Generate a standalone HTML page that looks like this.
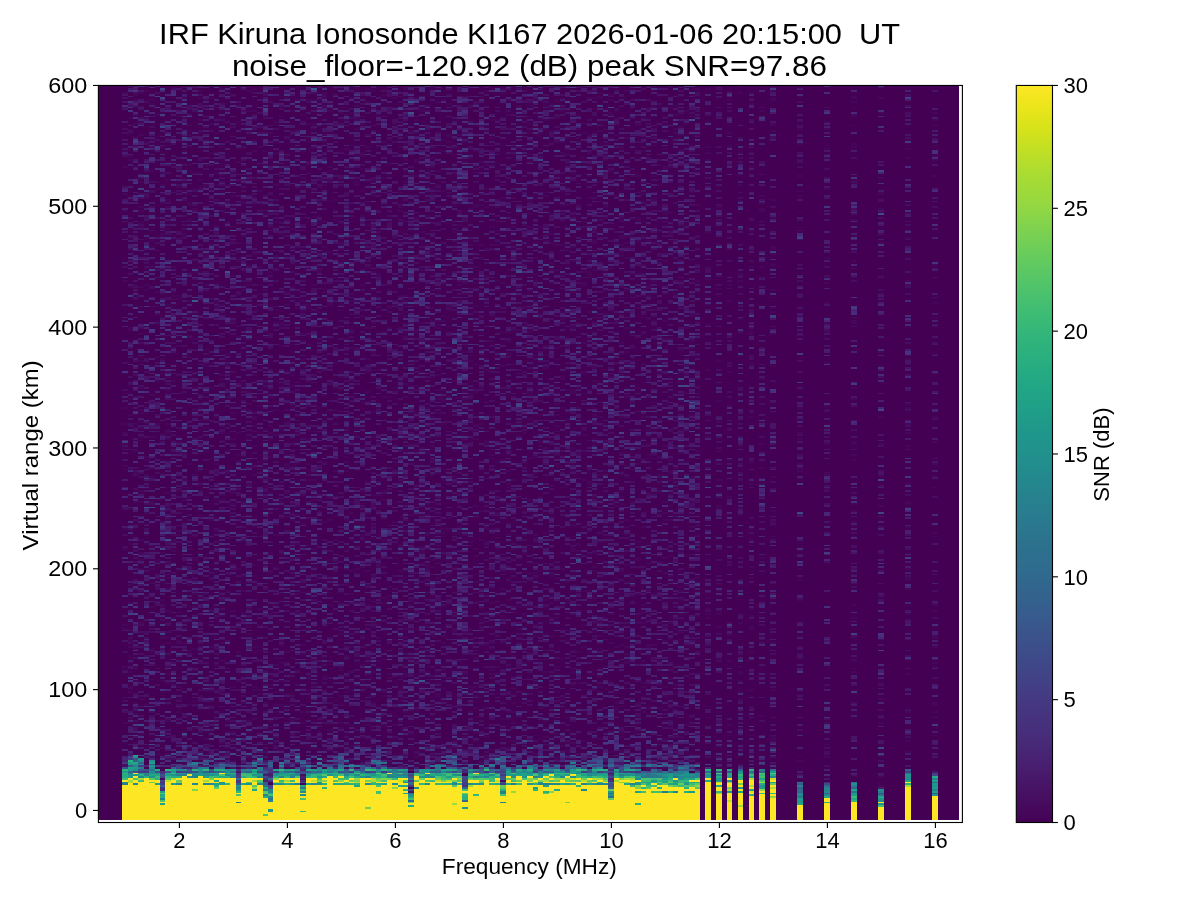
<!DOCTYPE html><html><head><meta charset="utf-8"><style>html,body{margin:0;padding:0;background:#fff;}svg{display:block;will-change:transform;}text{font-family:"Liberation Sans",sans-serif;fill:#000;}</style></head><body><svg width="1200" height="900" viewBox="0 0 1200 900"><defs><linearGradient id="cb" x1="0" y1="1" x2="0" y2="0"><stop offset="0" stop-color="#440154"/><stop offset="0.03" stop-color="#470d60"/><stop offset="0.06" stop-color="#48186a"/><stop offset="0.09" stop-color="#482374"/><stop offset="0.12" stop-color="#472d7b"/><stop offset="0.16" stop-color="#453781"/><stop offset="0.19" stop-color="#424086"/><stop offset="0.22" stop-color="#3e4989"/><stop offset="0.25" stop-color="#3b528b"/><stop offset="0.28" stop-color="#375b8d"/><stop offset="0.31" stop-color="#33638d"/><stop offset="0.34" stop-color="#2f6b8e"/><stop offset="0.38" stop-color="#2c728e"/><stop offset="0.41" stop-color="#297a8e"/><stop offset="0.44" stop-color="#26828e"/><stop offset="0.47" stop-color="#23898e"/><stop offset="0.5" stop-color="#21918c"/><stop offset="0.53" stop-color="#1f978b"/><stop offset="0.56" stop-color="#1f9f88"/><stop offset="0.59" stop-color="#21a685"/><stop offset="0.62" stop-color="#27ad81"/><stop offset="0.66" stop-color="#31b57b"/><stop offset="0.69" stop-color="#3dbc74"/><stop offset="0.72" stop-color="#4cc26c"/><stop offset="0.75" stop-color="#5cc863"/><stop offset="0.78" stop-color="#6ece58"/><stop offset="0.81" stop-color="#81d34d"/><stop offset="0.84" stop-color="#95d840"/><stop offset="0.88" stop-color="#aadc32"/><stop offset="0.91" stop-color="#c0df25"/><stop offset="0.94" stop-color="#d5e21a"/><stop offset="0.97" stop-color="#eae51a"/><stop offset="1" stop-color="#fde725"/></linearGradient></defs><defs><clipPath id="axc"><rect x="98.4" y="85.46" width="864" height="734.54"/></clipPath></defs><g clip-path="url(#axc)" shape-rendering="crispEdges"><rect x="97.4" y="85.46" width="861.8" height="734.34" fill="#440154"/><g transform="translate(100.6 84.82) scale(5.4 1.81)"><path fill="#46075a" d="M4 4h1v1h-1zm0 32h1v1h-1zm0 9h1v1h-1zm0 15h1v1h-1zm0 9h1v1h-1zm0 39h1v1h-1zm0 51h1v1h-1zm0 11h1v1h-1zm0 8h1v1h-1zm0 9h1v1h-1zm0 5h1v1h-1zm0 18h1v1h-1zm0 2h1v1h-1zm0 33h1v1h-1zm0 11h1v1h-1zm0 42h1v1h-1zm0 2h1v1h-1zm0 21h1v1h-1zm0 2h1v1h-1zm0 29h1v1h-1zm1 -334h1v1h-1zm0 8h1v1h-1zm0 13h1v1h-1zm0 2h1v1h-1zm0 22h1v1h-1zm0 21h1v1h-1zm0 27h1v1h-1zm0 23h1v2h-1zm0 39h1v1h-1zm0 2h1v1h-1zm0 7h1v1h-1zm0 52h1v1h-1zm0 19h1v1h-1zm0 23h1v1h-1zm0 10h1v1h-1zm0 20h1v2h-1zm0 4h1v1h-1zm0 5h1v1h-1zm0 4h1v1h-1zm0 5h1v1h-1zm0 8h1v1h-1zm0 3h1v1h-1zm0 15h1v1h-1zm1 -345h1v1h-1zm0 3h1v1h-1zm0 13h1v1h-1zm0 57h1v1h-1zm0 32h1v1h-1zm0 4h1v1h-1zm0 73h1v1h-1zm0 15h1v1h-1zm0 12h1v1h-1zm0 14h1v1h-1zm0 2h1v1h-1zm0 26h1v1h-1zm0 55h1v1h-1zm0 10h1v1h-1zm0 8h1v1h-1zm0 12h1v1h-1zm0 6h1v1h-1zm0 16h1v1h-1zm1 -359h1v1h-1zm0 7h1v1h-1zm0 9h1v1h-1zm0 7h1v1h-1zm0 26h1v1h-1zm0 14h1v1h-1zm0 2h1v1h-1zm0 7h1v1h-1zm0 2h1v1h-1zm0 33h1v1h-1zm0 26h1v1h-1zm0 15h1v1h-1zm0 15h1v1h-1zm0 12h1v1h-1zm0 2h1v1h-1zm0 4h1v2h-1zm0 4h1v1h-1zm0 5h1v1h-1zm0 2h1v1h-1zm0 28h1v1h-1zm0 6h1v1h-1zm0 21h1v1h-1zm0 7h1v1h-1zm0 4h1v1h-1zm0 5h1v1h-1zm0 3h1v1h-1zm0 27h1v1h-1zm0 42h1v1h-1zm0 15h1v1h-1zm0 4h1v2h-1zm1 -355h1v1h-1zm0 12h1v1h-1zm0 3h1v1h-1zm0 13h1v1h-1zm0 12h1v1h-1zm0 6h1v1h-1zm0 13h1v1h-1zm0 35h1v1h-1zm0 13h1v1h-1zm0 3h1v1h-1zm0 92h1v1h-1zm0 2h1v1h-1zm0 8h1v1h-1zm0 6h1v1h-1zm0 15h1v1h-1zm0 6h1v1h-1zm0 6h1v1h-1zm0 5h1v1h-1zm0 6h1v1h-1zm0 23h1v1h-1zm0 54h1v1h-1zm0 6h1v1h-1zm0 28h1v1h-1zm0 3h1v1h-1zm1 -365h1v1h-1zm0 2h1v1h-1zm0 15h1v1h-1zm0 5h1v1h-1zm0 17h1v1h-1zm0 39h1v1h-1zm0 3h1v1h-1zm0 11h1v1h-1zm0 55h1v1h-1zm0 16h1v1h-1zm0 4h1v1h-1zm0 10h1v1h-1zm0 9h1v1h-1zm0 7h1v1h-1zm0 15h1v1h-1zm0 14h1v1h-1zm0 24h1v1h-1zm0 13h1v1h-1zm0 21h1v1h-1zm0 23h1v1h-1zm0 2h1v1h-1zm0 15h1v1h-1zm0 37h1v1h-1zm1 -349h1v1h-1zm0 12h1v1h-1zm0 25h1v1h-1zm0 4h1v1h-1zm0 57h1v1h-1zm0 8h1v1h-1zm0 28h1v1h-1zm0 13h1v1h-1zm0 24h1v1h-1zm0 75h1v2h-1zm0 71h1v1h-1zm0 7h1v1h-1zm0 29h1v1h-1zm0 3h1v1h-1zm1 -338h1v1h-1zm0 14h1v1h-1zm0 7h1v1h-1zm0 5h1v1h-1zm0 5h1v1h-1zm0 14h1v1h-1zm0 3h1v2h-1zm0 5h1v1h-1zm0 15h1v1h-1zm0 13h1v1h-1zm0 13h1v1h-1zm0 23h1v1h-1zm0 8h1v1h-1zm0 79h1v1h-1zm0 20h1v1h-1zm0 6h1v1h-1zm0 8h1v1h-1zm0 12h1v1h-1zm0 4h1v1h-1zm0 17h1v1h-1zm0 4h1v1h-1zm0 20h1v1h-1zm0 31h1v1h-1zm0 6h1v1h-1zm0 17h1v1h-1zm1 -354h1v1h-1zm0 4h1v1h-1zm0 19h1v1h-1zm0 11h1v1h-1zm0 4h1v1h-1zm0 12h1v1h-1zm0 42h1v1h-1zm0 37h1v1h-1zm0 3h1v1h-1zm0 7h1v1h-1zm0 19h1v1h-1zm0 3h1v1h-1zm0 2h1v1h-1zm0 3h1v1h-1zm0 6h1v1h-1zm0 21h1v1h-1zm0 3h1v1h-1zm0 10h1v1h-1zm0 5h1v1h-1zm0 32h1v1h-1zm0 18h1v1h-1zm0 15h1v1h-1zm0 3h1v1h-1zm0 10h1v1h-1zm0 3h1v1h-1zm0 4h1v1h-1zm0 5h1v1h-1zm0 21h1v1h-1zm0 6h1v1h-1zm0 12h1v1h-1zm1 -368h1v1h-1zm0 28h1v1h-1zm0 25h1v1h-1zm0 46h1v1h-1zm0 14h1v1h-1zm0 2h1v1h-1zm0 2h1v1h-1zm0 4h1v1h-1zm0 13h1v1h-1zm0 3h1v1h-1zm0 25h1v1h-1zm0 85h1v1h-1zm0 3h1v2h-1zm0 6h1v1h-1zm0 37h1v1h-1zm1 -282h1v1h-1zm0 5h1v1h-1zm0 39h1v1h-1zm0 28h1v1h-1zm0 32h1v1h-1zm0 2h1v1h-1zm0 26h1v1h-1zm0 15h1v1h-1zm0 38h1v1h-1zm0 6h1v1h-1zm0 21h1v1h-1zm0 22h1v1h-1zm0 2h1v1h-1zm0 43h1v1h-1zm0 16h1v2h-1zm0 15h1v1h-1zm0 5h1v1h-1zm0 5h1v1h-1zm0 7h1v1h-1zm0 5h1v1h-1zm0 2h1v1h-1zm1 -339h1v1h-1zm0 11h1v1h-1zm0 10h1v1h-1zm0 8h1v1h-1zm0 22h1v1h-1zm0 2h1v1h-1zm0 22h1v2h-1zm0 47h1v1h-1zm0 9h1v1h-1zm0 17h1v1h-1zm0 9h1v1h-1zm0 14h1v1h-1zm0 2h1v1h-1zm0 21h1v1h-1zm0 2h1v1h-1zm0 15h1v1h-1zm0 4h1v1h-1zm0 7h1v1h-1zm0 10h1v1h-1zm0 35h1v1h-1zm0 34h1v1h-1zm0 25h1v1h-1zm0 5h1v1h-1zm1 -313h1v1h-1zm0 2h1v1h-1zm0 7h1v1h-1zm0 10h1v1h-1zm0 16h1v1h-1zm0 5h1v2h-1zm0 9h1v1h-1zm0 17h1v1h-1zm0 28h1v1h-1zm0 7h1v1h-1zm0 12h1v1h-1zm0 12h1v1h-1zm0 4h1v1h-1zm0 22h1v1h-1zm0 9h1v1h-1zm0 24h1v1h-1zm0 13h1v1h-1zm0 5h1v1h-1zm0 29h1v1h-1zm0 20h1v1h-1zm0 18h1v1h-1zm0 7h1v1h-1zm0 20h1v1h-1zm0 6h1v1h-1zm0 15h1v1h-1zm0 6h1v1h-1zm0 2h1v1h-1zm0 16h1v1h-1zm1 -318h1v1h-1zm0 9h1v1h-1zm0 11h1v1h-1zm0 29h1v1h-1zm0 6h1v1h-1zm0 37h1v1h-1zm0 18h1v1h-1zm0 9h1v1h-1zm0 12h1v1h-1zm0 23h1v1h-1zm0 13h1v1h-1zm0 34h1v1h-1zm0 12h1v2h-1zm0 12h1v1h-1zm0 8h1v1h-1zm0 7h1v1h-1zm0 8h1v1h-1zm0 15h1v1h-1zm0 5h1v1h-1zm0 24h1v1h-1zm0 3h1v1h-1zm0 6h1v1h-1zm0 6h1v1h-1zm1 -352h1v1h-1zm0 4h1v1h-1zm0 12h1v1h-1zm0 7h1v1h-1zm0 22h1v1h-1zm0 4h1v1h-1zm0 4h1v2h-1zm0 22h1v1h-1zm0 7h1v1h-1zm0 15h1v2h-1zm0 3h1v1h-1zm0 34h1v1h-1zm0 22h1v1h-1zm0 3h1v1h-1zm0 11h1v1h-1zm0 5h1v1h-1zm0 12h1v1h-1zm0 43h1v1h-1zm0 4h1v1h-1zm0 31h1v1h-1zm0 37h1v1h-1zm0 32h1v1h-1zm0 38h1v1h-1zm1 -367h1v1h-1zm0 22h1v1h-1zm0 14h1v1h-1zm0 11h1v2h-1zm0 14h1v1h-1zm0 24h1v2h-1zm0 8h1v1h-1zm0 9h1v1h-1zm0 19h1v1h-1zm0 17h1v1h-1zm0 9h1v1h-1zm0 34h1v1h-1zm0 12h1v2h-1zm0 11h1v1h-1zm0 15h1v1h-1zm0 35h1v1h-1zm0 2h1v1h-1zm0 17h1v1h-1zm0 47h1v1h-1zm0 33h1v1h-1zm0 10h1v1h-1zm1 -371h1v1h-1zm0 7h1v1h-1zm0 14h1v1h-1zm0 16h1v1h-1zm0 3h1v1h-1zm0 72h1v1h-1zm0 41h1v1h-1zm0 14h1v1h-1zm0 13h1v1h-1zm0 6h1v1h-1zm0 20h1v1h-1zm0 32h1v1h-1zm0 2h1v1h-1zm0 27h1v1h-1zm0 6h1v1h-1zm0 37h1v1h-1zm0 22h1v1h-1zm0 6h1v1h-1zm0 37h1v1h-1zm1 -349h1v1h-1zm0 22h1v1h-1zm0 7h1v1h-1zm0 34h1v3h-1zm0 5h1v1h-1zm0 25h1v2h-1zm0 9h1v1h-1zm0 55h1v1h-1zm0 26h1v1h-1zm0 20h1v1h-1zm0 17h1v1h-1zm0 48h1v1h-1zm0 26h1v1h-1zm0 14h1v1h-1zm0 16h1v1h-1zm0 23h1v1h-1zm1 -371h1v1h-1zm0 32h1v1h-1zm0 4h1v1h-1zm0 5h1v1h-1zm0 30h1v1h-1zm0 26h1v1h-1zm0 22h1v1h-1zm0 17h1v1h-1zm0 8h1v1h-1zm0 14h1v1h-1zm0 2h1v1h-1zm0 18h1v1h-1zm0 12h1v1h-1zm0 4h1v1h-1zm0 17h1v1h-1zm0 13h1v1h-1zm0 3h1v1h-1zm0 11h1v1h-1zm0 40h1v1h-1zm0 13h1v1h-1zm0 15h1v1h-1zm0 9h1v2h-1zm0 18h1v1h-1zm0 28h1v1h-1zm0 6h1v2h-1zm1 -355h1v1h-1zm0 41h1v1h-1zm0 93h1v1h-1zm0 13h1v1h-1zm0 3h1v1h-1zm0 38h1v1h-1zm0 10h1v1h-1zm0 2h1v1h-1zm0 3h1v1h-1zm0 62h1v1h-1zm0 70h1v1h-1zm0 2h1v1h-1zm0 6h1v1h-1zm0 9h1v1h-1zm0 6h1v1h-1zm1 -366h1v1h-1zm0 24h1v1h-1zm0 18h1v1h-1zm0 13h1v1h-1zm0 25h1v1h-1zm0 19h1v1h-1zm0 5h1v1h-1zm0 20h1v1h-1zm0 24h1v1h-1zm0 27h1v1h-1zm0 14h1v1h-1zm0 27h1v1h-1zm0 2h1v2h-1zm0 7h1v1h-1zm0 39h1v1h-1zm0 20h1v1h-1zm0 42h1v1h-1zm0 25h1v1h-1zm0 16h1v1h-1zm1 -353h1v1h-1zm0 22h1v1h-1zm0 23h1v1h-1zm0 22h1v1h-1zm0 4h1v1h-1zm0 6h1v1h-1zm0 25h1v1h-1zm0 17h1v1h-1zm0 53h1v1h-1zm0 12h1v1h-1zm0 48h1v1h-1zm0 15h1v1h-1zm0 8h1v1h-1zm0 38h1v1h-1zm0 33h1v1h-1zm0 22h1v1h-1zm1 -303h1v1h-1zm0 18h1v1h-1zm0 30h1v1h-1zm0 26h1v1h-1zm0 15h1v1h-1zm0 11h1v1h-1zm0 11h1v1h-1zm0 54h1v1h-1zm0 41h1v1h-1zm0 8h1v1h-1zm0 12h1v2h-1zm0 5h1v1h-1zm0 5h1v1h-1zm0 40h1v1h-1zm0 11h1v1h-1zm0 7h1v1h-1zm1 -358h1v1h-1zm0 2h1v1h-1zm0 9h1v1h-1zm0 2h1v1h-1zm0 11h1v1h-1zm0 27h1v1h-1zm0 30h1v1h-1zm0 28h1v1h-1zm0 19h1v1h-1zm0 28h1v1h-1zm0 12h1v1h-1zm0 7h1v1h-1zm0 3h1v1h-1zm0 16h1v1h-1zm0 25h1v1h-1zm0 11h1v1h-1zm0 6h1v1h-1zm0 49h1v1h-1zm0 3h1v1h-1zm0 10h1v1h-1zm0 4h1v1h-1zm0 40h1v1h-1zm0 8h1v1h-1zm0 8h1v1h-1zm0 12h1v1h-1zm1 -369h1v1h-1zm0 12h1v1h-1zm0 5h1v1h-1zm0 17h1v1h-1zm0 57h1v1h-1zm0 8h1v1h-1zm0 53h1v1h-1zm0 6h1v1h-1zm0 23h1v2h-1zm0 5h1v1h-1zm0 11h1v1h-1zm0 16h1v1h-1zm0 50h1v1h-1zm0 6h1v1h-1zm0 30h1v1h-1zm0 9h1v1h-1zm0 3h1v1h-1zm0 19h1v1h-1zm0 2h1v1h-1zm0 7h1v1h-1zm0 8h1v2h-1zm1 -315h1v1h-1zm0 24h1v1h-1zm0 17h1v1h-1zm0 25h1v1h-1zm0 10h1v1h-1zm0 5h1v1h-1zm0 62h1v1h-1zm0 31h1v1h-1zm0 81h1v1h-1zm0 9h1v1h-1zm0 12h1v1h-1zm0 2h1v1h-1zm0 22h1v1h-1zm0 2h1v1h-1zm1 -300h1v1h-1zm0 5h1v1h-1zm0 3h1v1h-1zm0 25h1v1h-1zm0 2h1v1h-1zm0 42h1v1h-1zm0 23h1v1h-1zm0 3h1v1h-1zm0 5h1v1h-1zm0 20h1v1h-1zm0 6h1v1h-1zm0 20h1v1h-1zm0 21h1v1h-1zm0 3h1v1h-1zm0 7h1v1h-1zm0 6h1v1h-1zm0 5h1v1h-1zm0 19h1v1h-1zm0 11h1v1h-1zm0 3h1v1h-1zm0 72h1v1h-1zm0 4h1v1h-1zm1 -315h1v1h-1zm0 52h1v1h-1zm0 25h1v1h-1zm0 62h1v1h-1zm0 7h1v1h-1zm0 16h1v1h-1zm0 4h1v1h-1zm0 3h1v1h-1zm0 7h1v1h-1zm0 3h1v1h-1zm0 20h1v1h-1zm0 20h1v2h-1zm0 13h1v1h-1zm0 10h1v2h-1zm0 24h1v1h-1zm0 30h1v1h-1zm0 9h1v1h-1zm0 20h1v1h-1zm0 5h1v1h-1zm1 -354h1v1h-1zm0 18h1v1h-1zm0 2h1v1h-1zm0 9h1v1h-1zm0 6h1v1h-1zm0 6h1v1h-1zm0 12h1v1h-1zm0 39h1v1h-1zm0 30h1v1h-1zm0 7h1v1h-1zm0 32h1v1h-1zm0 12h1v1h-1zm0 4h1v1h-1zm0 14h1v1h-1zm0 55h1v1h-1zm0 18h1v1h-1zm0 14h1v1h-1zm0 36h1v1h-1zm0 4h1v1h-1zm0 3h1v1h-1zm0 12h1v1h-1zm0 7h1v1h-1zm0 4h1v1h-1zm0 17h1v1h-1zm0 4h1v1h-1zm1 -361h1v1h-1zm0 11h1v1h-1zm0 65h1v1h-1zm0 31h1v1h-1zm0 18h1v2h-1zm0 13h1v1h-1zm0 22h1v1h-1zm0 2h1v1h-1zm0 2h1v1h-1zm0 19h1v2h-1zm0 28h1v1h-1zm0 13h1v1h-1zm0 9h1v1h-1zm0 9h1v1h-1zm0 29h1v1h-1zm0 14h1v1h-1zm0 16h1v1h-1zm0 2h1v1h-1zm0 7h1v1h-1zm0 3h1v1h-1zm0 10h1v1h-1zm0 4h1v1h-1zm0 2h1v1h-1zm0 4h1v1h-1zm0 3h1v2h-1zm0 25h1v1h-1zm1 -360h1v1h-1zm0 32h1v1h-1zm0 15h1v1h-1zm0 20h1v1h-1zm0 40h1v1h-1zm0 7h1v1h-1zm0 43h1v1h-1zm0 15h1v1h-1zm0 7h1v1h-1zm0 18h1v1h-1zm0 5h1v3h-1zm0 16h1v1h-1zm0 10h1v1h-1zm0 38h1v1h-1zm0 40h1v1h-1zm0 23h1v1h-1zm0 14h1v1h-1zm1 -336h1v1h-1zm0 11h1v1h-1zm0 2h1v1h-1zm0 36h1v1h-1zm0 16h1v1h-1zm0 11h1v1h-1zm0 21h1v1h-1zm0 20h1v1h-1zm0 8h1v1h-1zm0 4h1v1h-1zm0 4h1v1h-1zm0 11h1v1h-1zm0 2h1v1h-1zm0 6h1v1h-1zm0 12h1v1h-1zm0 23h1v1h-1zm0 30h1v1h-1zm0 5h1v1h-1zm0 4h1v1h-1zm0 13h1v1h-1zm0 2h1v1h-1zm0 27h1v1h-1zm0 34h1v1h-1zm0 34h1v2h-1zm0 9h1v1h-1zm1 -351h1v1h-1zm0 46h1v1h-1zm0 35h1v1h-1zm0 34h1v1h-1zm0 19h1v1h-1zm0 45h1v1h-1zm0 5h1v1h-1zm0 9h1v1h-1zm0 36h1v1h-1zm0 16h1v1h-1zm0 23h1v1h-1zm0 5h1v1h-1zm0 42h1v1h-1zm0 31h1v1h-1zm0 21h1v1h-1zm1 -364h1v1h-1zm0 5h1v1h-1zm0 20h1v1h-1zm0 15h1v1h-1zm0 22h1v1h-1zm0 19h1v1h-1zm0 12h1v1h-1zm0 8h1v1h-1zm0 7h1v1h-1zm0 2h1v1h-1zm0 16h1v1h-1zm0 4h1v1h-1zm0 10h1v1h-1zm0 75h1v1h-1zm0 16h1v1h-1zm0 13h1v1h-1zm0 54h1v1h-1zm0 5h1v1h-1zm0 14h1v1h-1zm0 5h1v1h-1zm0 13h1v1h-1zm0 6h1v1h-1zm0 10h1v1h-1zm0 2h1v1h-1zm1 -356h1v1h-1zm0 10h1v1h-1zm0 3h1v1h-1zm0 10h1v1h-1zm0 4h1v1h-1zm0 9h1v1h-1zm0 4h1v2h-1zm0 27h1v1h-1zm0 13h1v1h-1zm0 9h1v1h-1zm0 24h1v1h-1zm0 2h1v1h-1zm0 20h1v1h-1zm0 15h1v1h-1zm0 19h1v1h-1zm0 13h1v1h-1zm0 5h1v1h-1zm0 14h1v1h-1zm0 3h1v1h-1zm0 6h1v1h-1zm0 36h1v1h-1zm0 63h1v1h-1zm0 17h1v1h-1zm0 4h1v1h-1zm1 -330h1v1h-1zm0 13h1v1h-1zm0 3h1v1h-1zm0 34h1v1h-1zm0 37h1v2h-1zm0 15h1v1h-1zm0 44h1v1h-1zm0 7h1v1h-1zm0 9h1v1h-1zm0 21h1v1h-1zm0 27h1v1h-1zm0 11h1v1h-1zm0 27h1v1h-1zm0 10h1v1h-1zm0 7h1v1h-1zm0 21h1v1h-1zm0 2h1v1h-1zm0 6h1v1h-1zm0 15h1v1h-1zm0 49h1v1h-1zm1 -366h1v1h-1zm0 8h1v1h-1zm0 25h1v1h-1zm0 18h1v1h-1zm0 5h1v1h-1zm0 20h1v1h-1zm0 26h1v2h-1zm0 23h1v1h-1zm0 28h1v1h-1zm0 22h1v1h-1zm0 3h1v1h-1zm0 57h1v1h-1zm0 14h1v1h-1zm0 38h1v1h-1zm0 18h1v1h-1zm0 33h1v1h-1zm0 11h1v1h-1zm0 8h1v1h-1zm0 16h1v1h-1zm1 -372h1v1h-1zm0 3h1v2h-1zm0 3h1v1h-1zm0 8h1v1h-1zm0 12h1v1h-1zm0 4h1v1h-1zm0 21h1v1h-1zm0 3h1v1h-1zm0 6h1v1h-1zm0 28h1v1h-1zm0 3h1v1h-1zm0 20h1v1h-1zm0 2h1v1h-1zm0 11h1v1h-1zm0 46h1v1h-1zm0 9h1v1h-1zm0 14h1v1h-1zm0 6h1v1h-1zm0 8h1v1h-1zm0 33h1v1h-1zm0 25h1v1h-1zm0 9h1v1h-1zm0 51h1v2h-1zm0 8h1v1h-1zm0 16h1v1h-1zm0 17h1v1h-1zm1 -367h1v1h-1zm0 10h1v1h-1zm0 4h1v1h-1zm0 21h1v1h-1zm0 10h1v1h-1zm0 2h1v1h-1zm0 5h1v1h-1zm0 12h1v1h-1zm0 28h1v1h-1zm0 28h1v3h-1zm0 44h1v1h-1zm0 76h1v1h-1zm0 22h1v1h-1zm0 18h1v1h-1zm0 7h1v1h-1zm0 69h1v1h-1zm0 18h1v1h-1zm1 -372h1v1h-1zm0 61h1v1h-1zm0 11h1v1h-1zm0 32h1v1h-1zm0 22h1v1h-1zm0 25h1v1h-1zm0 14h1v1h-1zm0 12h1v1h-1zm0 34h1v1h-1zm0 18h1v1h-1zm0 3h1v1h-1zm0 4h1v1h-1zm0 13h1v1h-1zm0 12h1v1h-1zm0 28h1v1h-1zm0 49h1v1h-1zm0 3h1v1h-1zm0 3h1v1h-1zm0 20h1v1h-1zm1 -354h1v1h-1zm0 3h1v1h-1zm0 61h1v1h-1zm0 6h1v1h-1zm0 5h1v2h-1zm0 3h1v1h-1zm0 3h1v1h-1zm0 3h1v1h-1zm0 25h1v1h-1zm0 3h1v1h-1zm0 34h1v1h-1zm0 3h1v1h-1zm0 109h1v1h-1zm0 10h1v1h-1zm0 6h1v1h-1zm0 17h1v1h-1zm0 18h1v1h-1zm0 2h1v1h-1zm0 14h1v1h-1zm0 5h1v1h-1zm0 10h1v1h-1zm0 3h1v1h-1zm1 -343h1v1h-1zm0 4h1v1h-1zm0 3h1v1h-1zm0 16h1v1h-1zm0 24h1v1h-1zm0 63h1v1h-1zm0 11h1v1h-1zm0 7h1v1h-1zm0 24h1v1h-1zm0 28h1v1h-1zm0 9h1v1h-1zm0 4h1v1h-1zm0 3h1v1h-1zm0 5h1v1h-1zm0 15h1v1h-1zm0 12h1v1h-1zm0 36h1v1h-1zm0 19h1v1h-1zm0 8h1v1h-1zm0 12h1v1h-1zm0 2h1v1h-1zm0 18h1v1h-1zm1 -335h1v1h-1zm0 7h1v1h-1zm0 8h1v1h-1zm0 18h1v1h-1zm0 42h1v1h-1zm0 40h1v1h-1zm0 4h1v1h-1zm0 2h1v1h-1zm0 5h1v1h-1zm0 5h1v1h-1zm0 2h1v1h-1zm0 2h1v1h-1zm0 10h1v1h-1zm0 18h1v1h-1zm0 3h1v1h-1zm0 9h1v1h-1zm0 22h1v1h-1zm0 33h1v1h-1zm0 6h1v1h-1zm0 15h1v1h-1zm0 17h1v1h-1zm0 13h1v1h-1zm0 29h1v1h-1zm0 24h1v1h-1zm0 3h1v1h-1zm0 16h1v1h-1zm0 12h1v1h-1zm0 8h1v1h-1zm1 -367h1v1h-1zm0 5h1v1h-1zm0 7h1v2h-1zm0 6h1v1h-1zm0 15h1v1h-1zm0 14h1v1h-1zm0 2h1v1h-1zm0 64h1v1h-1zm0 26h1v1h-1zm0 104h1v1h-1zm0 18h1v1h-1zm0 2h1v1h-1zm0 24h1v1h-1zm0 20h1v1h-1zm0 14h1v1h-1zm0 27h1v1h-1zm0 14h1v1h-1zm0 9h1v1h-1zm1 -356h1v1h-1zm0 16h1v1h-1zm0 2h1v1h-1zm0 7h1v1h-1zm0 3h1v1h-1zm0 9h1v1h-1zm0 3h1v1h-1zm0 11h1v1h-1zm0 14h1v1h-1zm0 24h1v1h-1zm0 17h1v1h-1zm0 48h1v1h-1zm0 25h1v1h-1zm0 24h1v1h-1zm0 9h1v1h-1zm0 15h1v1h-1zm0 3h1v1h-1zm0 15h1v1h-1zm0 38h1v1h-1zm0 16h1v1h-1zm0 9h1v1h-1zm0 21h1v1h-1zm1 -348h1v1h-1zm0 7h1v1h-1zm0 25h1v1h-1zm0 43h1v1h-1zm0 17h1v1h-1zm0 6h1v1h-1zm0 34h1v1h-1zm0 11h1v1h-1zm0 6h1v1h-1zm0 3h1v1h-1zm0 4h1v1h-1zm0 6h1v1h-1zm0 5h1v1h-1zm0 50h1v1h-1zm0 39h1v1h-1zm0 10h1v1h-1zm0 8h1v1h-1zm0 8h1v1h-1zm0 3h1v1h-1zm0 29h1v1h-1zm0 16h1v1h-1zm0 21h1v1h-1zm0 6h1v1h-1zm0 2h1v1h-1zm1 -358h1v1h-1zm0 24h1v1h-1zm0 25h1v2h-1zm0 8h1v2h-1zm0 43h1v1h-1zm0 10h1v1h-1zm0 18h1v1h-1zm0 3h1v1h-1zm0 13h1v2h-1zm0 10h1v1h-1zm0 4h1v1h-1zm0 19h1v1h-1zm0 14h1v1h-1zm0 32h1v1h-1zm0 6h1v1h-1zm0 13h1v1h-1zm0 26h1v1h-1zm0 26h1v1h-1zm0 2h1v1h-1zm0 4h1v1h-1zm0 10h1v1h-1zm0 11h1v1h-1zm0 17h1v1h-1zm0 5h1v2h-1zm1 -335h1v1h-1zm0 5h1v1h-1zm0 18h1v1h-1zm0 11h1v1h-1zm0 59h1v2h-1zm0 19h1v1h-1zm0 31h1v1h-1zm0 3h1v1h-1zm0 9h1v1h-1zm0 12h1v1h-1zm0 4h1v1h-1zm0 13h1v1h-1zm0 2h1v1h-1zm0 20h1v1h-1zm0 9h1v1h-1zm0 7h1v1h-1zm0 33h1v1h-1zm0 32h1v1h-1zm0 7h1v1h-1zm0 13h1v1h-1zm0 8h1v1h-1zm0 2h1v1h-1zm1 -323h1v1h-1zm0 4h1v1h-1zm0 22h1v1h-1zm0 12h1v1h-1zm0 8h1v1h-1zm0 85h1v1h-1zm0 24h1v1h-1zm0 12h1v1h-1zm0 24h1v1h-1zm0 4h1v1h-1zm0 12h1v1h-1zm0 12h1v1h-1zm0 5h1v1h-1zm0 22h1v1h-1zm0 13h1v1h-1zm0 19h1v1h-1zm0 3h1v1h-1zm0 31h1v1h-1zm0 18h1v1h-1zm0 2h1v1h-1zm0 16h1v1h-1zm1 -323h1v1h-1zm0 2h1v1h-1zm0 17h1v1h-1zm0 8h1v1h-1zm0 13h1v1h-1zm0 40h1v1h-1zm0 3h1v1h-1zm0 10h1v1h-1zm0 11h1v1h-1zm0 36h1v1h-1zm0 2h1v1h-1zm0 60h1v1h-1zm0 45h1v1h-1zm0 5h1v1h-1zm0 2h1v1h-1zm0 41h1v1h-1zm0 2h1v1h-1zm0 20h1v1h-1zm0 12h1v1h-1zm0 8h1v1h-1zm0 7h1v1h-1zm0 2h1v1h-1zm1 -369h1v1h-1zm0 5h1v1h-1zm0 9h1v1h-1zm0 63h1v1h-1zm0 37h1v1h-1zm0 43h1v1h-1zm0 3h1v1h-1zm0 25h1v1h-1zm0 16h1v1h-1zm0 33h1v1h-1zm0 20h1v1h-1zm0 40h1v1h-1zm0 5h1v1h-1zm0 16h1v1h-1zm0 16h1v1h-1zm0 10h1v1h-1zm0 5h1v1h-1zm0 22h1v1h-1zm1 -341h1v1h-1zm0 25h1v1h-1zm0 8h1v1h-1zm0 2h1v1h-1zm0 12h1v1h-1zm0 10h1v1h-1zm0 5h1v1h-1zm0 20h1v1h-1zm0 10h1v1h-1zm0 8h1v1h-1zm0 29h1v1h-1zm0 38h1v1h-1zm0 32h1v1h-1zm0 5h1v1h-1zm0 16h1v1h-1zm0 14h1v1h-1zm0 58h1v1h-1zm0 8h1v1h-1zm0 6h1v1h-1zm1 -338h1v1h-1zm0 26h1v1h-1zm0 4h1v1h-1zm0 8h1v2h-1zm0 7h1v1h-1zm0 6h1v1h-1zm0 9h1v1h-1zm0 9h1v1h-1zm0 9h1v1h-1zm0 13h1v1h-1zm0 23h1v1h-1zm0 3h1v1h-1zm0 6h1v1h-1zm0 2h1v1h-1zm0 12h1v1h-1zm0 26h1v1h-1zm0 7h1v1h-1zm0 21h1v1h-1zm0 19h1v1h-1zm0 3h1v1h-1zm0 21h1v1h-1zm0 22h1v1h-1zm0 10h1v1h-1zm0 32h1v1h-1zm0 5h1v1h-1zm0 12h1v1h-1zm0 3h1v1h-1zm0 5h1v2h-1zm0 21h1v1h-1zm0 3h1v1h-1zm1 -345h1v1h-1zm0 21h1v1h-1zm0 8h1v1h-1zm0 41h1v1h-1zm0 9h1v1h-1zm0 7h1v1h-1zm0 4h1v1h-1zm0 24h1v1h-1zm0 48h1v1h-1zm0 2h1v1h-1zm0 13h1v1h-1zm0 17h1v1h-1zm0 8h1v1h-1zm0 31h1v1h-1zm0 47h1v1h-1zm0 3h1v1h-1zm0 13h1v1h-1zm0 21h1v1h-1zm0 37h1v1h-1zm0 8h1v1h-1zm0 9h1v1h-1zm1 -368h1v1h-1zm0 12h1v1h-1zm0 7h1v1h-1zm0 15h1v2h-1zm0 9h1v1h-1zm0 12h1v1h-1zm0 11h1v1h-1zm0 5h1v1h-1zm0 31h1v1h-1zm0 26h1v2h-1zm0 31h1v1h-1zm0 15h1v1h-1zm0 2h1v1h-1zm0 15h1v1h-1zm0 29h1v1h-1zm0 4h1v1h-1zm0 10h1v1h-1zm0 14h1v1h-1zm0 4h1v1h-1zm0 13h1v1h-1zm0 36h1v1h-1zm0 10h1v1h-1zm0 27h1v1h-1zm0 24h1v1h-1zm0 2h1v1h-1zm1 -358h1v2h-1zm0 15h1v1h-1zm0 23h1v1h-1zm0 9h1v1h-1zm0 17h1v1h-1zm0 4h1v1h-1zm0 21h1v1h-1zm0 4h1v1h-1zm0 25h1v1h-1zm0 27h1v1h-1zm0 42h1v1h-1zm0 20h1v1h-1zm0 2h1v1h-1zm0 23h1v1h-1zm0 10h1v1h-1zm0 2h1v2h-1zm0 7h1v1h-1zm0 39h1v1h-1zm0 9h1v1h-1zm0 20h1v1h-1zm0 32h1v1h-1zm0 3h1v1h-1zm1 -351h1v1h-1zm0 12h1v1h-1zm0 12h1v1h-1zm0 5h1v1h-1zm0 19h1v1h-1zm0 8h1v1h-1zm0 69h1v1h-1zm0 37h1v1h-1zm0 24h1v2h-1zm0 29h1v1h-1zm0 6h1v1h-1zm0 11h1v1h-1zm0 8h1v1h-1zm0 9h1v3h-1zm0 59h1v1h-1zm0 2h1v1h-1zm0 33h1v1h-1zm0 6h1v1h-1zm1 -335h1v1h-1zm0 10h1v1h-1zm0 5h1v1h-1zm0 12h1v1h-1zm0 3h1v1h-1zm0 33h1v1h-1zm0 13h1v1h-1zm0 7h1v1h-1zm0 4h1v1h-1zm0 6h1v1h-1zm0 7h1v1h-1zm0 31h1v1h-1zm0 22h1v1h-1zm0 11h1v1h-1zm0 5h1v1h-1zm0 2h1v1h-1zm0 6h1v1h-1zm0 8h1v1h-1zm0 24h1v1h-1zm0 23h1v1h-1zm0 4h1v1h-1zm0 21h1v1h-1zm0 2h1v1h-1zm0 15h1v1h-1zm0 34h1v1h-1zm0 13h1v1h-1zm0 3h1v1h-1zm0 16h1v1h-1zm0 7h1v1h-1zm1 -368h1v1h-1zm0 38h1v1h-1zm0 8h1v1h-1zm0 53h1v1h-1zm0 5h1v1h-1zm0 2h1v1h-1zm0 4h1v1h-1zm0 11h1v1h-1zm0 2h1v1h-1zm0 2h1v1h-1zm0 23h1v1h-1zm0 3h1v1h-1zm0 8h1v1h-1zm0 5h1v1h-1zm0 8h1v1h-1zm0 13h1v1h-1zm0 20h1v1h-1zm0 11h1v1h-1zm0 16h1v1h-1zm0 18h1v1h-1zm0 13h1v1h-1zm0 16h1v1h-1zm0 32h1v1h-1zm0 4h1v1h-1zm0 6h1v1h-1zm0 6h1v2h-1zm1 -328h1v1h-1zm0 22h1v1h-1zm0 6h1v1h-1zm0 22h1v1h-1zm0 16h1v1h-1zm0 20h1v1h-1zm0 2h1v1h-1zm0 11h1v1h-1zm0 20h1v1h-1zm0 3h1v1h-1zm0 38h1v1h-1zm0 5h1v2h-1zm0 14h1v1h-1zm0 25h1v1h-1zm0 5h1v2h-1zm0 5h1v1h-1zm0 23h1v1h-1zm0 2h1v1h-1zm0 2h1v1h-1zm0 55h1v1h-1zm0 4h1v1h-1zm0 15h1v1h-1zm0 6h1v1h-1zm0 4h1v1h-1zm1 -323h1v1h-1zm0 17h1v2h-1zm0 4h1v1h-1zm0 74h1v1h-1zm0 19h1v1h-1zm0 4h1v1h-1zm0 5h1v1h-1zm0 3h1v1h-1zm0 15h1v1h-1zm0 21h1v1h-1zm0 67h1v1h-1zm0 6h1v1h-1zm0 17h1v1h-1zm0 7h1v1h-1zm0 2h1v1h-1zm0 67h1v1h-1zm0 28h1v1h-1zm1 -328h1v1h-1zm0 5h1v1h-1zm0 2h1v1h-1zm0 36h1v1h-1zm0 52h1v1h-1zm0 21h1v1h-1zm0 9h1v1h-1zm0 32h1v1h-1zm0 7h1v1h-1zm0 4h1v1h-1zm0 10h1v1h-1zm0 34h1v1h-1zm0 7h1v1h-1zm0 4h1v1h-1zm0 15h1v1h-1zm0 21h1v1h-1zm0 3h1v1h-1zm0 2h1v1h-1zm0 10h1v1h-1zm0 5h1v1h-1zm0 45h1v1h-1zm0 4h1v1h-1zm1 -339h1v1h-1zm0 10h1v1h-1zm0 40h1v1h-1zm0 13h1v1h-1zm0 20h1v1h-1zm0 26h1v1h-1zm0 19h1v1h-1zm0 25h1v1h-1zm0 52h1v1h-1zm0 12h1v1h-1zm0 3h1v1h-1zm0 5h1v1h-1zm0 28h1v1h-1zm0 11h1v1h-1zm0 13h1v1h-1zm0 14h1v1h-1zm0 15h1v1h-1zm0 5h1v1h-1zm0 26h1v1h-1zm0 2h1v1h-1zm0 5h1v1h-1zm0 3h1v1h-1zm0 2h1v1h-1zm1 -370h1v1h-1zm0 25h1v1h-1zm0 11h1v1h-1zm0 15h1v1h-1zm0 21h1v1h-1zm0 8h1v1h-1zm0 23h1v1h-1zm0 6h1v1h-1zm0 32h1v1h-1zm0 22h1v1h-1zm0 4h1v1h-1zm0 30h1v1h-1zm0 19h1v1h-1zm0 5h1v1h-1zm0 11h1v1h-1zm0 10h1v1h-1zm0 54h1v1h-1zm0 23h1v1h-1zm0 30h1v1h-1zm0 5h1v1h-1zm0 4h1v1h-1zm0 16h1v1h-1zm1 -342h1v1h-1zm0 2h1v1h-1zm0 28h1v1h-1zm0 20h1v1h-1zm0 12h1v1h-1zm0 13h1v1h-1zm0 2h1v1h-1zm0 34h1v1h-1zm0 3h1v1h-1zm0 18h1v2h-1zm0 3h1v1h-1zm0 12h1v1h-1zm0 12h1v1h-1zm0 22h1v1h-1zm0 3h1v1h-1zm0 30h1v1h-1zm0 20h1v1h-1zm0 4h1v1h-1zm0 24h1v2h-1zm0 22h1v1h-1zm0 10h1v1h-1zm0 2h1v1h-1zm0 7h1v1h-1zm0 5h1v1h-1zm0 5h1v1h-1zm0 14h1v1h-1zm1 -329h1v1h-1zm0 12h1v1h-1zm0 18h1v2h-1zm0 34h1v1h-1zm0 9h1v1h-1zm0 13h1v1h-1zm0 10h1v1h-1zm0 22h1v1h-1zm0 15h1v1h-1zm0 19h1v1h-1zm0 7h1v1h-1zm0 37h1v1h-1zm0 24h1v1h-1zm0 4h1v1h-1zm0 4h1v1h-1zm0 6h1v1h-1zm0 4h1v1h-1zm0 42h1v2h-1zm0 16h1v1h-1zm0 5h1v1h-1zm0 7h1v1h-1zm0 5h1v1h-1zm0 8h1v1h-1zm0 5h1v1h-1zm1 -348h1v1h-1zm0 28h1v1h-1zm0 24h1v1h-1zm0 22h1v1h-1zm0 7h1v2h-1zm0 72h1v1h-1zm0 20h1v1h-1zm0 35h1v1h-1zm0 8h1v1h-1zm0 5h1v1h-1zm0 16h1v1h-1zm0 44h1v1h-1zm0 5h1v1h-1zm0 7h1v1h-1zm0 2h1v1h-1zm0 29h1v1h-1zm0 35h1v1h-1zm1 -370h1v1h-1zm0 8h1v1h-1zm0 14h1v1h-1zm0 19h1v1h-1zm0 13h1v1h-1zm0 10h1v1h-1zm0 23h1v1h-1zm0 15h1v2h-1zm0 14h1v1h-1zm0 32h1v1h-1zm0 6h1v1h-1zm0 39h1v3h-1zm0 46h1v1h-1zm0 2h1v2h-1zm0 8h1v1h-1zm0 15h1v1h-1zm0 42h1v1h-1zm0 51h1v1h-1zm0 11h1v1h-1zm1 -352h1v1h-1zm0 10h1v1h-1zm0 15h1v1h-1zm0 14h1v1h-1zm0 20h1v1h-1zm0 2h1v1h-1zm0 8h1v1h-1zm0 3h1v1h-1zm0 36h1v1h-1zm0 14h1v1h-1zm0 25h1v1h-1zm0 38h1v1h-1zm0 2h1v1h-1zm0 5h1v1h-1zm0 2h1v1h-1zm0 11h1v1h-1zm0 11h1v1h-1zm0 10h1v1h-1zm0 41h1v1h-1zm0 22h1v1h-1zm0 3h1v1h-1zm0 3h1v1h-1zm0 9h1v1h-1zm0 2h1v1h-1zm0 42h1v1h-1zm1 -348h1v1h-1zm0 24h1v1h-1zm0 24h1v1h-1zm0 13h1v1h-1zm0 8h1v1h-1zm0 20h1v1h-1zm0 5h1v1h-1zm0 77h1v1h-1zm0 18h1v1h-1zm0 28h1v1h-1zm0 14h1v1h-1zm0 9h1v1h-1zm0 3h1v1h-1zm0 59h1v1h-1zm0 4h1v1h-1zm1 -323h1v1h-1zm0 2h1v1h-1zm0 29h1v1h-1zm0 13h1v1h-1zm0 9h1v1h-1zm0 7h1v1h-1zm0 47h1v1h-1zm0 27h1v1h-1zm0 19h1v1h-1zm0 52h1v1h-1zm0 23h1v1h-1zm0 38h1v1h-1zm0 10h1v1h-1zm0 15h1v1h-1zm0 3h1v1h-1zm0 12h1v1h-1zm0 25h1v1h-1zm0 17h1v1h-1zm0 5h1v1h-1zm0 2h1v1h-1zm0 4h1v1h-1zm0 3h1v1h-1zm0 3h1v1h-1zm1 -367h1v1h-1zm0 8h1v1h-1zm0 8h1v1h-1zm0 86h1v1h-1zm0 31h1v1h-1zm0 3h1v1h-1zm0 5h1v1h-1zm0 7h1v1h-1zm0 16h1v1h-1zm0 46h1v1h-1zm0 3h1v1h-1zm0 7h1v1h-1zm0 2h1v1h-1zm0 11h1v1h-1zm0 15h1v1h-1zm0 32h1v1h-1zm0 4h1v1h-1zm0 62h1v1h-1zm0 4h1v1h-1zm0 16h1v1h-1zm1 -366h1v1h-1zm0 34h1v1h-1zm0 11h1v1h-1zm0 17h1v1h-1zm0 16h1v1h-1zm0 3h1v1h-1zm0 38h1v1h-1zm0 3h1v1h-1zm0 13h1v1h-1zm0 83h1v1h-1zm0 38h1v1h-1zm0 12h1v1h-1zm0 7h1v1h-1zm0 40h1v1h-1zm0 26h1v1h-1zm0 5h1v1h-1zm0 3h1v1h-1zm0 3h1v1h-1zm0 10h1v1h-1zm0 3h1v1h-1zm1 -354h1v1h-1zm0 18h1v1h-1zm0 66h1v1h-1zm0 2h1v1h-1zm0 2h1v1h-1zm0 34h1v1h-1zm0 2h1v1h-1zm0 29h1v1h-1zm0 17h1v1h-1zm0 6h1v1h-1zm0 62h1v1h-1zm0 39h1v1h-1zm0 12h1v1h-1zm0 8h1v1h-1zm1 -300h1v1h-1zm0 48h1v1h-1zm0 21h1v1h-1zm0 19h1v1h-1zm0 26h1v2h-1zm0 58h1v1h-1zm0 12h1v1h-1zm0 30h1v1h-1zm0 13h1v1h-1zm0 13h1v1h-1zm0 10h1v1h-1zm0 22h1v1h-1zm0 12h1v2h-1zm0 7h1v1h-1zm0 20h1v1h-1zm1 -308h1v1h-1zm0 6h1v1h-1zm0 4h1v1h-1zm0 5h1v1h-1zm0 12h1v1h-1zm0 4h1v1h-1zm0 21h1v1h-1zm0 8h1v1h-1zm0 7h1v1h-1zm0 58h1v1h-1zm0 33h1v1h-1zm0 5h1v1h-1zm0 10h1v1h-1zm0 45h1v1h-1zm0 40h1v2h-1zm0 42h1v1h-1zm0 7h1v1h-1zm1 -310h1v1h-1zm0 52h1v1h-1zm0 2h1v1h-1zm0 25h1v1h-1zm0 2h1v1h-1zm0 6h1v1h-1zm0 9h1v1h-1zm0 4h1v1h-1zm0 3h1v1h-1zm0 8h1v1h-1zm0 13h1v1h-1zm0 2h1v1h-1zm0 15h1v1h-1zm0 5h1v1h-1zm0 21h1v1h-1zm0 12h1v1h-1zm0 18h1v1h-1zm0 9h1v1h-1zm0 34h1v1h-1zm0 2h1v1h-1zm0 2h1v1h-1zm0 17h1v1h-1zm0 3h1v1h-1zm0 26h1v1h-1zm0 3h1v1h-1zm0 3h1v1h-1zm0 28h1v1h-1zm0 27h1v1h-1zm0 10h1v1h-1zm0 4h1v1h-1zm1 -347h1v1h-1zm0 2h1v1h-1zm0 7h1v1h-1zm0 4h1v1h-1zm0 39h1v1h-1zm0 12h1v1h-1zm0 36h1v1h-1zm0 19h1v1h-1zm0 37h1v1h-1zm0 14h1v2h-1zm0 3h1v1h-1zm0 28h1v1h-1zm0 12h1v1h-1zm0 29h1v1h-1zm0 2h1v1h-1zm0 20h1v1h-1zm0 27h1v1h-1zm0 11h1v1h-1zm0 16h1v1h-1zm0 17h1v1h-1zm1 -342h1v1h-1zm0 5h1v1h-1zm0 35h1v1h-1zm0 2h1v1h-1zm0 25h1v1h-1zm0 10h1v1h-1zm0 7h1v1h-1zm0 41h1v1h-1zm0 5h1v1h-1zm0 7h1v1h-1zm0 24h1v1h-1zm0 20h1v2h-1zm0 6h1v1h-1zm0 41h1v1h-1zm0 37h1v1h-1zm0 4h1v1h-1zm0 8h1v1h-1zm0 21h1v1h-1zm0 7h1v1h-1zm0 27h1v1h-1zm0 4h1v1h-1zm0 5h1v1h-1zm1 -350h1v1h-1zm0 15h1v1h-1zm0 46h1v1h-1zm0 11h1v1h-1zm0 5h1v1h-1zm0 11h1v1h-1zm0 4h1v1h-1zm0 7h1v1h-1zm0 8h1v1h-1zm0 29h1v1h-1zm0 13h1v1h-1zm0 54h1v1h-1zm0 8h1v1h-1zm0 50h1v1h-1zm0 11h1v1h-1zm0 4h1v1h-1zm0 8h1v1h-1zm0 10h1v1h-1zm1 -296h1v1h-1zm0 10h1v1h-1zm0 10h1v1h-1zm0 3h1v1h-1zm0 33h1v1h-1zm0 24h1v1h-1zm0 14h1v1h-1zm0 43h1v1h-1zm0 6h1v1h-1zm0 25h1v1h-1zm0 4h1v1h-1zm0 2h1v1h-1zm0 6h1v1h-1zm0 3h1v1h-1zm0 13h1v1h-1zm0 5h1v1h-1zm0 3h1v1h-1zm0 60h1v1h-1zm0 22h1v1h-1zm0 27h1v1h-1zm0 6h1v1h-1zm0 8h1v1h-1zm0 23h1v1h-1zm0 13h1v2h-1zm1 -357h1v1h-1zm0 17h1v1h-1zm0 6h1v1h-1zm0 21h1v1h-1zm0 8h1v1h-1zm0 22h1v1h-1zm0 37h1v1h-1zm0 4h1v1h-1zm0 25h1v1h-1zm0 7h1v2h-1zm0 17h1v1h-1zm0 39h1v1h-1zm0 5h1v1h-1zm0 45h1v1h-1zm0 50h1v1h-1zm0 22h1v1h-1zm0 26h1v1h-1zm1 -336h1v1h-1zm0 14h1v1h-1zm0 23h1v1h-1zm0 12h1v1h-1zm0 18h1v1h-1zm0 4h1v1h-1zm0 45h1v1h-1zm0 12h1v1h-1zm0 11h1v1h-1zm0 16h1v2h-1zm0 12h1v1h-1zm0 13h1v1h-1zm0 12h1v1h-1zm0 53h1v1h-1zm0 10h1v1h-1zm0 2h1v1h-1zm0 20h1v2h-1zm0 43h1v1h-1zm0 14h1v1h-1zm0 4h1v2h-1zm0 5h1v1h-1zm1 -324h1v1h-1zm0 27h1v1h-1zm0 14h1v1h-1zm0 8h1v1h-1zm0 15h1v1h-1zm0 22h1v1h-1zm0 20h1v1h-1zm0 14h1v3h-1zm0 12h1v1h-1zm0 20h1v1h-1zm0 2h1v1h-1zm0 11h1v1h-1zm0 20h1v1h-1zm0 3h1v1h-1zm0 13h1v1h-1zm0 6h1v3h-1zm0 4h1v1h-1zm0 17h1v1h-1zm0 28h1v1h-1zm0 8h1v1h-1zm0 12h1v1h-1zm0 7h1v1h-1zm0 32h1v1h-1zm0 9h1v1h-1zm1 -348h1v1h-1zm0 5h1v1h-1zm0 20h1v1h-1zm0 17h1v1h-1zm0 21h1v1h-1zm0 12h1v1h-1zm0 30h1v1h-1zm0 2h1v1h-1zm0 17h1v1h-1zm0 30h1v1h-1zm0 25h1v1h-1zm0 3h1v1h-1zm0 47h1v2h-1zm0 4h1v1h-1zm0 56h1v1h-1zm0 4h1v1h-1zm0 13h1v1h-1zm1 -309h1v1h-1zm0 5h1v1h-1zm0 14h1v1h-1zm0 9h1v1h-1zm0 26h1v1h-1zm0 27h1v2h-1zm0 7h1v2h-1zm0 13h1v1h-1zm0 20h1v1h-1zm0 16h1v2h-1zm0 12h1v1h-1zm0 20h1v1h-1zm0 3h1v1h-1zm0 13h1v1h-1zm0 12h1v1h-1zm0 61h1v1h-1zm0 19h1v1h-1zm0 12h1v1h-1zm0 52h1v1h-1zm0 11h1v1h-1zm1 -366h1v1h-1zm0 20h1v1h-1zm0 10h1v1h-1zm0 13h1v1h-1zm0 12h1v1h-1zm0 10h1v1h-1zm0 18h1v1h-1zm0 13h1v2h-1zm0 22h1v1h-1zm0 43h1v1h-1zm0 51h1v2h-1zm0 27h1v1h-1zm0 24h1v1h-1zm0 9h1v1h-1zm0 6h1v1h-1zm0 28h1v1h-1zm0 57h1v1h-1zm1 -369h1v1h-1zm0 6h1v1h-1zm0 19h1v1h-1zm0 15h1v1h-1zm0 39h1v1h-1zm0 3h1v1h-1zm0 3h1v2h-1zm0 9h1v1h-1zm0 7h1v1h-1zm0 20h1v1h-1zm0 14h1v1h-1zm0 10h1v1h-1zm0 10h1v1h-1zm0 7h1v1h-1zm0 19h1v1h-1zm0 13h1v1h-1zm0 22h1v1h-1zm0 10h1v1h-1zm0 31h1v1h-1zm0 8h1v1h-1zm0 2h1v1h-1zm0 15h1v1h-1zm0 12h1v1h-1zm0 2h1v1h-1zm0 5h1v1h-1zm0 3h1v1h-1zm0 29h1v1h-1zm0 9h1v1h-1zm1 -339h1v1h-1zm0 2h1v2h-1zm0 15h1v1h-1zm0 4h1v1h-1zm0 25h1v1h-1zm0 3h1v1h-1zm0 92h1v1h-1zm0 22h1v1h-1zm0 16h1v1h-1zm0 32h1v1h-1zm0 37h1v1h-1zm0 47h1v1h-1zm0 5h1v1h-1zm0 7h1v1h-1zm0 15h1v1h-1zm0 6h1v1h-1zm0 3h1v1h-1zm0 26h1v1h-1zm0 4h1v1h-1zm1 -352h1v1h-1zm0 11h1v1h-1zm0 17h1v1h-1zm0 25h1v2h-1zm0 7h1v1h-1zm0 21h1v1h-1zm0 32h1v1h-1zm0 2h1v1h-1zm0 69h1v1h-1zm0 16h1v1h-1zm0 5h1v1h-1zm0 76h1v1h-1zm0 27h1v1h-1zm0 12h1v1h-1zm0 5h1v1h-1zm1 -333h1v1h-1zm0 3h1v1h-1zm0 7h1v2h-1zm0 14h1v1h-1zm0 18h1v1h-1zm0 114h1v1h-1zm0 26h1v1h-1zm0 32h1v1h-1zm0 17h1v1h-1zm0 8h1v1h-1zm0 33h1v1h-1zm0 15h1v1h-1zm0 16h1v1h-1zm0 52h1v1h-1zm0 8h1v1h-1zm0 2h1v1h-1zm1 -356h1v1h-1zm0 4h1v1h-1zm0 9h1v1h-1zm0 34h1v1h-1zm0 69h1v1h-1zm0 6h1v1h-1zm0 36h1v1h-1zm0 13h1v1h-1zm0 32h1v1h-1zm0 15h1v1h-1zm0 6h1v1h-1zm0 7h1v1h-1zm0 27h1v1h-1zm0 12h1v1h-1zm0 2h1v1h-1zm0 24h1v1h-1zm0 31h1v1h-1zm0 3h1v3h-1zm1 -310h1v1h-1zm0 9h1v1h-1zm0 30h1v2h-1zm0 10h1v2h-1zm0 5h1v1h-1zm0 4h1v1h-1zm0 2h1v1h-1zm0 17h1v1h-1zm0 31h1v1h-1zm0 6h1v1h-1zm0 7h1v1h-1zm0 5h1v1h-1zm0 23h1v1h-1zm0 18h1v1h-1zm0 2h1v1h-1zm0 12h1v1h-1zm0 9h1v1h-1zm0 3h1v1h-1zm0 4h1v1h-1zm0 37h1v1h-1zm0 2h1v1h-1zm0 15h1v1h-1zm0 14h1v1h-1zm0 10h1v1h-1zm0 29h1v1h-1zm0 5h1v1h-1zm0 14h1v1h-1zm0 3h1v1h-1zm0 7h1v2h-1zm1 -364h1v1h-1zm0 26h1v1h-1zm0 54h1v1h-1zm0 4h1v1h-1zm0 2h1v1h-1zm0 6h1v1h-1zm0 18h1v1h-1zm0 12h1v1h-1zm0 9h1v1h-1zm0 13h1v1h-1zm0 6h1v2h-1zm0 3h1v1h-1zm0 15h1v2h-1zm0 39h1v1h-1zm0 6h1v1h-1zm0 24h1v1h-1zm0 4h1v1h-1zm0 21h1v1h-1zm0 9h1v1h-1zm0 6h1v1h-1zm0 30h1v1h-1zm0 4h1v1h-1zm0 4h1v2h-1zm0 51h1v2h-1zm1 -319h1v1h-1zm0 4h1v2h-1zm0 47h1v1h-1zm0 3h1v1h-1zm0 11h1v1h-1zm0 22h1v1h-1zm0 8h1v1h-1zm0 7h1v1h-1zm0 65h1v1h-1zm0 13h1v1h-1zm0 42h1v2h-1zm0 10h1v1h-1zm0 46h1v1h-1zm0 29h1v1h-1zm0 14h1v1h-1zm1 -371h1v1h-1zm0 21h1v2h-1zm0 28h1v2h-1zm0 24h1v2h-1zm0 13h1v1h-1zm0 10h1v1h-1zm0 8h1v1h-1zm0 19h1v1h-1zm0 44h1v1h-1zm0 42h1v1h-1zm0 43h1v1h-1zm0 9h1v2h-1zm0 20h1v1h-1zm0 15h1v2h-1zm0 45h1v1h-1zm0 10h1v1h-1zm1 -333h1v1h-1zm0 18h1v1h-1zm0 24h1v1h-1zm0 15h1v1h-1zm0 5h1v1h-1zm0 3h1v1h-1zm0 9h1v1h-1zm0 7h1v1h-1zm0 17h1v1h-1zm0 12h1v1h-1zm0 9h1v1h-1zm0 27h1v1h-1zm0 19h1v1h-1zm0 12h1v1h-1zm0 33h1v1h-1zm0 16h1v1h-1zm0 43h1v1h-1zm0 10h1v1h-1zm0 21h1v1h-1zm0 12h1v1h-1zm0 2h1v1h-1zm0 14h1v1h-1zm1 -346h1v1h-1zm0 12h1v1h-1zm0 17h1v1h-1zm0 52h1v1h-1zm0 5h1v1h-1zm0 24h1v3h-1zm0 6h1v1h-1zm0 13h1v1h-1zm0 14h1v1h-1zm0 19h1v2h-1zm0 28h1v1h-1zm0 8h1v1h-1zm0 6h1v1h-1zm0 2h1v1h-1zm0 19h1v1h-1zm0 53h1v2h-1zm0 14h1v1h-1zm0 3h1v1h-1zm0 7h1v1h-1zm0 4h1v1h-1zm0 3h1v2h-1zm0 19h1v1h-1zm0 16h1v1h-1zm1 -333h1v2h-1zm0 6h1v1h-1zm0 16h1v1h-1zm0 17h1v1h-1zm0 12h1v2h-1zm0 46h1v1h-1zm0 9h1v1h-1zm0 13h1v1h-1zm0 8h1v1h-1zm0 2h1v1h-1zm0 11h1v1h-1zm0 24h1v1h-1zm0 16h1v1h-1zm0 13h1v1h-1zm0 2h1v1h-1zm0 16h1v1h-1zm0 48h1v1h-1zm0 11h1v1h-1zm0 28h1v1h-1zm0 8h1v1h-1zm0 26h1v1h-1zm1 -331h1v1h-1zm0 32h1v1h-1zm0 8h1v1h-1zm0 3h1v1h-1zm0 32h1v1h-1zm0 63h1v1h-1zm0 2h1v1h-1zm0 6h1v1h-1zm0 19h1v1h-1zm0 7h1v1h-1zm0 21h1v2h-1zm0 6h1v1h-1zm0 4h1v1h-1zm0 45h1v1h-1zm0 3h1v1h-1zm0 34h1v1h-1zm0 15h1v1h-1zm0 6h1v1h-1zm0 13h1v1h-1zm0 13h1v1h-1zm0 18h1v1h-1zm1 -345h1v1h-1zm0 18h1v1h-1zm0 10h1v2h-1zm0 26h1v1h-1zm0 20h1v1h-1zm0 6h1v1h-1zm0 8h1v1h-1zm0 10h1v1h-1zm0 15h1v1h-1zm0 10h1v1h-1zm0 36h1v1h-1zm0 9h1v1h-1zm0 14h1v1h-1zm0 31h1v1h-1zm0 6h1v1h-1zm0 4h1v1h-1zm0 21h1v1h-1zm0 8h1v1h-1zm0 30h1v1h-1zm0 8h1v1h-1zm0 25h1v1h-1zm0 5h1v1h-1zm0 14h1v1h-1zm0 10h1v1h-1zm0 16h1v1h-1zm1 -365h1v1h-1zm0 33h1v1h-1zm0 37h1v1h-1zm0 58h1v1h-1zm0 51h1v1h-1zm0 16h1v1h-1zm0 6h1v2h-1zm0 5h1v1h-1zm0 14h1v1h-1zm0 8h1v1h-1zm0 20h1v1h-1zm0 11h1v1h-1zm0 14h1v1h-1zm0 12h1v1h-1zm0 47h1v1h-1zm0 20h1v1h-1zm0 8h1v1h-1zm1 -361h1v1h-1zm0 5h1v1h-1zm0 8h1v1h-1zm0 2h1v1h-1zm0 89h1v1h-1zm0 81h1v1h-1zm0 3h1v1h-1zm0 12h1v1h-1zm0 46h1v1h-1zm0 17h1v1h-1zm0 21h1v1h-1zm0 5h1v1h-1zm0 31h1v1h-1zm0 5h1v1h-1zm0 12h1v1h-1zm0 21h1v1h-1zm1 -363h1v1h-1zm0 17h1v1h-1zm0 4h1v1h-1zm0 54h1v1h-1zm0 15h1v1h-1zm0 4h1v1h-1zm0 8h1v1h-1zm0 2h1v2h-1zm0 19h1v1h-1zm0 17h1v1h-1zm0 3h1v1h-1zm0 15h1v1h-1zm0 10h1v1h-1zm0 16h1v1h-1zm0 13h1v1h-1zm0 5h1v1h-1zm0 10h1v1h-1zm0 39h1v1h-1zm0 20h1v1h-1zm0 2h1v1h-1zm0 5h1v1h-1zm0 18h1v1h-1zm0 4h1v1h-1zm0 26h1v1h-1zm0 28h1v1h-1zm1 -346h1v1h-1zm0 57h1v1h-1zm0 62h1v2h-1zm0 8h1v1h-1zm0 19h1v1h-1zm0 48h1v1h-1zm0 52h1v1h-1zm0 16h1v1h-1zm0 12h1v1h-1zm0 21h1v1h-1zm0 44h1v1h-1zm0 20h1v1h-1zm1 -330h1v1h-1zm0 13h1v1h-1zm0 3h1v1h-1zm0 56h1v1h-1zm0 9h1v1h-1zm0 2h1v2h-1zm0 15h1v1h-1zm0 4h1v1h-1zm0 37h1v1h-1zm0 2h1v1h-1zm0 32h1v1h-1zm0 14h1v1h-1zm0 3h1v1h-1zm0 11h1v1h-1zm0 5h1v1h-1zm0 26h1v1h-1zm0 14h1v1h-1zm0 20h1v1h-1zm0 18h1v1h-1zm0 9h1v1h-1zm0 13h1v1h-1zm0 14h1v1h-1zm0 2h1v1h-1zm0 7h1v1h-1zm1 -370h1v1h-1zm0 25h1v1h-1zm0 39h1v1h-1zm0 18h1v1h-1zm0 7h1v1h-1zm0 4h1v1h-1zm0 13h1v1h-1zm0 6h1v1h-1zm0 48h1v1h-1zm0 4h1v1h-1zm0 36h1v1h-1zm0 23h1v1h-1zm0 23h1v1h-1zm0 9h1v1h-1zm0 3h1v1h-1zm0 12h1v1h-1zm0 2h1v1h-1zm0 19h1v1h-1zm0 9h1v1h-1zm2 -300h1v1h-1zm0 18h1v1h-1zm0 14h1v1h-1zm0 3h1v1h-1zm0 4h1v1h-1zm0 19h1v1h-1zm0 21h1v1h-1zm0 19h1v1h-1zm0 7h1v1h-1zm0 14h1v1h-1zm0 11h1v1h-1zm0 6h1v1h-1zm0 19h1v1h-1zm0 37h1v1h-1zm0 15h1v1h-1zm0 53h1v1h-1zm0 12h1v1h-1zm0 9h1v1h-1zm0 6h1v1h-1zm0 3h1v1h-1zm0 2h1v1h-1zm0 49h1v1h-1zm0 6h1v1h-1zm2 -342h1v1h-1zm0 60h1v1h-1zm0 13h1v1h-1zm0 32h1v1h-1zm0 40h1v1h-1zm0 22h1v1h-1zm0 12h1v1h-1zm0 16h1v1h-1zm0 16h1v1h-1zm0 7h1v1h-1zm0 7h1v1h-1zm0 47h1v1h-1zm0 11h1v1h-1zm0 2h1v1h-1zm0 7h1v1h-1zm0 14h1v1h-1zm0 30h1v1h-1zm0 3h1v1h-1zm0 9h1v1h-1zm2 -347h1v1h-1zm0 14h1v1h-1zm0 4h1v1h-1zm0 7h1v2h-1zm0 54h1v1h-1zm0 23h1v1h-1zm0 9h1v1h-1zm0 39h1v1h-1zm0 6h1v1h-1zm0 13h1v1h-1zm0 12h1v1h-1zm0 18h1v1h-1zm0 20h1v1h-1zm0 91h1v1h-1zm0 10h1v1h-1zm0 25h1v1h-1zm0 6h1v1h-1zm2 -359h1v1h-1zm0 4h1v1h-1zm0 33h1v1h-1zm0 18h1v1h-1zm0 15h1v1h-1zm0 34h1v1h-1zm0 4h1v1h-1zm0 13h1v1h-1zm0 8h1v1h-1zm0 20h1v1h-1zm0 50h1v1h-1zm0 38h1v1h-1zm0 17h1v1h-1zm0 10h1v1h-1zm0 12h1v1h-1zm0 16h1v1h-1zm0 5h1v1h-1zm0 9h1v1h-1zm0 15h1v1h-1zm0 3h1v2h-1zm0 5h1v1h-1zm0 4h1v1h-1zm0 2h1v1h-1zm0 4h1v1h-1zm0 16h1v1h-1zm0 4h1v1h-1zm0 7h1v1h-1zm0 9h1v1h-1zm2 -371h1v1h-1zm0 3h1v1h-1zm0 3h1v1h-1zm0 23h1v1h-1zm0 12h1v1h-1zm0 28h1v1h-1zm0 27h1v1h-1zm0 28h1v1h-1zm0 8h1v2h-1zm0 17h1v1h-1zm0 20h1v1h-1zm0 2h1v1h-1zm0 4h1v1h-1zm0 2h1v1h-1zm0 2h1v1h-1zm0 25h1v1h-1zm0 9h1v1h-1zm0 3h1v1h-1zm0 25h1v1h-1zm0 6h1v1h-1zm0 15h1v1h-1zm0 6h1v1h-1zm0 17h1v1h-1zm0 4h1v1h-1zm0 3h1v1h-1zm0 3h1v2h-1zm0 10h1v1h-1zm0 4h1v1h-1zm0 21h1v1h-1zm0 9h1v1h-1zm0 16h1v1h-1zm0 10h1v1h-1zm2 -355h1v1h-1zm0 47h1v1h-1zm0 7h1v2h-1zm0 32h1v1h-1zm0 62h1v1h-1zm0 24h1v1h-1zm0 12h1v1h-1zm0 13h1v1h-1zm0 9h1v1h-1zm0 41h1v1h-1zm0 9h1v1h-1zm0 34h1v1h-1zm0 44h1v1h-1zm0 25h1v1h-1zm2 -370h1v1h-1zm0 4h1v2h-1zm0 14h1v2h-1zm0 4h1v1h-1zm0 38h1v1h-1zm0 10h1v1h-1zm0 16h1v2h-1zm0 4h1v1h-1zm0 6h1v1h-1zm0 2h1v1h-1zm0 12h1v1h-1zm0 4h1v1h-1zm0 6h1v1h-1zm0 2h1v1h-1zm0 12h1v1h-1zm0 18h1v1h-1zm0 38h1v1h-1zm0 23h1v1h-1zm0 19h1v1h-1zm0 6h1v1h-1zm0 2h1v1h-1zm0 6h1v1h-1zm0 59h1v1h-1zm0 26h1v1h-1zm0 6h1v1h-1zm0 20h1v3h-1zm0 17h1v1h-1zm5 -371h1v1h-1zm0 14h1v1h-1zm0 4h1v1h-1zm0 8h1v1h-1zm0 18h1v1h-1zm0 8h1v1h-1zm0 3h1v1h-1zm0 9h1v1h-1zm0 108h1v1h-1zm0 14h1v1h-1zm0 3h1v1h-1zm0 14h1v1h-1zm0 2h1v1h-1zm0 2h1v1h-1zm0 54h1v1h-1zm0 6h1v1h-1zm0 11h1v1h-1zm0 86h1v1h-1zm0 3h1v1h-1zm5 -353h1v1h-1zm0 4h1v1h-1zm0 9h1v1h-1zm0 2h1v1h-1zm0 5h1v1h-1zm0 17h1v1h-1zm0 38h1v1h-1zm0 14h1v1h-1zm0 11h1v1h-1zm0 11h1v1h-1zm0 5h1v1h-1zm0 17h1v1h-1zm0 24h1v1h-1zm0 14h1v1h-1zm0 7h1v1h-1zm0 16h1v2h-1zm0 9h1v1h-1zm0 129h1v1h-1zm0 12h1v1h-1zm0 7h1v1h-1zm5 -365h1v2h-1zm0 3h1v1h-1zm0 3h1v1h-1zm0 4h1v2h-1zm0 6h1v1h-1zm0 10h1v1h-1zm0 2h1v1h-1zm0 40h1v1h-1zm0 23h1v1h-1zm0 9h1v1h-1zm0 24h1v2h-1zm0 37h1v1h-1zm0 6h1v1h-1zm0 24h1v2h-1zm0 7h1v1h-1zm0 3h1v1h-1zm0 24h1v1h-1zm0 4h1v1h-1zm0 6h1v1h-1zm0 2h1v1h-1zm0 6h1v1h-1zm0 21h1v1h-1zm0 17h1v1h-1zm0 7h1v1h-1zm0 11h1v1h-1zm0 13h1v1h-1zm0 4h1v1h-1zm0 2h1v1h-1zm5 -317h1v1h-1zm0 8h1v1h-1zm0 36h1v1h-1zm0 8h1v2h-1zm0 9h1v1h-1zm0 19h1v1h-1zm0 18h1v1h-1zm0 42h1v1h-1zm0 8h1v1h-1zm0 28h1v1h-1zm0 15h1v1h-1zm0 34h1v1h-1zm0 48h1v1h-1zm0 50h1v1h-1zm0 9h1v1h-1zm0 13h1v1h-1zm0 30h1v1h-1zm0 3h1v1h-1zm0 2h1v1h-1zm5 -354h1v1h-1zm0 2h1v1h-1zm0 5h1v1h-1zm0 44h1v1h-1zm0 11h1v1h-1zm0 13h1v1h-1zm0 25h1v1h-1zm0 16h1v1h-1zm0 2h1v1h-1zm0 25h1v1h-1zm0 2h1v1h-1zm0 9h1v1h-1zm0 5h1v1h-1zm0 7h1v1h-1zm0 21h1v1h-1zm0 10h1v2h-1zm0 14h1v1h-1zm0 23h1v1h-1zm0 5h1v2h-1zm0 6h1v1h-1zm0 14h1v1h-1zm0 33h1v1h-1zm0 21h1v1h-1zm0 16h1v1h-1zm0 6h1v1h-1zm5 -353h1v1h-1zm0 4h1v1h-1zm0 3h1v1h-1zm0 7h1v1h-1zm0 4h1v1h-1zm0 6h1v1h-1zm0 2h1v1h-1zm0 9h1v1h-1zm0 49h1v1h-1zm0 21h1v1h-1zm0 8h1v1h-1zm0 20h1v1h-1zm0 35h1v1h-1zm0 14h1v1h-1zm0 12h1v1h-1zm0 13h1v1h-1zm0 21h1v1h-1zm0 4h1v1h-1zm0 2h1v1h-1zm0 38h1v1h-1zm0 3h1v1h-1zm0 14h1v2h-1zm0 6h1v1h-1zm0 9h1v1h-1zm0 2h1v1h-1zm0 20h1v2h-1zm0 5h1v1h-1zm0 13h1v1h-1z"/><path fill="#470d60" d="M4 7h1v1h-1zm0 5h1v1h-1zm0 12h1v1h-1zm0 2h1v1h-1zm0 13h1v1h-1zm0 17h1v1h-1zm0 44h1v1h-1zm0 53h1v1h-1zm0 15h1v1h-1zm0 25h1v1h-1zm0 6h1v1h-1zm0 34h1v2h-1zm0 15h1v1h-1zm0 7h1v1h-1zm0 58h1v1h-1zm0 25h1v1h-1zm0 2h1v1h-1zm0 6h1v1h-1zm0 29h1v2h-1zm1 -364h1v1h-1zm0 14h1v1h-1zm0 48h1v1h-1zm0 17h1v1h-1zm0 14h1v1h-1zm0 41h1v1h-1zm0 16h1v1h-1zm0 4h1v1h-1zm0 22h1v2h-1zm0 14h1v1h-1zm0 42h1v1h-1zm0 2h1v1h-1zm0 60h1v1h-1zm0 3h1v1h-1zm0 25h1v1h-1zm1 -333h1v1h-1zm0 4h1v1h-1zm0 12h1v1h-1zm0 13h1v1h-1zm0 16h1v1h-1zm0 38h1v1h-1zm0 28h1v1h-1zm0 7h1v1h-1zm0 15h1v1h-1zm0 19h1v1h-1zm0 8h1v1h-1zm0 12h1v1h-1zm0 17h1v1h-1zm0 12h1v1h-1zm0 10h1v1h-1zm0 2h1v1h-1zm0 2h1v1h-1zm0 8h1v1h-1zm0 17h1v1h-1zm0 17h1v1h-1zm0 4h1v1h-1zm0 2h1v1h-1zm0 10h1v1h-1zm0 37h1v1h-1zm0 6h1v1h-1zm0 6h1v1h-1zm0 14h1v1h-1zm0 8h1v1h-1zm0 7h1v1h-1zm0 4h1v2h-1zm0 5h1v1h-1zm1 -342h1v1h-1zm0 33h1v1h-1zm0 9h1v1h-1zm0 2h1v1h-1zm0 15h1v1h-1zm0 8h1v1h-1zm0 37h1v1h-1zm0 12h1v1h-1zm0 8h1v1h-1zm0 12h1v1h-1zm0 12h1v1h-1zm0 48h1v1h-1zm0 2h1v1h-1zm0 43h1v1h-1zm0 5h1v1h-1zm0 15h1v1h-1zm0 19h1v1h-1zm0 4h1v1h-1zm0 8h1v1h-1zm0 4h1v1h-1zm0 23h1v1h-1zm0 11h1v1h-1zm1 -339h1v1h-1zm0 23h1v1h-1zm0 15h1v1h-1zm0 13h1v2h-1zm0 13h1v1h-1zm0 25h1v1h-1zm0 2h1v1h-1zm0 43h1v1h-1zm0 8h1v2h-1zm0 7h1v1h-1zm0 20h1v1h-1zm0 16h1v1h-1zm0 37h1v1h-1zm0 14h1v2h-1zm0 23h1v1h-1zm0 34h1v2h-1zm0 3h1v1h-1zm0 2h1v1h-1zm0 8h1v1h-1zm0 5h1v1h-1zm0 8h1v1h-1zm1 -322h1v1h-1zm0 17h1v1h-1zm0 11h1v1h-1zm0 19h1v1h-1zm0 5h1v2h-1zm0 9h1v1h-1zm0 13h1v1h-1zm0 31h1v2h-1zm0 11h1v1h-1zm0 89h1v1h-1zm0 6h1v1h-1zm0 14h1v1h-1zm0 28h1v1h-1zm0 16h1v1h-1zm0 25h1v1h-1zm0 2h1v1h-1zm0 10h1v1h-1zm0 8h1v1h-1zm0 26h1v1h-1zm0 2h1v1h-1zm0 23h1v1h-1zm1 -367h1v1h-1zm0 26h1v1h-1zm0 43h1v1h-1zm0 14h1v1h-1zm0 4h1v1h-1zm0 11h1v1h-1zm0 24h1v1h-1zm0 5h1v1h-1zm0 22h1v1h-1zm0 29h1v1h-1zm0 6h1v1h-1zm0 24h1v1h-1zm0 2h1v1h-1zm0 56h1v1h-1zm0 2h1v1h-1zm0 5h1v2h-1zm0 8h1v1h-1zm0 2h1v1h-1zm0 35h1v1h-1zm0 9h1v1h-1zm0 16h1v1h-1zm0 4h1v1h-1zm0 4h1v1h-1zm1 -338h1v1h-1zm0 14h1v1h-1zm0 75h1v1h-1zm0 32h1v1h-1zm0 14h1v1h-1zm0 41h1v1h-1zm0 4h1v1h-1zm0 44h1v1h-1zm0 14h1v1h-1zm0 32h1v1h-1zm0 8h1v1h-1zm0 16h1v1h-1zm1 -299h1v1h-1zm0 19h1v1h-1zm0 17h1v1h-1zm0 17h1v1h-1zm0 17h1v1h-1zm0 35h1v2h-1zm0 21h1v1h-1zm0 4h1v1h-1zm0 23h1v1h-1zm0 8h1v1h-1zm0 18h1v1h-1zm0 20h1v1h-1zm0 20h1v2h-1zm0 8h1v1h-1zm0 3h1v1h-1zm0 10h1v2h-1zm0 4h1v1h-1zm0 7h1v1h-1zm0 7h1v1h-1zm0 8h1v1h-1zm0 19h1v2h-1zm0 5h1v1h-1zm0 12h1v1h-1zm0 36h1v1h-1zm0 10h1v1h-1zm0 12h1v1h-1zm1 -370h1v1h-1zm0 30h1v1h-1zm0 13h1v1h-1zm0 14h1v1h-1zm0 14h1v1h-1zm0 69h1v1h-1zm0 3h1v1h-1zm0 2h1v1h-1zm0 26h1v1h-1zm0 20h1v1h-1zm0 4h1v1h-1zm0 5h1v1h-1zm0 14h1v1h-1zm0 11h1v1h-1zm0 9h1v1h-1zm0 9h1v1h-1zm0 24h1v1h-1zm0 50h1v1h-1zm0 12h1v1h-1zm0 28h1v2h-1zm0 13h1v1h-1zm1 -327h1v2h-1zm0 10h1v1h-1zm0 3h1v1h-1zm0 23h1v2h-1zm0 4h1v1h-1zm0 20h1v1h-1zm0 55h1v1h-1zm0 29h1v1h-1zm0 34h1v1h-1zm0 4h1v1h-1zm0 6h1v2h-1zm0 3h1v1h-1zm0 7h1v1h-1zm0 9h1v1h-1zm0 47h1v1h-1zm0 5h1v1h-1zm0 30h1v1h-1zm0 6h1v1h-1zm0 2h1v1h-1zm1 -341h1v1h-1zm0 43h1v1h-1zm0 19h1v1h-1zm0 9h1v1h-1zm0 5h1v1h-1zm0 2h1v1h-1zm0 5h1v1h-1zm0 26h1v1h-1zm0 34h1v1h-1zm0 25h1v1h-1zm0 35h1v1h-1zm0 13h1v1h-1zm0 8h1v1h-1zm0 9h1v1h-1zm0 28h1v1h-1zm0 26h1v1h-1zm0 12h1v1h-1zm0 11h1v1h-1zm0 37h1v1h-1zm0 12h1v1h-1zm0 11h1v1h-1zm0 4h1v1h-1zm1 -364h1v3h-1zm0 11h1v1h-1zm0 53h1v1h-1zm0 29h1v1h-1zm0 35h1v1h-1zm0 19h1v1h-1zm0 4h1v1h-1zm0 38h1v1h-1zm0 37h1v1h-1zm0 3h1v1h-1zm0 26h1v2h-1zm0 7h1v1h-1zm0 23h1v1h-1zm0 16h1v1h-1zm0 2h1v1h-1zm0 42h1v1h-1zm1 -342h1v1h-1zm0 44h1v1h-1zm0 8h1v1h-1zm0 3h1v1h-1zm0 38h1v1h-1zm0 23h1v1h-1zm0 2h1v1h-1zm0 10h1v1h-1zm0 4h1v1h-1zm0 49h1v1h-1zm0 53h1v1h-1zm0 24h1v1h-1zm0 7h1v1h-1zm0 44h1v1h-1zm0 19h1v1h-1zm0 21h1v1h-1zm1 -358h1v1h-1zm0 5h1v2h-1zm0 15h1v1h-1zm0 15h1v2h-1zm0 40h1v1h-1zm0 8h1v1h-1zm0 3h1v1h-1zm0 7h1v1h-1zm0 16h1v1h-1zm0 29h1v1h-1zm0 28h1v1h-1zm0 14h1v1h-1zm0 9h1v1h-1zm0 17h1v1h-1zm0 9h1v1h-1zm0 4h1v1h-1zm0 84h1v1h-1zm0 2h1v1h-1zm0 9h1v1h-1zm0 15h1v1h-1zm0 6h1v1h-1zm0 14h1v1h-1zm0 3h1v1h-1zm0 11h1v1h-1zm0 3h1v1h-1zm1 -348h1v1h-1zm0 23h1v1h-1zm0 36h1v1h-1zm0 13h1v1h-1zm0 8h1v1h-1zm0 10h1v1h-1zm0 35h1v1h-1zm0 5h1v1h-1zm0 16h1v1h-1zm0 3h1v1h-1zm0 35h1v1h-1zm0 112h1v1h-1zm0 15h1v1h-1zm0 9h1v1h-1zm0 10h1v1h-1zm0 12h1v1h-1zm1 -340h1v1h-1zm0 19h1v1h-1zm0 22h1v1h-1zm0 6h1v1h-1zm0 16h1v1h-1zm0 4h1v1h-1zm0 12h1v1h-1zm0 14h1v1h-1zm0 103h1v1h-1zm0 36h1v1h-1zm0 12h1v1h-1zm0 3h1v1h-1zm0 18h1v1h-1zm0 44h1v1h-1zm0 6h1v1h-1zm0 4h1v1h-1zm0 28h1v1h-1zm1 -360h1v1h-1zm0 10h1v1h-1zm0 15h1v1h-1zm0 5h1v1h-1zm0 4h1v1h-1zm0 17h1v1h-1zm0 15h1v1h-1zm0 3h1v2h-1zm0 42h1v1h-1zm0 9h1v1h-1zm0 13h1v1h-1zm0 61h1v1h-1zm0 7h1v2h-1zm0 18h1v1h-1zm0 14h1v1h-1zm0 7h1v1h-1zm0 11h1v1h-1zm0 30h1v1h-1zm0 17h1v2h-1zm0 4h1v1h-1zm0 5h1v1h-1zm0 19h1v1h-1zm0 29h1v1h-1zm1 -357h1v1h-1zm0 9h1v1h-1zm0 30h1v1h-1zm0 2h1v1h-1zm0 2h1v1h-1zm0 2h1v1h-1zm0 11h1v1h-1zm0 3h1v1h-1zm0 56h1v1h-1zm0 12h1v1h-1zm0 2h1v1h-1zm0 26h1v2h-1zm0 23h1v1h-1zm0 2h1v2h-1zm0 7h1v1h-1zm0 37h1v1h-1zm0 50h1v1h-1zm0 5h1v1h-1zm0 17h1v1h-1zm0 24h1v1h-1zm0 4h1v1h-1zm0 2h1v1h-1zm0 7h1v1h-1zm1 -323h1v1h-1zm0 11h1v1h-1zm0 34h1v1h-1zm0 11h1v1h-1zm0 17h1v1h-1zm0 35h1v1h-1zm0 3h1v1h-1zm0 24h1v1h-1zm0 17h1v1h-1zm0 5h1v1h-1zm0 10h1v1h-1zm0 2h1v1h-1zm0 24h1v1h-1zm0 20h1v1h-1zm0 17h1v1h-1zm0 19h1v2h-1zm0 11h1v1h-1zm0 27h1v1h-1zm0 15h1v1h-1zm0 32h1v1h-1zm0 10h1v1h-1zm0 5h1v1h-1zm1 -364h1v1h-1zm0 18h1v1h-1zm0 32h1v1h-1zm0 32h1v1h-1zm0 6h1v1h-1zm0 7h1v1h-1zm0 12h1v1h-1zm0 19h1v1h-1zm0 6h1v1h-1zm0 21h1v1h-1zm0 8h1v1h-1zm0 32h1v1h-1zm0 22h1v1h-1zm0 12h1v1h-1zm0 2h1v1h-1zm0 2h1v1h-1zm0 29h1v1h-1zm0 2h1v1h-1zm0 67h1v1h-1zm0 17h1v1h-1zm0 10h1v1h-1zm1 -350h1v1h-1zm0 41h1v1h-1zm0 9h1v1h-1zm0 31h1v1h-1zm0 4h1v1h-1zm0 18h1v2h-1zm0 19h1v1h-1zm0 16h1v1h-1zm0 16h1v1h-1zm0 43h1v1h-1zm0 15h1v1h-1zm0 2h1v2h-1zm0 46h1v1h-1zm0 3h1v1h-1zm0 23h1v1h-1zm0 2h1v1h-1zm0 30h1v1h-1zm0 5h1v1h-1zm0 18h1v1h-1zm0 10h1v1h-1zm1 -348h1v1h-1zm0 20h1v1h-1zm0 7h1v1h-1zm0 11h1v1h-1zm0 4h1v1h-1zm0 2h1v1h-1zm0 39h1v1h-1zm0 5h1v1h-1zm0 6h1v1h-1zm0 9h1v1h-1zm0 25h1v1h-1zm0 21h1v1h-1zm0 6h1v1h-1zm0 5h1v1h-1zm0 5h1v1h-1zm0 23h1v1h-1zm0 29h1v1h-1zm0 13h1v1h-1zm0 5h1v1h-1zm0 2h1v1h-1zm0 69h1v1h-1zm0 8h1v1h-1zm0 9h1v1h-1zm0 12h1v1h-1zm0 13h1v1h-1zm1 -325h1v2h-1zm0 9h1v1h-1zm0 42h1v1h-1zm0 6h1v1h-1zm0 6h1v1h-1zm0 8h1v1h-1zm0 10h1v1h-1zm0 16h1v2h-1zm0 6h1v1h-1zm0 13h1v1h-1zm0 27h1v1h-1zm0 6h1v1h-1zm0 4h1v1h-1zm0 3h1v1h-1zm0 28h1v1h-1zm0 33h1v1h-1zm0 14h1v1h-1zm0 6h1v1h-1zm0 14h1v1h-1zm0 18h1v1h-1zm0 40h1v1h-1zm0 24h1v1h-1zm1 -366h1v1h-1zm0 12h1v1h-1zm0 7h1v2h-1zm0 28h1v1h-1zm0 5h1v1h-1zm0 4h1v1h-1zm0 2h1v1h-1zm0 3h1v1h-1zm0 27h1v1h-1zm0 4h1v1h-1zm0 14h1v1h-1zm0 3h1v1h-1zm0 12h1v1h-1zm0 28h1v1h-1zm0 21h1v1h-1zm0 7h1v1h-1zm0 10h1v1h-1zm0 12h1v1h-1zm0 7h1v1h-1zm0 23h1v1h-1zm0 14h1v1h-1zm0 37h1v1h-1zm0 34h1v1h-1zm1 -303h1v1h-1zm0 8h1v1h-1zm0 3h1v1h-1zm0 43h1v1h-1zm0 52h1v1h-1zm0 36h1v1h-1zm0 11h1v1h-1zm0 44h1v1h-1zm0 2h1v1h-1zm0 3h1v1h-1zm0 8h1v1h-1zm0 24h1v1h-1zm0 45h1v1h-1zm0 23h1v2h-1zm0 37h1v1h-1zm0 6h1v1h-1zm1 -356h1v2h-1zm0 14h1v1h-1zm0 8h1v1h-1zm0 35h1v1h-1zm0 3h1v1h-1zm0 69h1v1h-1zm0 30h1v1h-1zm0 3h1v1h-1zm0 7h1v1h-1zm0 29h1v1h-1zm0 5h1v1h-1zm0 16h1v2h-1zm0 11h1v1h-1zm0 4h1v1h-1zm0 40h1v1h-1zm0 21h1v1h-1zm0 6h1v1h-1zm0 19h1v1h-1zm0 7h1v1h-1zm0 15h1v1h-1zm0 18h1v1h-1zm0 2h1v1h-1zm0 2h1v1h-1zm0 8h1v1h-1zm1 -367h1v1h-1zm0 9h1v1h-1zm0 4h1v1h-1zm0 18h1v1h-1zm0 19h1v2h-1zm0 6h1v1h-1zm0 6h1v1h-1zm0 6h1v1h-1zm0 3h1v1h-1zm0 3h1v1h-1zm0 22h1v1h-1zm0 5h1v1h-1zm0 8h1v1h-1zm0 19h1v3h-1zm0 8h1v1h-1zm0 4h1v1h-1zm0 8h1v1h-1zm0 20h1v1h-1zm0 59h1v1h-1zm0 16h1v1h-1zm0 12h1v1h-1zm0 36h1v1h-1zm0 7h1v1h-1zm0 47h1v1h-1zm1 -330h1v1h-1zm0 39h1v1h-1zm0 8h1v1h-1zm0 2h1v1h-1zm0 2h1v1h-1zm0 16h1v1h-1zm0 10h1v2h-1zm0 7h1v1h-1zm0 14h1v1h-1zm0 11h1v1h-1zm0 2h1v1h-1zm0 73h1v1h-1zm0 14h1v1h-1zm0 12h1v1h-1zm0 8h1v1h-1zm0 25h1v1h-1zm0 83h1v1h-1zm0 4h1v1h-1zm0 6h1v1h-1zm0 2h1v1h-1zm0 3h1v2h-1zm1 -354h1v1h-1zm0 2h1v1h-1zm0 23h1v1h-1zm0 14h1v1h-1zm0 7h1v1h-1zm0 11h1v1h-1zm0 2h1v1h-1zm0 6h1v1h-1zm0 16h1v1h-1zm0 8h1v1h-1zm0 34h1v1h-1zm0 85h1v1h-1zm0 18h1v1h-1zm0 20h1v2h-1zm1 -229h1v2h-1zm0 27h1v1h-1zm0 2h1v1h-1zm0 15h1v1h-1zm0 6h1v1h-1zm0 5h1v1h-1zm0 5h1v1h-1zm0 27h1v1h-1zm0 17h1v1h-1zm0 2h1v1h-1zm0 10h1v1h-1zm0 14h1v1h-1zm0 29h1v1h-1zm0 37h1v1h-1zm0 14h1v1h-1zm0 5h1v1h-1zm0 3h1v1h-1zm0 8h1v1h-1zm0 14h1v1h-1zm0 22h1v1h-1zm0 29h1v1h-1zm0 10h1v1h-1zm0 23h1v1h-1zm0 23h1v1h-1zm1 -326h1v1h-1zm0 23h1v1h-1zm0 10h1v1h-1zm0 12h1v1h-1zm0 4h1v1h-1zm0 5h1v1h-1zm0 66h1v1h-1zm0 7h1v1h-1zm0 9h1v1h-1zm0 13h1v1h-1zm0 6h1v1h-1zm0 8h1v1h-1zm0 25h1v1h-1zm0 32h1v1h-1zm0 16h1v1h-1zm0 6h1v1h-1zm0 35h1v1h-1zm0 11h1v1h-1zm0 5h1v1h-1zm0 16h1v1h-1zm1 -358h1v1h-1zm0 25h1v1h-1zm0 31h1v1h-1zm0 14h1v1h-1zm0 94h1v1h-1zm0 4h1v1h-1zm0 14h1v1h-1zm0 3h1v1h-1zm0 5h1v1h-1zm0 3h1v1h-1zm0 39h1v1h-1zm0 29h1v1h-1zm0 29h1v1h-1zm0 2h1v1h-1zm0 7h1v1h-1zm0 25h1v1h-1zm0 7h1v1h-1zm0 19h1v1h-1zm1 -330h1v1h-1zm0 25h1v2h-1zm0 26h1v1h-1zm0 6h1v1h-1zm0 3h1v1h-1zm0 9h1v1h-1zm0 19h1v1h-1zm0 16h1v1h-1zm0 2h1v2h-1zm0 3h1v1h-1zm0 28h1v1h-1zm0 3h1v1h-1zm0 2h1v1h-1zm0 33h1v1h-1zm0 72h1v1h-1zm0 6h1v2h-1zm0 7h1v1h-1zm0 4h1v1h-1zm0 58h1v1h-1zm0 39h1v1h-1zm1 -372h1v1h-1zm0 33h1v2h-1zm0 31h1v1h-1zm0 18h1v1h-1zm0 3h1v1h-1zm0 43h1v1h-1zm0 26h1v1h-1zm0 10h1v1h-1zm0 15h1v1h-1zm0 8h1v1h-1zm0 19h1v1h-1zm0 15h1v1h-1zm0 9h1v1h-1zm0 33h1v1h-1zm0 29h1v1h-1zm0 26h1v1h-1zm0 19h1v1h-1zm0 10h1v1h-1zm0 4h1v2h-1zm1 -356h1v1h-1zm0 30h1v1h-1zm0 19h1v1h-1zm0 26h1v1h-1zm0 33h1v3h-1zm0 12h1v1h-1zm0 9h1v1h-1zm0 16h1v1h-1zm0 11h1v1h-1zm0 4h1v1h-1zm0 120h1v1h-1zm0 34h1v1h-1zm0 2h1v1h-1zm0 2h1v1h-1zm0 10h1v1h-1zm0 42h1v1h-1zm1 -373h1v1h-1zm0 34h1v1h-1zm0 11h1v1h-1zm0 6h1v1h-1zm0 3h1v1h-1zm0 8h1v1h-1zm0 2h1v1h-1zm0 9h1v1h-1zm0 6h1v1h-1zm0 6h1v1h-1zm0 8h1v1h-1zm0 7h1v1h-1zm0 11h1v1h-1zm0 11h1v1h-1zm0 17h1v1h-1zm0 7h1v1h-1zm0 11h1v1h-1zm0 30h1v1h-1zm0 3h1v1h-1zm0 17h1v1h-1zm0 2h1v1h-1zm0 16h1v1h-1zm0 3h1v1h-1zm0 26h1v1h-1zm0 9h1v1h-1zm0 8h1v1h-1zm0 78h1v1h-1zm0 10h1v1h-1zm0 16h1v1h-1zm1 -370h1v1h-1zm0 5h1v1h-1zm0 26h1v1h-1zm0 31h1v1h-1zm0 7h1v1h-1zm0 19h1v1h-1zm0 15h1v1h-1zm0 40h1v1h-1zm0 8h1v1h-1zm0 28h1v2h-1zm0 5h1v1h-1zm0 19h1v1h-1zm0 42h1v1h-1zm0 27h1v1h-1zm0 29h1v2h-1zm0 13h1v1h-1zm0 8h1v1h-1zm0 2h1v1h-1zm0 18h1v1h-1zm0 4h1v1h-1zm0 20h1v1h-1zm1 -319h1v1h-1zm0 56h1v1h-1zm0 6h1v1h-1zm0 15h1v1h-1zm0 18h1v1h-1zm0 17h1v1h-1zm0 9h1v1h-1zm0 5h1v1h-1zm0 48h1v1h-1zm0 30h1v1h-1zm0 40h1v1h-1zm0 8h1v1h-1zm0 13h1v1h-1zm0 9h1v1h-1zm0 11h1v1h-1zm0 3h1v1h-1zm0 5h1v1h-1zm0 6h1v1h-1zm0 10h1v1h-1zm0 5h1v1h-1zm1 -367h1v1h-1zm0 5h1v1h-1zm0 16h1v1h-1zm0 10h1v1h-1zm0 38h1v1h-1zm0 13h1v1h-1zm0 5h1v1h-1zm0 15h1v1h-1zm0 6h1v1h-1zm0 11h1v1h-1zm0 26h1v2h-1zm0 38h1v1h-1zm0 4h1v1h-1zm0 32h1v1h-1zm0 8h1v1h-1zm0 35h1v1h-1zm0 6h1v1h-1zm0 32h1v1h-1zm1 -300h1v1h-1zm0 21h1v1h-1zm0 16h1v1h-1zm0 13h1v2h-1zm0 5h1v1h-1zm0 29h1v1h-1zm0 14h1v1h-1zm0 6h1v1h-1zm0 4h1v1h-1zm0 4h1v1h-1zm0 18h1v1h-1zm0 10h1v1h-1zm0 27h1v1h-1zm0 13h1v1h-1zm0 34h1v1h-1zm0 5h1v1h-1zm0 6h1v1h-1zm0 2h1v1h-1zm0 25h1v1h-1zm0 8h1v1h-1zm0 3h1v1h-1zm0 13h1v1h-1zm0 23h1v1h-1zm0 12h1v1h-1zm1 -311h1v1h-1zm0 38h1v1h-1zm0 7h1v1h-1zm0 15h1v2h-1zm0 6h1v1h-1zm0 2h1v1h-1zm0 2h1v1h-1zm0 7h1v1h-1zm0 29h1v1h-1zm0 24h1v1h-1zm0 7h1v1h-1zm0 6h1v1h-1zm0 3h1v1h-1zm0 2h1v1h-1zm0 13h1v1h-1zm0 2h1v1h-1zm0 15h1v1h-1zm0 12h1v1h-1zm0 4h1v1h-1zm0 4h1v1h-1zm0 5h1v1h-1zm0 31h1v1h-1zm0 23h1v1h-1zm0 10h1v1h-1zm0 14h1v1h-1zm0 25h1v1h-1zm0 4h1v1h-1zm0 2h1v1h-1zm0 4h1v1h-1zm0 10h1v1h-1zm0 2h1v2h-1zm0 5h1v1h-1zm0 6h1v1h-1zm0 8h1v1h-1zm0 13h1v1h-1zm0 7h1v1h-1zm0 5h1v1h-1zm1 -359h1v1h-1zm0 5h1v1h-1zm0 29h1v1h-1zm0 12h1v1h-1zm0 6h1v1h-1zm0 7h1v1h-1zm0 28h1v1h-1zm0 11h1v1h-1zm0 25h1v1h-1zm0 3h1v1h-1zm0 19h1v1h-1zm0 14h1v1h-1zm0 2h1v1h-1zm0 112h1v1h-1zm0 4h1v1h-1zm0 13h1v1h-1zm0 21h1v1h-1zm0 24h1v1h-1zm1 -313h1v1h-1zm0 10h1v1h-1zm0 6h1v1h-1zm0 73h1v1h-1zm0 2h1v1h-1zm0 20h1v1h-1zm0 17h1v1h-1zm0 2h1v1h-1zm0 29h1v1h-1zm0 28h1v1h-1zm0 7h1v3h-1zm0 14h1v1h-1zm0 12h1v1h-1zm0 5h1v1h-1zm0 26h1v1h-1zm0 28h1v2h-1zm0 3h1v2h-1zm0 6h1v1h-1zm0 8h1v1h-1zm0 25h1v1h-1zm0 19h1v1h-1zm1 -370h1v1h-1zm0 5h1v1h-1zm0 7h1v1h-1zm0 21h1v1h-1zm0 6h1v1h-1zm0 21h1v1h-1zm0 10h1v2h-1zm0 23h1v1h-1zm0 4h1v1h-1zm0 11h1v1h-1zm0 4h1v1h-1zm0 7h1v1h-1zm0 9h1v1h-1zm0 3h1v1h-1zm0 20h1v1h-1zm0 54h1v1h-1zm0 22h1v1h-1zm0 18h1v1h-1zm0 14h1v1h-1zm0 25h1v1h-1zm0 5h1v1h-1zm0 11h1v1h-1zm0 5h1v1h-1zm0 30h1v1h-1zm0 20h1v1h-1zm0 14h1v1h-1zm1 -359h1v1h-1zm0 12h1v1h-1zm0 9h1v1h-1zm0 10h1v1h-1zm0 18h1v1h-1zm0 10h1v1h-1zm0 15h1v1h-1zm0 8h1v1h-1zm0 2h1v1h-1zm0 57h1v2h-1zm0 45h1v1h-1zm0 35h1v1h-1zm0 3h1v1h-1zm0 8h1v2h-1zm0 30h1v1h-1zm0 21h1v1h-1zm0 2h1v1h-1zm0 15h1v1h-1zm0 10h1v1h-1zm0 15h1v1h-1zm0 33h1v1h-1zm1 -351h1v1h-1zm0 3h1v1h-1zm0 26h1v1h-1zm0 23h1v1h-1zm0 3h1v2h-1zm0 7h1v1h-1zm0 4h1v2h-1zm0 71h1v1h-1zm0 13h1v1h-1zm0 42h1v1h-1zm0 3h1v1h-1zm0 14h1v1h-1zm0 3h1v1h-1zm0 8h1v1h-1zm0 2h1v1h-1zm0 10h1v1h-1zm0 9h1v1h-1zm0 22h1v1h-1zm0 3h1v1h-1zm0 2h1v1h-1zm0 8h1v1h-1zm0 35h1v1h-1zm0 4h1v1h-1zm0 5h1v1h-1zm1 -321h1v1h-1zm0 29h1v1h-1zm0 2h1v1h-1zm0 9h1v1h-1zm0 8h1v2h-1zm0 10h1v1h-1zm0 2h1v1h-1zm0 2h1v1h-1zm0 24h1v1h-1zm0 7h1v1h-1zm0 3h1v1h-1zm0 5h1v1h-1zm0 5h1v1h-1zm0 40h1v1h-1zm0 12h1v2h-1zm0 14h1v1h-1zm0 5h1v1h-1zm0 21h1v1h-1zm0 16h1v1h-1zm0 22h1v1h-1zm0 5h1v1h-1zm0 3h1v1h-1zm0 21h1v1h-1zm0 21h1v1h-1zm0 41h1v1h-1zm0 7h1v1h-1zm1 -352h1v1h-1zm0 14h1v1h-1zm0 16h1v1h-1zm0 51h1v1h-1zm0 26h1v1h-1zm0 93h1v1h-1zm0 10h1v1h-1zm0 12h1v1h-1zm0 14h1v1h-1zm0 22h1v1h-1zm0 5h1v1h-1zm0 3h1v1h-1zm0 26h1v2h-1zm0 6h1v1h-1zm0 33h1v1h-1zm0 35h1v1h-1zm1 -365h1v3h-1zm0 9h1v2h-1zm0 16h1v1h-1zm0 6h1v1h-1zm0 8h1v1h-1zm0 26h1v1h-1zm0 3h1v1h-1zm0 4h1v3h-1zm0 23h1v1h-1zm0 23h1v1h-1zm0 3h1v1h-1zm0 22h1v1h-1zm0 4h1v1h-1zm0 23h1v1h-1zm0 3h1v1h-1zm0 13h1v1h-1zm0 7h1v1h-1zm0 4h1v1h-1zm0 10h1v1h-1zm0 12h1v1h-1zm0 20h1v1h-1zm0 2h1v1h-1zm0 7h1v1h-1zm0 37h1v1h-1zm0 18h1v2h-1zm0 50h1v1h-1zm0 16h1v1h-1zm1 -354h1v2h-1zm0 5h1v1h-1zm0 7h1v1h-1zm0 23h1v1h-1zm0 29h1v1h-1zm0 11h1v1h-1zm0 20h1v1h-1zm0 5h1v1h-1zm0 27h1v1h-1zm0 23h1v1h-1zm0 7h1v1h-1zm0 23h1v1h-1zm0 14h1v1h-1zm0 8h1v1h-1zm0 14h1v1h-1zm0 17h1v1h-1zm0 19h1v1h-1zm0 7h1v1h-1zm0 3h1v1h-1zm0 39h1v1h-1zm0 6h1v1h-1zm0 34h1v1h-1zm0 10h1v1h-1zm1 -364h1v1h-1zm0 3h1v1h-1zm0 9h1v1h-1zm0 2h1v1h-1zm0 6h1v1h-1zm0 30h1v1h-1zm0 10h1v1h-1zm0 8h1v1h-1zm0 13h1v1h-1zm0 7h1v1h-1zm0 29h1v2h-1zm0 28h1v1h-1zm0 10h1v1h-1zm0 5h1v1h-1zm0 7h1v1h-1zm0 11h1v1h-1zm0 5h1v2h-1zm0 4h1v1h-1zm0 9h1v1h-1zm0 16h1v1h-1zm0 6h1v1h-1zm0 6h1v1h-1zm0 25h1v1h-1zm0 18h1v1h-1zm0 22h1v1h-1zm0 14h1v1h-1zm0 19h1v1h-1zm0 8h1v1h-1zm0 15h1v1h-1zm1 -350h1v1h-1zm0 15h1v2h-1zm0 3h1v1h-1zm0 36h1v1h-1zm0 8h1v1h-1zm0 12h1v1h-1zm0 7h1v1h-1zm0 3h1v1h-1zm0 37h1v1h-1zm0 18h1v1h-1zm0 16h1v1h-1zm0 20h1v1h-1zm0 23h1v1h-1zm0 33h1v1h-1zm0 8h1v1h-1zm0 6h1v1h-1zm0 48h1v2h-1zm0 16h1v1h-1zm0 4h1v1h-1zm0 41h1v1h-1zm0 21h1v1h-1zm1 -364h1v1h-1zm0 14h1v1h-1zm0 4h1v1h-1zm0 15h1v1h-1zm0 3h1v1h-1zm0 2h1v1h-1zm0 15h1v1h-1zm0 11h1v1h-1zm0 20h1v1h-1zm0 16h1v1h-1zm0 16h1v1h-1zm0 3h1v1h-1zm0 48h1v1h-1zm0 5h1v2h-1zm0 8h1v1h-1zm0 7h1v1h-1zm0 10h1v1h-1zm0 14h1v1h-1zm0 22h1v1h-1zm0 24h1v1h-1zm0 14h1v1h-1zm0 2h1v1h-1zm0 10h1v1h-1zm0 30h1v2h-1zm0 18h1v1h-1zm0 2h1v1h-1zm0 12h1v1h-1zm1 -283h1v1h-1zm0 20h1v1h-1zm0 4h1v1h-1zm0 42h1v1h-1zm0 12h1v1h-1zm0 4h1v1h-1zm0 2h1v1h-1zm0 10h1v1h-1zm0 20h1v1h-1zm0 2h1v1h-1zm0 21h1v1h-1zm0 10h1v1h-1zm0 48h1v1h-1zm0 5h1v1h-1zm0 16h1v1h-1zm0 29h1v1h-1zm0 10h1v1h-1zm0 15h1v1h-1zm0 24h1v1h-1zm1 -368h1v1h-1zm0 40h1v1h-1zm0 45h1v1h-1zm0 4h1v1h-1zm0 11h1v1h-1zm0 40h1v2h-1zm0 5h1v1h-1zm0 6h1v1h-1zm0 4h1v1h-1zm0 25h1v1h-1zm0 13h1v2h-1zm0 9h1v1h-1zm0 15h1v1h-1zm0 22h1v1h-1zm0 10h1v1h-1zm0 16h1v1h-1zm0 9h1v1h-1zm0 36h1v1h-1zm0 14h1v1h-1zm0 6h1v1h-1zm0 4h1v2h-1zm0 5h1v1h-1zm0 16h1v1h-1zm1 -344h1v1h-1zm0 3h1v1h-1zm0 10h1v1h-1zm0 26h1v1h-1zm0 13h1v1h-1zm0 19h1v1h-1zm0 11h1v1h-1zm0 8h1v1h-1zm0 8h1v1h-1zm0 22h1v1h-1zm0 16h1v1h-1zm0 14h1v1h-1zm0 2h1v1h-1zm0 13h1v1h-1zm0 12h1v1h-1zm0 45h1v1h-1zm0 6h1v1h-1zm0 8h1v1h-1zm0 14h1v1h-1zm0 7h1v1h-1zm0 5h1v1h-1zm0 3h1v1h-1zm0 4h1v1h-1zm0 4h1v1h-1zm0 8h1v1h-1zm0 5h1v1h-1zm0 2h1v1h-1zm0 29h1v1h-1zm1 -309h1v1h-1zm0 15h1v1h-1zm0 29h1v1h-1zm0 6h1v1h-1zm0 7h1v1h-1zm0 15h1v1h-1zm0 9h1v1h-1zm0 5h1v1h-1zm0 28h1v1h-1zm0 11h1v1h-1zm0 64h1v1h-1zm0 3h1v1h-1zm0 12h1v1h-1zm0 7h1v1h-1zm0 3h1v1h-1zm0 2h1v1h-1zm0 8h1v1h-1zm0 34h1v1h-1zm0 14h1v1h-1zm0 12h1v1h-1zm0 6h1v1h-1zm0 12h1v1h-1zm0 5h1v1h-1zm0 16h1v1h-1zm0 19h1v1h-1zm0 8h1v1h-1zm1 -343h1v1h-1zm0 17h1v1h-1zm0 13h1v1h-1zm0 2h1v1h-1zm0 18h1v2h-1zm0 19h1v1h-1zm0 30h1v1h-1zm0 18h1v1h-1zm0 4h1v1h-1zm0 8h1v1h-1zm0 22h1v1h-1zm0 2h1v1h-1zm0 48h1v1h-1zm0 4h1v1h-1zm0 5h1v1h-1zm0 6h1v1h-1zm0 5h1v1h-1zm0 7h1v1h-1zm0 10h1v1h-1zm0 19h1v2h-1zm0 7h1v1h-1zm0 4h1v1h-1zm0 8h1v1h-1zm0 5h1v1h-1zm0 49h1v1h-1zm0 2h1v1h-1zm0 8h1v1h-1zm1 -313h1v1h-1zm0 14h1v1h-1zm0 12h1v1h-1zm0 8h1v1h-1zm0 15h1v1h-1zm0 7h1v1h-1zm0 72h1v1h-1zm0 5h1v1h-1zm0 72h1v1h-1zm0 29h1v1h-1zm1 -282h1v1h-1zm0 16h1v2h-1zm0 16h1v1h-1zm0 12h1v1h-1zm0 10h1v1h-1zm0 2h1v1h-1zm0 60h1v1h-1zm0 2h1v1h-1zm0 15h1v1h-1zm0 14h1v1h-1zm0 34h1v1h-1zm0 5h1v1h-1zm0 29h1v1h-1zm0 39h1v1h-1zm0 25h1v1h-1zm0 2h1v1h-1zm0 12h1v1h-1zm0 29h1v1h-1zm0 8h1v2h-1zm0 7h1v1h-1zm1 -308h1v1h-1zm0 14h1v1h-1zm0 16h1v1h-1zm0 13h1v1h-1zm0 2h1v1h-1zm0 7h1v1h-1zm0 17h1v1h-1zm0 4h1v1h-1zm0 6h1v1h-1zm0 11h1v1h-1zm0 27h1v2h-1zm0 25h1v1h-1zm0 6h1v1h-1zm0 37h1v1h-1zm0 6h1v1h-1zm0 26h1v1h-1zm0 16h1v1h-1zm0 13h1v1h-1zm0 13h1v1h-1zm0 3h1v1h-1zm0 5h1v1h-1zm0 29h1v1h-1zm0 23h1v1h-1zm0 2h1v1h-1zm1 -344h1v1h-1zm0 54h1v1h-1zm0 4h1v1h-1zm0 2h1v1h-1zm0 12h1v1h-1zm0 10h1v1h-1zm0 15h1v1h-1zm0 7h1v1h-1zm0 4h1v2h-1zm0 7h1v1h-1zm0 18h1v1h-1zm0 31h1v1h-1zm0 39h1v1h-1zm0 6h1v1h-1zm0 6h1v1h-1zm0 45h1v1h-1zm0 73h1v1h-1zm1 -327h1v1h-1zm0 9h1v1h-1zm0 47h1v3h-1zm0 31h1v1h-1zm0 4h1v1h-1zm0 25h1v1h-1zm0 6h1v1h-1zm0 4h1v1h-1zm0 9h1v1h-1zm0 5h1v1h-1zm0 8h1v1h-1zm0 30h1v1h-1zm0 3h1v1h-1zm0 3h1v1h-1zm0 27h1v1h-1zm0 33h1v1h-1zm0 26h1v1h-1zm0 16h1v1h-1zm0 2h1v1h-1zm0 9h1v1h-1zm0 10h1v1h-1zm0 12h1v1h-1zm0 31h1v1h-1zm0 7h1v1h-1zm1 -363h1v2h-1zm0 9h1v1h-1zm0 8h1v1h-1zm0 6h1v2h-1zm0 46h1v1h-1zm0 17h1v1h-1zm0 15h1v1h-1zm0 14h1v1h-1zm0 20h1v2h-1zm0 26h1v1h-1zm0 12h1v1h-1zm0 6h1v1h-1zm0 9h1v1h-1zm0 7h1v1h-1zm0 17h1v1h-1zm0 25h1v1h-1zm0 6h1v1h-1zm0 39h1v1h-1zm0 20h1v2h-1zm0 43h1v1h-1zm0 11h1v2h-1zm1 -358h1v2h-1zm0 37h1v1h-1zm0 7h1v1h-1zm0 33h1v1h-1zm0 26h1v1h-1zm0 13h1v1h-1zm0 38h1v1h-1zm0 5h1v1h-1zm0 22h1v1h-1zm0 90h1v1h-1zm0 6h1v1h-1zm0 19h1v1h-1zm0 7h1v1h-1zm0 2h1v1h-1zm1 -308h1v1h-1zm0 29h1v1h-1zm0 10h1v1h-1zm0 15h1v1h-1zm0 48h1v1h-1zm0 19h1v2h-1zm0 19h1v1h-1zm0 2h1v1h-1zm0 7h1v1h-1zm0 11h1v1h-1zm0 2h1v1h-1zm0 44h1v1h-1zm0 66h1v1h-1zm0 3h1v1h-1zm0 7h1v1h-1zm0 9h1v1h-1zm0 2h1v1h-1zm0 32h1v1h-1zm0 20h1v1h-1zm0 6h1v1h-1zm0 17h1v1h-1zm1 -352h1v1h-1zm0 27h1v1h-1zm0 49h1v1h-1zm0 43h1v1h-1zm0 34h1v1h-1zm0 42h1v1h-1zm0 9h1v1h-1zm0 6h1v1h-1zm0 3h1v1h-1zm0 18h1v1h-1zm0 2h1v1h-1zm0 7h1v1h-1zm0 20h1v1h-1zm0 2h1v2h-1zm0 7h1v1h-1zm0 17h1v1h-1zm0 5h1v1h-1zm0 8h1v1h-1zm0 23h1v1h-1zm0 11h1v1h-1zm0 13h1v1h-1zm0 2h1v1h-1zm0 2h1v1h-1zm1 -339h1v1h-1zm0 3h1v1h-1zm0 54h1v1h-1zm0 36h1v1h-1zm0 18h1v1h-1zm0 14h1v1h-1zm0 4h1v1h-1zm0 12h1v1h-1zm0 9h1v1h-1zm0 18h1v1h-1zm0 9h1v1h-1zm0 27h1v1h-1zm0 5h1v1h-1zm0 5h1v1h-1zm0 12h1v1h-1zm0 13h1v1h-1zm0 5h1v1h-1zm0 22h1v1h-1zm0 4h1v1h-1zm0 4h1v1h-1zm0 3h1v1h-1zm0 11h1v1h-1zm0 6h1v1h-1zm0 9h1v1h-1zm0 14h1v1h-1zm0 3h1v1h-1zm1 -339h1v1h-1zm0 22h1v1h-1zm0 2h1v1h-1zm0 12h1v1h-1zm0 2h1v1h-1zm0 11h1v1h-1zm0 9h1v1h-1zm0 3h1v1h-1zm0 7h1v1h-1zm0 3h1v2h-1zm0 6h1v1h-1zm0 34h1v1h-1zm0 3h1v1h-1zm0 28h1v1h-1zm0 2h1v1h-1zm0 66h1v1h-1zm0 3h1v1h-1zm0 7h1v1h-1zm0 3h1v1h-1zm0 8h1v1h-1zm0 40h1v1h-1zm0 7h1v1h-1zm0 9h1v1h-1zm0 3h1v1h-1zm0 26h1v1h-1zm0 39h1v1h-1zm1 -351h1v1h-1zm0 6h1v1h-1zm0 40h1v1h-1zm0 31h1v1h-1zm0 20h1v1h-1zm0 8h1v1h-1zm0 2h1v1h-1zm0 3h1v1h-1zm0 39h1v1h-1zm0 52h1v1h-1zm0 40h1v1h-1zm0 2h1v1h-1zm0 9h1v1h-1zm0 10h1v1h-1zm0 11h1v1h-1zm0 16h1v1h-1zm0 5h1v1h-1zm0 7h1v1h-1zm0 4h1v2h-1zm0 18h1v1h-1zm0 4h1v1h-1zm0 21h1v1h-1zm0 18h1v1h-1zm1 -370h1v1h-1zm0 10h1v1h-1zm0 16h1v1h-1zm0 11h1v1h-1zm0 40h1v1h-1zm0 5h1v1h-1zm0 9h1v1h-1zm0 35h1v1h-1zm0 10h1v1h-1zm0 17h1v1h-1zm0 20h1v1h-1zm0 9h1v1h-1zm0 6h1v1h-1zm0 29h1v1h-1zm0 11h1v1h-1zm0 21h1v1h-1zm0 3h1v1h-1zm0 7h1v1h-1zm0 33h1v1h-1zm0 14h1v1h-1zm0 15h1v2h-1zm1 -319h1v1h-1zm0 21h1v1h-1zm0 27h1v1h-1zm0 25h1v1h-1zm0 6h1v1h-1zm0 39h1v1h-1zm0 20h1v1h-1zm0 18h1v1h-1zm0 17h1v1h-1zm0 35h1v1h-1zm0 8h1v1h-1zm0 7h1v1h-1zm0 14h1v1h-1zm0 9h1v1h-1zm0 9h1v1h-1zm0 3h1v1h-1zm0 4h1v1h-1zm0 10h1v1h-1zm0 3h1v1h-1zm0 42h1v1h-1zm1 -331h1v1h-1zm0 4h1v1h-1zm0 6h1v1h-1zm0 22h1v1h-1zm0 32h1v1h-1zm0 45h1v1h-1zm0 46h1v1h-1zm0 2h1v1h-1zm0 27h1v1h-1zm0 8h1v1h-1zm0 33h1v1h-1zm0 34h1v1h-1zm0 13h1v1h-1zm0 11h1v1h-1zm0 12h1v1h-1zm0 6h1v1h-1zm0 2h1v2h-1zm0 15h1v3h-1zm0 6h1v1h-1zm0 9h1v1h-1zm0 13h1v1h-1zm1 -345h1v1h-1zm0 17h1v1h-1zm0 3h1v1h-1zm0 36h1v1h-1zm0 16h1v1h-1zm0 24h1v1h-1zm0 11h1v1h-1zm0 18h1v1h-1zm0 3h1v1h-1zm0 27h1v1h-1zm0 2h1v1h-1zm0 30h1v1h-1zm0 18h1v1h-1zm0 3h1v1h-1zm0 25h1v1h-1zm0 15h1v1h-1zm0 5h1v1h-1zm0 18h1v1h-1zm0 54h1v1h-1zm0 13h1v1h-1zm0 14h1v1h-1zm0 10h1v1h-1zm1 -356h1v1h-1zm0 15h1v1h-1zm0 6h1v1h-1zm0 35h1v1h-1zm0 48h1v1h-1zm0 36h1v1h-1zm0 7h1v1h-1zm0 11h1v1h-1zm0 9h1v1h-1zm0 30h1v1h-1zm0 10h1v1h-1zm0 22h1v1h-1zm0 16h1v1h-1zm0 19h1v1h-1zm0 12h1v1h-1zm0 22h1v1h-1zm0 7h1v1h-1zm0 10h1v1h-1zm0 12h1v1h-1zm0 4h1v1h-1zm0 2h1v1h-1zm0 19h1v1h-1zm1 -354h1v1h-1zm0 25h1v1h-1zm0 2h1v1h-1zm0 48h1v1h-1zm0 3h1v1h-1zm0 25h1v1h-1zm0 6h1v1h-1zm0 27h1v1h-1zm0 8h1v1h-1zm0 23h1v1h-1zm0 12h1v1h-1zm0 18h1v1h-1zm0 12h1v1h-1zm0 26h1v1h-1zm0 9h1v1h-1zm0 13h1v1h-1zm0 7h1v1h-1zm0 17h1v1h-1zm0 3h1v1h-1zm0 38h1v1h-1zm0 33h1v1h-1zm1 -360h1v1h-1zm0 16h1v1h-1zm0 22h1v1h-1zm0 15h1v1h-1zm0 4h1v1h-1zm0 8h1v1h-1zm0 2h1v1h-1zm0 46h1v1h-1zm0 13h1v1h-1zm0 19h1v1h-1zm0 5h1v1h-1zm0 22h1v1h-1zm0 80h1v1h-1zm0 46h1v1h-1zm0 20h1v1h-1zm0 12h1v1h-1zm0 3h1v1h-1zm0 37h1v1h-1zm1 -367h1v1h-1zm0 4h1v1h-1zm0 68h1v2h-1zm0 6h1v1h-1zm0 69h1v1h-1zm0 2h1v2h-1zm0 35h1v1h-1zm0 5h1v1h-1zm0 15h1v1h-1zm0 6h1v1h-1zm0 10h1v1h-1zm0 39h1v1h-1zm0 14h1v1h-1zm0 9h1v1h-1zm0 25h1v1h-1zm0 52h1v1h-1zm1 -338h1v3h-1zm0 6h1v1h-1zm0 41h1v1h-1zm0 19h1v1h-1zm0 37h1v1h-1zm0 42h1v1h-1zm0 14h1v1h-1zm0 13h1v1h-1zm0 5h1v1h-1zm0 12h1v1h-1zm0 8h1v1h-1zm0 13h1v1h-1zm0 19h1v1h-1zm0 9h1v2h-1zm0 3h1v1h-1zm0 2h1v1h-1zm0 41h1v1h-1zm0 14h1v1h-1zm0 41h1v1h-1zm1 -365h1v1h-1zm0 16h1v2h-1zm0 7h1v1h-1zm0 2h1v1h-1zm0 5h1v1h-1zm0 32h1v1h-1zm0 16h1v1h-1zm0 49h1v1h-1zm0 12h1v2h-1zm0 31h1v1h-1zm0 23h1v1h-1zm0 10h1v1h-1zm0 60h1v1h-1zm0 21h1v1h-1zm0 12h1v1h-1zm0 20h1v1h-1zm0 7h1v1h-1zm0 17h1v1h-1zm0 24h1v1h-1zm0 3h1v1h-1zm1 -362h1v1h-1zm0 43h1v1h-1zm0 23h1v1h-1zm0 3h1v1h-1zm0 31h1v1h-1zm0 5h1v1h-1zm0 2h1v1h-1zm0 11h1v1h-1zm0 17h1v1h-1zm0 4h1v1h-1zm0 58h1v1h-1zm0 12h1v1h-1zm0 23h1v1h-1zm0 7h1v1h-1zm0 14h1v1h-1zm0 43h1v1h-1zm0 3h1v1h-1zm0 3h1v1h-1zm0 30h1v1h-1zm0 23h1v1h-1zm1 -360h1v1h-1zm0 23h1v1h-1zm0 12h1v1h-1zm0 3h1v1h-1zm0 3h1v2h-1zm0 19h1v1h-1zm0 10h1v1h-1zm0 21h1v1h-1zm0 6h1v2h-1zm0 7h1v1h-1zm0 8h1v1h-1zm0 32h1v1h-1zm0 9h1v1h-1zm0 35h1v1h-1zm0 20h1v1h-1zm0 10h1v1h-1zm0 9h1v1h-1zm0 67h1v1h-1zm0 7h1v1h-1zm0 15h1v1h-1zm0 37h1v1h-1zm0 3h1v1h-1zm0 6h1v1h-1zm0 8h1v1h-1zm1 -351h1v1h-1zm0 33h1v1h-1zm0 18h1v2h-1zm0 3h1v1h-1zm0 19h1v1h-1zm0 40h1v1h-1zm0 49h1v1h-1zm0 16h1v1h-1zm0 20h1v1h-1zm0 6h1v1h-1zm0 6h1v1h-1zm0 14h1v1h-1zm0 43h1v1h-1zm0 6h1v1h-1zm0 21h1v1h-1zm0 2h1v1h-1zm0 7h1v1h-1zm0 8h1v1h-1zm0 21h1v1h-1zm1 -348h1v1h-1zm0 28h1v1h-1zm0 23h1v1h-1zm0 13h1v1h-1zm0 11h1v1h-1zm0 25h1v1h-1zm0 4h1v1h-1zm0 2h1v1h-1zm0 8h1v1h-1zm0 22h1v1h-1zm0 31h1v1h-1zm0 21h1v1h-1zm0 2h1v1h-1zm0 8h1v1h-1zm0 3h1v1h-1zm0 13h1v1h-1zm0 14h1v1h-1zm0 50h1v1h-1zm0 9h1v1h-1zm0 26h1v1h-1zm0 12h1v1h-1zm0 41h1v1h-1zm1 -360h1v1h-1zm0 69h1v1h-1zm0 28h1v1h-1zm0 14h1v1h-1zm0 54h1v1h-1zm0 15h1v1h-1zm0 13h1v1h-1zm0 42h1v1h-1zm0 16h1v1h-1zm0 13h1v1h-1zm0 57h1v1h-1zm0 7h1v1h-1zm1 -334h1v1h-1zm0 16h1v1h-1zm0 9h1v1h-1zm0 8h1v1h-1zm0 7h1v1h-1zm0 23h1v1h-1zm0 27h1v1h-1zm0 4h1v1h-1zm0 9h1v1h-1zm0 45h1v1h-1zm0 4h1v1h-1zm0 41h1v1h-1zm0 15h1v2h-1zm0 26h1v1h-1zm0 21h1v1h-1zm0 76h1v1h-1zm0 4h1v1h-1zm0 11h1v1h-1zm0 8h1v1h-1zm1 -354h1v1h-1zm0 12h1v2h-1zm0 24h1v1h-1zm0 16h1v1h-1zm0 4h1v1h-1zm0 3h1v1h-1zm0 17h1v1h-1zm0 2h1v1h-1zm0 47h1v1h-1zm0 3h1v1h-1zm0 7h1v1h-1zm0 17h1v1h-1zm0 31h1v2h-1zm0 11h1v1h-1zm0 2h1v1h-1zm0 2h1v1h-1zm0 13h1v1h-1zm0 12h1v1h-1zm0 3h1v1h-1zm0 28h1v1h-1zm0 23h1v1h-1zm0 13h1v1h-1zm0 3h1v1h-1zm0 8h1v1h-1zm0 8h1v1h-1zm0 21h1v1h-1zm0 7h1v1h-1zm0 12h1v1h-1zm0 5h1v1h-1zm0 12h1v1h-1zm1 -330h1v1h-1zm0 25h1v1h-1zm0 10h1v1h-1zm0 10h1v1h-1zm0 14h1v1h-1zm0 4h1v1h-1zm0 12h1v1h-1zm0 4h1v1h-1zm0 5h1v1h-1zm0 3h1v1h-1zm0 2h1v1h-1zm0 5h1v1h-1zm0 2h1v1h-1zm0 40h1v1h-1zm0 42h1v1h-1zm0 3h1v1h-1zm0 27h1v1h-1zm0 39h1v1h-1zm0 11h1v1h-1zm0 11h1v1h-1zm0 22h1v1h-1zm0 25h1v1h-1zm1 -324h1v1h-1zm0 5h1v1h-1zm0 3h1v1h-1zm0 9h1v1h-1zm0 53h1v1h-1zm0 12h1v1h-1zm0 7h1v1h-1zm0 2h1v1h-1zm0 74h1v1h-1zm0 19h1v1h-1zm0 9h1v1h-1zm0 24h1v1h-1zm0 11h1v1h-1zm0 4h1v1h-1zm0 43h1v1h-1zm0 10h1v1h-1zm0 36h1v1h-1zm1 -352h1v1h-1zm0 6h1v1h-1zm0 34h1v1h-1zm0 6h1v1h-1zm0 6h1v1h-1zm0 24h1v1h-1zm0 10h1v1h-1zm0 5h1v1h-1zm0 10h1v1h-1zm0 8h1v1h-1zm0 8h1v1h-1zm0 7h1v1h-1zm0 7h1v1h-1zm0 20h1v1h-1zm0 5h1v1h-1zm0 3h1v1h-1zm0 16h1v1h-1zm0 17h1v1h-1zm0 6h1v1h-1zm0 12h1v1h-1zm0 31h1v1h-1zm0 7h1v1h-1zm0 10h1v1h-1zm0 7h1v1h-1zm0 11h1v1h-1zm0 10h1v1h-1zm0 2h1v1h-1zm0 10h1v1h-1zm0 32h1v1h-1zm0 27h1v1h-1zm1 -354h1v1h-1zm0 10h1v1h-1zm0 6h1v1h-1zm0 2h1v1h-1zm0 9h1v1h-1zm0 4h1v1h-1zm0 47h1v1h-1zm0 25h1v1h-1zm0 25h1v1h-1zm0 8h1v1h-1zm0 14h1v1h-1zm0 17h1v1h-1zm0 8h1v1h-1zm0 9h1v1h-1zm0 117h1v1h-1zm1 -298h1v1h-1zm0 5h1v1h-1zm0 13h1v1h-1zm0 48h1v1h-1zm0 3h1v1h-1zm0 16h1v1h-1zm0 26h1v1h-1zm0 35h1v1h-1zm0 5h1v1h-1zm0 31h1v1h-1zm0 16h1v1h-1zm0 5h1v1h-1zm0 5h1v1h-1zm0 21h1v1h-1zm0 6h1v1h-1zm0 9h1v1h-1zm0 17h1v1h-1zm0 6h1v1h-1zm0 24h1v1h-1zm0 5h1v1h-1zm0 10h1v1h-1zm0 28h1v1h-1zm0 15h1v2h-1zm1 -345h1v1h-1zm0 31h1v1h-1zm0 4h1v1h-1zm0 3h1v1h-1zm0 6h1v1h-1zm0 2h1v2h-1zm0 7h1v1h-1zm0 40h1v1h-1zm0 80h1v1h-1zm0 32h1v1h-1zm0 35h1v1h-1zm0 7h1v1h-1zm0 13h1v1h-1zm0 27h1v1h-1zm0 8h1v1h-1zm0 25h1v1h-1zm0 3h1v1h-1zm0 32h1v1h-1zm1 -357h1v1h-1zm0 10h1v1h-1zm0 28h1v1h-1zm0 49h1v1h-1zm0 12h1v1h-1zm0 10h1v1h-1zm0 11h1v1h-1zm0 10h1v1h-1zm0 6h1v1h-1zm0 32h1v1h-1zm0 14h1v1h-1zm0 15h1v1h-1zm0 7h1v1h-1zm0 7h1v1h-1zm0 12h1v1h-1zm0 5h1v1h-1zm0 30h1v1h-1zm0 19h1v2h-1zm0 21h1v1h-1zm0 26h1v1h-1zm0 7h1v1h-1zm1 -308h1v1h-1zm0 5h1v1h-1zm0 23h1v1h-1zm0 40h1v1h-1zm0 17h1v1h-1zm0 23h1v1h-1zm0 41h1v1h-1zm0 26h1v1h-1zm0 22h1v2h-1zm0 27h1v1h-1zm0 11h1v1h-1zm0 26h1v1h-1zm0 12h1v1h-1zm0 25h1v1h-1zm0 13h1v2h-1zm0 5h1v2h-1zm0 9h1v1h-1zm0 2h1v1h-1zm1 -356h1v1h-1zm0 26h1v1h-1zm0 3h1v1h-1zm0 3h1v1h-1zm0 19h1v1h-1zm0 12h1v1h-1zm0 19h1v1h-1zm0 20h1v1h-1zm0 9h1v1h-1zm0 8h1v1h-1zm0 5h1v1h-1zm0 10h1v1h-1zm0 18h1v1h-1zm0 45h1v1h-1zm0 8h1v1h-1zm0 29h1v1h-1zm0 30h1v1h-1zm0 25h1v1h-1zm1 -283h1v1h-1zm0 5h1v1h-1zm0 8h1v1h-1zm0 19h1v2h-1zm0 84h1v1h-1zm0 4h1v1h-1zm0 44h1v1h-1zm0 11h1v1h-1zm0 16h1v1h-1zm0 27h1v1h-1zm0 38h1v1h-1zm0 66h1v1h-1zm0 42h1v1h-1zm0 5h1v2h-1zm1 -377h1v1h-1zm0 24h1v1h-1zm0 5h1v1h-1zm0 23h1v1h-1zm0 7h1v1h-1zm0 10h1v1h-1zm0 12h1v1h-1zm0 6h1v1h-1zm0 3h1v1h-1zm0 34h1v1h-1zm0 3h1v1h-1zm0 5h1v1h-1zm0 3h1v1h-1zm0 42h1v1h-1zm0 49h1v1h-1zm0 12h1v1h-1zm0 78h1v1h-1zm0 24h1v1h-1zm1 -330h1v1h-1zm0 31h1v1h-1zm0 28h1v1h-1zm0 19h1v1h-1zm0 5h1v2h-1zm0 5h1v1h-1zm0 21h1v2h-1zm0 5h1v1h-1zm0 10h1v1h-1zm0 5h1v1h-1zm0 4h1v1h-1zm0 42h1v1h-1zm0 4h1v1h-1zm0 5h1v1h-1zm0 22h1v1h-1zm0 3h1v1h-1zm0 5h1v1h-1zm0 13h1v1h-1zm0 31h1v1h-1zm0 12h1v1h-1zm0 2h1v1h-1zm0 2h1v1h-1zm0 80h1v1h-1zm1 -346h1v1h-1zm0 2h1v1h-1zm0 2h1v1h-1zm0 3h1v1h-1zm0 41h1v1h-1zm0 3h1v1h-1zm0 6h1v1h-1zm0 8h1v1h-1zm0 10h1v1h-1zm0 61h1v1h-1zm0 5h1v1h-1zm0 10h1v1h-1zm0 32h1v1h-1zm0 85h1v1h-1zm0 3h1v1h-1zm0 9h1v1h-1zm0 47h1v1h-1zm0 2h1v1h-1zm0 8h1v1h-1zm0 7h1v1h-1zm1 -362h1v1h-1zm0 42h1v1h-1zm0 11h1v1h-1zm0 7h1v1h-1zm0 10h1v1h-1zm0 11h1v1h-1zm0 2h1v1h-1zm0 6h1v1h-1zm0 31h1v1h-1zm0 12h1v1h-1zm0 34h1v1h-1zm0 6h1v1h-1zm0 18h1v1h-1zm0 7h1v1h-1zm0 29h1v1h-1zm0 28h1v2h-1zm0 51h1v1h-1zm0 14h1v1h-1zm0 4h1v1h-1zm0 5h1v1h-1zm0 14h1v1h-1zm0 9h1v1h-1zm0 2h1v1h-1zm0 2h1v1h-1zm0 5h1v1h-1zm0 5h1v1h-1zm1 -343h1v1h-1zm0 17h1v1h-1zm0 26h1v1h-1zm0 21h1v1h-1zm0 9h1v1h-1zm0 13h1v1h-1zm0 8h1v1h-1zm0 84h1v1h-1zm0 19h1v1h-1zm0 4h1v1h-1zm0 15h1v1h-1zm0 15h1v1h-1zm0 9h1v1h-1zm0 26h1v1h-1zm0 6h1v1h-1zm0 30h1v1h-1zm0 21h1v1h-1zm0 15h1v1h-1zm0 4h1v1h-1zm1 -361h1v1h-1zm0 12h1v1h-1zm0 21h1v1h-1zm0 8h1v1h-1zm0 12h1v1h-1zm0 2h1v1h-1zm0 16h1v1h-1zm0 3h1v1h-1zm0 20h1v1h-1zm0 9h1v1h-1zm0 17h1v1h-1zm0 11h1v1h-1zm0 11h1v1h-1zm0 13h1v1h-1zm0 19h1v1h-1zm0 5h1v1h-1zm0 10h1v1h-1zm0 9h1v1h-1zm0 54h1v1h-1zm0 3h1v1h-1zm0 9h1v1h-1zm0 16h1v1h-1zm0 11h1v1h-1zm0 40h1v1h-1zm0 9h1v1h-1zm1 -192h1v1h-1zm0 4h1v1h-1zm0 4h1v1h-1zm0 11h1v1h-1zm0 20h1v1h-1zm0 9h1v1h-1zm0 71h1v1h-1zm0 56h1v1h-1zm0 9h1v1h-1zm0 22h1v2h-1zm1 -345h1v1h-1zm0 3h1v1h-1zm0 2h1v1h-1zm0 19h1v1h-1zm0 22h1v1h-1zm0 8h1v1h-1zm0 19h1v1h-1zm0 11h1v1h-1zm0 13h1v1h-1zm0 10h1v1h-1zm0 21h1v1h-1zm0 77h1v1h-1zm0 14h1v2h-1zm0 28h1v1h-1zm0 14h1v1h-1zm0 15h1v1h-1zm0 17h1v1h-1zm0 2h1v1h-1zm0 18h1v1h-1zm0 6h1v1h-1zm0 17h1v1h-1zm0 4h1v1h-1zm1 -348h1v2h-1zm0 9h1v2h-1zm0 56h1v1h-1zm0 14h1v1h-1zm0 7h1v1h-1zm0 9h1v1h-1zm0 3h1v2h-1zm0 24h1v1h-1zm0 5h1v1h-1zm0 12h1v1h-1zm0 6h1v1h-1zm0 18h1v1h-1zm0 3h1v1h-1zm0 2h1v1h-1zm0 57h1v2h-1zm0 20h1v1h-1zm0 4h1v1h-1zm0 29h1v1h-1zm0 23h1v1h-1zm0 8h1v1h-1zm0 12h1v1h-1zm0 33h1v1h-1zm2 -342h1v1h-1zm0 35h1v1h-1zm0 50h1v3h-1zm0 81h1v1h-1zm0 3h1v1h-1zm0 26h1v1h-1zm0 69h1v1h-1zm0 10h1v1h-1zm0 14h1v1h-1zm0 5h1v1h-1zm0 27h1v1h-1zm0 27h1v1h-1zm0 8h1v1h-1zm2 -369h1v1h-1zm0 10h1v1h-1zm0 5h1v1h-1zm0 17h1v1h-1zm0 24h1v1h-1zm0 8h1v1h-1zm0 6h1v1h-1zm0 2h1v1h-1zm0 14h1v1h-1zm0 17h1v1h-1zm0 5h1v1h-1zm0 5h1v1h-1zm0 18h1v1h-1zm0 24h1v1h-1zm0 2h1v1h-1zm0 35h1v1h-1zm0 3h1v1h-1zm0 3h1v1h-1zm0 9h1v1h-1zm0 18h1v1h-1zm0 7h1v1h-1zm0 22h1v1h-1zm0 6h1v1h-1zm0 9h1v1h-1zm0 4h1v1h-1zm0 28h1v1h-1zm0 13h1v1h-1zm0 2h1v1h-1zm0 6h1v1h-1zm0 27h1v2h-1zm0 20h1v1h-1zm0 2h1v1h-1zm2 -359h1v1h-1zm0 23h1v1h-1zm0 7h1v1h-1zm0 40h1v1h-1zm0 6h1v1h-1zm0 7h1v1h-1zm0 11h1v1h-1zm0 4h1v1h-1zm0 27h1v1h-1zm0 2h1v1h-1zm0 12h1v1h-1zm0 2h1v1h-1zm0 14h1v1h-1zm0 3h1v1h-1zm0 18h1v1h-1zm0 73h1v1h-1zm0 2h1v1h-1zm0 32h1v1h-1zm0 6h1v1h-1zm0 3h1v1h-1zm2 -277h1v1h-1zm0 11h1v1h-1zm0 2h1v1h-1zm0 7h1v1h-1zm0 10h1v1h-1zm0 3h1v1h-1zm0 26h1v1h-1zm0 17h1v1h-1zm0 10h1v1h-1zm0 21h1v1h-1zm0 31h1v2h-1zm0 20h1v1h-1zm0 7h1v1h-1zm0 15h1v1h-1zm0 5h1v1h-1zm0 4h1v1h-1zm0 16h1v1h-1zm0 27h1v1h-1zm0 12h1v1h-1zm0 41h1v1h-1zm0 26h1v1h-1zm2 -321h1v1h-1zm0 15h1v1h-1zm0 3h1v1h-1zm0 3h1v1h-1zm0 9h1v1h-1zm0 25h1v1h-1zm0 6h1v1h-1zm0 17h1v1h-1zm0 27h1v2h-1zm0 8h1v1h-1zm0 2h1v1h-1zm0 15h1v3h-1zm0 6h1v1h-1zm0 52h1v1h-1zm0 15h1v1h-1zm0 17h1v1h-1zm0 8h1v1h-1zm0 7h1v1h-1zm0 70h1v1h-1zm0 20h1v1h-1zm2 -332h1v1h-1zm0 30h1v2h-1zm0 7h1v1h-1zm0 14h1v1h-1zm0 2h1v1h-1zm0 10h1v1h-1zm0 2h1v1h-1zm0 29h1v1h-1zm0 39h1v1h-1zm0 9h1v1h-1zm0 22h1v1h-1zm0 18h1v1h-1zm0 23h1v1h-1zm0 10h1v1h-1zm0 6h1v1h-1zm0 8h1v1h-1zm0 22h1v1h-1zm0 5h1v1h-1zm0 30h1v1h-1zm0 8h1v1h-1zm0 2h1v1h-1zm0 43h1v1h-1zm2 -350h1v1h-1zm0 27h1v2h-1zm0 39h1v1h-1zm0 66h1v1h-1zm0 30h1v1h-1zm0 12h1v1h-1zm0 20h1v2h-1zm0 3h1v1h-1zm0 13h1v1h-1zm0 8h1v1h-1zm0 4h1v1h-1zm0 17h1v1h-1zm0 2h1v1h-1zm0 9h1v1h-1zm0 24h1v1h-1zm0 16h1v1h-1zm0 5h1v1h-1zm0 4h1v1h-1zm0 14h1v1h-1zm0 18h1v1h-1zm0 10h1v1h-1zm0 7h1v1h-1zm0 10h1v1h-1zm0 12h1v1h-1zm5 -362h1v1h-1zm0 14h1v1h-1zm0 14h1v1h-1zm0 4h1v2h-1zm0 4h1v1h-1zm0 29h1v1h-1zm0 6h1v1h-1zm0 5h1v1h-1zm0 14h1v1h-1zm0 9h1v1h-1zm0 7h1v1h-1zm0 2h1v1h-1zm0 10h1v1h-1zm0 11h1v1h-1zm0 14h1v1h-1zm0 6h1v1h-1zm0 26h1v1h-1zm0 4h1v1h-1zm0 5h1v1h-1zm0 11h1v1h-1zm0 13h1v1h-1zm0 47h1v1h-1zm0 46h1v1h-1zm0 4h1v1h-1zm0 2h1v1h-1zm0 40h1v1h-1zm5 -344h1v1h-1zm0 26h1v1h-1zm0 8h1v1h-1zm0 5h1v1h-1zm0 49h1v1h-1zm0 5h1v1h-1zm0 30h1v1h-1zm0 5h1v1h-1zm0 39h1v2h-1zm0 15h1v1h-1zm0 3h1v1h-1zm0 24h1v1h-1zm0 3h1v1h-1zm0 7h1v1h-1zm0 32h1v1h-1zm0 68h1v1h-1zm0 19h1v1h-1zm0 16h1v1h-1zm0 2h1v2h-1zm0 8h1v1h-1zm5 -336h1v1h-1zm0 13h1v1h-1zm0 15h1v1h-1zm0 3h1v1h-1zm0 21h1v1h-1zm0 9h1v1h-1zm0 7h1v1h-1zm0 20h1v1h-1zm0 5h1v1h-1zm0 44h1v1h-1zm0 8h1v1h-1zm0 5h1v1h-1zm0 11h1v1h-1zm0 24h1v1h-1zm0 22h1v1h-1zm0 7h1v2h-1zm0 13h1v1h-1zm0 8h1v1h-1zm0 2h1v1h-1zm0 27h1v1h-1zm0 13h1v1h-1zm0 14h1v1h-1zm0 10h1v1h-1zm5 -340h1v1h-1zm0 62h1v2h-1zm0 10h1v1h-1zm0 9h1v1h-1zm0 31h1v1h-1zm0 2h1v1h-1zm0 46h1v1h-1zm0 38h1v1h-1zm0 14h1v1h-1zm0 2h1v1h-1zm0 6h1v1h-1zm0 23h1v1h-1zm0 4h1v1h-1zm0 10h1v1h-1zm0 10h1v1h-1zm0 7h1v1h-1zm0 7h1v1h-1zm0 2h1v1h-1zm0 22h1v1h-1zm0 25h1v1h-1zm0 14h1v1h-1zm0 3h1v1h-1zm0 25h1v1h-1zm5 -368h1v2h-1zm0 6h1v1h-1zm0 4h1v2h-1zm0 14h1v1h-1zm0 37h1v1h-1zm0 9h1v1h-1zm0 2h1v1h-1zm0 8h1v1h-1zm0 25h1v2h-1zm0 5h1v1h-1zm0 27h1v1h-1zm0 12h1v1h-1zm0 6h1v1h-1zm0 19h1v1h-1zm0 9h1v1h-1zm0 13h1v1h-1zm0 25h1v1h-1zm0 7h1v1h-1zm0 15h1v1h-1zm0 8h1v1h-1zm0 15h1v1h-1zm0 24h1v1h-1zm0 11h1v1h-1zm0 6h1v1h-1zm0 3h1v1h-1zm0 7h1v1h-1zm0 23h1v1h-1zm0 15h1v1h-1zm5 -293h1v1h-1zm0 39h1v1h-1zm0 11h1v1h-1zm0 16h1v1h-1zm0 9h1v1h-1zm0 17h1v1h-1zm0 25h1v1h-1zm0 22h1v1h-1zm0 10h1v1h-1zm0 11h1v1h-1zm0 43h1v1h-1zm0 9h1v1h-1zm0 15h1v1h-1zm0 33h1v1h-1zm0 22h1v1h-1z"/><path fill="#481467" d="M4 5h1v1h-1zm0 4h1v1h-1zm0 4h1v1h-1zm0 17h1v1h-1zm0 5h1v1h-1zm0 3h1v1h-1zm0 25h1v1h-1zm0 12h1v1h-1zm0 6h1v1h-1zm0 40h1v1h-1zm0 80h1v1h-1zm0 2h1v1h-1zm0 4h1v1h-1zm0 15h1v1h-1zm0 71h1v1h-1zm0 8h1v1h-1zm0 6h1v1h-1zm0 17h1v1h-1zm0 8h1v1h-1zm0 13h1v1h-1zm1 -345h1v1h-1zm0 10h1v1h-1zm0 12h1v1h-1zm0 54h1v1h-1zm0 7h1v1h-1zm0 14h1v1h-1zm0 13h1v1h-1zm0 12h1v1h-1zm0 20h1v1h-1zm0 8h1v1h-1zm0 14h1v1h-1zm0 20h1v1h-1zm0 27h1v1h-1zm0 90h1v1h-1zm0 20h1v2h-1zm0 17h1v1h-1zm0 8h1v1h-1zm0 3h1v1h-1zm0 5h1v1h-1zm0 10h1v1h-1zm0 6h1v1h-1zm1 -361h1v1h-1zm0 2h1v1h-1zm0 23h1v1h-1zm0 7h1v1h-1zm0 38h1v1h-1zm0 7h1v1h-1zm0 3h1v1h-1zm0 8h1v1h-1zm0 3h1v1h-1zm0 8h1v1h-1zm0 5h1v1h-1zm0 4h1v1h-1zm0 39h1v1h-1zm0 7h1v1h-1zm0 5h1v1h-1zm0 10h1v1h-1zm0 12h1v2h-1zm0 5h1v1h-1zm0 3h1v1h-1zm0 45h1v2h-1zm0 7h1v1h-1zm0 3h1v1h-1zm0 14h1v1h-1zm0 11h1v1h-1zm0 20h1v1h-1zm0 16h1v1h-1zm0 23h1v1h-1zm0 8h1v1h-1zm1 -342h1v1h-1zm0 5h1v1h-1zm0 5h1v1h-1zm0 8h1v1h-1zm0 28h1v1h-1zm0 30h1v1h-1zm0 16h1v1h-1zm0 45h1v1h-1zm0 9h1v1h-1zm0 23h1v1h-1zm0 5h1v1h-1zm0 11h1v1h-1zm0 5h1v1h-1zm0 28h1v1h-1zm0 5h1v1h-1zm0 12h1v1h-1zm0 18h1v1h-1zm0 20h1v1h-1zm0 59h1v1h-1zm0 8h1v1h-1zm0 21h1v1h-1zm1 -364h1v1h-1zm0 38h1v1h-1zm0 3h1v1h-1zm0 31h1v1h-1zm0 2h1v1h-1zm0 16h1v1h-1zm0 5h1v1h-1zm0 66h1v2h-1zm0 6h1v1h-1zm0 19h1v1h-1zm0 2h1v1h-1zm0 22h1v1h-1zm0 2h1v1h-1zm0 4h1v1h-1zm0 2h1v1h-1zm0 2h1v1h-1zm0 4h1v1h-1zm0 34h1v1h-1zm0 3h1v1h-1zm0 11h1v1h-1zm0 11h1v1h-1zm0 12h1v1h-1zm0 13h1v1h-1zm0 2h1v1h-1zm0 27h1v1h-1zm0 27h1v1h-1zm1 -347h1v1h-1zm0 10h1v1h-1zm0 4h1v1h-1zm0 7h1v1h-1zm0 79h1v1h-1zm0 44h1v1h-1zm0 13h1v1h-1zm0 6h1v1h-1zm0 8h1v2h-1zm0 30h1v1h-1zm0 18h1v1h-1zm0 46h1v1h-1zm0 33h1v1h-1zm0 34h1v1h-1zm0 3h1v1h-1zm0 6h1v1h-1zm1 -322h1v1h-1zm0 5h1v1h-1zm0 43h1v1h-1zm0 22h1v1h-1zm0 55h1v1h-1zm0 15h1v1h-1zm0 2h1v1h-1zm0 13h1v1h-1zm0 16h1v1h-1zm0 31h1v1h-1zm0 33h1v1h-1zm0 5h1v1h-1zm0 10h1v1h-1zm0 28h1v1h-1zm0 50h1v1h-1zm0 3h1v1h-1zm1 -334h1v1h-1zm0 11h1v1h-1zm0 44h1v1h-1zm0 13h1v1h-1zm0 17h1v1h-1zm0 2h1v1h-1zm0 9h1v1h-1zm0 52h1v1h-1zm0 23h1v1h-1zm0 11h1v1h-1zm0 20h1v1h-1zm0 11h1v1h-1zm0 2h1v1h-1zm0 21h1v1h-1zm0 21h1v1h-1zm0 12h1v1h-1zm0 10h1v1h-1zm0 3h1v1h-1zm0 36h1v2h-1zm0 5h1v1h-1zm1 -343h1v1h-1zm0 31h1v1h-1zm0 15h1v1h-1zm0 9h1v1h-1zm0 6h1v1h-1zm0 3h1v1h-1zm0 4h1v1h-1zm0 28h1v1h-1zm0 19h1v1h-1zm0 31h1v1h-1zm0 4h1v1h-1zm0 8h1v1h-1zm0 13h1v1h-1zm0 10h1v1h-1zm0 14h1v1h-1zm0 26h1v1h-1zm0 3h1v1h-1zm0 18h1v1h-1zm0 6h1v1h-1zm0 4h1v1h-1zm0 10h1v1h-1zm0 45h1v1h-1zm0 9h1v1h-1zm0 10h1v1h-1zm0 2h1v1h-1zm0 15h1v1h-1zm0 2h1v1h-1zm0 9h1v1h-1zm1 -351h1v1h-1zm0 23h1v1h-1zm0 31h1v1h-1zm0 14h1v1h-1zm0 18h1v1h-1zm0 2h1v1h-1zm0 8h1v1h-1zm0 14h1v2h-1zm0 11h1v1h-1zm0 22h1v1h-1zm0 24h1v1h-1zm0 18h1v1h-1zm0 16h1v1h-1zm0 6h1v1h-1zm0 8h1v1h-1zm0 13h1v1h-1zm0 11h1v1h-1zm0 22h1v1h-1zm0 3h1v1h-1zm0 7h1v1h-1zm0 4h1v1h-1zm0 10h1v1h-1zm0 9h1v1h-1zm0 52h1v1h-1zm1 -360h1v1h-1zm0 12h1v1h-1zm0 16h1v1h-1zm0 10h1v1h-1zm0 20h1v1h-1zm0 12h1v1h-1zm0 58h1v1h-1zm0 3h1v1h-1zm0 37h1v1h-1zm0 28h1v1h-1zm0 12h1v1h-1zm0 5h1v1h-1zm0 6h1v1h-1zm0 46h1v1h-1zm0 26h1v1h-1zm0 8h1v1h-1zm0 9h1v1h-1zm0 8h1v1h-1zm0 32h1v1h-1zm0 12h1v1h-1zm1 -359h1v1h-1zm0 3h1v1h-1zm0 14h1v1h-1zm0 32h1v1h-1zm0 4h1v1h-1zm0 6h1v1h-1zm0 13h1v1h-1zm0 14h1v1h-1zm0 3h1v1h-1zm0 10h1v1h-1zm0 6h1v1h-1zm0 7h1v1h-1zm0 4h1v1h-1zm0 31h1v1h-1zm0 8h1v1h-1zm0 9h1v1h-1zm0 15h1v1h-1zm0 23h1v1h-1zm0 37h1v2h-1zm0 3h1v1h-1zm0 16h1v1h-1zm0 26h1v1h-1zm0 9h1v1h-1zm0 14h1v1h-1zm0 32h1v2h-1zm0 5h1v1h-1zm0 2h1v1h-1zm0 18h1v1h-1zm1 -351h1v1h-1zm0 17h1v1h-1zm0 44h1v1h-1zm0 51h1v1h-1zm0 7h1v1h-1zm0 11h1v1h-1zm0 40h1v1h-1zm0 2h1v1h-1zm0 43h1v1h-1zm0 21h1v1h-1zm0 9h1v1h-1zm0 18h1v1h-1zm0 16h1v1h-1zm0 10h1v1h-1zm0 50h1v1h-1zm0 6h1v1h-1zm1 -360h1v1h-1zm0 12h1v1h-1zm0 16h1v1h-1zm0 20h1v1h-1zm0 12h1v1h-1zm0 35h1v1h-1zm0 29h1v1h-1zm0 9h1v1h-1zm0 29h1v1h-1zm0 19h1v1h-1zm0 2h1v1h-1zm0 19h1v1h-1zm0 90h1v1h-1zm0 29h1v1h-1zm0 14h1v1h-1zm0 2h1v1h-1zm1 -338h1v1h-1zm0 28h1v1h-1zm0 2h1v1h-1zm0 35h1v1h-1zm0 7h1v1h-1zm0 18h1v1h-1zm0 3h1v1h-1zm0 16h1v1h-1zm0 9h1v1h-1zm0 9h1v1h-1zm0 5h1v1h-1zm0 12h1v2h-1zm0 8h1v1h-1zm0 2h1v1h-1zm0 28h1v1h-1zm0 6h1v1h-1zm0 10h1v1h-1zm0 27h1v1h-1zm0 17h1v1h-1zm0 12h1v1h-1zm0 33h1v2h-1zm0 5h1v1h-1zm0 5h1v2h-1zm0 3h1v1h-1zm0 12h1v1h-1zm0 6h1v1h-1zm0 7h1v1h-1zm0 13h1v2h-1zm0 5h1v1h-1zm0 13h1v1h-1zm0 10h1v1h-1zm0 6h1v1h-1zm1 -361h1v1h-1zm0 2h1v1h-1zm0 4h1v1h-1zm0 23h1v1h-1zm0 45h1v1h-1zm0 5h1v1h-1zm0 15h1v1h-1zm0 15h1v1h-1zm0 55h1v1h-1zm0 9h1v1h-1zm0 9h1v1h-1zm0 68h1v1h-1zm0 10h1v1h-1zm0 12h1v2h-1zm0 46h1v1h-1zm0 11h1v1h-1zm0 12h1v1h-1zm0 12h1v1h-1zm0 2h1v1h-1zm1 -332h1v1h-1zm0 16h1v1h-1zm0 11h1v2h-1zm0 24h1v1h-1zm0 12h1v1h-1zm0 23h1v1h-1zm0 12h1v1h-1zm0 6h1v1h-1zm0 3h1v1h-1zm0 6h1v1h-1zm0 8h1v1h-1zm0 30h1v1h-1zm0 14h1v1h-1zm0 14h1v2h-1zm0 3h1v1h-1zm0 2h1v1h-1zm0 5h1v1h-1zm0 26h1v1h-1zm0 4h1v1h-1zm0 29h1v1h-1zm0 16h1v1h-1zm0 45h1v1h-1zm0 10h1v1h-1zm0 12h1v1h-1zm0 2h1v3h-1zm1 -348h1v1h-1zm0 66h1v1h-1zm0 10h1v1h-1zm0 10h1v1h-1zm0 5h1v1h-1zm0 2h1v1h-1zm0 9h1v1h-1zm0 8h1v1h-1zm0 37h1v1h-1zm0 20h1v1h-1zm0 26h1v1h-1zm0 3h1v1h-1zm0 5h1v1h-1zm0 28h1v1h-1zm0 8h1v2h-1zm0 18h1v1h-1zm0 4h1v1h-1zm0 52h1v1h-1zm0 5h1v1h-1zm0 11h1v1h-1zm1 -341h1v1h-1zm0 6h1v1h-1zm0 2h1v1h-1zm0 26h1v2h-1zm0 7h1v1h-1zm0 39h1v1h-1zm0 11h1v1h-1zm0 4h1v1h-1zm0 11h1v1h-1zm0 16h1v1h-1zm0 24h1v1h-1zm0 53h1v1h-1zm0 18h1v1h-1zm0 8h1v1h-1zm0 3h1v1h-1zm0 48h1v1h-1zm0 2h1v1h-1zm0 38h1v1h-1zm0 8h1v1h-1zm0 32h1v2h-1zm0 4h1v1h-1zm1 -321h1v1h-1zm0 39h1v1h-1zm0 4h1v1h-1zm0 5h1v1h-1zm0 44h1v1h-1zm0 7h1v1h-1zm0 10h1v1h-1zm0 7h1v1h-1zm0 8h1v1h-1zm0 27h1v1h-1zm0 3h1v1h-1zm0 26h1v1h-1zm0 6h1v1h-1zm0 18h1v1h-1zm0 35h1v1h-1zm0 13h1v1h-1zm0 5h1v1h-1zm0 18h1v1h-1zm0 19h1v1h-1zm0 15h1v1h-1zm0 17h1v1h-1zm1 -349h1v1h-1zm0 7h1v1h-1zm0 12h1v1h-1zm0 7h1v1h-1zm0 2h1v2h-1zm0 34h1v1h-1zm0 33h1v1h-1zm0 2h1v1h-1zm0 11h1v1h-1zm0 43h1v1h-1zm0 19h1v1h-1zm0 24h1v1h-1zm0 27h1v1h-1zm0 7h1v1h-1zm0 8h1v1h-1zm0 2h1v1h-1zm0 40h1v1h-1zm0 20h1v1h-1zm0 24h1v1h-1zm0 15h1v1h-1zm0 6h1v1h-1zm0 2h1v1h-1zm0 11h1v1h-1zm1 -368h1v1h-1zm0 40h1v1h-1zm0 27h1v1h-1zm0 4h1v1h-1zm0 20h1v1h-1zm0 48h1v1h-1zm0 64h1v1h-1zm0 18h1v1h-1zm0 14h1v1h-1zm0 35h1v1h-1zm0 44h1v2h-1zm0 5h1v1h-1zm0 51h1v1h-1zm1 -377h1v1h-1zm0 19h1v1h-1zm0 23h1v1h-1zm0 5h1v1h-1zm0 22h1v1h-1zm0 5h1v1h-1zm0 22h1v1h-1zm0 3h1v1h-1zm0 44h1v1h-1zm0 12h1v1h-1zm0 14h1v1h-1zm0 20h1v1h-1zm0 13h1v1h-1zm0 59h1v1h-1zm0 32h1v1h-1zm0 32h1v1h-1zm0 3h1v1h-1zm0 23h1v1h-1zm0 13h1v1h-1zm0 11h1v1h-1zm1 -358h1v1h-1zm0 7h1v1h-1zm0 23h1v1h-1zm0 2h1v1h-1zm0 3h1v1h-1zm0 7h1v1h-1zm0 3h1v1h-1zm0 9h1v1h-1zm0 6h1v1h-1zm0 11h1v1h-1zm0 22h1v1h-1zm0 12h1v1h-1zm0 87h1v1h-1zm0 38h1v1h-1zm0 3h1v2h-1zm0 8h1v1h-1zm0 19h1v1h-1zm0 14h1v1h-1zm0 17h1v1h-1zm1 -279h1v1h-1zm0 23h1v1h-1zm0 10h1v1h-1zm0 17h1v1h-1zm0 9h1v1h-1zm0 26h1v2h-1zm0 11h1v2h-1zm0 22h1v1h-1zm0 7h1v1h-1zm0 16h1v1h-1zm0 59h1v1h-1zm0 43h1v1h-1zm0 32h1v1h-1zm0 19h1v1h-1zm0 52h1v1h-1zm1 -373h1v1h-1zm0 4h1v1h-1zm0 35h1v1h-1zm0 5h1v1h-1zm0 16h1v2h-1zm0 28h1v1h-1zm0 11h1v1h-1zm0 67h1v1h-1zm0 74h1v1h-1zm0 18h1v1h-1zm0 14h1v1h-1zm0 23h1v1h-1zm0 27h1v1h-1zm0 32h1v1h-1zm0 5h1v1h-1zm0 5h1v1h-1zm0 3h1v1h-1zm1 -364h1v1h-1zm0 25h1v1h-1zm0 88h1v1h-1zm0 38h1v1h-1zm0 20h1v1h-1zm0 7h1v1h-1zm0 6h1v1h-1zm0 5h1v1h-1zm0 8h1v1h-1zm0 12h1v1h-1zm0 2h1v1h-1zm0 8h1v1h-1zm0 21h1v2h-1zm0 5h1v1h-1zm0 25h1v1h-1zm0 16h1v1h-1zm0 20h1v1h-1zm0 29h1v2h-1zm0 13h1v1h-1zm0 16h1v1h-1zm0 2h1v1h-1zm1 -342h1v1h-1zm0 8h1v1h-1zm0 6h1v2h-1zm0 79h1v1h-1zm0 20h1v1h-1zm0 20h1v1h-1zm0 3h1v1h-1zm0 50h1v1h-1zm0 5h1v1h-1zm0 71h1v1h-1zm0 32h1v1h-1zm0 3h1v1h-1zm0 11h1v1h-1zm1 -304h1v1h-1zm0 46h1v1h-1zm0 62h1v1h-1zm0 9h1v1h-1zm0 7h1v1h-1zm0 62h1v1h-1zm0 58h1v1h-1zm0 2h1v1h-1zm0 5h1v1h-1zm0 5h1v1h-1zm0 20h1v1h-1zm0 14h1v2h-1zm0 4h1v1h-1zm0 20h1v1h-1zm1 -341h1v1h-1zm0 11h1v1h-1zm0 24h1v1h-1zm0 9h1v1h-1zm0 8h1v1h-1zm0 7h1v1h-1zm0 6h1v1h-1zm0 8h1v1h-1zm0 10h1v1h-1zm0 21h1v1h-1zm0 16h1v2h-1zm0 29h1v1h-1zm0 10h1v1h-1zm0 34h1v2h-1zm0 20h1v1h-1zm0 5h1v1h-1zm0 2h1v1h-1zm0 10h1v1h-1zm0 37h1v1h-1zm0 10h1v1h-1zm0 23h1v1h-1zm0 16h1v1h-1zm0 40h1v1h-1zm1 -360h1v1h-1zm0 21h1v1h-1zm0 13h1v1h-1zm0 7h1v1h-1zm0 2h1v1h-1zm0 33h1v2h-1zm0 27h1v1h-1zm0 32h1v1h-1zm0 24h1v1h-1zm0 2h1v1h-1zm0 9h1v2h-1zm0 14h1v1h-1zm0 10h1v2h-1zm0 17h1v1h-1zm0 46h1v1h-1zm0 17h1v1h-1zm0 9h1v1h-1zm0 12h1v1h-1zm0 21h1v1h-1zm0 17h1v1h-1zm0 8h1v1h-1zm0 31h1v1h-1zm1 -371h1v1h-1zm0 21h1v1h-1zm0 71h1v1h-1zm0 10h1v1h-1zm0 5h1v1h-1zm0 5h1v1h-1zm0 2h1v1h-1zm0 83h1v1h-1zm0 9h1v1h-1zm0 3h1v1h-1zm0 3h1v1h-1zm0 11h1v1h-1zm0 2h1v1h-1zm0 32h1v1h-1zm0 12h1v1h-1zm0 33h1v1h-1zm0 5h1v1h-1zm0 9h1v1h-1zm0 18h1v2h-1zm1 -298h1v1h-1zm0 9h1v1h-1zm0 21h1v1h-1zm0 9h1v1h-1zm0 4h1v1h-1zm0 29h1v1h-1zm0 7h1v1h-1zm0 14h1v1h-1zm0 3h1v1h-1zm0 36h1v1h-1zm0 18h1v1h-1zm0 17h1v1h-1zm0 17h1v1h-1zm0 5h1v2h-1zm0 22h1v1h-1zm0 27h1v1h-1zm0 35h1v1h-1zm0 46h1v1h-1zm1 -339h1v1h-1zm0 41h1v1h-1zm0 5h1v1h-1zm0 16h1v1h-1zm0 31h1v1h-1zm0 2h1v1h-1zm0 22h1v1h-1zm0 8h1v1h-1zm0 3h1v1h-1zm0 25h1v1h-1zm0 4h1v1h-1zm0 10h1v1h-1zm0 15h1v1h-1zm0 3h1v1h-1zm0 12h1v1h-1zm0 7h1v1h-1zm0 34h1v1h-1zm1 -255h1v1h-1zm0 11h1v1h-1zm0 114h1v1h-1zm0 22h1v1h-1zm0 9h1v2h-1zm0 15h1v1h-1zm0 48h1v1h-1zm0 48h1v1h-1zm0 20h1v1h-1zm0 16h1v1h-1zm0 18h1v1h-1zm0 11h1v1h-1zm0 37h1v1h-1zm1 -359h1v1h-1zm0 9h1v1h-1zm0 3h1v1h-1zm0 13h1v1h-1zm0 13h1v1h-1zm0 2h1v1h-1zm0 3h1v1h-1zm0 7h1v1h-1zm0 12h1v2h-1zm0 6h1v1h-1zm0 2h1v1h-1zm0 3h1v1h-1zm0 15h1v1h-1zm0 15h1v1h-1zm0 19h1v1h-1zm0 14h1v1h-1zm0 6h1v1h-1zm0 16h1v2h-1zm0 5h1v1h-1zm0 2h1v1h-1zm0 9h1v1h-1zm0 11h1v1h-1zm0 4h1v1h-1zm0 8h1v3h-1zm0 13h1v1h-1zm0 15h1v1h-1zm0 13h1v1h-1zm0 71h1v1h-1zm0 7h1v1h-1zm0 5h1v1h-1zm0 17h1v1h-1zm0 8h1v1h-1zm0 3h1v1h-1zm0 7h1v1h-1zm1 -357h1v1h-1zm0 9h1v1h-1zm0 17h1v1h-1zm0 34h1v1h-1zm0 11h1v1h-1zm0 3h1v1h-1zm0 6h1v1h-1zm0 3h1v1h-1zm0 8h1v1h-1zm0 13h1v1h-1zm0 25h1v1h-1zm0 8h1v1h-1zm0 5h1v1h-1zm0 56h1v1h-1zm0 25h1v1h-1zm0 82h1v1h-1zm1 -299h1v1h-1zm0 2h1v1h-1zm0 3h1v2h-1zm0 6h1v1h-1zm0 10h1v2h-1zm0 11h1v1h-1zm0 7h1v1h-1zm0 5h1v1h-1zm0 59h1v1h-1zm0 7h1v1h-1zm0 3h1v1h-1zm0 14h1v1h-1zm0 21h1v1h-1zm0 26h1v1h-1zm0 25h1v1h-1zm0 15h1v1h-1zm0 38h1v1h-1zm0 10h1v1h-1zm0 17h1v1h-1zm0 17h1v1h-1zm0 20h1v1h-1zm0 5h1v2h-1zm0 4h1v1h-1zm0 20h1v1h-1zm0 9h1v1h-1zm1 -348h1v1h-1zm0 26h1v1h-1zm0 30h1v1h-1zm0 15h1v1h-1zm0 17h1v1h-1zm0 26h1v1h-1zm0 5h1v1h-1zm0 11h1v1h-1zm0 2h1v1h-1zm0 6h1v1h-1zm0 36h1v1h-1zm0 20h1v1h-1zm0 13h1v1h-1zm0 20h1v1h-1zm0 2h1v1h-1zm0 18h1v1h-1zm0 11h1v1h-1zm0 27h1v1h-1zm0 51h1v1h-1zm1 -341h1v1h-1zm0 7h1v1h-1zm0 10h1v1h-1zm0 13h1v1h-1zm0 5h1v2h-1zm0 4h1v1h-1zm0 13h1v1h-1zm0 62h1v1h-1zm0 26h1v1h-1zm0 14h1v1h-1zm0 28h1v1h-1zm0 3h1v2h-1zm0 16h1v1h-1zm0 46h1v1h-1zm0 22h1v1h-1zm0 39h1v1h-1zm0 2h1v1h-1zm0 12h1v1h-1zm0 10h1v1h-1zm0 18h1v1h-1zm0 6h1v1h-1zm1 -375h1v1h-1zm0 17h1v1h-1zm0 35h1v1h-1zm0 8h1v1h-1zm0 11h1v1h-1zm0 3h1v1h-1zm0 40h1v1h-1zm0 58h1v1h-1zm0 61h1v1h-1zm0 10h1v1h-1zm0 2h1v1h-1zm0 33h1v1h-1zm0 8h1v1h-1zm0 14h1v1h-1zm0 25h1v1h-1zm0 30h1v1h-1zm1 -353h1v1h-1zm0 6h1v2h-1zm0 11h1v1h-1zm0 2h1v1h-1zm0 85h1v1h-1zm0 8h1v1h-1zm0 13h1v1h-1zm0 17h1v1h-1zm0 8h1v1h-1zm0 6h1v1h-1zm0 62h1v1h-1zm0 3h1v1h-1zm0 15h1v1h-1zm0 31h1v1h-1zm0 41h1v1h-1zm0 21h1v1h-1zm0 16h1v1h-1zm0 4h1v1h-1zm0 5h1v1h-1zm0 6h1v1h-1zm0 11h1v1h-1zm1 -371h1v1h-1zm0 18h1v1h-1zm0 15h1v1h-1zm0 34h1v1h-1zm0 13h1v1h-1zm0 18h1v1h-1zm0 16h1v1h-1zm0 45h1v1h-1zm0 19h1v1h-1zm0 131h1v1h-1zm0 17h1v1h-1zm0 13h1v1h-1zm0 30h1v1h-1zm1 -342h1v1h-1zm0 11h1v1h-1zm0 20h1v1h-1zm0 26h1v1h-1zm0 10h1v1h-1zm0 31h1v1h-1zm0 25h1v3h-1zm0 7h1v1h-1zm0 13h1v1h-1zm0 31h1v1h-1zm0 8h1v1h-1zm0 58h1v1h-1zm0 38h1v1h-1zm0 3h1v1h-1zm0 28h1v1h-1zm0 26h1v1h-1zm1 -361h1v1h-1zm0 15h1v1h-1zm0 4h1v1h-1zm0 10h1v1h-1zm0 17h1v1h-1zm0 23h1v1h-1zm0 71h1v1h-1zm0 7h1v1h-1zm0 39h1v1h-1zm0 33h1v1h-1zm0 11h1v1h-1zm0 2h1v1h-1zm0 2h1v1h-1zm0 20h1v2h-1zm0 17h1v1h-1zm0 11h1v1h-1zm0 4h1v1h-1zm0 44h1v1h-1zm0 23h1v1h-1zm0 2h1v1h-1zm1 -339h1v1h-1zm0 32h1v1h-1zm0 17h1v1h-1zm0 17h1v2h-1zm0 69h1v1h-1zm0 25h1v2h-1zm0 17h1v1h-1zm0 3h1v1h-1zm0 88h1v2h-1zm0 30h1v1h-1zm0 23h1v2h-1zm0 4h1v1h-1zm0 15h1v1h-1zm0 9h1v1h-1zm1 -369h1v1h-1zm0 13h1v1h-1zm0 26h1v1h-1zm0 19h1v1h-1zm0 29h1v1h-1zm0 7h1v1h-1zm0 7h1v1h-1zm0 18h1v1h-1zm0 11h1v1h-1zm0 19h1v1h-1zm0 25h1v1h-1zm0 25h1v1h-1zm0 2h1v1h-1zm0 17h1v1h-1zm0 3h1v1h-1zm0 12h1v1h-1zm0 7h1v1h-1zm0 7h1v1h-1zm0 12h1v1h-1zm0 11h1v1h-1zm0 2h1v1h-1zm0 7h1v1h-1zm0 23h1v1h-1zm0 41h1v1h-1zm0 11h1v1h-1zm0 2h1v1h-1zm0 5h1v1h-1zm0 6h1v1h-1zm1 -360h1v1h-1zm0 7h1v1h-1zm0 16h1v1h-1zm0 3h1v1h-1zm0 13h1v1h-1zm0 13h1v1h-1zm0 16h1v1h-1zm0 9h1v1h-1zm0 6h1v1h-1zm0 16h1v1h-1zm0 36h1v2h-1zm0 7h1v1h-1zm0 15h1v1h-1zm0 23h1v1h-1zm0 43h1v1h-1zm0 54h1v1h-1zm0 25h1v1h-1zm0 13h1v1h-1zm0 22h1v1h-1zm1 -330h1v1h-1zm0 6h1v1h-1zm0 20h1v1h-1zm0 8h1v1h-1zm0 11h1v1h-1zm0 6h1v1h-1zm0 22h1v1h-1zm0 33h1v1h-1zm0 4h1v1h-1zm0 6h1v1h-1zm0 12h1v1h-1zm0 17h1v1h-1zm0 9h1v1h-1zm0 47h1v1h-1zm0 78h1v1h-1zm1 -292h1v1h-1zm0 2h1v1h-1zm0 9h1v1h-1zm0 39h1v1h-1zm0 7h1v1h-1zm0 2h1v1h-1zm0 86h1v1h-1zm0 43h1v1h-1zm0 7h1v1h-1zm0 8h1v1h-1zm0 12h1v1h-1zm0 40h1v1h-1zm0 5h1v1h-1zm0 51h1v1h-1zm0 25h1v1h-1zm0 32h1v1h-1zm1 -346h1v1h-1zm0 14h1v1h-1zm0 2h1v1h-1zm0 14h1v1h-1zm0 6h1v1h-1zm0 6h1v1h-1zm0 7h1v1h-1zm0 24h1v2h-1zm0 8h1v1h-1zm0 18h1v1h-1zm0 7h1v1h-1zm0 14h1v1h-1zm0 7h1v1h-1zm0 45h1v1h-1zm0 27h1v1h-1zm0 120h1v1h-1zm1 -338h1v1h-1zm0 20h1v1h-1zm0 5h1v1h-1zm0 66h1v1h-1zm0 6h1v1h-1zm0 4h1v1h-1zm0 12h1v1h-1zm0 3h1v1h-1zm0 15h1v1h-1zm0 9h1v1h-1zm0 3h1v2h-1zm0 66h1v1h-1zm0 7h1v1h-1zm0 51h1v1h-1zm0 8h1v1h-1zm0 12h1v1h-1zm0 2h1v1h-1zm0 5h1v1h-1zm0 2h1v1h-1zm0 4h1v1h-1zm0 4h1v1h-1zm0 3h1v1h-1zm0 2h1v1h-1zm0 22h1v1h-1zm0 2h1v1h-1zm0 16h1v1h-1zm0 8h1v1h-1zm0 9h1v1h-1zm0 6h1v1h-1zm1 -363h1v1h-1zm0 18h1v1h-1zm0 4h1v1h-1zm0 35h1v1h-1zm0 25h1v1h-1zm0 5h1v1h-1zm0 32h1v2h-1zm0 29h1v1h-1zm0 29h1v1h-1zm0 7h1v1h-1zm0 19h1v1h-1zm0 10h1v1h-1zm0 26h1v1h-1zm0 12h1v1h-1zm0 25h1v1h-1zm0 2h1v1h-1zm0 2h1v1h-1zm0 14h1v1h-1zm0 14h1v1h-1zm0 14h1v1h-1zm0 5h1v1h-1zm0 8h1v1h-1zm0 21h1v1h-1zm1 -362h1v1h-1zm0 24h1v2h-1zm0 7h1v1h-1zm0 49h1v1h-1zm0 30h1v1h-1zm0 5h1v1h-1zm0 32h1v1h-1zm0 15h1v1h-1zm0 18h1v1h-1zm0 2h1v1h-1zm0 5h1v1h-1zm0 34h1v1h-1zm0 26h1v2h-1zm0 6h1v1h-1zm0 18h1v1h-1zm0 20h1v1h-1zm0 18h1v1h-1zm0 32h1v2h-1zm0 6h1v1h-1zm0 7h1v1h-1zm0 29h1v1h-1zm1 -377h1v1h-1zm0 4h1v1h-1zm0 11h1v1h-1zm0 7h1v1h-1zm0 29h1v1h-1zm0 6h1v1h-1zm0 12h1v1h-1zm0 46h1v1h-1zm0 65h1v1h-1zm0 6h1v1h-1zm0 67h1v1h-1zm0 45h1v1h-1zm1 -305h1v1h-1zm0 28h1v1h-1zm0 2h1v1h-1zm0 7h1v1h-1zm0 41h1v1h-1zm0 11h1v2h-1zm0 39h1v1h-1zm0 9h1v1h-1zm0 6h1v1h-1zm0 19h1v1h-1zm0 6h1v1h-1zm0 3h1v1h-1zm0 5h1v1h-1zm0 14h1v1h-1zm0 36h1v1h-1zm0 6h1v1h-1zm0 18h1v1h-1zm0 30h1v1h-1zm0 9h1v1h-1zm0 11h1v1h-1zm0 17h1v1h-1zm1 -300h1v1h-1zm0 3h1v1h-1zm0 9h1v2h-1zm0 3h1v1h-1zm0 20h1v1h-1zm0 15h1v1h-1zm0 12h1v1h-1zm0 7h1v1h-1zm0 3h1v1h-1zm0 5h1v1h-1zm0 22h1v2h-1zm0 13h1v1h-1zm0 44h1v1h-1zm0 3h1v1h-1zm0 114h1v1h-1zm0 19h1v1h-1zm0 4h1v1h-1zm0 47h1v1h-1zm0 8h1v1h-1zm1 -374h1v1h-1zm0 8h1v1h-1zm0 36h1v1h-1zm0 3h1v1h-1zm0 11h1v1h-1zm0 3h1v2h-1zm0 19h1v1h-1zm0 2h1v2h-1zm0 26h1v1h-1zm0 37h1v1h-1zm0 2h1v1h-1zm0 8h1v1h-1zm0 5h1v1h-1zm0 6h1v1h-1zm0 8h1v1h-1zm0 7h1v1h-1zm0 16h1v1h-1zm0 9h1v1h-1zm0 64h1v1h-1zm0 6h1v1h-1zm0 5h1v1h-1zm0 3h1v2h-1zm0 6h1v1h-1zm0 7h1v1h-1zm0 35h1v1h-1zm0 3h1v1h-1zm0 12h1v1h-1zm0 24h1v1h-1zm1 -358h1v2h-1zm0 7h1v1h-1zm0 8h1v1h-1zm0 39h1v1h-1zm0 40h1v1h-1zm0 2h1v2h-1zm0 31h1v1h-1zm0 2h1v1h-1zm0 51h1v1h-1zm0 27h1v1h-1zm0 18h1v1h-1zm0 2h1v1h-1zm0 16h1v1h-1zm0 19h1v1h-1zm0 7h1v1h-1zm0 41h1v1h-1zm0 8h1v1h-1zm0 2h1v1h-1zm0 20h1v1h-1zm0 16h1v1h-1zm0 2h1v1h-1zm1 -267h1v1h-1zm0 38h1v1h-1zm0 97h1v1h-1zm0 29h1v1h-1zm0 42h1v1h-1zm0 4h1v1h-1zm0 27h1v1h-1zm0 4h1v1h-1zm0 19h1v2h-1zm0 4h1v2h-1zm1 -366h1v1h-1zm0 10h1v1h-1zm0 5h1v1h-1zm0 17h1v1h-1zm0 14h1v1h-1zm0 9h1v1h-1zm0 80h1v1h-1zm0 8h1v1h-1zm0 48h1v1h-1zm0 2h1v1h-1zm0 2h1v1h-1zm0 30h1v1h-1zm0 6h1v1h-1zm0 3h1v1h-1zm0 24h1v1h-1zm0 5h1v1h-1zm0 17h1v1h-1zm0 3h1v1h-1zm0 21h1v1h-1zm0 11h1v1h-1zm1 -306h1v1h-1zm0 7h1v1h-1zm0 2h1v1h-1zm0 9h1v1h-1zm0 28h1v1h-1zm0 8h1v1h-1zm0 10h1v1h-1zm0 46h1v2h-1zm0 8h1v1h-1zm0 46h1v1h-1zm0 4h1v1h-1zm0 18h1v1h-1zm0 21h1v1h-1zm0 31h1v1h-1zm0 54h1v1h-1zm0 17h1v1h-1zm0 26h1v1h-1zm0 8h1v1h-1zm0 9h1v1h-1zm0 2h1v1h-1zm1 -363h1v2h-1zm0 4h1v1h-1zm0 7h1v2h-1zm0 9h1v1h-1zm0 2h1v1h-1zm0 5h1v1h-1zm0 21h1v1h-1zm0 4h1v2h-1zm0 26h1v1h-1zm0 33h1v1h-1zm0 33h1v1h-1zm0 40h1v1h-1zm0 47h1v1h-1zm0 21h1v1h-1zm0 3h1v1h-1zm0 52h1v1h-1zm0 13h1v1h-1zm0 5h1v1h-1zm0 43h1v1h-1zm1 -340h1v1h-1zm0 10h1v1h-1zm0 19h1v1h-1zm0 58h1v1h-1zm0 112h1v1h-1zm0 38h1v1h-1zm0 13h1v1h-1zm0 12h1v1h-1zm0 8h1v1h-1zm0 58h1v1h-1zm1 -352h1v1h-1zm0 20h1v1h-1zm0 34h1v1h-1zm0 2h1v1h-1zm0 15h1v1h-1zm0 7h1v1h-1zm0 32h1v1h-1zm0 40h1v1h-1zm0 3h1v1h-1zm0 7h1v1h-1zm0 20h1v1h-1zm0 3h1v1h-1zm0 5h1v1h-1zm0 4h1v1h-1zm0 69h1v1h-1zm0 4h1v1h-1zm0 10h1v1h-1zm0 4h1v1h-1zm0 18h1v1h-1zm0 47h1v1h-1zm0 5h1v1h-1zm1 -341h1v1h-1zm0 79h1v1h-1zm0 2h1v1h-1zm0 12h1v1h-1zm0 28h1v1h-1zm0 48h1v1h-1zm0 55h1v1h-1zm0 70h1v1h-1zm0 2h1v1h-1zm0 12h1v1h-1zm0 16h1v1h-1zm0 23h1v1h-1zm1 -357h1v1h-1zm0 5h1v1h-1zm0 14h1v1h-1zm0 13h1v2h-1zm0 12h1v1h-1zm0 7h1v1h-1zm0 2h1v1h-1zm0 14h1v1h-1zm0 32h1v2h-1zm0 78h1v1h-1zm0 3h1v1h-1zm0 5h1v1h-1zm0 9h1v1h-1zm0 10h1v1h-1zm0 3h1v1h-1zm0 58h1v1h-1zm0 57h1v1h-1zm0 6h1v1h-1zm0 16h1v1h-1zm0 5h1v1h-1zm0 5h1v1h-1zm1 -357h1v1h-1zm0 4h1v1h-1zm0 28h1v1h-1zm0 3h1v1h-1zm0 10h1v1h-1zm0 45h1v1h-1zm0 16h1v1h-1zm0 13h1v1h-1zm0 2h1v1h-1zm0 11h1v1h-1zm0 21h1v1h-1zm0 17h1v1h-1zm0 6h1v1h-1zm0 14h1v1h-1zm0 8h1v1h-1zm0 15h1v1h-1zm0 78h1v1h-1zm0 4h1v1h-1zm1 -280h1v1h-1zm0 15h1v1h-1zm0 6h1v1h-1zm0 2h1v1h-1zm0 21h1v1h-1zm0 11h1v1h-1zm0 3h1v1h-1zm0 7h1v1h-1zm0 22h1v1h-1zm0 3h1v1h-1zm0 63h1v1h-1zm0 20h1v1h-1zm0 28h1v1h-1zm0 11h1v1h-1zm0 33h1v1h-1zm0 4h1v3h-1zm0 28h1v1h-1zm0 55h1v2h-1zm0 25h1v1h-1zm1 -361h1v1h-1zm0 8h1v1h-1zm0 12h1v1h-1zm0 15h1v2h-1zm0 18h1v1h-1zm0 56h1v1h-1zm0 16h1v1h-1zm0 34h1v1h-1zm0 14h1v1h-1zm0 12h1v1h-1zm0 18h1v1h-1zm0 40h1v1h-1zm0 62h1v1h-1zm0 12h1v1h-1zm0 9h1v1h-1zm0 2h1v1h-1zm0 13h1v1h-1zm1 -332h1v1h-1zm0 2h1v1h-1zm0 6h1v1h-1zm0 20h1v2h-1zm0 4h1v1h-1zm0 16h1v1h-1zm0 6h1v1h-1zm0 12h1v1h-1zm0 53h1v1h-1zm0 4h1v1h-1zm0 5h1v1h-1zm0 65h1v1h-1zm0 25h1v1h-1zm0 23h1v1h-1zm0 3h1v1h-1zm0 2h1v1h-1zm0 20h1v1h-1zm0 8h1v1h-1zm0 23h1v1h-1zm0 11h1v1h-1zm0 7h1v1h-1zm1 -334h1v1h-1zm0 35h1v1h-1zm0 28h1v2h-1zm0 5h1v1h-1zm0 3h1v1h-1zm0 14h1v1h-1zm0 11h1v1h-1zm0 36h1v1h-1zm0 12h1v1h-1zm0 8h1v1h-1zm0 9h1v1h-1zm0 3h1v1h-1zm0 10h1v1h-1zm0 3h1v1h-1zm0 24h1v1h-1zm0 3h1v1h-1zm0 18h1v1h-1zm0 11h1v1h-1zm0 26h1v1h-1zm0 44h1v1h-1zm0 17h1v1h-1zm0 23h1v1h-1zm0 22h1v1h-1zm1 -363h1v1h-1zm0 20h1v1h-1zm0 7h1v1h-1zm0 2h1v1h-1zm0 24h1v1h-1zm0 34h1v1h-1zm0 10h1v1h-1zm0 16h1v1h-1zm0 29h1v1h-1zm0 11h1v1h-1zm0 13h1v1h-1zm0 53h1v1h-1zm0 8h1v1h-1zm0 96h1v1h-1zm0 10h1v1h-1zm0 17h1v1h-1zm1 -346h1v1h-1zm0 22h1v1h-1zm0 28h1v1h-1zm0 6h1v1h-1zm0 26h1v1h-1zm0 30h1v1h-1zm0 3h1v1h-1zm0 21h1v1h-1zm0 5h1v1h-1zm0 33h1v1h-1zm0 27h1v1h-1zm0 24h1v1h-1zm0 18h1v1h-1zm0 3h1v1h-1zm0 11h1v1h-1zm0 21h1v1h-1zm0 31h1v3h-1zm0 26h1v1h-1zm1 -337h1v1h-1zm0 3h1v1h-1zm0 6h1v1h-1zm0 18h1v1h-1zm0 2h1v1h-1zm0 15h1v1h-1zm0 10h1v1h-1zm0 7h1v1h-1zm0 14h1v2h-1zm0 35h1v1h-1zm0 3h1v1h-1zm0 14h1v1h-1zm0 2h1v1h-1zm0 7h1v1h-1zm0 19h1v1h-1zm0 27h1v1h-1zm0 25h1v1h-1zm0 5h1v2h-1zm0 54h1v1h-1zm0 23h1v2h-1zm0 16h1v1h-1zm0 2h1v1h-1zm0 2h1v1h-1zm0 38h1v1h-1zm1 -347h1v1h-1zm0 2h1v1h-1zm0 58h1v2h-1zm0 15h1v1h-1zm0 14h1v1h-1zm0 2h1v1h-1zm0 35h1v1h-1zm0 7h1v1h-1zm0 11h1v1h-1zm0 14h1v1h-1zm0 37h1v1h-1zm0 14h1v1h-1zm0 31h1v1h-1zm0 14h1v1h-1zm0 3h1v1h-1zm0 9h1v1h-1zm0 15h1v1h-1zm0 41h1v1h-1zm0 3h1v1h-1zm0 23h1v1h-1zm0 14h1v1h-1zm0 2h1v1h-1zm0 4h1v1h-1zm1 -368h1v1h-1zm0 4h1v1h-1zm0 5h1v1h-1zm0 6h1v1h-1zm0 18h1v1h-1zm0 13h1v1h-1zm0 3h1v1h-1zm0 19h1v2h-1zm0 35h1v1h-1zm0 11h1v1h-1zm0 38h1v2h-1zm0 15h1v1h-1zm0 12h1v1h-1zm0 76h1v1h-1zm0 19h1v1h-1zm0 19h1v1h-1zm0 14h1v2h-1zm0 20h1v1h-1zm1 -309h1v1h-1zm0 22h1v1h-1zm0 2h1v1h-1zm0 17h1v1h-1zm0 20h1v1h-1zm0 20h1v1h-1zm0 22h1v1h-1zm0 58h1v1h-1zm0 18h1v1h-1zm0 2h1v1h-1zm0 23h1v1h-1zm0 6h1v1h-1zm0 51h1v1h-1zm0 6h1v1h-1zm0 6h1v1h-1zm0 8h1v1h-1zm0 2h1v1h-1zm0 3h1v1h-1zm0 12h1v2h-1zm0 28h1v1h-1zm1 -350h1v1h-1zm0 65h1v1h-1zm0 28h1v1h-1zm0 37h1v1h-1zm0 15h1v1h-1zm0 40h1v1h-1zm0 22h1v1h-1zm0 13h1v1h-1zm0 15h1v1h-1zm0 21h1v2h-1zm0 20h1v1h-1zm0 31h1v1h-1zm0 36h1v1h-1zm0 24h1v1h-1zm1 -356h1v1h-1zm0 7h1v1h-1zm0 28h1v1h-1zm0 6h1v1h-1zm0 4h1v1h-1zm0 16h1v1h-1zm0 2h1v1h-1zm0 21h1v1h-1zm0 23h1v1h-1zm0 21h1v1h-1zm0 5h1v1h-1zm0 5h1v1h-1zm0 5h1v1h-1zm0 8h1v1h-1zm0 32h1v1h-1zm0 3h1v1h-1zm0 33h1v1h-1zm0 4h1v1h-1zm0 5h1v1h-1zm0 2h1v1h-1zm0 5h1v1h-1zm0 32h1v1h-1zm0 2h1v1h-1zm0 3h1v1h-1zm0 12h1v1h-1zm0 2h1v1h-1zm0 12h1v1h-1zm0 20h1v1h-1zm0 11h1v1h-1zm0 5h1v1h-1zm0 19h1v1h-1zm0 3h1v1h-1zm1 -362h1v1h-1zm0 34h1v1h-1zm0 12h1v1h-1zm0 3h1v1h-1zm0 2h1v1h-1zm0 50h1v1h-1zm0 25h1v2h-1zm0 30h1v1h-1zm0 39h1v2h-1zm0 18h1v1h-1zm0 15h1v1h-1zm0 34h1v1h-1zm0 21h1v1h-1zm0 4h1v1h-1zm0 21h1v1h-1zm0 25h1v1h-1zm0 35h1v1h-1zm1 -372h1v1h-1zm0 10h1v1h-1zm0 2h1v1h-1zm0 3h1v1h-1zm0 23h1v1h-1zm0 2h1v1h-1zm0 13h1v1h-1zm0 15h1v1h-1zm0 22h1v1h-1zm0 7h1v1h-1zm0 21h1v1h-1zm0 12h1v1h-1zm0 4h1v1h-1zm0 33h1v1h-1zm0 4h1v1h-1zm0 33h1v1h-1zm0 83h1v1h-1zm0 64h1v1h-1zm0 7h1v1h-1zm0 9h1v1h-1zm1 -362h1v1h-1zm0 9h1v1h-1zm0 13h1v1h-1zm0 17h1v1h-1zm0 12h1v2h-1zm0 68h1v1h-1zm0 8h1v1h-1zm0 7h1v1h-1zm0 3h1v1h-1zm0 37h1v1h-1zm0 19h1v2h-1zm0 21h1v1h-1zm0 10h1v1h-1zm0 11h1v1h-1zm0 9h1v1h-1zm0 3h1v1h-1zm0 20h1v1h-1zm0 18h1v1h-1zm0 7h1v1h-1zm0 38h1v1h-1zm0 9h1v1h-1zm1 -329h1v1h-1zm0 4h1v1h-1zm0 19h1v1h-1zm0 6h1v1h-1zm0 2h1v1h-1zm0 4h1v1h-1zm0 7h1v1h-1zm0 7h1v1h-1zm0 43h1v1h-1zm0 16h1v2h-1zm0 11h1v1h-1zm0 7h1v1h-1zm0 11h1v1h-1zm0 50h1v1h-1zm0 7h1v1h-1zm0 4h1v1h-1zm0 37h1v1h-1zm0 3h1v1h-1zm0 17h1v1h-1zm0 2h1v1h-1zm0 12h1v1h-1zm0 24h1v1h-1zm0 19h1v1h-1zm0 5h1v1h-1zm0 17h1v1h-1zm1 -349h1v1h-1zm0 16h1v1h-1zm0 17h1v1h-1zm0 28h1v1h-1zm0 22h1v1h-1zm0 6h1v1h-1zm0 7h1v1h-1zm0 16h1v1h-1zm0 10h1v1h-1zm0 32h1v1h-1zm0 4h1v1h-1zm0 9h1v1h-1zm0 14h1v2h-1zm0 20h1v1h-1zm0 23h1v1h-1zm0 4h1v1h-1zm0 5h1v1h-1zm0 8h1v1h-1zm0 5h1v1h-1zm0 32h1v1h-1zm0 3h1v1h-1zm0 2h1v1h-1zm0 3h1v1h-1zm0 6h1v1h-1zm0 14h1v1h-1zm0 12h1v1h-1zm0 7h1v1h-1zm0 31h1v1h-1zm0 8h1v1h-1zm1 -365h1v1h-1zm0 137h1v1h-1zm0 127h1v1h-1zm0 10h1v1h-1zm1 -274h1v1h-1zm0 13h1v2h-1zm0 8h1v1h-1zm0 8h1v1h-1zm0 13h1v1h-1zm0 3h1v1h-1zm0 11h1v1h-1zm0 30h1v1h-1zm0 14h1v1h-1zm0 17h1v1h-1zm0 3h1v1h-1zm0 19h1v1h-1zm0 30h1v2h-1zm0 31h1v1h-1zm0 2h1v1h-1zm0 20h1v1h-1zm0 8h1v1h-1zm0 12h1v1h-1zm0 3h1v1h-1zm0 8h1v1h-1zm0 22h1v1h-1zm0 8h1v1h-1zm0 13h1v1h-1zm0 6h1v1h-1zm0 5h1v1h-1zm0 12h1v1h-1zm0 27h1v1h-1zm0 6h1v1h-1zm0 12h1v1h-1zm1 -364h1v1h-1zm0 9h1v1h-1zm0 63h1v1h-1zm0 19h1v1h-1zm0 20h1v1h-1zm0 3h1v1h-1zm0 18h1v1h-1zm0 19h1v1h-1zm0 6h1v1h-1zm0 28h1v1h-1zm0 19h1v1h-1zm0 47h1v3h-1zm0 55h1v1h-1zm1 -305h1v1h-1zm0 21h1v1h-1zm0 55h1v1h-1zm0 78h1v1h-1zm0 32h1v1h-1zm0 5h1v1h-1zm0 10h1v1h-1zm0 11h1v1h-1zm0 20h1v1h-1zm0 2h1v1h-1zm0 36h1v1h-1zm0 5h1v1h-1zm0 2h1v1h-1zm0 17h1v1h-1zm0 18h1v1h-1zm0 32h1v1h-1zm1 -316h1v1h-1zm0 11h1v1h-1zm0 9h1v3h-1zm0 23h1v1h-1zm0 4h1v1h-1zm0 8h1v1h-1zm0 21h1v1h-1zm0 2h1v1h-1zm0 10h1v1h-1zm0 34h1v2h-1zm0 25h1v1h-1zm0 9h1v1h-1zm0 8h1v1h-1zm0 8h1v1h-1zm0 21h1v1h-1zm0 122h1v1h-1zm0 4h1v1h-1zm0 10h1v1h-1zm0 14h1v2h-1zm0 3h1v1h-1zm1 -374h1v1h-1zm0 78h1v1h-1zm0 18h1v1h-1zm0 16h1v1h-1zm0 8h1v3h-1zm0 15h1v1h-1zm0 4h1v1h-1zm0 7h1v1h-1zm0 24h1v1h-1zm0 9h1v1h-1zm0 2h1v1h-1zm0 14h1v2h-1zm0 11h1v1h-1zm0 24h1v1h-1zm0 2h1v1h-1zm0 4h1v1h-1zm0 18h1v1h-1zm0 46h1v1h-1zm0 17h1v1h-1zm0 2h1v1h-1zm0 15h1v1h-1zm0 45h1v1h-1zm1 -371h1v1h-1zm0 11h1v1h-1zm0 19h1v1h-1zm0 23h1v1h-1zm0 24h1v1h-1zm0 7h1v1h-1zm0 5h1v1h-1zm0 27h1v1h-1zm0 52h1v1h-1zm0 43h1v1h-1zm0 10h1v1h-1zm0 24h1v1h-1zm0 6h1v1h-1zm0 4h1v1h-1zm0 2h1v1h-1zm0 65h1v1h-1zm0 23h1v1h-1zm0 20h1v1h-1zm1 -369h1v1h-1zm0 13h1v1h-1zm0 18h1v1h-1zm0 3h1v1h-1zm0 39h1v1h-1zm0 3h1v1h-1zm0 17h1v1h-1zm0 29h1v1h-1zm0 20h1v1h-1zm0 11h1v1h-1zm0 36h1v1h-1zm0 66h1v1h-1zm0 4h1v1h-1zm0 20h1v1h-1zm0 5h1v1h-1zm0 4h1v1h-1zm0 48h1v1h-1zm0 33h1v2h-1zm1 -337h1v1h-1zm0 53h1v1h-1zm0 22h1v1h-1zm0 8h1v1h-1zm0 8h1v1h-1zm0 24h1v1h-1zm0 18h1v1h-1zm0 49h1v1h-1zm0 28h1v1h-1zm0 28h1v1h-1zm0 6h1v2h-1zm0 18h1v1h-1zm0 40h1v1h-1zm0 6h1v1h-1zm0 5h1v1h-1zm0 7h1v1h-1zm0 10h1v1h-1zm1 -356h1v2h-1zm0 16h1v1h-1zm0 13h1v1h-1zm0 17h1v1h-1zm0 12h1v1h-1zm0 4h1v1h-1zm0 9h1v1h-1zm0 6h1v1h-1zm0 2h1v1h-1zm0 10h1v1h-1zm0 3h1v1h-1zm0 22h1v1h-1zm0 25h1v1h-1zm0 6h1v1h-1zm0 16h1v1h-1zm0 2h1v1h-1zm0 69h1v1h-1zm0 8h1v1h-1zm0 8h1v1h-1zm0 11h1v1h-1zm0 9h1v1h-1zm0 2h1v1h-1zm0 28h1v1h-1zm0 9h1v1h-1zm1 -315h1v1h-1zm0 17h1v1h-1zm0 5h1v1h-1zm0 2h1v1h-1zm0 10h1v1h-1zm0 75h1v1h-1zm0 19h1v1h-1zm0 7h1v1h-1zm0 32h1v1h-1zm0 15h1v1h-1zm0 8h1v1h-1zm0 7h1v1h-1zm0 4h1v2h-1zm0 104h1v1h-1zm0 12h1v1h-1zm0 15h1v1h-1zm0 10h1v1h-1zm0 7h1v1h-1zm0 13h1v1h-1zm1 -350h1v1h-1zm0 12h1v1h-1zm0 31h1v1h-1zm0 30h1v1h-1zm0 6h1v1h-1zm0 31h1v1h-1zm0 56h1v1h-1zm0 49h1v1h-1zm0 7h1v1h-1zm0 44h1v1h-1zm0 18h1v1h-1zm0 39h1v2h-1zm0 3h1v1h-1zm1 -327h1v1h-1zm0 5h1v1h-1zm0 14h1v1h-1zm0 40h1v1h-1zm0 19h1v1h-1zm0 15h1v1h-1zm0 11h1v1h-1zm0 3h1v1h-1zm0 36h1v1h-1zm0 36h1v1h-1zm0 15h1v1h-1zm0 3h1v1h-1zm0 4h1v2h-1zm0 12h1v2h-1zm0 17h1v1h-1zm0 42h1v1h-1zm0 10h1v1h-1zm0 15h1v1h-1zm0 3h1v1h-1zm0 15h1v1h-1zm1 -320h1v1h-1zm0 13h1v1h-1zm0 3h1v1h-1zm0 19h1v1h-1zm0 20h1v1h-1zm0 2h1v1h-1zm0 8h1v1h-1zm0 36h1v1h-1zm0 21h1v1h-1zm0 8h1v1h-1zm0 29h1v1h-1zm0 35h1v1h-1zm0 43h1v1h-1zm0 17h1v1h-1zm0 19h1v1h-1zm0 8h1v1h-1zm0 5h1v2h-1zm0 23h1v1h-1zm0 2h1v1h-1zm0 9h1v1h-1zm0 3h1v1h-1zm0 16h1v1h-1zm0 10h1v1h-1zm0 7h1v1h-1zm0 9h1v1h-1zm0 3h1v1h-1zm1 -375h1v1h-1zm0 3h1v1h-1zm0 16h1v1h-1zm0 17h1v1h-1zm0 42h1v1h-1zm0 16h1v1h-1zm0 27h1v1h-1zm0 21h1v1h-1zm0 16h1v1h-1zm0 33h1v1h-1zm0 15h1v1h-1zm0 27h1v1h-1zm0 3h1v1h-1zm0 20h1v1h-1zm0 23h1v1h-1zm0 35h1v1h-1zm0 14h1v1h-1zm0 42h1v1h-1zm1 -370h1v1h-1zm0 3h1v1h-1zm0 25h1v1h-1zm0 30h1v1h-1zm0 7h1v1h-1zm0 11h1v1h-1zm0 33h1v1h-1zm0 12h1v1h-1zm0 23h1v1h-1zm0 12h1v1h-1zm0 8h1v1h-1zm0 8h1v1h-1zm0 32h1v1h-1zm0 4h1v1h-1zm0 2h1v2h-1zm0 9h1v1h-1zm0 21h1v1h-1zm0 34h1v1h-1zm0 11h1v1h-1zm0 13h1v1h-1zm0 16h1v1h-1zm0 4h1v1h-1zm0 15h1v1h-1zm0 14h1v1h-1zm0 18h1v1h-1zm1 -350h1v1h-1zm0 22h1v1h-1zm0 5h1v1h-1zm0 32h1v1h-1zm0 43h1v1h-1zm0 45h1v1h-1zm0 4h1v1h-1zm0 9h1v1h-1zm0 21h1v2h-1zm0 7h1v1h-1zm0 47h1v1h-1zm0 44h1v1h-1zm0 24h1v1h-1zm0 16h1v1h-1zm0 7h1v1h-1zm0 9h1v1h-1zm0 19h1v1h-1zm1 -365h1v1h-1zm0 7h1v1h-1zm0 48h1v1h-1zm0 24h1v1h-1zm0 32h1v1h-1zm0 11h1v1h-1zm0 15h1v1h-1zm0 40h1v1h-1zm0 2h1v1h-1zm0 4h1v1h-1zm0 3h1v1h-1zm0 23h1v2h-1zm0 6h1v1h-1zm0 15h1v1h-1zm0 8h1v1h-1zm0 19h1v1h-1zm0 16h1v1h-1zm0 2h1v1h-1zm0 2h1v1h-1zm0 3h1v1h-1zm0 17h1v1h-1zm0 18h1v1h-1zm0 26h1v1h-1zm0 9h1v1h-1zm0 12h1v1h-1zm1 -367h1v1h-1zm0 4h1v1h-1zm0 48h1v1h-1zm0 14h1v1h-1zm0 9h1v1h-1zm0 6h1v1h-1zm0 12h1v1h-1zm0 15h1v1h-1zm0 60h1v1h-1zm0 17h1v1h-1zm0 5h1v1h-1zm0 3h1v1h-1zm0 6h1v1h-1zm0 26h1v1h-1zm0 10h1v1h-1zm0 44h1v1h-1zm0 9h1v1h-1zm0 12h1v1h-1zm0 30h1v1h-1zm0 4h1v2h-1zm0 36h1v1h-1zm1 -352h1v1h-1zm0 16h1v1h-1zm0 6h1v1h-1zm0 2h1v1h-1zm0 35h1v1h-1zm0 11h1v1h-1zm0 4h1v1h-1zm0 11h1v1h-1zm0 19h1v2h-1zm0 22h1v1h-1zm0 70h1v1h-1zm0 11h1v2h-1zm0 5h1v2h-1zm0 53h1v1h-1zm0 20h1v1h-1zm0 4h1v1h-1zm0 8h1v1h-1zm0 5h1v1h-1zm0 45h1v1h-1zm1 -360h1v1h-1zm0 7h1v1h-1zm0 40h1v1h-1zm0 4h1v1h-1zm0 6h1v1h-1zm0 21h1v1h-1zm0 23h1v1h-1zm0 10h1v1h-1zm0 15h1v1h-1zm0 16h1v2h-1zm0 6h1v1h-1zm0 8h1v1h-1zm0 7h1v1h-1zm0 14h1v1h-1zm0 15h1v1h-1zm0 22h1v1h-1zm0 8h1v2h-1zm0 8h1v1h-1zm0 26h1v1h-1zm0 4h1v1h-1zm0 3h1v1h-1zm0 14h1v1h-1zm0 10h1v1h-1zm0 6h1v1h-1zm0 17h1v1h-1zm0 57h1v1h-1zm1 -357h1v1h-1zm0 12h1v1h-1zm0 20h1v1h-1zm0 25h1v1h-1zm0 27h1v1h-1zm0 10h1v1h-1zm0 38h1v1h-1zm0 3h1v1h-1zm0 8h1v2h-1zm0 37h1v1h-1zm0 10h1v1h-1zm0 5h1v1h-1zm0 10h1v1h-1zm0 2h1v1h-1zm0 20h1v1h-1zm0 13h1v1h-1zm0 6h1v1h-1zm0 30h1v1h-1zm0 5h1v1h-1zm0 17h1v1h-1zm0 41h1v1h-1zm0 19h1v1h-1zm2 -318h1v1h-1zm0 68h1v1h-1zm0 18h1v1h-1zm0 3h1v1h-1zm0 17h1v1h-1zm0 18h1v1h-1zm0 27h1v1h-1zm0 12h1v1h-1zm0 19h1v1h-1zm0 16h1v1h-1zm0 5h1v1h-1zm0 14h1v1h-1zm0 35h1v1h-1zm0 3h1v1h-1zm0 24h1v1h-1zm0 10h1v2h-1zm0 9h1v1h-1zm2 -353h1v1h-1zm0 14h1v1h-1zm0 3h1v1h-1zm0 19h1v1h-1zm0 15h1v1h-1zm0 3h1v1h-1zm0 7h1v1h-1zm0 21h1v1h-1zm0 14h1v1h-1zm0 2h1v1h-1zm0 28h1v1h-1zm0 10h1v1h-1zm0 4h1v1h-1zm0 23h1v1h-1zm0 4h1v1h-1zm0 15h1v1h-1zm0 90h1v1h-1zm0 84h1v1h-1zm0 8h1v1h-1zm2 -355h1v1h-1zm0 2h1v1h-1zm0 31h1v1h-1zm0 37h1v1h-1zm0 47h1v1h-1zm0 11h1v1h-1zm0 47h1v1h-1zm0 24h1v1h-1zm0 32h1v1h-1zm0 7h1v1h-1zm0 7h1v1h-1zm0 6h1v1h-1zm0 46h1v1h-1zm0 43h1v1h-1zm0 7h1v1h-1zm0 13h1v1h-1zm2 -306h1v1h-1zm0 17h1v1h-1zm0 25h1v1h-1zm0 5h1v1h-1zm0 11h1v1h-1zm0 2h1v1h-1zm0 57h1v1h-1zm0 3h1v1h-1zm0 14h1v1h-1zm0 12h1v1h-1zm0 7h1v1h-1zm0 46h1v1h-1zm0 3h1v1h-1zm0 27h1v2h-1zm0 18h1v1h-1zm0 2h1v1h-1zm0 28h1v1h-1zm0 11h1v1h-1zm2 -344h1v1h-1zm0 12h1v1h-1zm0 4h1v1h-1zm0 14h1v1h-1zm0 17h1v1h-1zm0 27h1v1h-1zm0 8h1v1h-1zm0 122h1v1h-1zm0 48h1v2h-1zm0 14h1v1h-1zm0 20h1v1h-1zm0 33h1v2h-1zm0 18h1v1h-1zm0 4h1v1h-1zm0 21h1v1h-1zm2 -315h1v1h-1zm0 52h1v1h-1zm0 4h1v1h-1zm0 36h1v1h-1zm0 14h1v1h-1zm0 11h1v1h-1zm0 10h1v1h-1zm0 21h1v1h-1zm0 4h1v1h-1zm0 46h1v1h-1zm0 29h1v1h-1zm0 4h1v1h-1zm0 34h1v1h-1zm0 8h1v1h-1zm0 10h1v1h-1zm0 21h1v1h-1zm0 5h1v1h-1zm2 -360h1v1h-1zm0 16h1v1h-1zm0 61h1v1h-1zm0 25h1v1h-1zm0 23h1v1h-1zm0 45h1v1h-1zm0 6h1v1h-1zm0 7h1v3h-1zm0 51h1v1h-1zm0 36h1v1h-1zm0 7h1v1h-1zm0 2h1v1h-1zm0 19h1v1h-1zm0 10h1v1h-1zm0 13h1v1h-1zm0 28h1v1h-1zm0 3h1v1h-1zm0 18h1v1h-1zm5 -358h1v1h-1zm0 3h1v1h-1zm0 3h1v1h-1zm0 5h1v2h-1zm0 11h1v1h-1zm0 25h1v1h-1zm0 53h1v1h-1zm0 7h1v1h-1zm0 12h1v1h-1zm0 2h1v1h-1zm0 3h1v1h-1zm0 27h1v1h-1zm0 9h1v2h-1zm0 21h1v1h-1zm0 8h1v1h-1zm0 32h1v2h-1zm0 14h1v1h-1zm0 8h1v1h-1zm0 12h1v1h-1zm0 12h1v1h-1zm0 14h1v1h-1zm0 14h1v1h-1zm0 4h1v1h-1zm0 22h1v1h-1zm0 2h1v1h-1zm0 10h1v1h-1zm0 32h1v1h-1zm5 -345h1v1h-1zm0 20h1v1h-1zm0 6h1v1h-1zm0 12h1v1h-1zm0 18h1v1h-1zm0 29h1v1h-1zm0 11h1v1h-1zm0 5h1v1h-1zm0 7h1v1h-1zm0 52h1v1h-1zm0 5h1v1h-1zm0 5h1v1h-1zm0 13h1v1h-1zm0 22h1v1h-1zm0 6h1v1h-1zm0 60h1v1h-1zm0 54h1v1h-1zm0 22h1v1h-1zm5 -314h1v1h-1zm0 36h1v1h-1zm0 67h1v1h-1zm0 22h1v1h-1zm0 44h1v1h-1zm0 20h1v1h-1zm0 6h1v1h-1zm0 2h1v1h-1zm0 49h1v1h-1zm0 45h1v2h-1zm0 21h1v1h-1zm5 -339h1v1h-1zm0 2h1v1h-1zm0 25h1v1h-1zm0 8h1v1h-1zm0 29h1v1h-1zm0 12h1v1h-1zm0 39h1v1h-1zm0 13h1v1h-1zm0 23h1v1h-1zm0 12h1v1h-1zm0 9h1v1h-1zm0 24h1v1h-1zm0 19h1v1h-1zm0 24h1v1h-1zm0 4h1v1h-1zm0 24h1v1h-1zm0 24h1v1h-1zm0 3h1v1h-1zm0 26h1v2h-1zm0 19h1v1h-1zm5 -364h1v1h-1zm0 10h1v1h-1zm0 44h1v1h-1zm0 9h1v1h-1zm0 9h1v1h-1zm0 7h1v1h-1zm0 7h1v1h-1zm0 49h1v2h-1zm0 4h1v1h-1zm0 12h1v1h-1zm0 7h1v1h-1zm0 10h1v1h-1zm0 5h1v1h-1zm0 65h1v1h-1zm0 35h1v1h-1zm0 7h1v1h-1zm0 20h1v1h-1zm0 16h1v1h-1zm0 23h1v1h-1zm0 2h1v1h-1zm0 18h1v1h-1zm5 -373h1v1h-1zm0 27h1v1h-1zm0 14h1v1h-1zm0 18h1v1h-1zm0 2h1v1h-1zm0 9h1v1h-1zm0 6h1v1h-1zm0 22h1v1h-1zm0 31h1v1h-1zm0 7h1v1h-1zm0 4h1v1h-1zm0 22h1v1h-1zm0 4h1v1h-1zm0 39h1v1h-1zm0 45h1v1h-1zm0 10h1v1h-1zm0 5h1v1h-1zm0 18h1v1h-1zm0 23h1v1h-1zm0 8h1v1h-1zm0 47h1v1h-1zm0 7h1v1h-1zm0 8h1v1h-1z"/><path fill="#481a6c" d="M4 20h1v1h-1zm0 12h1v1h-1zm0 33h1v1h-1zm0 3h1v1h-1zm0 60h1v1h-1zm0 2h1v1h-1zm0 16h1v1h-1zm0 28h1v1h-1zm0 44h1v1h-1zm0 26h1v1h-1zm0 87h1v1h-1zm0 28h1v1h-1zm0 3h1v1h-1zm1 -360h1v1h-1zm0 4h1v1h-1zm0 32h1v1h-1zm0 6h1v1h-1zm0 12h1v1h-1zm0 6h1v1h-1zm0 3h1v1h-1zm0 21h1v1h-1zm0 2h1v1h-1zm0 5h1v1h-1zm0 6h1v1h-1zm0 44h1v1h-1zm0 28h1v1h-1zm0 55h1v1h-1zm0 7h1v1h-1zm0 30h1v1h-1zm0 11h1v1h-1zm0 7h1v1h-1zm0 74h1v1h-1zm0 2h1v1h-1zm0 12h1v1h-1zm1 -367h1v1h-1zm0 34h1v1h-1zm0 23h1v1h-1zm0 6h1v1h-1zm0 10h1v1h-1zm0 6h1v1h-1zm0 3h1v2h-1zm0 44h1v1h-1zm0 23h1v1h-1zm0 25h1v1h-1zm0 21h1v1h-1zm0 38h1v1h-1zm0 39h1v2h-1zm0 12h1v1h-1zm0 21h1v1h-1zm0 36h1v1h-1zm0 21h1v1h-1zm1 -352h1v1h-1zm0 19h1v1h-1zm0 76h1v1h-1zm0 9h1v1h-1zm0 16h1v2h-1zm0 29h1v1h-1zm0 23h1v1h-1zm0 7h1v1h-1zm0 22h1v1h-1zm0 117h1v1h-1zm0 32h1v1h-1zm0 4h1v1h-1zm1 -347h1v1h-1zm0 10h1v1h-1zm0 17h1v1h-1zm0 5h1v4h-1zm0 36h1v1h-1zm0 16h1v1h-1zm0 125h1v1h-1zm0 24h1v1h-1zm0 21h1v1h-1zm0 13h1v1h-1zm1 -275h1v1h-1zm0 18h1v1h-1zm0 13h1v1h-1zm0 23h1v1h-1zm0 111h1v1h-1zm0 15h1v1h-1zm0 14h1v1h-1zm0 53h1v1h-1zm0 2h1v2h-1zm0 21h1v1h-1zm0 4h1v1h-1zm0 13h1v1h-1zm0 19h1v1h-1zm0 33h1v1h-1zm0 16h1v1h-1zm1 -220h1v1h-1zm0 16h1v1h-1zm0 13h1v1h-1zm0 2h1v1h-1zm0 6h1v1h-1zm0 6h1v1h-1zm0 13h1v1h-1zm0 56h1v1h-1zm0 16h1v1h-1zm0 26h1v1h-1zm0 2h1v1h-1zm0 40h1v1h-1zm0 23h1v1h-1zm1 -352h1v2h-1zm0 8h1v1h-1zm0 4h1v1h-1zm0 3h1v1h-1zm0 12h1v2h-1zm0 22h1v1h-1zm0 7h1v2h-1zm0 7h1v1h-1zm0 2h1v1h-1zm0 2h1v1h-1zm0 6h1v1h-1zm0 7h1v1h-1zm0 11h1v1h-1zm0 4h1v1h-1zm0 6h1v1h-1zm0 43h1v1h-1zm0 21h1v1h-1zm0 7h1v1h-1zm0 10h1v1h-1zm0 6h1v1h-1zm0 27h1v1h-1zm0 4h1v1h-1zm0 36h1v1h-1zm0 21h1v1h-1zm0 27h1v1h-1zm1 -307h1v1h-1zm0 17h1v1h-1zm0 4h1v1h-1zm0 30h1v1h-1zm0 40h1v1h-1zm0 25h1v1h-1zm0 42h1v1h-1zm0 12h1v1h-1zm0 30h1v1h-1zm0 4h1v1h-1zm0 2h1v1h-1zm0 30h1v1h-1zm0 74h1v1h-1zm0 52h1v1h-1zm1 -362h1v1h-1zm0 68h1v1h-1zm0 29h1v1h-1zm0 7h1v1h-1zm0 53h1v1h-1zm0 4h1v1h-1zm0 18h1v1h-1zm0 11h1v1h-1zm0 27h1v1h-1zm0 9h1v1h-1zm0 24h1v1h-1zm0 5h1v1h-1zm0 12h1v1h-1zm0 29h1v1h-1zm0 19h1v1h-1zm0 37h1v1h-1zm1 -337h1v1h-1zm0 2h1v1h-1zm0 21h1v1h-1zm0 3h1v1h-1zm0 37h1v1h-1zm0 5h1v1h-1zm0 17h1v1h-1zm0 16h1v1h-1zm0 77h1v1h-1zm0 2h1v1h-1zm0 10h1v1h-1zm0 59h1v2h-1zm0 64h1v1h-1zm0 6h1v1h-1zm0 9h1v1h-1zm0 9h1v1h-1zm0 4h1v1h-1zm0 7h1v1h-1zm1 -353h1v1h-1zm0 8h1v1h-1zm0 27h1v1h-1zm0 14h1v2h-1zm0 41h1v1h-1zm0 7h1v2h-1zm0 7h1v1h-1zm0 43h1v1h-1zm0 22h1v1h-1zm0 39h1v1h-1zm0 17h1v1h-1zm0 2h1v1h-1zm0 13h1v1h-1zm0 7h1v1h-1zm0 7h1v1h-1zm0 22h1v1h-1zm0 3h1v1h-1zm0 28h1v1h-1zm0 4h1v1h-1zm0 5h1v1h-1zm0 42h1v1h-1zm1 -323h1v1h-1zm0 4h1v1h-1zm0 31h1v1h-1zm0 24h1v1h-1zm0 3h1v1h-1zm0 13h1v1h-1zm0 2h1v1h-1zm0 29h1v1h-1zm0 7h1v1h-1zm0 6h1v1h-1zm0 56h1v1h-1zm0 18h1v1h-1zm0 21h1v1h-1zm0 14h1v1h-1zm0 33h1v1h-1zm0 62h1v1h-1zm1 -374h1v1h-1zm0 25h1v1h-1zm0 15h1v1h-1zm0 22h1v1h-1zm0 66h1v1h-1zm0 20h1v1h-1zm0 11h1v1h-1zm0 12h1v1h-1zm0 2h1v1h-1zm0 42h1v1h-1zm0 8h1v1h-1zm0 6h1v1h-1zm0 36h1v2h-1zm0 6h1v1h-1zm0 6h1v1h-1zm0 89h1v1h-1zm1 -368h1v1h-1zm0 20h1v1h-1zm0 8h1v1h-1zm0 55h1v1h-1zm0 10h1v1h-1zm0 10h1v1h-1zm0 24h1v1h-1zm0 37h1v1h-1zm0 2h1v1h-1zm0 5h1v1h-1zm0 4h1v1h-1zm0 50h1v1h-1zm0 13h1v1h-1zm0 12h1v1h-1zm0 5h1v1h-1zm0 4h1v1h-1zm0 18h1v1h-1zm0 4h1v1h-1zm0 20h1v1h-1zm0 5h1v1h-1zm0 4h1v1h-1zm0 3h1v1h-1zm0 30h1v1h-1zm0 11h1v1h-1zm1 -349h1v2h-1zm0 13h1v1h-1zm0 6h1v1h-1zm0 2h1v1h-1zm0 5h1v1h-1zm0 4h1v1h-1zm0 31h1v1h-1zm0 3h1v1h-1zm0 2h1v2h-1zm0 32h1v1h-1zm0 19h1v1h-1zm0 18h1v1h-1zm0 20h1v1h-1zm0 6h1v1h-1zm0 13h1v2h-1zm0 37h1v1h-1zm0 27h1v1h-1zm0 6h1v1h-1zm0 53h1v1h-1zm0 3h1v1h-1zm0 10h1v1h-1zm1 -261h1v1h-1zm0 3h1v1h-1zm0 25h1v1h-1zm0 142h1v1h-1zm0 14h1v1h-1zm0 38h1v2h-1zm0 19h1v1h-1zm0 17h1v1h-1zm0 11h1v1h-1zm0 32h1v1h-1zm1 -346h1v1h-1zm0 30h1v1h-1zm0 43h1v1h-1zm0 41h1v1h-1zm0 31h1v1h-1zm0 17h1v1h-1zm0 4h1v1h-1zm0 6h1v1h-1zm0 9h1v1h-1zm0 96h1v1h-1zm0 29h1v1h-1zm0 6h1v1h-1zm1 -316h1v1h-1zm0 26h1v1h-1zm0 87h1v1h-1zm0 10h1v1h-1zm0 5h1v1h-1zm0 37h1v1h-1zm0 43h1v1h-1zm0 54h1v1h-1zm0 5h1v1h-1zm0 5h1v1h-1zm0 24h1v1h-1zm0 3h1v1h-1zm0 6h1v1h-1zm0 11h1v1h-1zm0 25h1v1h-1zm1 -343h1v1h-1zm0 3h1v1h-1zm0 28h1v1h-1zm0 21h1v1h-1zm0 7h1v1h-1zm0 4h1v1h-1zm0 45h1v1h-1zm0 38h1v1h-1zm0 19h1v1h-1zm0 51h1v1h-1zm0 2h1v1h-1zm0 34h1v1h-1zm0 16h1v1h-1zm0 73h1v1h-1zm0 16h1v1h-1zm0 2h1v1h-1zm0 2h1v1h-1zm0 8h1v1h-1zm1 -356h1v1h-1zm0 42h1v1h-1zm0 9h1v1h-1zm0 17h1v1h-1zm0 10h1v2h-1zm0 13h1v1h-1zm0 34h1v1h-1zm0 21h1v1h-1zm0 7h1v1h-1zm0 8h1v1h-1zm0 10h1v1h-1zm0 11h1v1h-1zm0 30h1v1h-1zm0 25h1v1h-1zm0 39h1v1h-1zm0 48h1v1h-1zm0 8h1v1h-1zm0 5h1v1h-1zm0 8h1v1h-1zm1 -337h1v1h-1zm0 4h1v1h-1zm0 5h1v1h-1zm0 30h1v1h-1zm0 10h1v1h-1zm0 44h1v1h-1zm0 43h1v1h-1zm0 5h1v1h-1zm0 35h1v1h-1zm0 39h1v1h-1zm0 9h1v1h-1zm0 32h1v1h-1zm0 13h1v1h-1zm0 21h1v1h-1zm0 7h1v1h-1zm0 23h1v1h-1zm1 -332h1v1h-1zm0 27h1v1h-1zm0 22h1v1h-1zm0 13h1v1h-1zm0 5h1v1h-1zm0 2h1v1h-1zm0 29h1v1h-1zm0 10h1v2h-1zm0 11h1v1h-1zm0 4h1v1h-1zm0 46h1v1h-1zm0 7h1v1h-1zm0 49h1v1h-1zm0 32h1v1h-1zm0 27h1v1h-1zm0 25h1v1h-1zm0 10h1v1h-1zm0 3h1v1h-1zm0 10h1v1h-1zm0 6h1v1h-1zm0 22h1v2h-1zm1 -351h1v1h-1zm0 18h1v1h-1zm0 25h1v1h-1zm0 2h1v1h-1zm0 14h1v1h-1zm0 38h1v1h-1zm0 3h1v2h-1zm0 4h1v1h-1zm0 30h1v1h-1zm0 4h1v1h-1zm0 6h1v1h-1zm0 4h1v2h-1zm0 13h1v1h-1zm0 5h1v1h-1zm0 31h1v1h-1zm0 40h1v1h-1zm0 6h1v1h-1zm0 19h1v1h-1zm0 6h1v1h-1zm0 11h1v1h-1zm0 10h1v1h-1zm0 5h1v1h-1zm0 15h1v1h-1zm0 14h1v1h-1zm0 7h1v2h-1zm1 -334h1v1h-1zm0 45h1v1h-1zm0 13h1v1h-1zm0 23h1v1h-1zm0 30h1v1h-1zm0 19h1v1h-1zm0 3h1v2h-1zm0 43h1v1h-1zm0 12h1v1h-1zm0 26h1v1h-1zm0 11h1v1h-1zm0 6h1v1h-1zm0 4h1v1h-1zm0 6h1v1h-1zm0 18h1v2h-1zm0 10h1v1h-1zm0 50h1v1h-1zm0 7h1v2h-1zm1 -240h1v1h-1zm0 29h1v1h-1zm0 30h1v1h-1zm0 17h1v1h-1zm0 7h1v1h-1zm0 6h1v1h-1zm0 29h1v1h-1zm0 117h1v1h-1zm1 -339h1v1h-1zm0 23h1v2h-1zm0 20h1v1h-1zm0 13h1v1h-1zm0 16h1v1h-1zm0 12h1v1h-1zm0 13h1v1h-1zm0 19h1v1h-1zm0 5h1v1h-1zm0 5h1v1h-1zm0 55h1v1h-1zm0 12h1v1h-1zm0 12h1v1h-1zm0 41h1v1h-1zm0 20h1v1h-1zm0 9h1v1h-1zm0 9h1v1h-1zm0 8h1v1h-1zm0 23h1v1h-1zm0 13h1v1h-1zm0 26h1v1h-1zm1 -352h1v1h-1zm0 36h1v1h-1zm0 11h1v1h-1zm0 14h1v1h-1zm0 60h1v1h-1zm0 27h1v1h-1zm0 11h1v1h-1zm0 5h1v1h-1zm0 5h1v1h-1zm0 49h1v1h-1zm0 59h1v1h-1zm0 7h1v1h-1zm0 8h1v1h-1zm0 26h1v1h-1zm0 13h1v1h-1zm0 3h1v1h-1zm0 9h1v1h-1zm0 36h1v1h-1zm1 -371h1v1h-1zm0 18h1v1h-1zm0 21h1v1h-1zm0 30h1v2h-1zm0 16h1v1h-1zm0 2h1v1h-1zm0 35h1v1h-1zm0 66h1v1h-1zm0 76h1v1h-1zm0 84h1v1h-1zm1 -348h1v1h-1zm0 10h1v1h-1zm0 17h1v1h-1zm0 2h1v1h-1zm0 9h1v1h-1zm0 30h1v1h-1zm0 71h1v1h-1zm0 13h1v1h-1zm0 2h1v1h-1zm0 24h1v1h-1zm0 5h1v1h-1zm0 10h1v1h-1zm0 28h1v1h-1zm0 30h1v1h-1zm0 13h1v1h-1zm0 6h1v1h-1zm0 15h1v1h-1zm0 11h1v1h-1zm1 -292h1v1h-1zm0 9h1v1h-1zm0 52h1v1h-1zm0 20h1v1h-1zm0 72h1v1h-1zm0 2h1v1h-1zm0 43h1v1h-1zm0 15h1v1h-1zm0 56h1v1h-1zm0 43h1v1h-1zm1 -304h1v2h-1zm0 8h1v2h-1zm0 59h1v1h-1zm0 27h1v1h-1zm0 10h1v1h-1zm0 15h1v1h-1zm0 12h1v1h-1zm0 3h1v1h-1zm0 31h1v1h-1zm0 7h1v1h-1zm0 38h1v1h-1zm0 20h1v1h-1zm0 29h1v1h-1zm0 11h1v1h-1zm0 68h1v1h-1zm0 4h1v1h-1zm0 5h1v1h-1zm1 -336h1v1h-1zm0 28h1v1h-1zm0 15h1v1h-1zm0 12h1v1h-1zm0 12h1v1h-1zm0 4h1v1h-1zm0 4h1v1h-1zm0 13h1v1h-1zm0 17h1v1h-1zm0 5h1v1h-1zm0 34h1v1h-1zm0 12h1v1h-1zm0 25h1v2h-1zm0 27h1v1h-1zm0 61h1v1h-1zm0 2h1v1h-1zm0 5h1v1h-1zm0 10h1v1h-1zm0 21h1v1h-1zm0 17h1v1h-1zm1 -329h1v1h-1zm0 27h1v1h-1zm0 3h1v2h-1zm0 20h1v1h-1zm0 18h1v1h-1zm0 14h1v1h-1zm0 48h1v2h-1zm0 8h1v1h-1zm0 6h1v1h-1zm0 9h1v1h-1zm0 6h1v1h-1zm0 14h1v1h-1zm0 33h1v1h-1zm0 9h1v1h-1zm0 27h1v1h-1zm0 22h1v2h-1zm0 21h1v1h-1zm0 7h1v1h-1zm0 14h1v1h-1zm0 2h1v1h-1zm0 47h1v1h-1zm1 -355h1v1h-1zm0 65h1v1h-1zm0 7h1v1h-1zm0 62h1v1h-1zm0 133h1v1h-1zm0 17h1v1h-1zm0 39h1v1h-1zm0 7h1v2h-1zm0 17h1v1h-1zm1 -338h1v1h-1zm0 95h1v1h-1zm0 5h1v1h-1zm0 94h1v1h-1zm0 36h1v1h-1zm0 3h1v1h-1zm0 12h1v1h-1zm0 23h1v1h-1zm0 11h1v1h-1zm1 -309h1v1h-1zm0 31h1v1h-1zm0 61h1v1h-1zm0 34h1v1h-1zm0 11h1v1h-1zm0 2h1v1h-1zm0 6h1v1h-1zm0 68h1v1h-1zm0 12h1v1h-1zm0 8h1v1h-1zm0 45h1v1h-1zm0 17h1v1h-1zm0 12h1v1h-1zm0 7h1v1h-1zm0 11h1v1h-1zm0 5h1v1h-1zm0 17h1v1h-1zm0 4h1v2h-1zm1 -349h1v1h-1zm0 29h1v1h-1zm0 10h1v1h-1zm0 47h1v1h-1zm0 58h1v1h-1zm0 24h1v1h-1zm0 22h1v1h-1zm0 31h1v1h-1zm0 47h1v1h-1zm0 6h1v1h-1zm0 30h1v1h-1zm0 26h1v1h-1zm1 -327h1v1h-1zm0 12h1v1h-1zm0 10h1v1h-1zm0 2h1v1h-1zm0 71h1v2h-1zm0 11h1v1h-1zm0 66h1v1h-1zm0 11h1v1h-1zm0 35h1v2h-1zm0 16h1v1h-1zm0 28h1v1h-1zm0 4h1v1h-1zm0 14h1v1h-1zm0 40h1v1h-1zm0 13h1v1h-1zm0 6h1v1h-1zm0 15h1v1h-1zm1 -344h1v1h-1zm0 6h1v2h-1zm0 18h1v1h-1zm0 47h1v1h-1zm0 72h1v2h-1zm0 27h1v1h-1zm0 2h1v1h-1zm0 59h1v1h-1zm0 11h1v1h-1zm0 21h1v1h-1zm0 19h1v1h-1zm0 9h1v1h-1zm0 31h1v1h-1zm0 24h1v1h-1zm0 6h1v1h-1zm1 -352h1v1h-1zm0 78h1v1h-1zm0 11h1v1h-1zm0 22h1v1h-1zm0 13h1v1h-1zm0 48h1v2h-1zm0 38h1v1h-1zm0 3h1v2h-1zm0 43h1v1h-1zm0 19h1v1h-1zm0 17h1v1h-1zm0 16h1v1h-1zm1 -324h1v1h-1zm0 8h1v1h-1zm0 11h1v1h-1zm0 31h1v1h-1zm0 11h1v1h-1zm0 7h1v1h-1zm0 13h1v1h-1zm0 6h1v1h-1zm0 23h1v1h-1zm0 3h1v1h-1zm0 12h1v1h-1zm0 20h1v2h-1zm0 9h1v1h-1zm0 12h1v1h-1zm0 4h1v1h-1zm0 4h1v1h-1zm0 6h1v1h-1zm0 67h1v1h-1zm0 8h1v1h-1zm0 26h1v1h-1zm0 21h1v1h-1zm0 17h1v1h-1zm0 12h1v1h-1zm0 27h1v1h-1zm0 2h1v1h-1zm0 2h1v1h-1zm1 -330h1v1h-1zm0 31h1v1h-1zm0 11h1v1h-1zm0 18h1v1h-1zm0 43h1v1h-1zm0 24h1v1h-1zm0 33h1v1h-1zm0 5h1v1h-1zm0 19h1v1h-1zm0 28h1v1h-1zm0 50h1v1h-1zm0 5h1v1h-1zm1 -290h1v1h-1zm0 2h1v1h-1zm0 10h1v1h-1zm0 56h1v1h-1zm0 12h1v1h-1zm0 8h1v1h-1zm0 22h1v1h-1zm0 54h1v1h-1zm0 5h1v1h-1zm0 2h1v1h-1zm0 16h1v1h-1zm0 6h1v1h-1zm0 16h1v1h-1zm0 32h1v1h-1zm0 15h1v1h-1zm0 24h1v1h-1zm0 5h1v1h-1zm0 2h1v1h-1zm0 24h1v1h-1zm0 10h1v1h-1zm0 6h1v1h-1zm0 18h1v1h-1zm1 -352h1v1h-1zm0 58h1v1h-1zm0 53h1v1h-1zm0 2h1v1h-1zm0 36h1v1h-1zm0 25h1v1h-1zm0 3h1v1h-1zm0 19h1v1h-1zm0 59h1v1h-1zm0 21h1v1h-1zm0 3h1v1h-1zm0 14h1v1h-1zm0 20h1v1h-1zm0 54h1v1h-1zm1 -370h1v1h-1zm0 75h1v1h-1zm0 15h1v1h-1zm0 14h1v1h-1zm0 15h1v1h-1zm0 16h1v1h-1zm0 35h1v2h-1zm0 9h1v1h-1zm0 14h1v1h-1zm0 5h1v2h-1zm0 17h1v1h-1zm0 4h1v1h-1zm0 2h1v1h-1zm0 29h1v1h-1zm0 4h1v1h-1zm0 4h1v1h-1zm0 2h1v1h-1zm0 10h1v1h-1zm0 34h1v1h-1zm0 4h1v2h-1zm0 25h1v1h-1zm0 11h1v2h-1zm0 26h1v1h-1zm1 -374h1v1h-1zm0 120h1v1h-1zm0 12h1v1h-1zm0 8h1v1h-1zm0 14h1v1h-1zm0 9h1v1h-1zm0 40h1v1h-1zm0 26h1v1h-1zm0 32h1v1h-1zm0 15h1v1h-1zm0 4h1v1h-1zm0 13h1v1h-1zm0 10h1v1h-1zm0 16h1v1h-1zm0 43h1v1h-1zm1 -348h1v1h-1zm0 4h1v1h-1zm0 18h1v1h-1zm0 5h1v1h-1zm0 9h1v1h-1zm0 23h1v1h-1zm0 11h1v2h-1zm0 10h1v1h-1zm0 5h1v1h-1zm0 8h1v1h-1zm0 10h1v1h-1zm0 12h1v1h-1zm0 7h1v1h-1zm0 25h1v1h-1zm0 8h1v1h-1zm0 6h1v1h-1zm0 18h1v1h-1zm0 5h1v1h-1zm0 3h1v1h-1zm0 13h1v1h-1zm0 10h1v1h-1zm0 11h1v1h-1zm0 14h1v1h-1zm0 3h1v1h-1zm0 26h1v1h-1zm0 33h1v1h-1zm0 38h1v1h-1zm0 6h1v1h-1zm0 16h1v1h-1zm1 -360h1v2h-1zm0 55h1v1h-1zm0 23h1v1h-1zm0 10h1v2h-1zm0 44h1v1h-1zm0 41h1v1h-1zm0 52h1v1h-1zm0 8h1v1h-1zm0 11h1v1h-1zm0 4h1v1h-1zm0 82h1v1h-1zm0 5h1v1h-1zm1 -332h1v1h-1zm0 12h1v1h-1zm0 9h1v2h-1zm0 20h1v1h-1zm0 5h1v1h-1zm0 28h1v1h-1zm0 8h1v1h-1zm0 11h1v1h-1zm0 6h1v1h-1zm0 31h1v1h-1zm0 4h1v1h-1zm0 32h1v1h-1zm0 36h1v1h-1zm0 4h1v1h-1zm0 27h1v1h-1zm0 3h1v1h-1zm0 2h1v1h-1zm0 76h1v1h-1zm0 10h1v1h-1zm0 2h1v1h-1zm0 10h1v1h-1zm0 5h1v1h-1zm0 7h1v1h-1zm0 5h1v1h-1zm1 -368h1v1h-1zm0 5h1v1h-1zm0 23h1v1h-1zm0 15h1v1h-1zm0 39h1v1h-1zm0 5h1v1h-1zm0 60h1v1h-1zm0 2h1v1h-1zm0 8h1v1h-1zm0 3h1v1h-1zm0 10h1v1h-1zm0 16h1v1h-1zm0 20h1v1h-1zm0 8h1v1h-1zm0 6h1v1h-1zm0 13h1v1h-1zm0 10h1v1h-1zm0 15h1v1h-1zm0 16h1v1h-1zm0 41h1v1h-1zm0 28h1v1h-1zm1 -327h1v1h-1zm0 15h1v1h-1zm0 7h1v2h-1zm0 6h1v1h-1zm0 33h1v1h-1zm0 6h1v1h-1zm0 5h1v1h-1zm0 76h1v1h-1zm0 24h1v1h-1zm0 4h1v1h-1zm0 15h1v1h-1zm0 89h1v1h-1zm0 24h1v1h-1zm0 23h1v1h-1zm1 -339h1v2h-1zm0 6h1v1h-1zm0 8h1v1h-1zm0 28h1v1h-1zm0 26h1v1h-1zm0 15h1v1h-1zm0 11h1v1h-1zm0 37h1v1h-1zm0 10h1v1h-1zm0 15h1v1h-1zm0 20h1v1h-1zm0 2h1v1h-1zm0 4h1v1h-1zm0 3h1v1h-1zm0 14h1v1h-1zm0 7h1v1h-1zm0 4h1v1h-1zm0 25h1v1h-1zm0 4h1v1h-1zm0 7h1v1h-1zm0 29h1v1h-1zm0 3h1v1h-1zm0 10h1v1h-1zm0 46h1v1h-1zm0 20h1v1h-1zm0 13h1v1h-1zm1 -370h1v1h-1zm0 22h1v1h-1zm0 13h1v1h-1zm0 18h1v1h-1zm0 7h1v1h-1zm0 14h1v1h-1zm0 4h1v1h-1zm0 5h1v1h-1zm0 20h1v2h-1zm0 34h1v1h-1zm0 2h1v1h-1zm0 10h1v1h-1zm0 12h1v1h-1zm0 18h1v1h-1zm0 67h1v1h-1zm0 20h1v1h-1zm0 14h1v1h-1zm0 12h1v1h-1zm0 6h1v1h-1zm0 2h1v1h-1zm0 7h1v1h-1zm0 6h1v1h-1zm0 4h1v1h-1zm0 4h1v1h-1zm0 28h1v1h-1zm0 23h1v1h-1zm0 5h1v1h-1zm1 -366h1v1h-1zm0 42h1v1h-1zm0 7h1v1h-1zm0 14h1v1h-1zm0 20h1v1h-1zm0 20h1v1h-1zm0 4h1v1h-1zm0 10h1v1h-1zm0 21h1v1h-1zm0 20h1v1h-1zm0 12h1v1h-1zm0 5h1v1h-1zm0 9h1v1h-1zm0 7h1v1h-1zm0 80h1v1h-1zm0 13h1v1h-1zm0 31h1v1h-1zm0 36h1v1h-1zm0 14h1v1h-1zm1 -369h1v1h-1zm0 3h1v1h-1zm0 5h1v1h-1zm0 16h1v1h-1zm0 15h1v1h-1zm0 44h1v1h-1zm0 2h1v1h-1zm0 15h1v1h-1zm0 53h1v1h-1zm0 25h1v1h-1zm0 33h1v1h-1zm0 10h1v1h-1zm0 39h1v1h-1zm0 3h1v1h-1zm0 20h1v1h-1zm0 78h1v2h-1zm1 -347h1v1h-1zm0 17h1v1h-1zm0 9h1v1h-1zm0 3h1v1h-1zm0 10h1v1h-1zm0 7h1v2h-1zm0 34h1v1h-1zm0 6h1v1h-1zm0 8h1v1h-1zm0 27h1v1h-1zm0 2h1v1h-1zm0 5h1v1h-1zm0 2h1v1h-1zm0 7h1v1h-1zm0 35h1v1h-1zm0 16h1v1h-1zm0 9h1v1h-1zm0 22h1v1h-1zm0 22h1v1h-1zm0 24h1v1h-1zm0 30h1v2h-1zm0 18h1v1h-1zm1 -332h1v1h-1zm0 26h1v1h-1zm0 4h1v1h-1zm0 9h1v2h-1zm0 7h1v1h-1zm0 38h1v1h-1zm0 28h1v1h-1zm0 17h1v1h-1zm0 6h1v1h-1zm0 2h1v1h-1zm0 9h1v1h-1zm0 2h1v1h-1zm0 7h1v1h-1zm0 19h1v1h-1zm0 10h1v1h-1zm0 27h1v1h-1zm0 64h1v1h-1zm0 37h1v1h-1zm0 13h1v1h-1zm0 12h1v1h-1zm0 4h1v1h-1zm0 16h1v1h-1zm0 4h1v1h-1zm0 2h1v1h-1zm0 8h1v1h-1zm1 -347h1v1h-1zm0 2h1v1h-1zm0 4h1v1h-1zm0 18h1v1h-1zm0 21h1v1h-1zm0 8h1v1h-1zm0 11h1v1h-1zm0 13h1v2h-1zm0 61h1v1h-1zm0 10h1v1h-1zm0 33h1v1h-1zm0 3h1v1h-1zm0 10h1v1h-1zm0 13h1v1h-1zm0 15h1v1h-1zm0 12h1v1h-1zm0 13h1v1h-1zm0 86h1v1h-1zm0 12h1v2h-1zm1 -339h1v1h-1zm0 13h1v1h-1zm0 5h1v1h-1zm0 94h1v1h-1zm0 14h1v1h-1zm0 12h1v1h-1zm0 150h1v1h-1zm0 5h1v1h-1zm1 -320h1v1h-1zm0 17h1v1h-1zm0 70h1v1h-1zm0 21h1v1h-1zm0 42h1v1h-1zm0 56h1v1h-1zm0 2h1v1h-1zm0 3h1v1h-1zm0 20h1v1h-1zm0 18h1v1h-1zm0 3h1v1h-1zm0 6h1v1h-1zm0 10h1v1h-1zm0 25h1v1h-1zm0 11h1v1h-1zm0 3h1v1h-1zm0 5h1v1h-1zm0 19h1v1h-1zm0 12h1v1h-1zm0 18h1v1h-1zm1 -359h1v1h-1zm0 20h1v1h-1zm0 5h1v1h-1zm0 11h1v1h-1zm0 18h1v1h-1zm0 6h1v1h-1zm0 21h1v1h-1zm0 2h1v1h-1zm0 66h1v1h-1zm0 30h1v1h-1zm0 5h1v1h-1zm0 36h1v1h-1zm0 17h1v1h-1zm0 10h1v1h-1zm0 36h1v1h-1zm0 17h1v1h-1zm0 10h1v1h-1zm0 25h1v1h-1zm0 5h1v1h-1zm0 10h1v1h-1zm1 -357h1v1h-1zm0 56h1v1h-1zm0 4h1v1h-1zm0 56h1v1h-1zm0 43h1v1h-1zm0 5h1v1h-1zm0 17h1v1h-1zm0 27h1v1h-1zm0 20h1v2h-1zm0 12h1v1h-1zm0 9h1v1h-1zm0 9h1v1h-1zm0 3h1v1h-1zm0 2h1v1h-1zm0 15h1v1h-1zm0 4h1v1h-1zm0 2h1v1h-1zm0 18h1v1h-1zm0 14h1v1h-1zm0 7h1v1h-1zm0 13h1v1h-1zm0 2h1v1h-1zm0 3h1v1h-1zm1 -335h1v1h-1zm0 2h1v1h-1zm0 3h1v2h-1zm0 4h1v1h-1zm0 8h1v1h-1zm0 23h1v1h-1zm0 17h1v1h-1zm0 25h1v1h-1zm0 13h1v1h-1zm0 17h1v1h-1zm0 7h1v1h-1zm0 11h1v1h-1zm0 13h1v2h-1zm0 37h1v1h-1zm0 13h1v1h-1zm0 15h1v1h-1zm0 19h1v1h-1zm0 6h1v1h-1zm0 2h1v1h-1zm0 15h1v1h-1zm0 8h1v1h-1zm0 6h1v2h-1zm0 3h1v1h-1zm0 4h1v1h-1zm0 7h1v1h-1zm0 5h1v1h-1zm0 8h1v1h-1zm0 14h1v1h-1zm0 5h1v1h-1zm0 25h1v1h-1zm0 20h1v2h-1zm0 9h1v1h-1zm1 -347h1v1h-1zm0 7h1v1h-1zm0 67h1v1h-1zm0 22h1v1h-1zm0 3h1v1h-1zm0 16h1v1h-1zm0 40h1v1h-1zm0 4h1v1h-1zm0 30h1v1h-1zm0 4h1v1h-1zm0 16h1v1h-1zm0 44h1v1h-1zm0 29h1v1h-1zm0 34h1v1h-1zm0 24h1v1h-1zm1 -329h1v1h-1zm0 9h1v1h-1zm0 69h1v1h-1zm0 16h1v1h-1zm0 63h1v2h-1zm0 138h1v1h-1zm0 22h1v1h-1zm0 17h1v1h-1zm1 -350h1v1h-1zm0 13h1v1h-1zm0 24h1v1h-1zm0 7h1v1h-1zm0 48h1v1h-1zm0 19h1v2h-1zm0 8h1v1h-1zm0 3h1v1h-1zm0 15h1v1h-1zm0 2h1v1h-1zm0 2h1v1h-1zm0 4h1v2h-1zm0 63h1v1h-1zm0 46h1v1h-1zm0 2h1v1h-1zm0 4h1v1h-1zm0 6h1v1h-1zm0 7h1v1h-1zm0 13h1v1h-1zm0 22h1v1h-1zm0 20h1v1h-1zm1 -335h1v1h-1zm0 30h1v1h-1zm0 18h1v1h-1zm0 4h1v1h-1zm0 38h1v1h-1zm0 7h1v1h-1zm0 3h1v1h-1zm0 6h1v1h-1zm0 90h1v1h-1zm0 22h1v1h-1zm0 64h1v1h-1zm0 39h1v1h-1zm0 2h1v1h-1zm0 23h1v1h-1zm0 6h1v1h-1zm1 -337h1v1h-1zm0 15h1v1h-1zm0 3h1v1h-1zm0 12h1v1h-1zm0 2h1v1h-1zm0 5h1v1h-1zm0 2h1v1h-1zm0 38h1v1h-1zm0 9h1v1h-1zm0 12h1v1h-1zm0 22h1v1h-1zm0 30h1v1h-1zm0 35h1v1h-1zm0 13h1v1h-1zm0 5h1v2h-1zm0 22h1v1h-1zm0 6h1v1h-1zm0 37h1v1h-1zm0 49h1v1h-1zm0 25h1v1h-1zm0 2h1v1h-1zm1 -343h1v1h-1zm0 7h1v1h-1zm0 29h1v1h-1zm0 34h1v1h-1zm0 13h1v1h-1zm0 37h1v1h-1zm0 31h1v1h-1zm0 5h1v1h-1zm0 2h1v1h-1zm0 43h1v1h-1zm0 12h1v1h-1zm0 20h1v1h-1zm0 2h1v1h-1zm0 5h1v1h-1zm0 13h1v1h-1zm0 7h1v1h-1zm0 18h1v1h-1zm0 9h1v1h-1zm0 52h1v1h-1zm0 4h1v1h-1zm1 -368h1v1h-1zm0 16h1v1h-1zm0 7h1v1h-1zm0 18h1v1h-1zm0 21h1v2h-1zm0 33h1v1h-1zm0 18h1v1h-1zm0 13h1v1h-1zm0 21h1v1h-1zm0 50h1v1h-1zm0 28h1v1h-1zm0 62h1v1h-1zm0 7h1v1h-1zm0 5h1v1h-1zm0 26h1v1h-1zm0 3h1v1h-1zm0 13h1v1h-1zm0 19h1v1h-1zm1 -318h1v1h-1zm0 4h1v1h-1zm0 9h1v1h-1zm0 21h1v1h-1zm0 51h1v1h-1zm0 5h1v1h-1zm0 22h1v1h-1zm0 3h1v1h-1zm0 39h1v1h-1zm0 33h1v1h-1zm0 12h1v1h-1zm0 35h1v1h-1zm0 16h1v1h-1zm0 44h1v1h-1zm0 10h1v1h-1zm0 7h1v1h-1zm1 -335h1v1h-1zm0 23h1v1h-1zm0 36h1v1h-1zm0 14h1v1h-1zm0 4h1v1h-1zm0 4h1v1h-1zm0 3h1v1h-1zm0 2h1v1h-1zm0 18h1v1h-1zm0 48h1v1h-1zm0 6h1v1h-1zm0 17h1v1h-1zm0 16h1v1h-1zm0 9h1v1h-1zm0 6h1v1h-1zm0 9h1v1h-1zm0 61h1v1h-1zm0 58h1v1h-1zm0 9h1v1h-1zm0 5h1v1h-1zm1 -360h1v1h-1zm0 32h1v1h-1zm0 26h1v1h-1zm0 12h1v1h-1zm0 28h1v1h-1zm0 8h1v1h-1zm0 9h1v3h-1zm0 8h1v1h-1zm0 15h1v1h-1zm0 14h1v1h-1zm0 4h1v1h-1zm0 2h1v1h-1zm0 7h1v1h-1zm0 4h1v2h-1zm0 6h1v1h-1zm0 7h1v1h-1zm0 30h1v1h-1zm0 39h1v1h-1zm0 9h1v1h-1zm0 9h1v1h-1zm0 31h1v1h-1zm0 63h1v1h-1zm1 -355h1v1h-1zm0 9h1v1h-1zm0 2h1v1h-1zm0 9h1v1h-1zm0 18h1v1h-1zm0 16h1v1h-1zm0 12h1v1h-1zm0 4h1v1h-1zm0 13h1v1h-1zm0 17h1v1h-1zm0 10h1v1h-1zm0 18h1v1h-1zm0 4h1v1h-1zm0 21h1v1h-1zm0 4h1v1h-1zm0 33h1v1h-1zm0 31h1v1h-1zm0 7h1v1h-1zm0 12h1v1h-1zm0 46h1v1h-1zm0 3h1v1h-1zm0 10h1v1h-1zm0 35h1v1h-1zm0 8h1v1h-1zm0 4h1v1h-1zm1 -363h1v1h-1zm0 19h1v1h-1zm0 29h1v1h-1zm0 32h1v1h-1zm0 13h1v1h-1zm0 9h1v1h-1zm0 20h1v1h-1zm0 12h1v1h-1zm0 9h1v1h-1zm0 10h1v1h-1zm0 12h1v1h-1zm0 10h1v1h-1zm0 5h1v1h-1zm0 7h1v1h-1zm0 31h1v1h-1zm0 17h1v1h-1zm0 4h1v1h-1zm0 8h1v1h-1zm0 39h1v1h-1zm0 19h1v1h-1zm0 18h1v1h-1zm0 37h1v1h-1zm1 -355h1v1h-1zm0 15h1v1h-1zm0 46h1v2h-1zm0 69h1v1h-1zm0 4h1v2h-1zm0 22h1v1h-1zm0 69h1v1h-1zm0 2h1v1h-1zm0 35h1v1h-1zm0 10h1v1h-1zm0 16h1v1h-1zm0 24h1v1h-1zm0 10h1v1h-1zm1 -307h1v1h-1zm0 25h1v1h-1zm0 9h1v1h-1zm0 12h1v1h-1zm0 6h1v1h-1zm0 20h1v1h-1zm0 24h1v1h-1zm0 7h1v1h-1zm0 11h1v1h-1zm0 8h1v1h-1zm0 7h1v1h-1zm0 19h1v1h-1zm0 74h1v1h-1zm0 9h1v2h-1zm0 4h1v1h-1zm0 6h1v1h-1zm0 19h1v1h-1zm0 12h1v1h-1zm0 7h1v1h-1zm0 20h1v1h-1zm0 2h1v1h-1zm0 26h1v1h-1zm0 20h1v1h-1zm0 3h1v1h-1zm1 -358h1v1h-1zm0 2h1v2h-1zm0 19h1v1h-1zm0 14h1v1h-1zm0 6h1v1h-1zm0 34h1v1h-1zm0 20h1v1h-1zm0 15h1v1h-1zm0 3h1v2h-1zm0 4h1v1h-1zm0 10h1v2h-1zm0 28h1v1h-1zm0 29h1v1h-1zm0 6h1v1h-1zm0 3h1v1h-1zm0 3h1v1h-1zm0 62h1v1h-1zm0 23h1v1h-1zm0 21h1v1h-1zm0 48h1v1h-1zm1 -362h1v1h-1zm0 2h1v1h-1zm0 46h1v1h-1zm0 3h1v1h-1zm0 8h1v1h-1zm0 34h1v1h-1zm0 49h1v1h-1zm0 6h1v1h-1zm0 2h1v1h-1zm0 19h1v1h-1zm0 13h1v1h-1zm0 10h1v1h-1zm0 43h1v1h-1zm0 16h1v1h-1zm0 3h1v1h-1zm0 72h1v1h-1zm0 5h1v1h-1zm0 10h1v1h-1zm0 35h1v1h-1zm1 -328h1v1h-1zm0 23h1v1h-1zm0 2h1v1h-1zm0 11h1v1h-1zm0 13h1v1h-1zm0 27h1v1h-1zm0 43h1v1h-1zm0 7h1v1h-1zm0 20h1v2h-1zm0 13h1v1h-1zm0 20h1v1h-1zm0 16h1v1h-1zm0 23h1v1h-1zm0 9h1v1h-1zm0 5h1v1h-1zm0 62h1v1h-1zm0 7h1v1h-1zm0 2h1v1h-1zm1 -343h1v1h-1zm0 16h1v1h-1zm0 41h1v1h-1zm0 8h1v1h-1zm0 34h1v1h-1zm0 19h1v1h-1zm0 31h1v1h-1zm0 33h1v1h-1zm0 9h1v1h-1zm0 28h1v1h-1zm0 3h1v1h-1zm0 2h1v1h-1zm0 3h1v1h-1zm0 14h1v1h-1zm0 53h1v1h-1zm0 39h1v1h-1zm0 2h1v1h-1zm0 18h1v1h-1zm0 11h1v1h-1zm1 -368h1v1h-1zm0 9h1v1h-1zm0 59h1v1h-1zm0 10h1v1h-1zm0 25h1v2h-1zm0 6h1v1h-1zm0 66h1v1h-1zm0 8h1v1h-1zm0 28h1v1h-1zm0 22h1v1h-1zm0 5h1v1h-1zm0 28h1v1h-1zm0 38h1v1h-1zm0 6h1v1h-1zm0 5h1v1h-1zm0 2h1v1h-1zm0 43h1v2h-1zm1 -361h1v1h-1zm0 20h1v2h-1zm0 3h1v1h-1zm0 5h1v1h-1zm0 4h1v1h-1zm0 9h1v1h-1zm0 44h1v1h-1zm0 52h1v1h-1zm0 38h1v1h-1zm0 14h1v1h-1zm0 12h1v1h-1zm0 4h1v1h-1zm0 20h1v1h-1zm0 3h1v1h-1zm0 37h1v1h-1zm0 37h1v1h-1zm0 13h1v1h-1zm0 40h1v1h-1zm0 8h1v2h-1zm1 -361h1v1h-1zm0 8h1v1h-1zm0 37h1v1h-1zm0 21h1v1h-1zm0 25h1v1h-1zm0 23h1v1h-1zm0 5h1v1h-1zm0 8h1v1h-1zm0 24h1v1h-1zm0 15h1v1h-1zm0 27h1v1h-1zm0 32h1v1h-1zm0 31h1v1h-1zm0 40h1v1h-1zm0 7h1v1h-1zm0 15h1v1h-1zm0 4h1v1h-1zm0 7h1v1h-1zm0 28h1v1h-1zm1 -360h1v2h-1zm0 12h1v1h-1zm0 16h1v1h-1zm0 12h1v1h-1zm0 46h1v1h-1zm0 5h1v1h-1zm0 34h1v1h-1zm0 5h1v1h-1zm0 44h1v1h-1zm0 11h1v1h-1zm0 97h1v1h-1zm0 17h1v1h-1zm0 44h1v1h-1zm0 27h1v1h-1zm1 -368h1v1h-1zm0 4h1v1h-1zm0 26h1v1h-1zm0 35h1v1h-1zm0 9h1v1h-1zm0 35h1v1h-1zm0 2h1v1h-1zm0 26h1v1h-1zm0 2h1v2h-1zm0 5h1v1h-1zm0 31h1v1h-1zm0 6h1v1h-1zm0 39h1v1h-1zm0 39h1v1h-1zm0 5h1v1h-1zm0 6h1v1h-1zm0 6h1v1h-1zm0 14h1v1h-1zm0 3h1v1h-1zm0 44h1v1h-1zm0 6h1v1h-1zm0 11h1v1h-1zm0 13h1v1h-1zm1 -369h1v1h-1zm0 25h1v1h-1zm0 5h1v1h-1zm0 3h1v1h-1zm0 18h1v1h-1zm0 11h1v1h-1zm0 5h1v1h-1zm0 2h1v1h-1zm0 4h1v1h-1zm0 18h1v1h-1zm0 5h1v1h-1zm0 11h1v1h-1zm0 10h1v1h-1zm0 18h1v1h-1zm0 5h1v2h-1zm0 16h1v1h-1zm0 57h1v1h-1zm0 8h1v1h-1zm0 7h1v1h-1zm0 2h1v1h-1zm0 3h1v1h-1zm0 9h1v1h-1zm0 10h1v1h-1zm0 20h1v1h-1zm0 65h1v1h-1zm1 -302h1v1h-1zm0 7h1v1h-1zm0 17h1v1h-1zm0 11h1v1h-1zm0 13h1v1h-1zm0 5h1v1h-1zm0 9h1v2h-1zm0 66h1v1h-1zm0 5h1v1h-1zm0 10h1v1h-1zm0 13h1v1h-1zm0 3h1v1h-1zm0 55h1v1h-1zm0 6h1v1h-1zm0 2h1v1h-1zm0 64h1v1h-1zm0 27h1v1h-1zm1 -341h1v1h-1zm0 7h1v1h-1zm0 3h1v1h-1zm0 14h1v1h-1zm0 27h1v1h-1zm0 42h1v1h-1zm0 36h1v1h-1zm0 9h1v1h-1zm0 14h1v1h-1zm0 3h1v1h-1zm0 13h1v1h-1zm0 11h1v1h-1zm0 2h1v1h-1zm0 10h1v1h-1zm0 9h1v1h-1zm0 31h1v2h-1zm0 6h1v1h-1zm0 5h1v1h-1zm0 26h1v1h-1zm0 4h1v1h-1zm0 9h1v1h-1zm0 12h1v1h-1zm0 27h1v1h-1zm0 26h1v1h-1zm0 5h1v1h-1zm0 7h1v1h-1zm1 -341h1v1h-1zm0 7h1v1h-1zm0 11h1v1h-1zm0 101h1v2h-1zm0 8h1v1h-1zm0 4h1v1h-1zm0 12h1v1h-1zm0 51h1v1h-1zm0 9h1v1h-1zm0 22h1v1h-1zm0 2h1v1h-1zm0 11h1v1h-1zm0 10h1v1h-1zm0 22h1v1h-1zm0 18h1v1h-1zm0 5h1v1h-1zm0 12h1v1h-1zm0 7h1v1h-1zm0 11h1v1h-1zm0 3h1v1h-1zm1 -309h1v1h-1zm0 9h1v1h-1zm0 33h1v1h-1zm0 3h1v1h-1zm0 9h1v1h-1zm0 2h1v1h-1zm0 8h1v1h-1zm0 14h1v1h-1zm0 29h1v1h-1zm0 17h1v1h-1zm0 8h1v1h-1zm0 6h1v1h-1zm0 31h1v1h-1zm0 13h1v1h-1zm0 17h1v2h-1zm0 11h1v1h-1zm0 27h1v1h-1zm0 90h1v1h-1zm1 -362h1v1h-1zm0 55h1v1h-1zm0 27h1v1h-1zm0 20h1v1h-1zm0 4h1v1h-1zm0 5h1v1h-1zm0 44h1v1h-1zm0 19h1v1h-1zm0 14h1v1h-1zm0 27h1v1h-1zm0 10h1v1h-1zm0 30h1v1h-1zm0 54h1v1h-1zm0 3h1v1h-1zm0 3h1v1h-1zm0 6h1v1h-1zm1 -303h1v1h-1zm0 44h1v1h-1zm0 60h1v1h-1zm0 56h1v1h-1zm0 11h1v1h-1zm0 49h1v1h-1zm0 16h1v1h-1zm0 64h1v1h-1zm0 25h1v1h-1zm0 3h1v1h-1zm0 7h1v1h-1zm1 -293h1v1h-1zm0 13h1v1h-1zm0 3h1v1h-1zm0 7h1v1h-1zm0 33h1v1h-1zm0 9h1v1h-1zm0 48h1v1h-1zm0 29h1v1h-1zm0 38h1v1h-1zm0 28h1v1h-1zm0 38h1v1h-1zm0 37h1v1h-1zm0 3h1v1h-1zm0 5h1v1h-1zm1 -351h1v1h-1zm0 8h1v1h-1zm0 25h1v1h-1zm0 20h1v1h-1zm0 3h1v1h-1zm0 17h1v1h-1zm0 29h1v1h-1zm0 10h1v1h-1zm0 40h1v1h-1zm0 26h1v2h-1zm0 4h1v1h-1zm0 22h1v1h-1zm0 18h1v1h-1zm0 10h1v1h-1zm0 40h1v1h-1zm0 27h1v1h-1zm0 20h1v1h-1zm0 23h1v1h-1zm0 17h1v1h-1zm1 -348h1v1h-1zm0 11h1v1h-1zm0 37h1v1h-1zm0 4h1v1h-1zm0 34h1v1h-1zm0 40h1v1h-1zm0 71h1v2h-1zm0 8h1v1h-1zm0 5h1v1h-1zm0 9h1v1h-1zm0 3h1v1h-1zm0 9h1v1h-1zm0 18h1v1h-1zm0 5h1v1h-1zm0 38h1v1h-1zm0 64h1v1h-1zm1 -374h1v1h-1zm0 22h1v1h-1zm0 13h1v1h-1zm0 2h1v1h-1zm0 16h1v1h-1zm0 9h1v1h-1zm0 8h1v1h-1zm0 5h1v1h-1zm0 41h1v1h-1zm0 54h1v1h-1zm0 7h1v1h-1zm0 40h1v2h-1zm0 49h1v1h-1zm0 26h1v1h-1zm0 31h1v2h-1zm0 15h1v1h-1zm0 9h1v1h-1zm1 -317h1v1h-1zm0 10h1v2h-1zm0 14h1v1h-1zm0 24h1v1h-1zm0 5h1v1h-1zm0 29h1v1h-1zm0 13h1v1h-1zm0 26h1v1h-1zm0 12h1v2h-1zm0 14h1v1h-1zm0 17h1v1h-1zm0 2h1v1h-1zm0 27h1v1h-1zm0 27h1v1h-1zm0 8h1v1h-1zm0 33h1v1h-1zm0 5h1v1h-1zm0 6h1v1h-1zm1 -256h1v1h-1zm0 52h1v1h-1zm0 17h1v1h-1zm0 70h1v1h-1zm0 89h1v1h-1zm0 2h1v2h-1zm0 36h1v1h-1zm0 6h1v2h-1zm0 4h1v1h-1zm0 36h1v1h-1zm1 -347h1v1h-1zm0 21h1v1h-1zm0 68h1v1h-1zm0 2h1v1h-1zm0 11h1v1h-1zm0 27h1v1h-1zm0 54h1v1h-1zm0 16h1v1h-1zm0 45h1v1h-1zm0 47h1v1h-1zm0 33h1v1h-1zm0 5h1v1h-1zm0 23h1v1h-1zm0 2h1v1h-1zm1 -359h1v1h-1zm0 15h1v1h-1zm0 39h1v1h-1zm0 24h1v1h-1zm0 8h1v1h-1zm0 32h1v1h-1zm0 4h1v1h-1zm0 13h1v1h-1zm0 20h1v1h-1zm0 13h1v1h-1zm0 3h1v1h-1zm0 5h1v1h-1zm0 12h1v1h-1zm0 14h1v1h-1zm0 18h1v1h-1zm0 48h1v1h-1zm0 8h1v1h-1zm0 19h1v1h-1zm0 2h1v1h-1zm0 7h1v2h-1zm0 24h1v1h-1zm0 5h1v1h-1zm0 26h1v1h-1zm0 3h1v1h-1zm0 4h1v1h-1zm1 -343h1v1h-1zm0 15h1v1h-1zm0 35h1v1h-1zm0 11h1v2h-1zm0 18h1v1h-1zm0 4h1v1h-1zm0 12h1v1h-1zm0 46h1v1h-1zm0 6h1v1h-1zm0 33h1v1h-1zm0 3h1v1h-1zm0 12h1v1h-1zm0 4h1v1h-1zm0 64h1v1h-1zm0 5h1v1h-1zm0 9h1v1h-1zm0 26h1v1h-1zm0 9h1v1h-1zm1 -332h1v1h-1zm0 4h1v1h-1zm0 5h1v1h-1zm0 5h1v1h-1zm0 16h1v1h-1zm0 3h1v1h-1zm0 9h1v1h-1zm0 68h1v1h-1zm0 18h1v2h-1zm0 16h1v1h-1zm0 17h1v1h-1zm0 8h1v1h-1zm0 30h1v1h-1zm0 23h1v1h-1zm0 2h1v1h-1zm0 12h1v3h-1zm0 67h1v1h-1zm0 8h1v1h-1zm0 25h1v1h-1zm0 3h1v1h-1zm0 5h1v1h-1zm0 9h1v1h-1zm0 5h1v2h-1zm0 5h1v1h-1zm1 -365h1v1h-1zm0 20h1v1h-1zm0 4h1v1h-1zm0 14h1v1h-1zm0 17h1v1h-1zm0 12h1v1h-1zm0 36h1v1h-1zm0 47h1v1h-1zm0 29h1v2h-1zm0 9h1v1h-1zm0 6h1v2h-1zm0 26h1v1h-1zm0 5h1v1h-1zm0 20h1v1h-1zm0 38h1v1h-1zm0 10h1v1h-1zm0 10h1v1h-1zm0 26h1v1h-1zm0 7h1v1h-1zm0 19h1v1h-1zm0 9h1v1h-1zm1 -361h1v1h-1zm0 23h1v1h-1zm0 8h1v1h-1zm0 6h1v1h-1zm0 2h1v1h-1zm0 14h1v1h-1zm0 52h1v1h-1zm0 5h1v2h-1zm0 26h1v1h-1zm0 10h1v1h-1zm0 15h1v1h-1zm0 27h1v1h-1zm0 2h1v1h-1zm0 12h1v1h-1zm0 9h1v1h-1zm0 16h1v1h-1zm0 3h1v1h-1zm0 5h1v1h-1zm0 49h1v1h-1zm0 42h1v1h-1zm0 2h1v1h-1zm0 31h1v1h-1zm1 -349h1v1h-1zm0 17h1v1h-1zm0 4h1v1h-1zm0 16h1v1h-1zm0 14h1v1h-1zm0 4h1v1h-1zm0 59h1v1h-1zm0 4h1v1h-1zm0 19h1v1h-1zm0 24h1v1h-1zm0 2h1v1h-1zm0 11h1v1h-1zm0 2h1v1h-1zm0 13h1v1h-1zm0 10h1v1h-1zm0 41h1v1h-1zm0 24h1v1h-1zm0 2h1v1h-1zm0 2h1v1h-1zm0 30h1v2h-1zm0 12h1v1h-1zm0 13h1v1h-1zm0 15h1v1h-1zm0 11h1v1h-1zm2 -361h1v1h-1zm0 6h1v1h-1zm0 53h1v1h-1zm0 11h1v1h-1zm0 17h1v1h-1zm0 41h1v1h-1zm0 6h1v1h-1zm0 72h1v1h-1zm0 12h1v1h-1zm0 13h1v1h-1zm0 6h1v1h-1zm0 24h1v1h-1zm0 28h1v1h-1zm0 5h1v1h-1zm0 4h1v1h-1zm0 5h1v2h-1zm0 43h1v1h-1zm2 -351h1v1h-1zm0 2h1v1h-1zm0 41h1v1h-1zm0 23h1v1h-1zm0 7h1v1h-1zm0 107h1v1h-1zm0 4h1v1h-1zm0 25h1v1h-1zm0 42h1v1h-1zm0 34h1v1h-1zm0 25h1v2h-1zm0 27h1v1h-1zm0 7h1v1h-1zm0 2h1v1h-1zm0 26h1v1h-1zm2 -372h1v1h-1zm0 2h1v1h-1zm0 12h1v1h-1zm0 55h1v1h-1zm0 8h1v1h-1zm0 62h1v2h-1zm0 3h1v1h-1zm0 71h1v1h-1zm0 12h1v2h-1zm0 18h1v1h-1zm0 2h1v1h-1zm0 25h1v1h-1zm0 7h1v1h-1zm0 2h1v1h-1zm0 31h1v1h-1zm0 16h1v1h-1zm0 34h1v1h-1zm0 9h1v1h-1zm2 -351h1v1h-1zm0 57h1v1h-1zm0 23h1v1h-1zm0 61h1v1h-1zm0 17h1v1h-1zm0 3h1v1h-1zm0 6h1v1h-1zm0 8h1v1h-1zm0 4h1v1h-1zm0 6h1v1h-1zm0 8h1v1h-1zm0 20h1v2h-1zm0 20h1v1h-1zm0 61h1v1h-1zm0 14h1v1h-1zm0 15h1v1h-1zm0 5h1v1h-1zm0 6h1v1h-1zm0 2h1v1h-1zm0 9h1v1h-1zm2 -355h1v1h-1zm0 34h1v1h-1zm0 4h1v1h-1zm0 9h1v1h-1zm0 30h1v1h-1zm0 3h1v1h-1zm0 20h1v1h-1zm0 6h1v1h-1zm0 8h1v1h-1zm0 5h1v1h-1zm0 9h1v1h-1zm0 34h1v1h-1zm0 6h1v1h-1zm0 26h1v1h-1zm0 56h1v1h-1zm0 22h1v1h-1zm0 2h1v1h-1zm0 2h1v1h-1zm0 22h1v1h-1zm0 7h1v1h-1zm0 6h1v1h-1zm0 45h1v1h-1zm0 5h1v1h-1zm2 -356h1v1h-1zm0 75h1v1h-1zm0 3h1v1h-1zm0 2h1v1h-1zm0 18h1v1h-1zm0 23h1v1h-1zm0 3h1v1h-1zm0 7h1v1h-1zm0 39h1v1h-1zm0 41h1v1h-1zm0 6h1v1h-1zm0 4h1v1h-1zm0 7h1v1h-1zm0 14h1v1h-1zm0 35h1v1h-1zm0 11h1v1h-1zm2 -300h1v1h-1zm0 10h1v1h-1zm0 15h1v1h-1zm0 26h1v1h-1zm0 16h1v1h-1zm0 2h1v1h-1zm0 10h1v1h-1zm0 51h1v1h-1zm0 77h1v1h-1zm0 21h1v1h-1zm0 32h1v1h-1zm0 27h1v1h-1zm0 5h1v1h-1zm0 9h1v1h-1zm0 21h1v1h-1zm0 39h1v1h-1zm5 -364h1v1h-1zm0 28h1v1h-1zm0 9h1v1h-1zm0 34h1v1h-1zm0 19h1v1h-1zm0 13h1v1h-1zm0 6h1v1h-1zm0 15h1v1h-1zm0 2h1v1h-1zm0 44h1v1h-1zm0 9h1v1h-1zm0 35h1v1h-1zm0 44h1v1h-1zm0 38h1v1h-1zm0 7h1v1h-1zm0 15h1v1h-1zm0 2h1v2h-1zm0 12h1v1h-1zm0 19h1v1h-1zm0 26h1v1h-1zm5 -353h1v1h-1zm0 27h1v1h-1zm0 8h1v1h-1zm0 8h1v1h-1zm0 2h1v1h-1zm0 15h1v1h-1zm0 3h1v1h-1zm0 8h1v1h-1zm0 37h1v1h-1zm0 13h1v1h-1zm0 23h1v1h-1zm0 14h1v1h-1zm0 6h1v1h-1zm0 2h1v1h-1zm0 11h1v1h-1zm0 15h1v1h-1zm0 14h1v1h-1zm0 24h1v1h-1zm0 23h1v1h-1zm0 26h1v1h-1zm0 11h1v1h-1zm0 11h1v1h-1zm0 7h1v1h-1zm5 -298h1v1h-1zm0 13h1v1h-1zm0 6h1v1h-1zm0 11h1v1h-1zm0 16h1v1h-1zm0 59h1v1h-1zm0 75h1v1h-1zm0 20h1v1h-1zm0 35h1v1h-1zm0 3h1v1h-1zm0 22h1v1h-1zm0 31h1v1h-1zm0 3h1v1h-1zm0 12h1v1h-1zm0 30h1v1h-1zm5 -347h1v1h-1zm0 33h1v1h-1zm0 27h1v1h-1zm0 7h1v1h-1zm0 2h1v1h-1zm0 22h1v1h-1zm0 4h1v1h-1zm0 6h1v1h-1zm0 6h1v1h-1zm0 2h1v1h-1zm0 5h1v1h-1zm0 57h1v1h-1zm0 30h1v1h-1zm0 36h1v1h-1zm0 37h1v1h-1zm0 24h1v1h-1zm0 26h1v1h-1zm0 21h1v1h-1zm0 10h1v1h-1zm0 8h1v1h-1zm5 -380h1v1h-1zm0 11h1v1h-1zm0 2h1v1h-1zm0 35h1v1h-1zm0 16h1v1h-1zm0 19h1v1h-1zm0 39h1v1h-1zm0 10h1v1h-1zm0 6h1v1h-1zm0 21h1v1h-1zm0 28h1v1h-1zm0 29h1v1h-1zm0 19h1v1h-1zm0 7h1v1h-1zm0 13h1v1h-1zm0 3h1v1h-1zm0 25h1v1h-1zm0 5h1v1h-1zm0 38h1v1h-1zm0 2h1v1h-1zm0 33h1v1h-1zm5 -356h1v1h-1zm0 5h1v1h-1zm0 7h1v1h-1zm0 32h1v1h-1zm0 58h1v1h-1zm0 11h1v1h-1zm0 38h1v1h-1zm0 12h1v1h-1zm0 13h1v1h-1zm0 6h1v1h-1zm0 22h1v1h-1zm0 114h1v1h-1zm0 2h1v1h-1zm0 24h1v1h-1zm0 5h1v2h-1zm0 7h1v1h-1z"/><path fill="#481f70" d="M4 37h1v1h-1zm0 20h1v1h-1zm0 7h1v1h-1zm0 8h1v1h-1zm0 7h1v1h-1zm0 6h1v1h-1zm0 13h1v1h-1zm0 35h1v1h-1zm0 39h1v1h-1zm0 24h1v1h-1zm0 36h1v1h-1zm0 31h1v1h-1zm0 25h1v1h-1zm0 72h1v1h-1zm0 11h1v1h-1zm0 2h1v1h-1zm1 -339h1v1h-1zm0 18h1v1h-1zm0 25h1v2h-1zm0 12h1v1h-1zm0 32h1v1h-1zm0 5h1v1h-1zm0 50h1v1h-1zm0 75h1v1h-1zm0 27h1v1h-1zm0 12h1v2h-1zm0 5h1v1h-1zm0 23h1v1h-1zm0 29h1v1h-1zm0 9h1v1h-1zm1 -314h1v1h-1zm0 4h1v1h-1zm0 45h1v1h-1zm0 178h1v1h-1zm0 13h1v1h-1zm0 20h1v1h-1zm0 7h1v1h-1zm0 22h1v1h-1zm0 26h1v1h-1zm0 8h1v1h-1zm1 -356h1v1h-1zm0 23h1v1h-1zm0 40h1v1h-1zm0 133h1v1h-1zm0 36h1v1h-1zm0 19h1v1h-1zm0 3h1v1h-1zm0 15h1v1h-1zm0 85h1v1h-1zm1 -321h1v1h-1zm0 26h1v1h-1zm0 11h1v1h-1zm0 9h1v1h-1zm0 5h1v1h-1zm0 26h1v1h-1zm0 15h1v1h-1zm0 4h1v1h-1zm0 4h1v1h-1zm0 33h1v1h-1zm0 68h1v1h-1zm0 23h1v1h-1zm0 19h1v1h-1zm0 2h1v1h-1zm0 36h1v1h-1zm0 6h1v1h-1zm0 22h1v1h-1zm0 3h1v1h-1zm0 17h1v1h-1zm1 -336h1v1h-1zm0 20h1v1h-1zm0 35h1v1h-1zm0 5h1v1h-1zm0 36h1v1h-1zm0 20h1v1h-1zm0 8h1v1h-1zm0 65h1v1h-1zm0 3h1v1h-1zm0 26h1v1h-1zm0 3h1v1h-1zm0 63h1v1h-1zm0 34h1v1h-1zm0 9h1v1h-1zm1 -362h1v1h-1zm0 98h1v1h-1zm0 42h1v1h-1zm0 15h1v1h-1zm0 14h1v1h-1zm0 29h1v1h-1zm0 13h1v1h-1zm0 12h1v1h-1zm0 17h1v1h-1zm0 13h1v1h-1zm0 11h1v1h-1zm0 28h1v1h-1zm0 21h1v1h-1zm0 11h1v1h-1zm1 -275h1v2h-1zm0 7h1v1h-1zm0 3h1v1h-1zm0 5h1v1h-1zm0 9h1v1h-1zm0 26h1v1h-1zm0 4h1v1h-1zm0 7h1v1h-1zm0 34h1v1h-1zm0 5h1v1h-1zm0 13h1v1h-1zm0 32h1v1h-1zm0 4h1v1h-1zm0 10h1v1h-1zm0 73h1v1h-1zm0 10h1v1h-1zm0 22h1v1h-1zm0 14h1v1h-1zm0 21h1v1h-1zm0 10h1v1h-1zm0 13h1v1h-1zm1 -360h1v1h-1zm0 13h1v1h-1zm0 61h1v1h-1zm0 12h1v1h-1zm0 13h1v1h-1zm0 13h1v1h-1zm0 87h1v1h-1zm0 34h1v1h-1zm0 2h1v1h-1zm0 22h1v1h-1zm1 -249h1v1h-1zm0 9h1v1h-1zm0 53h1v1h-1zm0 76h1v1h-1zm0 28h1v1h-1zm0 19h1v1h-1zm0 2h1v1h-1zm0 47h1v1h-1zm0 25h1v1h-1zm0 7h1v1h-1zm0 44h1v1h-1zm0 3h1v1h-1zm0 19h1v1h-1zm0 16h1v1h-1zm0 4h1v1h-1zm0 5h1v1h-1zm1 -369h1v1h-1zm0 3h1v1h-1zm0 5h1v1h-1zm0 37h1v1h-1zm0 34h1v1h-1zm0 21h1v1h-1zm0 17h1v1h-1zm0 14h1v1h-1zm0 3h1v1h-1zm0 37h1v1h-1zm0 7h1v1h-1zm0 46h1v1h-1zm0 55h1v1h-1zm0 2h1v1h-1zm0 9h1v1h-1zm0 3h1v1h-1zm0 15h1v1h-1zm0 48h1v1h-1zm1 -358h1v1h-1zm0 10h1v1h-1zm0 10h1v1h-1zm0 9h1v1h-1zm0 6h1v1h-1zm0 50h1v1h-1zm0 38h1v1h-1zm0 32h1v1h-1zm0 5h1v1h-1zm0 51h1v1h-1zm0 3h1v1h-1zm0 5h1v1h-1zm0 2h1v1h-1zm0 6h1v1h-1zm0 17h1v1h-1zm0 22h1v1h-1zm0 4h1v1h-1zm0 8h1v2h-1zm0 68h1v1h-1zm1 -322h1v1h-1zm0 54h1v1h-1zm0 10h1v1h-1zm0 12h1v1h-1zm0 16h1v1h-1zm0 11h1v1h-1zm0 93h1v1h-1zm0 9h1v1h-1zm0 12h1v1h-1zm0 8h1v1h-1zm0 5h1v1h-1zm0 5h1v1h-1zm0 58h1v2h-1zm0 11h1v2h-1zm1 -322h1v1h-1zm0 99h1v1h-1zm0 49h1v1h-1zm0 26h1v1h-1zm0 3h1v2h-1zm0 28h1v1h-1zm0 82h1v1h-1zm0 6h1v1h-1zm0 44h1v1h-1zm1 -336h1v1h-1zm0 22h1v1h-1zm0 9h1v3h-1zm0 6h1v1h-1zm0 24h1v1h-1zm0 24h1v1h-1zm0 16h1v1h-1zm0 3h1v2h-1zm0 25h1v1h-1zm0 58h1v1h-1zm0 13h1v1h-1zm0 29h1v1h-1zm0 6h1v1h-1zm0 5h1v1h-1zm0 118h1v1h-1zm0 6h1v1h-1zm1 -375h1v1h-1zm0 8h1v1h-1zm0 68h1v1h-1zm0 9h1v1h-1zm0 10h1v2h-1zm0 16h1v1h-1zm0 16h1v1h-1zm0 9h1v2h-1zm0 3h1v1h-1zm0 47h1v1h-1zm0 29h1v1h-1zm0 29h1v1h-1zm0 21h1v1h-1zm0 11h1v1h-1zm0 3h1v1h-1zm0 47h1v1h-1zm0 17h1v1h-1zm0 23h1v1h-1zm0 5h1v1h-1zm0 4h1v1h-1zm1 -327h1v1h-1zm0 7h1v1h-1zm0 24h1v1h-1zm0 27h1v1h-1zm0 35h1v1h-1zm0 32h1v1h-1zm0 20h1v1h-1zm0 41h1v1h-1zm0 2h1v1h-1zm0 24h1v1h-1zm0 42h1v1h-1zm0 9h1v1h-1zm0 14h1v1h-1zm0 7h1v1h-1zm0 25h1v1h-1zm1 -350h1v1h-1zm0 13h1v1h-1zm0 44h1v1h-1zm0 15h1v1h-1zm0 6h1v1h-1zm0 2h1v1h-1zm0 30h1v1h-1zm0 28h1v1h-1zm0 27h1v1h-1zm0 48h1v1h-1zm0 2h1v1h-1zm0 4h1v1h-1zm0 44h1v2h-1zm0 5h1v1h-1zm0 13h1v2h-1zm0 14h1v1h-1zm0 6h1v1h-1zm0 40h1v1h-1zm0 2h1v1h-1zm0 23h1v1h-1zm1 -349h1v1h-1zm0 12h1v1h-1zm0 17h1v1h-1zm0 3h1v1h-1zm0 27h1v1h-1zm0 11h1v1h-1zm0 3h1v1h-1zm0 24h1v1h-1zm0 6h1v1h-1zm0 16h1v1h-1zm0 10h1v1h-1zm0 45h1v1h-1zm0 26h1v1h-1zm0 21h1v1h-1zm0 5h1v1h-1zm0 50h1v1h-1zm0 31h1v2h-1zm0 8h1v1h-1zm0 31h1v1h-1zm1 -287h1v1h-1zm0 4h1v1h-1zm0 9h1v1h-1zm0 23h1v1h-1zm0 36h1v1h-1zm0 91h1v1h-1zm0 53h1v1h-1zm0 24h1v1h-1zm0 9h1v1h-1zm0 3h1v1h-1zm0 14h1v1h-1zm0 9h1v1h-1zm0 9h1v1h-1zm0 3h1v1h-1zm0 3h1v1h-1zm1 -308h1v1h-1zm0 25h1v1h-1zm0 20h1v1h-1zm0 24h1v1h-1zm0 8h1v1h-1zm0 41h1v1h-1zm0 82h1v1h-1zm0 3h1v1h-1zm0 7h1v1h-1zm0 9h1v1h-1zm0 70h1v1h-1zm1 -265h1v1h-1zm0 88h1v1h-1zm0 164h1v1h-1zm0 5h1v1h-1zm0 8h1v1h-1zm0 4h1v1h-1zm1 -352h1v1h-1zm0 8h1v1h-1zm0 4h1v1h-1zm0 10h1v1h-1zm0 24h1v1h-1zm0 72h1v1h-1zm0 30h1v1h-1zm0 12h1v1h-1zm0 36h1v1h-1zm0 13h1v1h-1zm0 11h1v1h-1zm0 23h1v1h-1zm0 15h1v1h-1zm0 37h1v1h-1zm0 3h1v1h-1zm0 11h1v1h-1zm0 3h1v1h-1zm0 4h1v1h-1zm0 17h1v1h-1zm0 3h1v1h-1zm1 -323h1v2h-1zm0 42h1v1h-1zm0 9h1v1h-1zm0 3h1v1h-1zm0 11h1v1h-1zm0 2h1v1h-1zm0 14h1v1h-1zm0 2h1v1h-1zm0 4h1v1h-1zm0 10h1v1h-1zm0 4h1v1h-1zm0 4h1v1h-1zm0 7h1v1h-1zm0 6h1v1h-1zm0 13h1v1h-1zm0 14h1v1h-1zm0 31h1v1h-1zm0 28h1v1h-1zm0 42h1v1h-1zm0 4h1v1h-1zm0 35h1v1h-1zm0 3h1v1h-1zm0 11h1v1h-1zm0 8h1v1h-1zm0 48h1v1h-1zm1 -369h1v1h-1zm0 11h1v1h-1zm0 115h1v1h-1zm0 26h1v1h-1zm0 6h1v1h-1zm0 78h1v1h-1zm0 55h1v1h-1zm0 45h1v1h-1zm0 22h1v1h-1zm1 -313h1v1h-1zm0 94h1v2h-1zm0 5h1v1h-1zm0 31h1v1h-1zm0 8h1v1h-1zm0 21h1v1h-1zm0 13h1v1h-1zm0 5h1v1h-1zm0 64h1v1h-1zm0 13h1v1h-1zm0 19h1v1h-1zm0 31h1v1h-1zm0 9h1v1h-1zm1 -363h1v1h-1zm0 8h1v1h-1zm0 7h1v1h-1zm0 17h1v1h-1zm0 18h1v1h-1zm0 14h1v1h-1zm0 41h1v1h-1zm0 2h1v1h-1zm0 7h1v1h-1zm0 20h1v1h-1zm0 7h1v1h-1zm0 14h1v1h-1zm0 4h1v1h-1zm0 59h1v1h-1zm0 11h1v1h-1zm0 7h1v1h-1zm0 8h1v1h-1zm0 4h1v1h-1zm0 10h1v1h-1zm0 4h1v1h-1zm0 27h1v1h-1zm0 18h1v1h-1zm0 10h1v1h-1zm0 18h1v1h-1zm0 45h1v1h-1zm0 3h1v1h-1zm1 -360h1v1h-1zm0 26h1v2h-1zm0 50h1v2h-1zm0 43h1v1h-1zm0 15h1v1h-1zm0 22h1v1h-1zm0 6h1v1h-1zm0 8h1v1h-1zm0 19h1v1h-1zm0 29h1v1h-1zm0 47h1v1h-1zm0 49h1v1h-1zm0 42h1v1h-1zm1 -375h1v1h-1zm0 25h1v1h-1zm0 39h1v1h-1zm0 48h1v2h-1zm0 74h1v1h-1zm0 23h1v1h-1zm0 9h1v1h-1zm0 17h1v1h-1zm0 31h1v1h-1zm0 17h1v1h-1zm0 5h1v1h-1zm0 60h1v1h-1zm1 -322h1v1h-1zm0 14h1v1h-1zm0 39h1v1h-1zm0 30h1v1h-1zm0 60h1v1h-1zm0 37h1v1h-1zm0 12h1v1h-1zm0 41h1v1h-1zm0 5h1v1h-1zm0 24h1v1h-1zm0 21h1v1h-1zm0 32h1v1h-1zm0 3h1v1h-1zm0 19h1v1h-1zm0 4h1v1h-1zm1 -361h1v1h-1zm0 9h1v1h-1zm0 2h1v1h-1zm0 19h1v1h-1zm0 10h1v1h-1zm0 25h1v1h-1zm0 25h1v1h-1zm0 58h1v1h-1zm0 73h1v1h-1zm0 15h1v1h-1zm0 8h1v1h-1zm0 8h1v1h-1zm0 33h1v1h-1zm0 59h1v1h-1zm0 11h1v1h-1zm0 6h1v1h-1zm1 -370h1v1h-1zm0 48h1v1h-1zm0 4h1v1h-1zm0 37h1v1h-1zm0 4h1v2h-1zm0 18h1v1h-1zm0 66h1v1h-1zm0 5h1v1h-1zm0 21h1v2h-1zm0 3h1v1h-1zm0 40h1v1h-1zm0 6h1v1h-1zm0 18h1v1h-1zm0 4h1v1h-1zm0 12h1v1h-1zm0 13h1v1h-1zm0 5h1v1h-1zm0 51h1v1h-1zm0 17h1v1h-1zm1 -348h1v1h-1zm0 10h1v1h-1zm0 32h1v1h-1zm0 9h1v1h-1zm0 10h1v1h-1zm0 10h1v1h-1zm0 12h1v1h-1zm0 8h1v1h-1zm0 49h1v1h-1zm0 8h1v1h-1zm0 6h1v1h-1zm0 42h1v1h-1zm0 23h1v1h-1zm0 3h1v1h-1zm0 23h1v1h-1zm0 30h1v1h-1zm0 44h1v1h-1zm0 29h1v1h-1zm1 -371h1v1h-1zm0 2h1v2h-1zm0 3h1v1h-1zm0 5h1v1h-1zm0 17h1v1h-1zm0 19h1v1h-1zm0 4h1v1h-1zm0 8h1v1h-1zm0 32h1v2h-1zm0 49h1v1h-1zm0 50h1v1h-1zm0 19h1v1h-1zm0 13h1v1h-1zm0 25h1v1h-1zm0 7h1v1h-1zm0 21h1v1h-1zm0 21h1v1h-1zm0 3h1v1h-1zm0 16h1v1h-1zm0 4h1v1h-1zm0 57h1v1h-1zm0 4h1v1h-1zm1 -380h1v1h-1zm0 52h1v1h-1zm0 2h1v1h-1zm0 9h1v1h-1zm0 37h1v1h-1zm0 53h1v1h-1zm0 21h1v1h-1zm0 86h1v1h-1zm0 57h1v1h-1zm0 2h1v1h-1zm0 33h1v1h-1zm0 14h1v1h-1zm1 -340h1v1h-1zm0 12h1v1h-1zm0 19h1v1h-1zm0 4h1v1h-1zm0 7h1v1h-1zm0 22h1v1h-1zm0 5h1v1h-1zm0 84h1v1h-1zm0 29h1v1h-1zm0 17h1v1h-1zm0 15h1v1h-1zm0 7h1v1h-1zm0 22h1v1h-1zm0 20h1v1h-1zm0 7h1v1h-1zm0 23h1v1h-1zm0 3h1v1h-1zm0 15h1v1h-1zm0 9h1v1h-1zm1 -338h1v1h-1zm0 6h1v1h-1zm0 50h1v1h-1zm0 12h1v1h-1zm0 19h1v1h-1zm0 12h1v1h-1zm0 75h1v1h-1zm0 12h1v1h-1zm0 19h1v1h-1zm0 22h1v1h-1zm0 5h1v1h-1zm0 19h1v1h-1zm0 9h1v1h-1zm0 11h1v1h-1zm0 71h1v1h-1zm0 9h1v1h-1zm1 -348h1v1h-1zm0 30h1v1h-1zm0 98h1v1h-1zm0 10h1v1h-1zm0 14h1v2h-1zm0 3h1v1h-1zm0 23h1v1h-1zm0 35h1v1h-1zm0 31h1v1h-1zm0 7h1v1h-1zm0 8h1v1h-1zm0 25h1v1h-1zm0 39h1v1h-1zm0 7h1v1h-1zm0 22h1v1h-1zm1 -356h1v1h-1zm0 12h1v1h-1zm0 2h1v1h-1zm0 4h1v1h-1zm0 5h1v1h-1zm0 82h1v1h-1zm0 3h1v1h-1zm0 77h1v1h-1zm0 42h1v1h-1zm0 9h1v1h-1zm0 19h1v1h-1zm0 42h1v1h-1zm0 30h1v1h-1zm0 22h1v1h-1zm0 5h1v1h-1zm0 2h1v1h-1zm1 -364h1v1h-1zm0 38h1v1h-1zm0 31h1v1h-1zm0 16h1v1h-1zm0 11h1v1h-1zm0 16h1v1h-1zm0 34h1v1h-1zm0 23h1v1h-1zm0 27h1v1h-1zm0 3h1v1h-1zm0 16h1v1h-1zm0 16h1v1h-1zm0 27h1v1h-1zm0 76h1v1h-1zm0 13h1v1h-1zm0 9h1v1h-1zm0 5h1v1h-1zm1 -355h1v1h-1zm0 7h1v1h-1zm0 51h1v1h-1zm0 45h1v1h-1zm0 42h1v1h-1zm0 8h1v1h-1zm0 5h1v1h-1zm0 68h1v1h-1zm0 87h1v1h-1zm0 25h1v1h-1zm0 20h1v1h-1zm1 -332h1v1h-1zm0 30h1v1h-1zm0 2h1v1h-1zm0 23h1v1h-1zm0 23h1v1h-1zm0 2h1v2h-1zm0 69h1v1h-1zm0 6h1v1h-1zm0 12h1v1h-1zm0 23h1v1h-1zm0 15h1v1h-1zm0 6h1v1h-1zm0 21h1v1h-1zm0 34h1v1h-1zm0 39h1v1h-1zm1 -312h1v1h-1zm0 14h1v1h-1zm0 5h1v1h-1zm0 6h1v1h-1zm0 7h1v1h-1zm0 47h1v1h-1zm0 78h1v1h-1zm0 49h1v1h-1zm0 14h1v1h-1zm0 17h1v1h-1zm0 34h1v1h-1zm0 42h1v1h-1zm0 2h1v1h-1zm0 14h1v1h-1zm1 -351h1v1h-1zm0 5h1v1h-1zm0 17h1v1h-1zm0 2h1v1h-1zm0 6h1v1h-1zm0 2h1v2h-1zm0 29h1v1h-1zm0 3h1v1h-1zm0 11h1v1h-1zm0 6h1v1h-1zm0 8h1v1h-1zm0 30h1v1h-1zm0 26h1v1h-1zm0 25h1v1h-1zm0 14h1v1h-1zm0 60h1v1h-1zm0 43h1v1h-1zm0 19h1v1h-1zm0 2h1v1h-1zm0 29h1v1h-1zm0 30h1v1h-1zm1 -359h1v1h-1zm0 50h1v1h-1zm0 15h1v1h-1zm0 8h1v1h-1zm0 11h1v1h-1zm0 44h1v1h-1zm0 19h1v1h-1zm0 14h1v1h-1zm0 15h1v1h-1zm0 21h1v1h-1zm0 28h1v1h-1zm0 9h1v1h-1zm0 28h1v1h-1zm1 -264h1v1h-1zm0 13h1v1h-1zm0 5h1v1h-1zm0 14h1v1h-1zm0 14h1v1h-1zm0 47h1v1h-1zm0 16h1v1h-1zm0 9h1v2h-1zm0 66h1v1h-1zm0 11h1v1h-1zm0 18h1v1h-1zm0 105h1v1h-1zm0 23h1v1h-1zm0 15h1v1h-1zm1 -360h1v1h-1zm0 39h1v1h-1zm0 9h1v1h-1zm0 16h1v1h-1zm0 6h1v1h-1zm0 3h1v1h-1zm0 11h1v1h-1zm0 14h1v1h-1zm0 39h1v1h-1zm0 86h1v1h-1zm0 10h1v1h-1zm0 7h1v1h-1zm0 3h1v1h-1zm0 8h1v1h-1zm0 4h1v1h-1zm0 12h1v1h-1zm0 23h1v1h-1zm0 12h1v1h-1zm0 6h1v1h-1zm0 16h1v1h-1zm0 40h1v2h-1zm1 -352h1v1h-1zm0 121h1v1h-1zm0 14h1v1h-1zm0 101h1v1h-1zm0 9h1v1h-1zm0 4h1v1h-1zm0 5h1v1h-1zm0 9h1v1h-1zm0 9h1v1h-1zm0 43h1v1h-1zm0 21h1v1h-1zm0 11h1v1h-1zm1 -331h1v1h-1zm0 21h1v1h-1zm0 2h1v1h-1zm0 6h1v1h-1zm0 16h1v1h-1zm0 62h1v1h-1zm0 52h1v1h-1zm0 18h1v1h-1zm0 5h1v1h-1zm0 98h1v1h-1zm0 38h1v1h-1zm0 21h1v1h-1zm1 -364h1v1h-1zm0 65h1v1h-1zm0 29h1v1h-1zm0 6h1v1h-1zm0 26h1v1h-1zm0 7h1v1h-1zm0 18h1v1h-1zm0 3h1v1h-1zm0 6h1v1h-1zm0 103h1v2h-1zm0 22h1v1h-1zm0 3h1v1h-1zm0 6h1v1h-1zm0 19h1v1h-1zm0 21h1v1h-1zm0 17h1v1h-1zm1 -347h1v1h-1zm0 12h1v2h-1zm0 56h1v1h-1zm0 39h1v1h-1zm0 8h1v1h-1zm0 33h1v1h-1zm0 103h1v1h-1zm0 16h1v1h-1zm0 29h1v1h-1zm0 12h1v1h-1zm0 11h1v1h-1zm0 39h1v1h-1zm1 -314h1v1h-1zm0 19h1v1h-1zm0 9h1v1h-1zm0 5h1v1h-1zm0 9h1v1h-1zm0 4h1v1h-1zm0 8h1v1h-1zm0 7h1v1h-1zm0 18h1v1h-1zm0 26h1v1h-1zm0 3h1v1h-1zm0 61h1v1h-1zm0 48h1v1h-1zm0 15h1v1h-1zm0 88h1v1h-1zm1 -362h1v1h-1zm0 9h1v1h-1zm0 26h1v1h-1zm0 34h1v1h-1zm0 36h1v1h-1zm0 39h1v1h-1zm0 35h1v1h-1zm0 15h1v1h-1zm0 4h1v1h-1zm0 14h1v1h-1zm0 26h1v1h-1zm0 9h1v1h-1zm0 5h1v1h-1zm0 49h1v1h-1zm0 13h1v1h-1zm0 4h1v1h-1zm0 12h1v1h-1zm0 23h1v1h-1zm0 9h1v1h-1zm1 -375h1v1h-1zm0 8h1v1h-1zm0 3h1v1h-1zm0 39h1v1h-1zm0 10h1v1h-1zm0 11h1v1h-1zm0 4h1v1h-1zm0 49h1v1h-1zm0 16h1v1h-1zm0 4h1v1h-1zm0 6h1v1h-1zm0 11h1v1h-1zm0 15h1v1h-1zm0 10h1v1h-1zm0 45h1v1h-1zm0 15h1v1h-1zm0 23h1v1h-1zm0 17h1v1h-1zm1 -287h1v1h-1zm0 24h1v1h-1zm0 4h1v1h-1zm0 5h1v1h-1zm0 23h1v1h-1zm0 45h1v1h-1zm0 28h1v1h-1zm0 14h1v1h-1zm0 28h1v1h-1zm0 38h1v1h-1zm0 23h1v1h-1zm0 3h1v1h-1zm0 8h1v1h-1zm0 7h1v1h-1zm0 6h1v1h-1zm0 4h1v1h-1zm0 25h1v1h-1zm0 3h1v1h-1zm0 3h1v1h-1zm0 44h1v1h-1zm0 19h1v1h-1zm1 -328h1v1h-1zm0 22h1v1h-1zm0 18h1v1h-1zm0 37h1v2h-1zm0 34h1v2h-1zm0 40h1v1h-1zm0 32h1v1h-1zm0 6h1v1h-1zm0 12h1v1h-1zm0 13h1v1h-1zm0 18h1v2h-1zm0 41h1v1h-1zm0 7h1v2h-1zm0 14h1v1h-1zm0 5h1v1h-1zm0 17h1v1h-1zm0 19h1v1h-1zm1 -309h1v1h-1zm0 36h1v1h-1zm0 8h1v1h-1zm0 14h1v1h-1zm0 57h1v1h-1zm0 19h1v1h-1zm0 43h1v1h-1zm0 4h1v1h-1zm0 6h1v1h-1zm0 14h1v1h-1zm0 15h1v3h-1zm0 43h1v1h-1zm0 18h1v1h-1zm0 14h1v2h-1zm0 6h1v1h-1zm1 -346h1v2h-1zm0 90h1v1h-1zm0 37h1v1h-1zm0 53h1v1h-1zm0 54h1v1h-1zm0 7h1v1h-1zm0 2h1v1h-1zm0 6h1v1h-1zm0 26h1v1h-1zm0 23h1v1h-1zm0 5h1v1h-1zm0 45h1v1h-1zm0 7h1v1h-1zm1 -358h1v1h-1zm0 36h1v1h-1zm0 4h1v1h-1zm0 9h1v1h-1zm0 11h1v1h-1zm0 29h1v1h-1zm0 6h1v1h-1zm0 52h1v1h-1zm0 36h1v1h-1zm0 6h1v1h-1zm0 2h1v1h-1zm0 20h1v1h-1zm0 17h1v1h-1zm0 14h1v1h-1zm0 9h1v1h-1zm0 74h1v1h-1zm0 15h1v1h-1zm0 4h1v1h-1zm0 20h1v1h-1zm1 -359h1v1h-1zm0 110h1v1h-1zm0 61h1v1h-1zm0 32h1v1h-1zm0 33h1v1h-1zm0 27h1v1h-1zm0 56h1v1h-1zm0 14h1v1h-1zm1 -283h1v1h-1zm0 29h1v1h-1zm0 4h1v1h-1zm0 10h1v1h-1zm0 63h1v1h-1zm0 37h1v1h-1zm0 17h1v1h-1zm0 38h1v1h-1zm0 12h1v1h-1zm0 11h1v1h-1zm0 14h1v1h-1zm0 53h1v1h-1zm1 -323h1v1h-1zm0 32h1v1h-1zm0 3h1v1h-1zm0 48h1v1h-1zm0 13h1v1h-1zm0 94h1v1h-1zm0 2h1v1h-1zm0 8h1v1h-1zm0 17h1v1h-1zm0 21h1v1h-1zm0 4h1v1h-1zm0 20h1v1h-1zm0 23h1v1h-1zm0 7h1v1h-1zm0 11h1v1h-1zm0 45h1v1h-1zm0 7h1v1h-1zm1 -364h1v1h-1zm0 6h1v1h-1zm0 69h1v1h-1zm0 16h1v1h-1zm0 36h1v3h-1zm0 11h1v1h-1zm0 4h1v1h-1zm0 2h1v1h-1zm0 21h1v1h-1zm0 46h1v1h-1zm0 22h1v1h-1zm0 22h1v1h-1zm0 9h1v1h-1zm0 2h1v1h-1zm0 8h1v1h-1zm0 20h1v1h-1zm0 30h1v1h-1zm1 -318h1v1h-1zm0 38h1v1h-1zm0 6h1v2h-1zm0 25h1v1h-1zm0 7h1v1h-1zm0 20h1v1h-1zm0 6h1v1h-1zm0 4h1v1h-1zm0 10h1v1h-1zm0 22h1v1h-1zm0 16h1v1h-1zm0 17h1v1h-1zm0 10h1v1h-1zm0 20h1v1h-1zm0 6h1v1h-1zm0 14h1v1h-1zm0 8h1v1h-1zm0 28h1v1h-1zm0 22h1v1h-1zm0 14h1v1h-1zm0 45h1v1h-1zm0 5h1v1h-1zm0 7h1v1h-1zm1 -367h1v1h-1zm0 38h1v1h-1zm0 4h1v1h-1zm0 47h1v1h-1zm0 6h1v1h-1zm0 72h1v1h-1zm0 14h1v1h-1zm0 39h1v1h-1zm0 3h1v1h-1zm0 25h1v1h-1zm0 37h1v1h-1zm0 26h1v1h-1zm0 41h1v1h-1zm0 16h1v2h-1zm1 -363h1v1h-1zm0 21h1v1h-1zm0 57h1v1h-1zm0 234h1v1h-1zm0 17h1v1h-1zm0 31h1v1h-1zm1 -354h1v2h-1zm0 3h1v2h-1zm0 18h1v1h-1zm0 6h1v1h-1zm0 77h1v1h-1zm0 9h1v1h-1zm0 117h1v1h-1zm0 16h1v1h-1zm0 8h1v1h-1zm0 2h1v1h-1zm0 33h1v1h-1zm0 7h1v1h-1zm0 21h1v1h-1zm0 16h1v1h-1zm0 26h1v1h-1zm1 -347h1v1h-1zm0 2h1v1h-1zm0 22h1v1h-1zm0 34h1v1h-1zm0 64h1v1h-1zm0 61h1v1h-1zm0 65h1v1h-1zm0 6h1v1h-1zm0 21h1v1h-1zm0 32h1v1h-1zm1 -223h1v1h-1zm0 31h1v1h-1zm0 26h1v1h-1zm0 51h1v1h-1zm0 20h1v1h-1zm0 4h1v1h-1zm0 6h1v1h-1zm0 28h1v1h-1zm0 2h1v1h-1zm0 39h1v1h-1zm0 2h1v1h-1zm0 15h1v1h-1zm0 2h1v1h-1zm1 -311h1v1h-1zm0 94h1v1h-1zm0 28h1v1h-1zm0 38h1v1h-1zm0 33h1v1h-1zm0 86h1v1h-1zm1 -293h1v1h-1zm0 48h1v1h-1zm0 113h1v1h-1zm0 2h1v1h-1zm0 4h1v1h-1zm0 19h1v1h-1zm0 3h1v1h-1zm0 39h1v1h-1zm0 29h1v1h-1zm0 40h1v1h-1zm0 10h1v1h-1zm0 38h1v1h-1zm1 -328h1v1h-1zm0 34h1v1h-1zm0 2h1v1h-1zm0 27h1v1h-1zm0 26h1v1h-1zm0 54h1v1h-1zm0 74h1v1h-1zm0 15h1v1h-1zm0 30h1v1h-1zm0 81h1v2h-1zm1 -322h1v1h-1zm0 39h1v1h-1zm0 6h1v1h-1zm0 17h1v2h-1zm0 11h1v1h-1zm0 58h1v1h-1zm0 13h1v1h-1zm0 13h1v1h-1zm0 30h1v1h-1zm0 12h1v1h-1zm0 30h1v1h-1zm0 7h1v1h-1zm0 15h1v1h-1zm0 24h1v1h-1zm0 49h1v1h-1zm0 2h1v1h-1zm1 -293h1v1h-1zm0 18h1v1h-1zm0 12h1v1h-1zm0 44h1v1h-1zm0 19h1v1h-1zm0 50h1v1h-1zm0 106h1v2h-1zm0 32h1v1h-1zm1 -347h1v1h-1zm0 25h1v1h-1zm0 34h1v1h-1zm0 3h1v1h-1zm0 3h1v1h-1zm0 18h1v1h-1zm0 29h1v1h-1zm0 10h1v1h-1zm0 19h1v1h-1zm0 26h1v1h-1zm0 47h1v1h-1zm0 4h1v1h-1zm0 23h1v1h-1zm0 32h1v1h-1zm0 36h1v1h-1zm0 33h1v1h-1zm0 11h1v1h-1zm0 8h1v1h-1zm1 -362h1v1h-1zm0 16h1v1h-1zm0 24h1v1h-1zm0 36h1v1h-1zm0 36h1v1h-1zm0 13h1v1h-1zm0 30h1v1h-1zm0 4h1v1h-1zm0 5h1v1h-1zm0 54h1v2h-1zm0 75h1v1h-1zm0 4h1v1h-1zm1 -260h1v1h-1zm0 27h1v1h-1zm0 2h1v1h-1zm0 2h1v1h-1zm0 10h1v1h-1zm0 97h1v1h-1zm0 15h1v1h-1zm0 19h1v1h-1zm0 15h1v2h-1zm0 75h1v1h-1zm0 7h1v1h-1zm0 2h1v1h-1zm0 27h1v1h-1zm0 7h1v1h-1zm0 11h1v1h-1zm1 -358h1v1h-1zm0 29h1v1h-1zm0 6h1v2h-1zm0 19h1v1h-1zm0 6h1v1h-1zm0 41h1v1h-1zm0 32h1v1h-1zm0 7h1v1h-1zm0 14h1v1h-1zm0 31h1v1h-1zm0 20h1v1h-1zm0 27h1v1h-1zm0 25h1v1h-1zm0 10h1v1h-1zm0 8h1v2h-1zm0 5h1v1h-1zm0 5h1v1h-1zm0 48h1v1h-1zm0 27h1v1h-1zm1 -352h1v1h-1zm0 2h1v1h-1zm0 34h1v1h-1zm0 15h1v1h-1zm0 12h1v1h-1zm0 5h1v1h-1zm0 31h1v1h-1zm0 50h1v1h-1zm0 66h1v2h-1zm0 20h1v1h-1zm0 8h1v1h-1zm0 8h1v1h-1zm0 37h1v1h-1zm0 38h1v1h-1zm1 -339h1v1h-1zm0 52h1v1h-1zm0 22h1v1h-1zm0 26h1v1h-1zm0 5h1v1h-1zm0 5h1v1h-1zm0 34h1v1h-1zm0 6h1v1h-1zm0 13h1v1h-1zm0 4h1v1h-1zm0 11h1v1h-1zm0 5h1v1h-1zm0 54h1v1h-1zm0 4h1v1h-1zm0 17h1v1h-1zm0 51h1v1h-1zm0 8h1v1h-1zm0 13h1v1h-1zm0 14h1v2h-1zm0 6h1v1h-1zm0 8h1v1h-1zm0 10h1v1h-1zm1 -370h1v1h-1zm0 12h1v1h-1zm0 34h1v1h-1zm0 11h1v1h-1zm0 14h1v1h-1zm0 10h1v1h-1zm0 23h1v1h-1zm0 4h1v1h-1zm0 16h1v1h-1zm0 48h1v1h-1zm0 25h1v1h-1zm0 83h1v2h-1zm0 79h1v1h-1zm1 -331h1v1h-1zm0 27h1v2h-1zm0 83h1v1h-1zm0 35h1v1h-1zm0 41h1v1h-1zm0 118h1v1h-1zm0 29h1v1h-1zm0 14h1v1h-1zm1 -371h1v1h-1zm0 28h1v1h-1zm0 31h1v1h-1zm0 5h1v1h-1zm0 4h1v1h-1zm0 14h1v1h-1zm0 2h1v1h-1zm0 57h1v1h-1zm0 4h1v1h-1zm0 6h1v1h-1zm0 9h1v1h-1zm0 66h1v1h-1zm0 7h1v1h-1zm0 5h1v1h-1zm0 8h1v1h-1zm0 8h1v1h-1zm0 12h1v1h-1zm0 12h1v1h-1zm0 20h1v1h-1zm0 23h1v1h-1zm0 14h1v1h-1zm0 31h1v1h-1zm0 4h1v1h-1zm1 -360h1v1h-1zm0 13h1v1h-1zm0 68h1v1h-1zm0 13h1v1h-1zm0 2h1v1h-1zm0 7h1v2h-1zm0 23h1v1h-1zm0 17h1v1h-1zm0 33h1v1h-1zm0 44h1v1h-1zm0 67h1v1h-1zm0 59h1v1h-1zm0 7h1v1h-1zm0 7h1v1h-1zm1 -352h1v1h-1zm0 4h1v1h-1zm0 29h1v1h-1zm0 12h1v1h-1zm0 7h1v1h-1zm0 41h1v1h-1zm0 17h1v1h-1zm0 18h1v1h-1zm0 10h1v1h-1zm0 5h1v1h-1zm0 39h1v1h-1zm0 8h1v1h-1zm0 7h1v1h-1zm0 4h1v1h-1zm0 2h1v1h-1zm0 78h1v1h-1zm0 16h1v1h-1zm0 5h1v1h-1zm0 38h1v1h-1zm1 -327h1v1h-1zm0 16h1v1h-1zm0 21h1v1h-1zm0 26h1v1h-1zm0 20h1v1h-1zm0 31h1v1h-1zm0 3h1v1h-1zm0 61h1v1h-1zm0 33h1v1h-1zm0 10h1v1h-1zm0 38h1v1h-1zm0 24h1v1h-1zm0 47h1v1h-1zm0 5h1v1h-1zm1 -349h1v1h-1zm0 9h1v1h-1zm0 15h1v1h-1zm0 7h1v1h-1zm0 61h1v1h-1zm0 15h1v1h-1zm0 20h1v1h-1zm0 4h1v1h-1zm0 5h1v1h-1zm0 77h1v1h-1zm0 6h1v1h-1zm0 2h1v1h-1zm0 38h1v1h-1zm0 9h1v1h-1zm0 8h1v1h-1zm0 26h1v1h-1zm0 7h1v1h-1zm0 4h1v1h-1zm0 5h1v1h-1zm0 4h1v2h-1zm0 7h1v1h-1zm1 -308h1v1h-1zm0 65h1v1h-1zm0 37h1v1h-1zm0 9h1v1h-1zm0 13h1v1h-1zm0 9h1v1h-1zm0 3h1v1h-1zm0 13h1v1h-1zm0 24h1v1h-1zm0 2h1v1h-1zm0 2h1v1h-1zm0 29h1v1h-1zm0 51h1v1h-1zm0 15h1v1h-1zm0 2h1v1h-1zm0 43h1v1h-1zm0 4h1v1h-1zm0 7h1v1h-1zm1 -358h1v1h-1zm0 6h1v1h-1zm0 19h1v1h-1zm0 32h1v1h-1zm0 31h1v1h-1zm0 100h1v1h-1zm0 29h1v1h-1zm0 8h1v1h-1zm0 31h1v1h-1zm0 6h1v1h-1zm0 19h1v1h-1zm0 23h1v1h-1zm0 22h1v1h-1zm1 -302h1v1h-1zm0 28h1v1h-1zm0 23h1v1h-1zm0 5h1v1h-1zm0 17h1v1h-1zm0 2h1v1h-1zm0 15h1v1h-1zm0 7h1v1h-1zm0 36h1v1h-1zm0 29h1v1h-1zm0 70h1v1h-1zm0 32h1v1h-1zm0 11h1v1h-1zm0 37h1v1h-1zm0 12h1v1h-1zm0 3h1v1h-1zm0 4h1v1h-1zm1 -315h1v1h-1zm0 2h1v1h-1zm0 38h1v1h-1zm0 17h1v1h-1zm0 6h1v1h-1zm0 3h1v1h-1zm0 22h1v1h-1zm0 13h1v1h-1zm0 8h1v1h-1zm0 10h1v1h-1zm0 2h1v1h-1zm0 9h1v1h-1zm0 26h1v1h-1zm0 26h1v1h-1zm0 40h1v1h-1zm0 6h1v1h-1zm0 6h1v1h-1zm0 16h1v1h-1zm0 18h1v1h-1zm0 16h1v1h-1zm1 -333h1v1h-1zm0 44h1v1h-1zm0 6h1v1h-1zm0 61h1v1h-1zm0 46h1v1h-1zm0 5h1v1h-1zm0 8h1v1h-1zm0 26h1v1h-1zm0 74h1v1h-1zm0 23h1v1h-1zm0 5h1v1h-1zm0 19h1v1h-1zm0 28h1v1h-1zm0 13h1v1h-1zm0 5h1v1h-1zm0 10h1v1h-1zm1 -351h1v1h-1zm0 3h1v1h-1zm0 16h1v1h-1zm0 5h1v1h-1zm0 59h1v1h-1zm0 19h1v1h-1zm0 16h1v1h-1zm0 28h1v1h-1zm0 34h1v1h-1zm0 16h1v1h-1zm0 22h1v1h-1zm0 17h1v1h-1zm0 17h1v1h-1zm0 8h1v2h-1zm0 18h1v1h-1zm0 17h1v1h-1zm0 11h1v1h-1zm0 32h1v1h-1zm1 -322h1v1h-1zm0 13h1v1h-1zm0 90h1v1h-1zm0 34h1v1h-1zm0 3h1v1h-1zm0 18h1v1h-1zm0 11h1v1h-1zm0 157h1v1h-1zm1 -367h1v1h-1zm0 2h1v1h-1zm0 23h1v1h-1zm0 5h1v1h-1zm0 3h1v1h-1zm0 52h1v1h-1zm0 13h1v1h-1zm0 22h1v1h-1zm0 5h1v1h-1zm0 23h1v1h-1zm0 4h1v1h-1zm0 9h1v1h-1zm0 38h1v1h-1zm0 21h1v1h-1zm0 2h1v2h-1zm0 26h1v1h-1zm0 15h1v1h-1zm0 32h1v1h-1zm0 4h1v1h-1zm0 2h1v1h-1zm0 2h1v1h-1zm0 11h1v1h-1zm0 12h1v1h-1zm0 38h1v1h-1zm1 -339h1v1h-1zm0 50h1v1h-1zm0 8h1v2h-1zm0 14h1v1h-1zm0 257h1v1h-1zm0 22h1v1h-1zm1 -369h1v1h-1zm0 5h1v1h-1zm0 11h1v1h-1zm0 63h1v1h-1zm0 6h1v1h-1zm0 4h1v1h-1zm0 3h1v1h-1zm0 15h1v1h-1zm0 4h1v1h-1zm0 4h1v1h-1zm0 34h1v1h-1zm0 3h1v1h-1zm0 48h1v1h-1zm0 50h1v1h-1zm0 12h1v1h-1zm0 4h1v1h-1zm0 9h1v1h-1zm0 31h1v1h-1zm0 6h1v1h-1zm1 -254h1v1h-1zm0 4h1v1h-1zm0 27h1v1h-1zm0 4h1v1h-1zm0 39h1v1h-1zm0 9h1v1h-1zm0 9h1v1h-1zm0 30h1v1h-1zm0 29h1v1h-1zm0 5h1v1h-1zm0 8h1v1h-1zm0 10h1v1h-1zm0 14h1v1h-1zm0 26h1v1h-1zm0 10h1v1h-1zm0 10h1v1h-1zm0 36h1v1h-1zm0 24h1v1h-1zm0 7h1v1h-1zm0 2h1v1h-1zm1 -365h1v1h-1zm0 6h1v1h-1zm0 17h1v1h-1zm0 38h1v1h-1zm0 81h1v1h-1zm0 37h1v1h-1zm0 6h1v1h-1zm0 3h1v1h-1zm0 6h1v1h-1zm0 20h1v1h-1zm0 5h1v1h-1zm0 4h1v1h-1zm0 9h1v1h-1zm0 4h1v1h-1zm0 8h1v2h-1zm0 63h1v1h-1zm0 15h1v1h-1zm0 41h1v1h-1zm0 6h1v1h-1zm1 -300h1v1h-1zm0 76h1v1h-1zm0 14h1v1h-1zm0 29h1v1h-1zm0 55h1v1h-1zm0 4h1v1h-1zm0 4h1v1h-1zm0 9h1v2h-1zm0 37h1v1h-1zm0 2h1v1h-1zm0 44h1v1h-1zm0 23h1v2h-1zm1 -356h1v1h-1zm0 27h1v1h-1zm0 40h1v1h-1zm0 21h1v1h-1zm0 51h1v1h-1zm0 9h1v1h-1zm0 16h1v1h-1zm0 18h1v1h-1zm0 92h1v1h-1zm0 20h1v1h-1zm0 44h1v1h-1zm1 -344h1v1h-1zm0 8h1v1h-1zm0 22h1v1h-1zm0 2h1v1h-1zm0 38h1v1h-1zm0 25h1v2h-1zm0 4h1v1h-1zm0 31h1v1h-1zm0 86h1v1h-1zm0 85h1v1h-1zm0 50h1v1h-1zm0 8h1v1h-1zm0 3h1v1h-1zm1 -338h1v1h-1zm0 11h1v1h-1zm0 38h1v1h-1zm0 6h1v1h-1zm0 16h1v1h-1zm0 73h1v1h-1zm0 18h1v2h-1zm0 53h1v1h-1zm0 14h1v1h-1zm0 35h1v2h-1zm0 50h1v1h-1zm0 12h1v1h-1zm0 5h1v1h-1zm0 10h1v1h-1zm0 2h1v1h-1zm0 3h1v1h-1zm1 -366h1v1h-1zm0 30h1v1h-1zm0 29h1v1h-1zm0 22h1v1h-1zm0 42h1v1h-1zm0 8h1v1h-1zm0 9h1v1h-1zm0 35h1v1h-1zm0 6h1v1h-1zm0 2h1v1h-1zm0 24h1v1h-1zm0 6h1v1h-1zm0 15h1v1h-1zm0 34h1v1h-1zm0 37h1v1h-1zm0 4h1v1h-1zm0 22h1v1h-1zm0 10h1v1h-1zm0 8h1v1h-1zm1 -335h1v1h-1zm0 24h1v1h-1zm0 20h1v1h-1zm0 18h1v1h-1zm0 13h1v1h-1zm0 23h1v1h-1zm0 4h1v1h-1zm0 3h1v1h-1zm0 2h1v1h-1zm0 68h1v1h-1zm0 14h1v1h-1zm0 60h1v1h-1zm0 2h1v2h-1zm0 26h1v1h-1zm0 8h1v1h-1zm0 15h1v1h-1zm0 22h1v1h-1zm1 -304h1v1h-1zm0 2h1v1h-1zm0 21h1v1h-1zm0 8h1v1h-1zm0 22h1v1h-1zm0 23h1v1h-1zm0 11h1v1h-1zm0 43h1v1h-1zm0 6h1v1h-1zm0 11h1v1h-1zm0 19h1v1h-1zm0 36h1v1h-1zm0 16h1v1h-1zm0 20h1v2h-1zm0 24h1v1h-1zm0 8h1v1h-1zm0 14h1v1h-1zm0 13h1v1h-1zm0 42h1v1h-1zm1 -359h1v1h-1zm0 5h1v1h-1zm0 11h1v1h-1zm0 12h1v1h-1zm0 41h1v1h-1zm0 25h1v2h-1zm0 20h1v1h-1zm0 42h1v1h-1zm0 4h1v1h-1zm0 3h1v1h-1zm0 6h1v1h-1zm0 2h1v1h-1zm0 10h1v1h-1zm0 23h1v1h-1zm0 12h1v1h-1zm0 4h1v1h-1zm0 16h1v1h-1zm0 24h1v1h-1zm0 2h1v1h-1zm0 72h1v1h-1zm0 2h1v1h-1zm2 -344h1v1h-1zm0 44h1v1h-1zm0 24h1v1h-1zm0 2h1v1h-1zm0 53h1v1h-1zm0 44h1v1h-1zm0 4h1v1h-1zm0 11h1v1h-1zm0 3h1v1h-1zm0 60h1v1h-1zm0 21h1v1h-1zm0 3h1v1h-1zm0 7h1v1h-1zm0 35h1v2h-1zm0 4h1v1h-1zm2 -309h1v1h-1zm0 12h1v1h-1zm0 41h1v1h-1zm0 12h1v1h-1zm0 42h1v1h-1zm0 112h1v3h-1zm0 4h1v1h-1zm2 -219h1v1h-1zm0 8h1v1h-1zm0 14h1v1h-1zm0 35h1v1h-1zm0 29h1v1h-1zm0 39h1v1h-1zm0 36h1v1h-1zm0 6h1v1h-1zm0 7h1v1h-1zm0 29h1v1h-1zm0 76h1v1h-1zm0 3h1v1h-1zm0 20h1v1h-1zm0 5h1v1h-1zm0 6h1v1h-1zm0 7h1v1h-1zm0 36h1v1h-1zm2 -332h1v1h-1zm0 9h1v1h-1zm0 42h1v1h-1zm0 33h1v1h-1zm0 16h1v1h-1zm0 12h1v1h-1zm0 14h1v2h-1zm0 9h1v1h-1zm0 17h1v1h-1zm0 10h1v1h-1zm0 15h1v1h-1zm0 2h1v1h-1zm0 3h1v1h-1zm0 4h1v1h-1zm0 2h1v1h-1zm0 17h1v1h-1zm0 68h1v1h-1zm0 48h1v1h-1zm0 5h1v1h-1zm0 6h1v1h-1zm2 -371h1v1h-1zm0 6h1v1h-1zm0 19h1v1h-1zm0 30h1v1h-1zm0 19h1v1h-1zm0 35h1v1h-1zm0 7h1v2h-1zm0 18h1v1h-1zm0 17h1v1h-1zm0 11h1v1h-1zm0 21h1v1h-1zm0 11h1v1h-1zm0 19h1v1h-1zm0 34h1v1h-1zm0 86h1v1h-1zm0 18h1v1h-1zm0 5h1v1h-1zm0 6h1v1h-1zm0 10h1v1h-1zm2 -345h1v1h-1zm0 12h1v1h-1zm0 39h1v1h-1zm0 75h1v1h-1zm0 67h1v1h-1zm0 66h1v1h-1zm0 12h1v1h-1zm0 22h1v1h-1zm0 2h1v1h-1zm0 3h1v1h-1zm0 37h1v1h-1zm0 5h1v1h-1zm2 -359h1v1h-1zm0 39h1v1h-1zm0 52h1v1h-1zm0 18h1v1h-1zm0 70h1v1h-1zm0 16h1v1h-1zm0 44h1v1h-1zm0 9h1v1h-1zm0 5h1v1h-1zm0 20h1v1h-1zm0 31h1v2h-1zm0 46h1v1h-1zm0 5h1v1h-1zm5 -267h1v1h-1zm0 74h1v1h-1zm0 8h1v1h-1zm0 17h1v2h-1zm0 10h1v1h-1zm0 156h1v1h-1zm5 -345h1v1h-1zm0 2h1v1h-1zm0 18h1v1h-1zm0 40h1v1h-1zm0 6h1v1h-1zm0 25h1v1h-1zm0 34h1v1h-1zm0 76h1v1h-1zm0 5h1v1h-1zm0 32h1v1h-1zm0 61h1v1h-1zm0 58h1v1h-1zm5 -322h1v1h-1zm0 29h1v1h-1zm0 62h1v1h-1zm0 17h1v1h-1zm0 12h1v1h-1zm0 46h1v1h-1zm0 5h1v1h-1zm0 15h1v1h-1zm0 3h1v1h-1zm0 12h1v1h-1zm0 11h1v1h-1zm0 43h1v1h-1zm0 15h1v1h-1zm0 19h1v1h-1zm0 3h1v1h-1zm0 14h1v1h-1zm0 16h1v1h-1zm5 -302h1v1h-1zm0 5h1v1h-1zm0 20h1v1h-1zm0 48h1v1h-1zm0 25h1v1h-1zm0 48h1v1h-1zm0 19h1v1h-1zm0 54h1v1h-1zm0 29h1v1h-1zm0 3h1v1h-1zm0 27h1v1h-1zm5 -351h1v1h-1zm0 49h1v1h-1zm0 6h1v1h-1zm0 32h1v1h-1zm0 67h1v1h-1zm0 54h1v1h-1zm0 28h1v1h-1zm0 7h1v2h-1zm0 23h1v1h-1zm0 29h1v1h-1zm0 5h1v1h-1zm0 2h1v1h-1zm0 67h1v1h-1zm5 -345h1v1h-1zm0 44h1v1h-1zm0 13h1v1h-1zm0 18h1v1h-1zm0 28h1v1h-1zm0 19h1v1h-1zm0 64h1v1h-1zm0 62h1v1h-1zm0 10h1v1h-1zm0 17h1v2h-1zm0 5h1v1h-1zm0 15h1v1h-1zm0 44h1v1h-1z"/><path fill="#482576" d="M4 58h1v1h-1zm0 48h1v1h-1zm0 121h1v1h-1zm0 140h1v1h-1zm0 5h1v1h-1zm1 -271h1v1h-1zm0 28h1v1h-1zm0 15h1v1h-1zm0 3h1v1h-1zm0 7h1v1h-1zm0 36h1v1h-1zm0 76h1v2h-1zm0 13h1v1h-1zm0 72h1v1h-1zm0 10h1v1h-1zm0 7h1v1h-1zm1 -367h1v1h-1zm0 9h1v1h-1zm0 5h1v1h-1zm0 8h1v1h-1zm0 9h1v1h-1zm0 30h1v1h-1zm0 15h1v1h-1zm0 11h1v1h-1zm0 6h1v2h-1zm0 4h1v1h-1zm0 17h1v1h-1zm0 26h1v1h-1zm0 14h1v1h-1zm0 12h1v1h-1zm0 32h1v1h-1zm0 30h1v1h-1zm0 5h1v1h-1zm0 17h1v1h-1zm0 30h1v1h-1zm0 16h1v1h-1zm0 4h1v1h-1zm0 25h1v1h-1zm0 4h1v1h-1zm0 8h1v1h-1zm0 4h1v1h-1zm1 -323h1v1h-1zm0 15h1v1h-1zm0 10h1v1h-1zm0 47h1v1h-1zm0 5h1v1h-1zm0 64h1v1h-1zm0 114h1v1h-1zm0 19h1v1h-1zm1 -256h1v1h-1zm0 46h1v1h-1zm0 13h1v1h-1zm0 93h1v1h-1zm0 33h1v1h-1zm0 8h1v1h-1zm0 4h1v2h-1zm0 6h1v1h-1zm0 20h1v1h-1zm0 11h1v1h-1zm0 35h1v1h-1zm0 6h1v1h-1zm0 6h1v1h-1zm0 8h1v1h-1zm0 17h1v1h-1zm1 -338h1v1h-1zm0 10h1v1h-1zm0 41h1v1h-1zm0 12h1v1h-1zm0 16h1v1h-1zm0 20h1v1h-1zm0 14h1v1h-1zm0 60h1v1h-1zm0 20h1v1h-1zm0 10h1v1h-1zm0 2h1v1h-1zm0 31h1v1h-1zm0 22h1v1h-1zm0 78h1v1h-1zm0 2h1v1h-1zm0 12h1v2h-1zm0 17h1v1h-1zm1 -311h1v1h-1zm0 59h1v1h-1zm0 81h1v1h-1zm0 8h1v1h-1zm0 46h1v1h-1zm0 38h1v1h-1zm0 48h1v1h-1zm0 15h1v1h-1zm1 -353h1v1h-1zm0 5h1v1h-1zm0 14h1v1h-1zm0 16h1v1h-1zm0 5h1v1h-1zm0 4h1v1h-1zm0 16h1v1h-1zm0 12h1v1h-1zm0 9h1v1h-1zm0 21h1v1h-1zm0 8h1v1h-1zm0 18h1v1h-1zm0 3h1v1h-1zm0 13h1v1h-1zm0 20h1v1h-1zm0 44h1v1h-1zm0 11h1v1h-1zm0 11h1v1h-1zm0 9h1v1h-1zm0 9h1v1h-1zm0 9h1v1h-1zm0 3h1v1h-1zm0 15h1v1h-1zm0 63h1v1h-1zm0 33h1v1h-1zm0 2h1v1h-1zm1 -371h1v1h-1zm0 9h1v1h-1zm0 6h1v1h-1zm0 88h1v1h-1zm0 24h1v1h-1zm0 134h1v1h-1zm0 13h1v1h-1zm0 55h1v1h-1zm0 15h1v1h-1zm0 16h1v1h-1zm0 11h1v1h-1zm1 -373h1v1h-1zm0 11h1v1h-1zm0 16h1v1h-1zm0 11h1v1h-1zm0 14h1v1h-1zm0 19h1v1h-1zm0 46h1v1h-1zm0 10h1v1h-1zm0 6h1v1h-1zm0 10h1v1h-1zm0 9h1v1h-1zm0 36h1v1h-1zm0 28h1v1h-1zm0 5h1v1h-1zm0 23h1v1h-1zm0 26h1v1h-1zm0 9h1v1h-1zm0 2h1v1h-1zm0 22h1v1h-1zm0 11h1v1h-1zm0 20h1v1h-1zm1 -326h1v1h-1zm0 9h1v1h-1zm0 43h1v1h-1zm0 5h1v1h-1zm0 29h1v1h-1zm0 29h1v1h-1zm0 81h1v1h-1zm0 11h1v1h-1zm0 14h1v1h-1zm0 8h1v1h-1zm0 90h1v1h-1zm0 39h1v1h-1zm1 -357h1v1h-1zm0 55h1v1h-1zm0 30h1v1h-1zm0 39h1v1h-1zm0 39h1v1h-1zm0 76h1v1h-1zm0 28h1v1h-1zm0 14h1v1h-1zm0 19h1v1h-1zm0 12h1v1h-1zm0 3h1v1h-1zm0 32h1v1h-1zm0 11h1v1h-1zm1 -369h1v1h-1zm0 51h1v1h-1zm0 45h1v1h-1zm0 55h1v1h-1zm0 13h1v1h-1zm0 97h1v1h-1zm0 12h1v1h-1zm0 16h1v1h-1zm0 16h1v1h-1zm0 2h1v1h-1zm0 57h1v1h-1zm0 3h1v1h-1zm0 4h1v1h-1zm1 -333h1v1h-1zm0 31h1v1h-1zm0 16h1v1h-1zm0 4h1v1h-1zm0 16h1v1h-1zm0 91h1v1h-1zm0 23h1v1h-1zm0 19h1v2h-1zm0 91h1v1h-1zm0 36h1v3h-1zm1 -283h1v1h-1zm0 23h1v2h-1zm0 6h1v1h-1zm0 23h1v2h-1zm0 23h1v1h-1zm0 21h1v1h-1zm0 8h1v1h-1zm0 82h1v1h-1zm0 5h1v1h-1zm0 30h1v1h-1zm0 38h1v1h-1zm1 -288h1v1h-1zm0 3h1v1h-1zm0 3h1v1h-1zm0 16h1v1h-1zm0 49h1v1h-1zm0 26h1v2h-1zm0 13h1v1h-1zm0 33h1v1h-1zm0 42h1v1h-1zm0 16h1v1h-1zm0 13h1v1h-1zm0 71h1v1h-1zm0 15h1v1h-1zm0 2h1v1h-1zm1 -345h1v1h-1zm0 2h1v1h-1zm0 4h1v2h-1zm0 47h1v1h-1zm0 34h1v3h-1zm0 29h1v1h-1zm0 50h1v1h-1zm0 154h1v1h-1zm1 -234h1v1h-1zm0 14h1v1h-1zm0 15h1v2h-1zm0 23h1v1h-1zm0 4h1v1h-1zm0 54h1v1h-1zm0 33h1v1h-1zm0 24h1v1h-1zm0 27h1v1h-1zm0 15h1v1h-1zm0 19h1v1h-1zm0 28h1v1h-1zm0 6h1v1h-1zm1 -356h1v1h-1zm0 9h1v1h-1zm0 4h1v1h-1zm0 32h1v1h-1zm0 41h1v1h-1zm0 8h1v1h-1zm0 18h1v1h-1zm0 9h1v1h-1zm0 25h1v1h-1zm0 4h1v1h-1zm0 34h1v1h-1zm0 23h1v1h-1zm0 25h1v1h-1zm0 13h1v1h-1zm0 12h1v1h-1zm0 2h1v1h-1zm0 33h1v1h-1zm0 4h1v1h-1zm0 29h1v1h-1zm0 11h1v1h-1zm1 -337h1v1h-1zm0 75h1v1h-1zm0 17h1v1h-1zm0 29h1v1h-1zm0 39h1v1h-1zm0 13h1v1h-1zm0 28h1v1h-1zm0 50h1v1h-1zm0 10h1v1h-1zm1 -254h1v1h-1zm0 23h1v1h-1zm0 14h1v1h-1zm0 6h1v1h-1zm0 19h1v1h-1zm0 30h1v1h-1zm0 8h1v1h-1zm0 16h1v1h-1zm0 42h1v1h-1zm0 8h1v1h-1zm0 26h1v1h-1zm0 22h1v1h-1zm0 15h1v1h-1zm0 2h1v1h-1zm0 18h1v1h-1zm0 23h1v1h-1zm0 58h1v1h-1zm1 -327h1v1h-1zm0 43h1v1h-1zm0 24h1v1h-1zm0 26h1v2h-1zm0 37h1v1h-1zm0 8h1v1h-1zm0 71h1v1h-1zm0 16h1v1h-1zm0 61h1v1h-1zm0 53h1v1h-1zm0 16h1v1h-1zm1 -355h1v1h-1zm0 12h1v1h-1zm0 19h1v1h-1zm0 30h1v1h-1zm0 57h1v1h-1zm0 45h1v1h-1zm0 2h1v1h-1zm0 49h1v1h-1zm0 15h1v1h-1zm0 59h1v1h-1zm0 34h1v1h-1zm0 14h1v1h-1zm0 13h1v1h-1zm1 -350h1v1h-1zm0 37h1v1h-1zm0 21h1v1h-1zm0 17h1v1h-1zm0 63h1v1h-1zm0 3h1v1h-1zm0 20h1v1h-1zm0 9h1v1h-1zm0 47h1v1h-1zm0 4h1v1h-1zm0 9h1v2h-1zm0 5h1v1h-1zm0 30h1v1h-1zm0 15h1v1h-1zm0 6h1v1h-1zm0 10h1v1h-1zm0 34h1v1h-1zm0 22h1v1h-1zm0 14h1v1h-1zm1 -355h1v1h-1zm0 36h1v1h-1zm0 13h1v1h-1zm0 29h1v1h-1zm0 192h1v1h-1zm0 24h1v1h-1zm0 11h1v2h-1zm0 20h1v1h-1zm0 8h1v1h-1zm0 5h1v1h-1zm0 7h1v1h-1zm0 3h1v1h-1zm0 3h1v1h-1zm1 -361h1v1h-1zm0 83h1v1h-1zm0 7h1v1h-1zm0 4h1v1h-1zm0 23h1v1h-1zm0 6h1v1h-1zm0 6h1v1h-1zm0 13h1v1h-1zm0 121h1v1h-1zm0 46h1v1h-1zm1 -319h1v1h-1zm0 13h1v1h-1zm0 15h1v1h-1zm0 12h1v1h-1zm0 20h1v1h-1zm0 18h1v2h-1zm0 18h1v1h-1zm0 4h1v1h-1zm0 16h1v1h-1zm0 51h1v1h-1zm0 40h1v1h-1zm0 20h1v1h-1zm0 11h1v2h-1zm0 28h1v1h-1zm0 12h1v1h-1zm0 5h1v1h-1zm0 24h1v1h-1zm0 7h1v1h-1zm0 3h1v1h-1zm0 8h1v1h-1zm0 7h1v1h-1zm0 40h1v1h-1zm1 -369h1v1h-1zm0 48h1v1h-1zm0 23h1v1h-1zm0 23h1v1h-1zm0 9h1v1h-1zm0 126h1v1h-1zm0 13h1v1h-1zm0 13h1v1h-1zm0 36h1v1h-1zm0 50h1v1h-1zm0 11h1v1h-1zm0 6h1v1h-1zm1 -297h1v1h-1zm0 48h1v1h-1zm0 14h1v1h-1zm0 49h1v1h-1zm0 22h1v1h-1zm0 6h1v1h-1zm0 5h1v1h-1zm0 31h1v1h-1zm0 90h1v1h-1zm1 -291h1v1h-1zm0 13h1v1h-1zm0 84h1v1h-1zm0 3h1v1h-1zm0 10h1v1h-1zm0 19h1v1h-1zm0 4h1v1h-1zm0 74h1v1h-1zm0 16h1v1h-1zm0 15h1v1h-1zm0 12h1v1h-1zm0 23h1v1h-1zm0 50h1v1h-1zm1 -360h1v1h-1zm0 5h1v1h-1zm0 101h1v1h-1zm0 2h1v1h-1zm0 17h1v1h-1zm0 2h1v1h-1zm0 12h1v1h-1zm0 8h1v1h-1zm0 32h1v1h-1zm0 11h1v1h-1zm0 43h1v1h-1zm0 23h1v1h-1zm0 72h1v1h-1zm1 -327h1v1h-1zm0 146h1v1h-1zm0 38h1v2h-1zm0 5h1v1h-1zm0 57h1v1h-1zm0 60h1v1h-1zm0 14h1v1h-1zm0 38h1v1h-1zm0 6h1v1h-1zm1 -337h1v1h-1zm0 4h1v1h-1zm0 57h1v1h-1zm0 49h1v1h-1zm0 10h1v1h-1zm0 4h1v1h-1zm0 15h1v1h-1zm0 28h1v1h-1zm0 9h1v1h-1zm0 4h1v1h-1zm0 27h1v1h-1zm0 26h1v1h-1zm0 10h1v1h-1zm0 12h1v1h-1zm0 31h1v1h-1zm0 26h1v1h-1zm0 19h1v1h-1zm1 -271h1v1h-1zm0 9h1v1h-1zm0 6h1v1h-1zm0 17h1v1h-1zm0 99h1v1h-1zm0 17h1v1h-1zm0 27h1v1h-1zm0 97h1v1h-1zm0 21h1v1h-1zm1 -383h1v1h-1zm0 114h1v1h-1zm0 12h1v1h-1zm0 4h1v1h-1zm0 26h1v1h-1zm0 32h1v1h-1zm0 8h1v1h-1zm0 4h1v1h-1zm0 3h1v1h-1zm0 32h1v1h-1zm0 10h1v1h-1zm0 27h1v1h-1zm0 17h1v1h-1zm0 25h1v1h-1zm0 48h1v1h-1zm1 -330h1v1h-1zm0 8h1v1h-1zm0 44h1v1h-1zm0 30h1v1h-1zm0 16h1v1h-1zm0 20h1v1h-1zm0 64h1v1h-1zm0 6h1v1h-1zm0 41h1v1h-1zm0 14h1v1h-1zm0 10h1v1h-1zm0 3h1v1h-1zm0 8h1v1h-1zm0 22h1v1h-1zm0 15h1v1h-1zm0 12h1v1h-1zm0 8h1v1h-1zm1 -325h1v1h-1zm0 21h1v1h-1zm0 9h1v1h-1zm0 9h1v1h-1zm0 23h1v1h-1zm0 98h1v1h-1zm0 100h1v1h-1zm0 15h1v1h-1zm0 9h1v1h-1zm0 21h1v1h-1zm0 7h1v1h-1zm0 3h1v3h-1zm1 -330h1v1h-1zm0 19h1v1h-1zm0 20h1v1h-1zm0 103h1v1h-1zm0 31h1v1h-1zm0 14h1v1h-1zm0 16h1v1h-1zm0 48h1v1h-1zm0 30h1v1h-1zm0 51h1v2h-1zm0 22h1v1h-1zm1 -319h1v1h-1zm0 48h1v1h-1zm0 35h1v1h-1zm0 64h1v1h-1zm0 98h1v1h-1zm0 13h1v1h-1zm0 63h1v1h-1zm1 -364h1v1h-1zm0 18h1v1h-1zm0 10h1v1h-1zm0 8h1v1h-1zm0 35h1v1h-1zm0 27h1v1h-1zm0 7h1v1h-1zm0 4h1v1h-1zm0 22h1v1h-1zm0 11h1v1h-1zm0 55h1v2h-1zm0 25h1v1h-1zm0 33h1v1h-1zm0 5h1v1h-1zm0 8h1v1h-1zm0 2h1v1h-1zm0 44h1v1h-1zm0 35h1v1h-1zm0 6h1v1h-1zm0 16h1v1h-1zm1 -374h1v1h-1zm0 7h1v1h-1zm0 32h1v1h-1zm0 2h1v1h-1zm0 50h1v1h-1zm0 12h1v1h-1zm0 12h1v1h-1zm0 57h1v1h-1zm0 7h1v1h-1zm0 66h1v1h-1zm0 42h1v1h-1zm0 37h1v1h-1zm1 -325h1v1h-1zm0 40h1v1h-1zm0 8h1v1h-1zm0 5h1v1h-1zm0 23h1v1h-1zm0 8h1v1h-1zm0 5h1v1h-1zm0 12h1v1h-1zm0 17h1v1h-1zm0 38h1v1h-1zm0 52h1v1h-1zm0 19h1v1h-1zm0 4h1v1h-1zm0 12h1v1h-1zm0 26h1v1h-1zm0 3h1v1h-1zm0 19h1v1h-1zm0 3h1v1h-1zm0 53h1v1h-1zm1 -341h1v1h-1zm0 29h1v1h-1zm0 72h1v1h-1zm0 44h1v1h-1zm0 14h1v1h-1zm0 10h1v1h-1zm0 56h1v1h-1zm0 44h1v1h-1zm0 8h1v1h-1zm1 -285h1v1h-1zm0 7h1v1h-1zm0 9h1v1h-1zm0 28h1v1h-1zm0 40h1v1h-1zm0 8h1v1h-1zm0 2h1v1h-1zm0 26h1v1h-1zm0 50h1v1h-1zm0 30h1v2h-1zm0 5h1v1h-1zm0 22h1v1h-1zm0 18h1v1h-1zm0 49h1v1h-1zm0 13h1v1h-1zm0 63h1v1h-1zm1 -350h1v1h-1zm0 62h1v1h-1zm0 119h1v1h-1zm0 6h1v2h-1zm0 33h1v1h-1zm0 25h1v1h-1zm0 50h1v1h-1zm0 13h1v1h-1zm0 23h1v1h-1zm0 4h1v1h-1zm0 11h1v1h-1zm0 2h1v1h-1zm1 -364h1v1h-1zm0 43h1v1h-1zm0 20h1v1h-1zm0 48h1v1h-1zm0 26h1v1h-1zm0 5h1v1h-1zm0 134h1v1h-1zm0 91h1v1h-1zm1 -312h1v1h-1zm0 22h1v1h-1zm0 25h1v1h-1zm0 14h1v1h-1zm0 187h1v1h-1zm0 9h1v1h-1zm0 34h1v2h-1zm0 25h1v1h-1zm1 -346h1v1h-1zm0 2h1v1h-1zm0 13h1v1h-1zm0 32h1v1h-1zm0 34h1v1h-1zm0 67h1v1h-1zm0 54h1v1h-1zm0 37h1v2h-1zm0 14h1v1h-1zm0 17h1v1h-1zm0 2h1v1h-1zm0 10h1v1h-1zm0 14h1v1h-1zm1 -317h1v1h-1zm0 11h1v1h-1zm0 4h1v1h-1zm0 76h1v1h-1zm0 32h1v1h-1zm0 6h1v1h-1zm0 20h1v1h-1zm0 79h1v1h-1zm0 13h1v1h-1zm0 9h1v1h-1zm0 42h1v1h-1zm1 -276h1v1h-1zm0 24h1v1h-1zm0 38h1v1h-1zm0 16h1v1h-1zm0 13h1v1h-1zm0 4h1v1h-1zm0 59h1v1h-1zm0 8h1v1h-1zm0 9h1v1h-1zm0 23h1v1h-1zm0 11h1v2h-1zm0 17h1v1h-1zm0 108h1v1h-1zm0 10h1v1h-1zm1 -258h1v1h-1zm0 24h1v1h-1zm0 7h1v1h-1zm0 19h1v1h-1zm0 46h1v1h-1zm0 43h1v1h-1zm0 2h1v1h-1zm0 3h1v1h-1zm0 33h1v1h-1zm0 5h1v1h-1zm0 37h1v1h-1zm0 14h1v1h-1zm0 25h1v1h-1zm1 -337h1v1h-1zm0 83h1v1h-1zm0 11h1v1h-1zm0 64h1v1h-1zm0 6h1v1h-1zm0 14h1v1h-1zm0 27h1v1h-1zm0 9h1v1h-1zm0 3h1v1h-1zm0 74h1v1h-1zm0 7h1v1h-1zm0 38h1v1h-1zm1 -355h1v1h-1zm0 3h1v1h-1zm0 23h1v1h-1zm0 22h1v1h-1zm0 61h1v1h-1zm0 27h1v1h-1zm0 90h1v1h-1zm0 41h1v1h-1zm0 2h1v1h-1zm0 8h1v1h-1zm0 24h1v1h-1zm1 -301h1v1h-1zm0 9h1v1h-1zm0 20h1v1h-1zm0 32h1v1h-1zm0 16h1v1h-1zm0 4h1v1h-1zm0 10h1v1h-1zm0 36h1v1h-1zm0 35h1v1h-1zm0 33h1v1h-1zm0 22h1v1h-1zm0 4h1v2h-1zm0 3h1v1h-1zm0 2h1v1h-1zm0 18h1v1h-1zm0 12h1v1h-1zm0 9h1v1h-1zm0 21h1v1h-1zm0 8h1v1h-1zm0 27h1v2h-1zm0 3h1v2h-1zm0 9h1v1h-1zm1 -333h1v1h-1zm0 25h1v1h-1zm0 32h1v1h-1zm0 36h1v1h-1zm0 60h1v1h-1zm0 51h1v1h-1zm0 11h1v1h-1zm0 42h1v1h-1zm0 8h1v1h-1zm0 2h1v1h-1zm0 30h1v1h-1zm0 35h1v1h-1zm1 -303h1v1h-1zm0 5h1v1h-1zm0 106h1v1h-1zm0 43h1v2h-1zm0 6h1v1h-1zm0 4h1v1h-1zm0 23h1v1h-1zm0 12h1v1h-1zm0 15h1v1h-1zm0 10h1v1h-1zm0 38h1v1h-1zm0 2h1v1h-1zm0 19h1v1h-1zm0 18h1v1h-1zm0 6h1v1h-1zm0 12h1v1h-1zm1 -322h1v1h-1zm0 8h1v1h-1zm0 15h1v1h-1zm0 10h1v1h-1zm0 59h1v1h-1zm0 7h1v2h-1zm0 3h1v1h-1zm0 54h1v1h-1zm0 22h1v2h-1zm0 43h1v1h-1zm0 48h1v1h-1zm0 7h1v1h-1zm0 32h1v1h-1zm0 10h1v1h-1zm0 10h1v1h-1zm0 2h1v1h-1zm0 3h1v1h-1zm0 3h1v1h-1zm0 2h1v1h-1zm0 4h1v1h-1zm1 -358h1v1h-1zm0 36h1v1h-1zm0 35h1v1h-1zm0 13h1v1h-1zm0 7h1v1h-1zm0 41h1v1h-1zm0 62h1v1h-1zm0 12h1v1h-1zm0 107h1v1h-1zm0 2h1v1h-1zm1 -327h1v1h-1zm0 17h1v1h-1zm0 61h1v1h-1zm0 28h1v1h-1zm0 4h1v1h-1zm0 22h1v1h-1zm0 7h1v1h-1zm0 41h1v1h-1zm0 14h1v2h-1zm0 70h1v1h-1zm0 8h1v1h-1zm0 14h1v1h-1zm0 5h1v1h-1zm0 3h1v1h-1zm0 34h1v1h-1zm1 -325h1v1h-1zm0 90h1v1h-1zm0 9h1v1h-1zm0 12h1v1h-1zm0 12h1v1h-1zm0 22h1v1h-1zm0 8h1v1h-1zm0 103h1v1h-1zm0 13h1v1h-1zm0 7h1v1h-1zm0 17h1v1h-1zm1 -288h1v1h-1zm0 32h1v1h-1zm0 9h1v1h-1zm0 52h1v1h-1zm0 3h1v1h-1zm0 38h1v1h-1zm0 59h1v1h-1zm0 85h1v1h-1zm0 19h1v1h-1zm0 10h1v1h-1zm0 42h1v2h-1zm0 13h1v1h-1zm1 -278h1v1h-1zm0 22h1v1h-1zm0 57h1v1h-1zm0 87h1v1h-1zm0 31h1v1h-1zm0 30h1v1h-1zm0 24h1v1h-1zm0 7h1v1h-1zm1 -349h1v1h-1zm0 25h1v1h-1zm0 10h1v1h-1zm0 5h1v1h-1zm0 15h1v1h-1zm0 27h1v1h-1zm0 2h1v1h-1zm0 37h1v1h-1zm0 15h1v1h-1zm0 2h1v1h-1zm0 14h1v1h-1zm0 4h1v1h-1zm0 11h1v1h-1zm0 13h1v2h-1zm0 50h1v1h-1zm0 33h1v1h-1zm0 4h1v1h-1zm0 25h1v1h-1zm0 22h1v1h-1zm0 13h1v1h-1zm0 11h1v1h-1zm0 20h1v1h-1zm0 3h1v2h-1zm0 4h1v1h-1zm1 -372h1v1h-1zm0 25h1v1h-1zm0 11h1v1h-1zm0 12h1v1h-1zm0 2h1v1h-1zm0 29h1v1h-1zm0 11h1v1h-1zm0 2h1v2h-1zm0 4h1v2h-1zm0 9h1v1h-1zm0 18h1v1h-1zm0 8h1v1h-1zm0 18h1v1h-1zm0 29h1v1h-1zm0 8h1v1h-1zm0 44h1v1h-1zm0 24h1v1h-1zm0 19h1v1h-1zm0 6h1v1h-1zm0 4h1v1h-1zm0 10h1v1h-1zm0 8h1v1h-1zm0 5h1v1h-1zm0 7h1v1h-1zm0 8h1v2h-1zm0 9h1v1h-1zm0 24h1v1h-1zm0 15h1v2h-1zm0 4h1v1h-1zm0 5h1v2h-1zm1 -370h1v1h-1zm0 57h1v1h-1zm0 28h1v1h-1zm0 21h1v1h-1zm0 31h1v1h-1zm0 197h1v1h-1zm0 10h1v1h-1zm0 8h1v1h-1zm0 6h1v1h-1zm1 -345h1v1h-1zm0 29h1v1h-1zm0 11h1v1h-1zm0 70h1v1h-1zm0 12h1v1h-1zm0 123h1v1h-1zm0 57h1v1h-1zm0 44h1v1h-1zm0 3h1v3h-1zm1 -362h1v1h-1zm0 19h1v1h-1zm0 42h1v1h-1zm0 3h1v1h-1zm0 3h1v1h-1zm0 32h1v1h-1zm0 8h1v1h-1zm0 29h1v1h-1zm0 72h1v1h-1zm0 2h1v1h-1zm0 11h1v1h-1zm0 35h1v1h-1zm0 18h1v1h-1zm1 -261h1v1h-1zm0 17h1v1h-1zm0 58h1v1h-1zm0 17h1v1h-1zm1 -110h1v1h-1zm0 14h1v1h-1zm0 23h1v1h-1zm0 23h1v1h-1zm0 52h1v1h-1zm0 82h1v1h-1zm0 30h1v1h-1zm0 62h1v1h-1zm0 68h1v1h-1zm0 20h1v1h-1zm1 -320h1v1h-1zm0 9h1v1h-1zm0 24h1v1h-1zm0 39h1v1h-1zm0 22h1v1h-1zm0 16h1v1h-1zm0 2h1v1h-1zm0 9h1v1h-1zm0 15h1v1h-1zm0 5h1v1h-1zm0 48h1v1h-1zm0 14h1v1h-1zm0 88h1v1h-1zm1 -340h1v1h-1zm0 72h1v1h-1zm0 16h1v1h-1zm0 77h1v1h-1zm0 35h1v1h-1zm0 47h1v1h-1zm0 26h1v1h-1zm0 44h1v1h-1zm1 -318h1v1h-1zm0 41h1v1h-1zm0 19h1v1h-1zm0 13h1v1h-1zm0 40h1v2h-1zm0 55h1v1h-1zm0 5h1v1h-1zm0 10h1v1h-1zm0 7h1v1h-1zm0 40h1v1h-1zm0 14h1v1h-1zm0 16h1v1h-1zm0 24h1v1h-1zm0 32h1v1h-1zm0 37h1v1h-1zm0 13h1v1h-1zm1 -365h1v1h-1zm0 66h1v1h-1zm0 2h1v1h-1zm0 20h1v1h-1zm0 12h1v1h-1zm0 10h1v1h-1zm0 5h1v1h-1zm0 8h1v1h-1zm0 78h1v1h-1zm0 26h1v1h-1zm0 32h1v1h-1zm0 22h1v1h-1zm0 24h1v1h-1zm0 17h1v1h-1zm1 -327h1v1h-1zm0 14h1v1h-1zm0 8h1v1h-1zm0 14h1v2h-1zm0 18h1v1h-1zm0 36h1v1h-1zm0 20h1v1h-1zm0 18h1v1h-1zm0 7h1v1h-1zm0 5h1v1h-1zm0 3h1v1h-1zm0 7h1v1h-1zm0 48h1v1h-1zm0 9h1v1h-1zm0 30h1v1h-1zm0 4h1v1h-1zm0 6h1v1h-1zm0 27h1v1h-1zm0 2h1v1h-1zm0 4h1v1h-1zm0 48h1v1h-1zm0 15h1v1h-1zm0 14h1v1h-1zm0 3h1v1h-1zm1 -358h1v1h-1zm0 56h1v1h-1zm0 78h1v1h-1zm0 8h1v1h-1zm0 17h1v1h-1zm0 8h1v1h-1zm0 11h1v1h-1zm0 163h1v1h-1zm0 22h1v1h-1zm1 -333h1v1h-1zm0 8h1v1h-1zm0 11h1v1h-1zm0 52h1v1h-1zm0 2h1v1h-1zm0 4h1v1h-1zm0 4h1v1h-1zm0 63h1v1h-1zm0 19h1v1h-1zm0 82h1v1h-1zm0 17h1v1h-1zm0 18h1v3h-1zm0 47h1v1h-1zm0 9h1v1h-1zm1 -359h1v1h-1zm0 26h1v1h-1zm0 21h1v1h-1zm0 66h1v1h-1zm0 16h1v1h-1zm0 19h1v1h-1zm0 12h1v1h-1zm0 22h1v1h-1zm0 35h1v1h-1zm0 6h1v1h-1zm0 39h1v1h-1zm0 97h1v1h-1zm1 -346h1v1h-1zm0 35h1v1h-1zm0 40h1v1h-1zm0 38h1v1h-1zm0 26h1v1h-1zm0 15h1v1h-1zm0 11h1v1h-1zm0 11h1v1h-1zm0 78h1v1h-1zm0 36h1v1h-1zm0 34h1v1h-1zm0 4h1v1h-1zm0 13h1v1h-1zm0 3h1v1h-1zm1 -325h1v1h-1zm0 74h1v1h-1zm0 16h1v1h-1zm0 37h1v1h-1zm0 4h1v1h-1zm0 7h1v1h-1zm0 21h1v1h-1zm0 8h1v1h-1zm0 55h1v1h-1zm0 16h1v1h-1zm0 45h1v1h-1zm1 -262h1v1h-1zm0 29h1v1h-1zm0 31h1v2h-1zm0 16h1v1h-1zm0 4h1v1h-1zm0 69h1v1h-1zm0 46h1v1h-1zm0 19h1v1h-1zm0 10h1v1h-1zm0 46h1v1h-1zm0 4h1v1h-1zm0 18h1v1h-1zm0 16h1v1h-1zm1 -371h1v1h-1zm0 113h1v1h-1zm0 39h1v1h-1zm0 17h1v1h-1zm0 112h1v1h-1zm0 6h1v1h-1zm0 58h1v1h-1zm0 18h1v1h-1zm1 -238h1v1h-1zm0 92h1v1h-1zm0 58h1v1h-1zm0 96h1v1h-1zm1 -372h1v1h-1zm0 33h1v1h-1zm0 13h1v1h-1zm0 4h1v1h-1zm0 68h1v1h-1zm0 22h1v1h-1zm0 6h1v1h-1zm0 2h1v1h-1zm0 45h1v1h-1zm0 8h1v1h-1zm0 56h1v1h-1zm0 72h1v1h-1zm1 -320h1v2h-1zm0 100h1v1h-1zm0 18h1v1h-1zm0 20h1v1h-1zm0 3h1v1h-1zm0 32h1v1h-1zm0 28h1v1h-1zm0 8h1v1h-1zm0 13h1v1h-1zm0 29h1v1h-1zm0 16h1v1h-1zm0 66h1v1h-1zm0 6h1v1h-1zm1 -339h1v1h-1zm0 8h1v1h-1zm0 3h1v1h-1zm0 65h1v1h-1zm0 26h1v1h-1zm0 3h1v1h-1zm0 39h1v1h-1zm0 31h1v1h-1zm0 7h1v1h-1zm0 29h1v1h-1zm0 16h1v1h-1zm0 55h1v1h-1zm0 49h1v1h-1zm0 4h1v1h-1zm1 -244h1v1h-1zm0 66h1v1h-1zm0 110h1v1h-1zm0 92h1v2h-1zm1 -298h1v1h-1zm0 18h1v1h-1zm0 65h1v1h-1zm0 77h1v1h-1zm0 19h1v1h-1zm0 11h1v1h-1zm0 75h1v1h-1zm0 27h1v1h-1zm1 -323h1v1h-1zm0 30h1v1h-1zm0 8h1v1h-1zm0 16h1v1h-1zm0 5h1v1h-1zm0 61h1v1h-1zm0 6h1v1h-1zm0 55h1v1h-1zm0 52h1v1h-1zm0 56h1v1h-1zm1 -295h1v1h-1zm0 14h1v1h-1zm0 20h1v1h-1zm0 43h1v1h-1zm0 40h1v1h-1zm0 67h1v1h-1zm0 22h1v2h-1zm0 37h1v1h-1zm0 21h1v1h-1zm0 58h1v1h-1zm1 -355h1v1h-1zm0 53h1v1h-1zm0 27h1v1h-1zm0 23h1v1h-1zm0 4h1v1h-1zm0 33h1v1h-1zm0 27h1v1h-1zm0 76h1v1h-1zm0 22h1v1h-1zm0 4h1v1h-1zm0 4h1v1h-1zm0 21h1v1h-1zm0 3h1v1h-1zm0 32h1v1h-1zm0 7h1v1h-1zm0 39h1v1h-1zm1 -359h1v1h-1zm0 4h1v1h-1zm0 3h1v1h-1zm0 6h1v1h-1zm0 29h1v2h-1zm0 12h1v1h-1zm0 28h1v1h-1zm0 16h1v1h-1zm0 19h1v1h-1zm0 39h1v1h-1zm0 16h1v1h-1zm0 32h1v1h-1zm0 5h1v1h-1zm0 13h1v1h-1zm0 21h1v1h-1zm0 10h1v1h-1zm0 13h1v1h-1zm0 95h1v1h-1zm0 5h1v1h-1zm1 -310h1v1h-1zm0 21h1v1h-1zm0 17h1v1h-1zm0 18h1v1h-1zm0 8h1v1h-1zm0 25h1v1h-1zm0 20h1v1h-1zm0 4h1v1h-1zm0 41h1v1h-1zm0 41h1v1h-1zm0 19h1v1h-1zm0 47h1v1h-1zm0 29h1v1h-1zm1 -303h1v1h-1zm0 41h1v1h-1zm0 52h1v1h-1zm0 46h1v1h-1zm0 58h1v1h-1zm1 -248h1v1h-1zm0 10h1v1h-1zm0 139h1v1h-1zm0 38h1v1h-1zm0 8h1v1h-1zm0 29h1v1h-1zm0 38h1v1h-1zm0 23h1v1h-1zm0 77h1v1h-1zm1 -367h1v1h-1zm0 13h1v1h-1zm0 13h1v1h-1zm0 19h1v1h-1zm0 13h1v1h-1zm0 4h1v1h-1zm0 61h1v1h-1zm0 39h1v1h-1zm0 2h1v1h-1zm0 17h1v1h-1zm0 24h1v1h-1zm0 16h1v1h-1zm0 7h1v1h-1zm0 21h1v1h-1zm0 7h1v1h-1zm0 3h1v1h-1zm0 29h1v1h-1zm0 25h1v1h-1zm0 14h1v1h-1zm0 38h1v1h-1zm1 -355h1v1h-1zm0 80h1v1h-1zm0 11h1v1h-1zm0 92h1v1h-1zm0 37h1v1h-1zm0 126h1v1h-1zm0 6h1v1h-1zm0 5h1v2h-1zm0 3h1v1h-1zm1 -348h1v1h-1zm0 107h1v1h-1zm0 26h1v1h-1zm0 37h1v1h-1zm0 17h1v1h-1zm0 58h1v1h-1zm0 4h1v1h-1zm0 4h1v1h-1zm0 10h1v1h-1zm0 5h1v1h-1zm0 11h1v1h-1zm0 39h1v1h-1zm0 12h1v1h-1zm0 3h1v1h-1zm1 -334h1v1h-1zm0 3h1v1h-1zm0 14h1v1h-1zm0 42h1v1h-1zm0 3h1v1h-1zm0 8h1v2h-1zm0 49h1v2h-1zm0 6h1v1h-1zm0 11h1v1h-1zm0 3h1v1h-1zm0 16h1v1h-1zm0 12h1v1h-1zm0 49h1v1h-1zm0 48h1v1h-1zm0 14h1v1h-1zm0 2h1v1h-1zm0 17h1v1h-1zm0 46h1v1h-1zm1 -355h1v1h-1zm0 3h1v1h-1zm0 32h1v1h-1zm0 12h1v1h-1zm0 11h1v1h-1zm0 9h1v1h-1zm0 3h1v1h-1zm0 15h1v1h-1zm0 3h1v1h-1zm0 6h1v1h-1zm0 42h1v1h-1zm0 20h1v1h-1zm0 161h1v1h-1zm0 3h1v1h-1zm0 38h1v1h-1zm1 -322h1v1h-1zm0 40h1v1h-1zm0 40h1v1h-1zm0 11h1v1h-1zm0 21h1v1h-1zm0 5h1v1h-1zm0 10h1v1h-1zm0 3h1v1h-1zm0 9h1v1h-1zm0 24h1v1h-1zm0 44h1v1h-1zm0 35h1v1h-1zm0 3h1v1h-1zm0 5h1v1h-1zm1 -248h1v1h-1zm0 17h1v1h-1zm0 26h1v1h-1zm0 10h1v1h-1zm0 43h1v1h-1zm0 104h1v1h-1zm0 28h1v1h-1zm0 2h1v1h-1zm0 2h1v1h-1zm0 18h1v1h-1zm0 68h1v1h-1zm0 3h1v1h-1zm1 -362h1v1h-1zm0 40h1v1h-1zm0 2h1v1h-1zm0 58h1v1h-1zm0 25h1v1h-1zm0 6h1v1h-1zm0 59h1v1h-1zm0 73h1v1h-1zm0 74h1v1h-1zm1 -313h1v1h-1zm0 7h1v1h-1zm0 48h1v1h-1zm0 9h1v1h-1zm0 142h1v1h-1zm0 51h1v1h-1zm0 21h1v1h-1zm0 15h1v1h-1zm1 -301h1v1h-1zm0 6h1v1h-1zm0 6h1v1h-1zm0 26h1v1h-1zm0 11h1v1h-1zm0 5h1v1h-1zm0 6h1v1h-1zm0 35h1v1h-1zm0 15h1v1h-1zm0 42h1v1h-1zm0 5h1v1h-1zm0 5h1v1h-1zm0 14h1v1h-1zm0 5h1v1h-1zm0 20h1v1h-1zm0 8h1v1h-1zm0 19h1v1h-1zm0 2h1v1h-1zm0 8h1v1h-1zm0 9h1v1h-1zm0 15h1v1h-1zm0 24h1v1h-1zm0 15h1v1h-1zm0 26h1v1h-1zm1 -351h1v1h-1zm0 84h1v1h-1zm0 75h1v1h-1zm0 28h1v1h-1zm0 28h1v1h-1zm0 61h1v1h-1zm0 2h1v1h-1zm0 7h1v1h-1zm0 20h1v1h-1zm0 16h1v1h-1zm0 15h1v1h-1zm0 29h1v1h-1zm1 -322h1v1h-1zm0 10h1v1h-1zm0 17h1v1h-1zm0 4h1v1h-1zm0 24h1v1h-1zm0 3h1v1h-1zm0 30h1v1h-1zm0 32h1v2h-1zm0 5h1v1h-1zm0 6h1v1h-1zm0 12h1v1h-1zm0 17h1v1h-1zm0 13h1v1h-1zm0 43h1v1h-1zm0 33h1v1h-1zm0 8h1v1h-1zm0 52h1v1h-1zm1 -346h1v1h-1zm0 4h1v1h-1zm0 10h1v1h-1zm0 21h1v1h-1zm0 43h1v1h-1zm0 51h1v1h-1zm0 24h1v1h-1zm0 22h1v1h-1zm0 21h1v1h-1zm0 12h1v1h-1zm0 25h1v1h-1zm0 11h1v1h-1zm0 34h1v1h-1zm0 12h1v1h-1zm0 12h1v1h-1zm0 16h1v1h-1zm0 7h1v1h-1zm0 7h1v1h-1zm0 10h1v1h-1zm0 11h1v1h-1zm0 6h1v1h-1zm0 11h1v1h-1zm2 -373h1v1h-1zm0 43h1v1h-1zm0 45h1v1h-1zm0 21h1v1h-1zm0 129h1v1h-1zm0 32h1v1h-1zm0 44h1v1h-1zm0 41h1v1h-1zm2 -333h1v1h-1zm0 49h1v1h-1zm0 6h1v1h-1zm0 22h1v1h-1zm0 39h1v1h-1zm0 17h1v1h-1zm0 9h1v1h-1zm0 38h1v1h-1zm0 14h1v1h-1zm0 29h1v1h-1zm0 4h1v1h-1zm0 27h1v1h-1zm0 3h1v1h-1zm0 39h1v1h-1zm0 6h1v1h-1zm0 10h1v1h-1zm0 23h1v1h-1zm0 13h1v1h-1zm2 -336h1v1h-1zm0 6h1v1h-1zm0 4h1v1h-1zm0 82h1v1h-1zm0 100h1v1h-1zm0 5h1v1h-1zm0 8h1v1h-1zm0 26h1v1h-1zm0 9h1v1h-1zm0 53h1v1h-1zm0 30h1v1h-1zm2 -324h1v1h-1zm0 7h1v1h-1zm0 3h1v1h-1zm0 19h1v1h-1zm0 180h1v1h-1zm0 32h1v1h-1zm0 23h1v1h-1zm0 8h1v1h-1zm0 37h1v1h-1zm0 2h1v1h-1zm2 -307h1v1h-1zm0 60h1v1h-1zm0 98h1v1h-1zm0 44h1v1h-1zm0 26h1v1h-1zm0 55h1v1h-1zm0 22h1v1h-1zm2 -344h1v1h-1zm0 110h1v2h-1zm0 10h1v1h-1zm0 23h1v1h-1zm0 3h1v1h-1zm0 7h1v1h-1zm0 9h1v1h-1zm0 2h1v1h-1zm0 56h1v2h-1zm0 9h1v1h-1zm0 3h1v1h-1zm0 14h1v1h-1zm0 27h1v1h-1zm0 11h1v2h-1zm0 9h1v1h-1zm0 13h1v1h-1zm2 -238h1v1h-1zm0 11h1v1h-1zm0 14h1v1h-1zm0 54h1v1h-1zm0 2h1v1h-1zm0 72h1v1h-1zm0 38h1v1h-1zm0 7h1v1h-1zm0 10h1v1h-1zm0 51h1v1h-1zm0 8h1v1h-1zm0 3h1v1h-1zm5 -286h1v1h-1zm0 74h1v2h-1zm0 4h1v1h-1zm0 53h1v1h-1zm0 20h1v1h-1zm0 44h1v1h-1zm0 32h1v1h-1zm5 -282h1v1h-1zm0 14h1v1h-1zm0 25h1v1h-1zm0 91h1v1h-1zm0 3h1v1h-1zm0 16h1v1h-1zm0 67h1v1h-1zm0 20h1v2h-1zm0 8h1v1h-1zm0 4h1v1h-1zm0 14h1v1h-1zm0 35h1v1h-1zm0 9h1v1h-1zm0 2h1v1h-1zm0 49h1v1h-1zm5 -354h1v1h-1zm0 23h1v1h-1zm0 49h1v1h-1zm0 13h1v1h-1zm0 2h1v1h-1zm0 9h1v1h-1zm0 5h1v1h-1zm0 20h1v1h-1zm0 63h1v1h-1zm0 63h1v1h-1zm0 59h1v1h-1zm0 71h1v1h-1zm5 -363h1v1h-1zm0 31h1v1h-1zm0 32h1v1h-1zm0 41h1v1h-1zm0 4h1v1h-1zm0 53h1v1h-1zm0 50h1v1h-1zm0 17h1v1h-1zm0 21h1v1h-1zm0 39h1v1h-1zm0 36h1v1h-1zm5 -329h1v1h-1zm0 174h1v1h-1zm0 49h1v1h-1zm0 24h1v1h-1zm0 18h1v1h-1zm0 9h1v1h-1zm0 65h1v2h-1zm5 -320h1v1h-1zm0 127h1v1h-1zm0 21h1v2h-1zm0 153h1v1h-1zm0 5h1v1h-1z"/><path fill="#472a7a" d="M4 11h1v1h-1zm0 130h1v1h-1zm0 120h1v1h-1zm0 21h1v1h-1zm0 60h1v1h-1zm1 -339h1v1h-1zm0 145h1v1h-1zm0 65h1v1h-1zm0 45h1v1h-1zm0 101h1v1h-1zm1 -307h1v2h-1zm0 9h1v1h-1zm0 2h1v1h-1zm0 6h1v1h-1zm0 65h1v2h-1zm0 24h1v1h-1zm0 7h1v1h-1zm0 15h1v1h-1zm0 28h1v1h-1zm0 30h1v1h-1zm0 39h1v1h-1zm0 22h1v2h-1zm0 21h1v1h-1zm0 8h1v1h-1zm0 20h1v1h-1zm1 -348h1v1h-1zm0 104h1v1h-1zm0 42h1v1h-1zm0 16h1v1h-1zm0 41h1v1h-1zm0 19h1v1h-1zm0 5h1v1h-1zm0 12h1v1h-1zm0 29h1v2h-1zm0 36h1v1h-1zm0 22h1v1h-1zm0 31h1v1h-1zm1 -337h1v1h-1zm0 136h1v1h-1zm0 7h1v1h-1zm0 6h1v1h-1zm0 10h1v2h-1zm0 97h1v1h-1zm0 48h1v1h-1zm0 3h1v1h-1zm0 40h1v1h-1zm0 9h1v1h-1zm1 -375h1v1h-1zm0 25h1v1h-1zm0 7h1v1h-1zm0 7h1v1h-1zm0 37h1v1h-1zm0 30h1v1h-1zm0 35h1v1h-1zm0 15h1v1h-1zm0 6h1v1h-1zm0 24h1v1h-1zm0 9h1v1h-1zm0 69h1v1h-1zm0 26h1v1h-1zm0 4h1v1h-1zm0 30h1v1h-1zm0 7h1v1h-1zm0 19h1v1h-1zm1 -305h1v1h-1zm0 54h1v1h-1zm0 25h1v1h-1zm0 13h1v1h-1zm0 35h1v1h-1zm0 30h1v1h-1zm0 15h1v1h-1zm0 13h1v1h-1zm0 131h1v1h-1zm1 -316h1v1h-1zm0 49h1v1h-1zm0 5h1v1h-1zm0 21h1v1h-1zm0 11h1v1h-1zm0 5h1v1h-1zm0 6h1v1h-1zm0 84h1v1h-1zm0 10h1v1h-1zm0 6h1v1h-1zm0 2h1v1h-1zm0 34h1v1h-1zm0 14h1v1h-1zm0 69h1v1h-1zm0 27h1v1h-1zm1 -366h1v1h-1zm0 12h1v1h-1zm0 23h1v1h-1zm0 14h1v1h-1zm0 30h1v1h-1zm0 45h1v1h-1zm0 25h1v1h-1zm0 9h1v1h-1zm0 48h1v1h-1zm0 9h1v1h-1zm0 3h1v1h-1zm0 81h1v1h-1zm0 44h1v1h-1zm0 7h1v1h-1zm1 -369h1v1h-1zm0 39h1v1h-1zm0 9h1v1h-1zm0 15h1v1h-1zm0 57h1v1h-1zm0 63h1v1h-1zm0 11h1v1h-1zm0 30h1v1h-1zm0 44h1v1h-1zm0 2h1v1h-1zm0 46h1v1h-1zm0 5h1v1h-1zm1 -235h1v1h-1zm0 46h1v1h-1zm0 16h1v1h-1zm0 48h1v1h-1zm0 72h1v1h-1zm0 98h1v1h-1zm1 -356h1v1h-1zm0 3h1v1h-1zm0 13h1v1h-1zm0 7h1v1h-1zm0 18h1v1h-1zm0 4h1v1h-1zm0 48h1v1h-1zm0 46h1v1h-1zm0 28h1v1h-1zm0 31h1v2h-1zm0 8h1v1h-1zm0 35h1v2h-1zm0 59h1v1h-1zm0 6h1v1h-1zm0 8h1v1h-1zm1 -326h1v1h-1zm0 67h1v1h-1zm0 2h1v1h-1zm0 27h1v1h-1zm0 49h1v1h-1zm0 16h1v1h-1zm0 29h1v1h-1zm0 2h1v1h-1zm0 90h1v1h-1zm0 41h1v1h-1zm1 -320h1v1h-1zm0 21h1v1h-1zm0 49h1v1h-1zm0 2h1v1h-1zm0 52h1v1h-1zm0 39h1v1h-1zm0 2h1v1h-1zm0 28h1v1h-1zm0 3h1v1h-1zm0 77h1v1h-1zm0 11h1v1h-1zm0 30h1v1h-1zm0 35h1v1h-1zm0 4h1v1h-1zm0 14h1v1h-1zm1 -314h1v1h-1zm0 12h1v2h-1zm0 9h1v1h-1zm0 117h1v1h-1zm0 36h1v1h-1zm0 21h1v1h-1zm0 14h1v1h-1zm0 3h1v1h-1zm0 10h1v1h-1zm0 4h1v1h-1zm0 68h1v1h-1zm0 13h1v1h-1zm1 -337h1v1h-1zm0 6h1v1h-1zm0 41h1v1h-1zm0 32h1v1h-1zm0 55h1v1h-1zm0 29h1v1h-1zm0 7h1v1h-1zm0 22h1v1h-1zm0 68h1v1h-1zm1 -283h1v1h-1zm0 49h1v1h-1zm0 14h1v1h-1zm0 22h1v1h-1zm0 20h1v1h-1zm0 16h1v1h-1zm0 52h1v1h-1zm0 12h1v1h-1zm0 68h1v1h-1zm1 -201h1v1h-1zm0 12h1v1h-1zm0 3h1v1h-1zm0 72h1v1h-1zm0 48h1v1h-1zm0 11h1v1h-1zm0 79h1v1h-1zm0 47h1v1h-1zm1 -246h1v1h-1zm0 92h1v1h-1zm0 8h1v1h-1zm0 2h1v1h-1zm0 20h1v1h-1zm0 87h1v1h-1zm0 18h1v1h-1zm0 17h1v1h-1zm0 11h1v1h-1zm0 10h1v1h-1zm1 -335h1v1h-1zm0 2h1v1h-1zm0 26h1v1h-1zm0 4h1v1h-1zm0 21h1v1h-1zm0 4h1v1h-1zm0 35h1v2h-1zm0 25h1v1h-1zm0 28h1v1h-1zm0 16h1v1h-1zm0 20h1v1h-1zm0 22h1v1h-1zm0 19h1v1h-1zm0 38h1v1h-1zm0 2h1v1h-1zm0 24h1v1h-1zm0 59h1v1h-1zm1 -347h1v1h-1zm0 96h1v1h-1zm0 62h1v1h-1zm0 49h1v1h-1zm0 66h1v1h-1zm0 17h1v1h-1zm0 27h1v1h-1zm0 46h1v1h-1zm1 -341h1v1h-1zm0 33h1v1h-1zm0 45h1v1h-1zm0 43h1v1h-1zm0 33h1v1h-1zm0 22h1v1h-1zm0 39h1v1h-1zm0 3h1v1h-1zm0 112h1v2h-1zm0 13h1v1h-1zm0 4h1v1h-1zm1 -379h1v1h-1zm0 30h1v1h-1zm0 41h1v1h-1zm0 127h1v1h-1zm0 8h1v1h-1zm0 41h1v1h-1zm0 45h1v1h-1zm0 72h1v1h-1zm0 6h1v1h-1zm1 -318h1v1h-1zm0 49h1v1h-1zm0 42h1v1h-1zm0 62h1v1h-1zm0 6h1v1h-1zm0 10h1v1h-1zm0 12h1v1h-1zm0 24h1v1h-1zm0 15h1v1h-1zm0 49h1v2h-1zm0 16h1v1h-1zm1 -306h1v1h-1zm0 90h1v1h-1zm0 48h1v1h-1zm0 70h1v1h-1zm0 46h1v1h-1zm0 82h1v1h-1zm1 -347h1v1h-1zm0 106h1v1h-1zm0 9h1v1h-1zm0 7h1v1h-1zm0 83h1v1h-1zm0 16h1v1h-1zm0 81h1v1h-1zm0 4h1v1h-1zm1 -319h1v1h-1zm0 3h1v1h-1zm0 20h1v1h-1zm0 17h1v1h-1zm0 90h1v1h-1zm0 13h1v1h-1zm0 52h1v1h-1zm0 9h1v1h-1zm0 46h1v1h-1zm0 3h1v1h-1zm0 50h1v1h-1zm0 27h1v1h-1zm0 9h1v2h-1zm0 3h1v1h-1zm0 7h1v1h-1zm0 20h1v1h-1zm1 -376h1v1h-1zm0 36h1v1h-1zm0 19h1v1h-1zm0 28h1v1h-1zm0 76h1v1h-1zm0 51h1v1h-1zm0 15h1v1h-1zm0 5h1v1h-1zm0 10h1v1h-1zm0 13h1v1h-1zm0 43h1v1h-1zm0 40h1v1h-1zm0 13h1v1h-1zm0 32h1v1h-1zm1 -293h1v1h-1zm0 71h1v1h-1zm0 11h1v1h-1zm0 33h1v1h-1zm0 25h1v1h-1zm0 70h1v1h-1zm0 7h1v1h-1zm0 16h1v1h-1zm0 37h1v1h-1zm0 9h1v1h-1zm0 5h1v1h-1zm1 -332h1v1h-1zm0 28h1v1h-1zm0 30h1v1h-1zm0 28h1v1h-1zm0 49h1v1h-1zm0 76h1v1h-1zm0 24h1v1h-1zm0 29h1v1h-1zm0 32h1v1h-1zm1 -289h1v1h-1zm0 5h1v1h-1zm0 40h1v1h-1zm0 30h1v1h-1zm0 18h1v1h-1zm0 49h1v1h-1zm0 23h1v1h-1zm0 5h1v1h-1zm0 24h1v1h-1zm0 30h1v1h-1zm0 13h1v1h-1zm1 -275h1v1h-1zm0 8h1v1h-1zm0 201h1v1h-1zm0 20h1v1h-1zm0 27h1v1h-1zm0 13h1v1h-1zm0 70h1v1h-1zm0 23h1v1h-1zm0 3h1v1h-1zm1 -363h1v1h-1zm0 2h1v1h-1zm0 5h1v1h-1zm0 20h1v1h-1zm0 5h1v1h-1zm0 19h1v1h-1zm0 19h1v2h-1zm0 89h1v1h-1zm0 35h1v1h-1zm0 43h1v1h-1zm0 8h1v1h-1zm0 2h1v1h-1zm0 3h1v1h-1zm0 7h1v1h-1zm0 14h1v1h-1zm0 5h1v1h-1zm0 7h1v1h-1zm0 11h1v1h-1zm0 5h1v1h-1zm0 2h1v1h-1zm0 39h1v1h-1zm1 -348h1v1h-1zm0 167h1v1h-1zm0 83h1v1h-1zm0 33h1v1h-1zm0 9h1v1h-1zm0 35h1v1h-1zm0 44h1v1h-1zm0 2h1v1h-1zm1 -288h1v1h-1zm0 30h1v1h-1zm0 13h1v1h-1zm0 34h1v1h-1zm0 6h1v1h-1zm0 49h1v1h-1zm0 6h1v1h-1zm0 49h1v1h-1zm0 8h1v1h-1zm0 18h1v1h-1zm0 20h1v1h-1zm0 48h1v1h-1zm1 -361h1v1h-1zm0 20h1v1h-1zm0 21h1v1h-1zm0 36h1v1h-1zm0 14h1v1h-1zm0 62h1v1h-1zm0 31h1v1h-1zm0 2h1v1h-1zm0 46h1v1h-1zm0 10h1v1h-1zm0 2h1v1h-1zm0 8h1v1h-1zm0 19h1v1h-1zm0 31h1v1h-1zm0 15h1v1h-1zm0 2h1v1h-1zm0 9h1v1h-1zm0 18h1v1h-1zm1 -350h1v1h-1zm0 16h1v1h-1zm0 9h1v1h-1zm0 4h1v1h-1zm0 8h1v1h-1zm0 66h1v1h-1zm0 13h1v1h-1zm0 40h1v1h-1zm0 84h1v1h-1zm0 30h1v1h-1zm0 31h1v1h-1zm0 4h1v1h-1zm0 2h1v1h-1zm0 56h1v1h-1zm1 -360h1v1h-1zm0 41h1v1h-1zm0 10h1v2h-1zm0 18h1v2h-1zm0 8h1v1h-1zm0 14h1v1h-1zm0 7h1v1h-1zm0 76h1v1h-1zm0 6h1v1h-1zm0 4h1v1h-1zm0 3h1v1h-1zm0 11h1v1h-1zm0 9h1v1h-1zm0 9h1v1h-1zm0 29h1v1h-1zm0 2h1v1h-1zm0 41h1v1h-1zm0 22h1v1h-1zm0 31h1v1h-1zm1 -299h1v1h-1zm0 26h1v2h-1zm0 10h1v2h-1zm0 33h1v1h-1zm0 34h1v1h-1zm0 52h1v1h-1zm1 -192h1v1h-1zm0 40h1v1h-1zm0 90h1v1h-1zm0 39h1v1h-1zm0 8h1v1h-1zm0 58h1v1h-1zm0 71h1v1h-1zm0 8h1v1h-1zm0 38h1v1h-1zm1 -336h1v1h-1zm0 93h1v1h-1zm0 49h1v1h-1zm0 42h1v1h-1zm0 24h1v1h-1zm0 96h1v1h-1zm0 29h1v1h-1zm1 -361h1v1h-1zm0 17h1v1h-1zm0 65h1v1h-1zm0 25h1v1h-1zm0 79h1v1h-1zm0 8h1v1h-1zm0 35h1v1h-1zm0 72h1v1h-1zm0 38h1v1h-1zm0 30h1v1h-1zm1 -260h1v1h-1zm0 14h1v1h-1zm0 37h1v1h-1zm0 50h1v1h-1zm0 16h1v1h-1zm0 81h1v1h-1zm0 20h1v1h-1zm0 29h1v1h-1zm0 4h1v1h-1zm0 6h1v2h-1zm1 -347h1v1h-1zm0 93h1v1h-1zm0 46h1v1h-1zm0 39h1v1h-1zm0 13h1v1h-1zm0 15h1v1h-1zm0 6h1v2h-1zm0 8h1v1h-1zm0 23h1v1h-1zm0 24h1v1h-1zm0 50h1v1h-1zm1 -285h1v1h-1zm0 22h1v1h-1zm0 13h1v1h-1zm0 10h1v1h-1zm0 48h1v1h-1zm0 50h1v1h-1zm0 34h1v1h-1zm0 10h1v1h-1zm0 5h1v1h-1zm0 39h1v1h-1zm0 48h1v1h-1zm0 38h1v1h-1zm1 -331h1v1h-1zm0 22h1v1h-1zm0 32h1v1h-1zm0 51h1v1h-1zm0 69h1v1h-1zm0 17h1v1h-1zm0 6h1v1h-1zm0 27h1v1h-1zm0 34h1v1h-1zm0 35h1v1h-1zm0 43h1v1h-1zm1 -364h1v1h-1zm0 4h1v1h-1zm0 12h1v1h-1zm0 38h1v1h-1zm0 21h1v1h-1zm0 8h1v1h-1zm0 24h1v2h-1zm0 29h1v1h-1zm0 65h1v1h-1zm0 63h1v1h-1zm0 8h1v1h-1zm0 50h1v1h-1zm0 30h1v1h-1zm0 10h1v1h-1zm1 -284h1v1h-1zm0 5h1v1h-1zm0 16h1v1h-1zm0 11h1v1h-1zm0 61h1v1h-1zm0 4h1v1h-1zm0 11h1v1h-1zm0 119h1v1h-1zm0 44h1v1h-1zm0 3h1v1h-1zm0 4h1v1h-1zm0 4h1v1h-1zm0 7h1v1h-1zm1 -355h1v1h-1zm0 13h1v1h-1zm0 29h1v1h-1zm0 89h1v1h-1zm0 95h1v1h-1zm0 11h1v1h-1zm0 19h1v1h-1zm1 -223h1v1h-1zm0 12h1v1h-1zm0 12h1v1h-1zm0 21h1v1h-1zm0 108h1v1h-1zm0 17h1v1h-1zm0 6h1v1h-1zm0 4h1v1h-1zm0 12h1v1h-1zm0 86h1v1h-1zm0 9h1v1h-1zm0 6h1v1h-1zm0 29h1v1h-1zm1 -375h1v1h-1zm0 2h1v1h-1zm0 57h1v2h-1zm0 87h1v1h-1zm0 42h1v1h-1zm0 107h1v1h-1zm0 5h1v1h-1zm1 -210h1v2h-1zm0 10h1v1h-1zm0 114h1v1h-1zm0 30h1v1h-1zm0 2h1v1h-1zm0 10h1v1h-1zm0 27h1v1h-1zm0 32h1v1h-1zm0 33h1v1h-1zm0 14h1v1h-1zm1 -343h1v1h-1zm0 22h1v1h-1zm0 14h1v1h-1zm0 9h1v1h-1zm0 42h1v1h-1zm0 21h1v1h-1zm0 108h1v1h-1zm0 119h1v1h-1zm1 -327h1v1h-1zm0 72h1v1h-1zm0 5h1v1h-1zm0 2h1v1h-1zm0 16h1v1h-1zm0 5h1v1h-1zm0 64h1v1h-1zm0 2h1v1h-1zm0 25h1v1h-1zm0 7h1v1h-1zm0 31h1v1h-1zm0 48h1v1h-1zm1 -269h1v1h-1zm0 26h1v1h-1zm0 16h1v1h-1zm0 8h1v1h-1zm0 141h1v1h-1zm0 12h1v1h-1zm0 22h1v1h-1zm0 18h1v1h-1zm0 2h1v1h-1zm0 11h1v1h-1zm0 21h1v1h-1zm0 2h1v1h-1zm0 58h1v1h-1zm1 -373h1v1h-1zm0 2h1v1h-1zm0 50h1v1h-1zm0 3h1v1h-1zm0 3h1v1h-1zm0 13h1v1h-1zm0 4h1v1h-1zm0 31h1v1h-1zm0 12h1v2h-1zm0 14h1v1h-1zm0 4h1v1h-1zm0 32h1v1h-1zm0 10h1v1h-1zm0 39h1v1h-1zm0 3h1v1h-1zm0 5h1v1h-1zm0 14h1v1h-1zm0 27h1v1h-1zm0 22h1v1h-1zm0 28h1v2h-1zm0 20h1v1h-1zm0 4h1v1h-1zm0 7h1v1h-1zm1 -348h1v1h-1zm0 76h1v1h-1zm0 14h1v1h-1zm0 38h1v1h-1zm0 12h1v1h-1zm0 43h1v2h-1zm0 8h1v1h-1zm0 104h1v1h-1zm0 10h1v1h-1zm0 31h1v1h-1zm0 19h1v1h-1zm1 -335h1v1h-1zm0 3h1v1h-1zm0 149h1v2h-1zm0 17h1v1h-1zm0 4h1v1h-1zm0 11h1v1h-1zm0 52h1v1h-1zm0 4h1v1h-1zm0 28h1v1h-1zm0 68h1v1h-1zm1 -326h1v1h-1zm0 63h1v1h-1zm0 31h1v1h-1zm0 5h1v1h-1zm0 25h1v1h-1zm0 10h1v1h-1zm0 7h1v1h-1zm0 25h1v1h-1zm0 17h1v1h-1zm0 33h1v1h-1zm0 71h1v2h-1zm1 -303h1v1h-1zm0 61h1v1h-1zm0 92h1v1h-1zm0 113h1v1h-1zm0 64h1v1h-1zm1 -224h1v1h-1zm0 49h1v1h-1zm0 99h1v1h-1zm0 22h1v1h-1zm0 5h1v1h-1zm0 34h1v1h-1zm0 39h1v1h-1zm0 4h1v1h-1zm1 -314h1v1h-1zm0 3h1v1h-1zm0 24h1v1h-1zm0 47h1v1h-1zm0 5h1v1h-1zm0 16h1v1h-1zm0 27h1v1h-1zm0 14h1v1h-1zm0 117h1v1h-1zm0 8h1v1h-1zm0 38h1v1h-1zm0 13h1v1h-1zm1 -362h1v1h-1zm0 15h1v1h-1zm0 17h1v1h-1zm0 9h1v1h-1zm0 7h1v1h-1zm0 19h1v1h-1zm0 25h1v1h-1zm0 21h1v1h-1zm0 12h1v1h-1zm0 19h1v1h-1zm0 9h1v1h-1zm0 29h1v1h-1zm0 46h1v1h-1zm0 25h1v1h-1zm0 8h1v1h-1zm0 8h1v1h-1zm0 4h1v1h-1zm0 6h1v1h-1zm0 69h1v1h-1zm0 21h1v1h-1zm1 -375h1v1h-1zm0 13h1v1h-1zm0 5h1v1h-1zm0 7h1v1h-1zm0 27h1v1h-1zm0 18h1v1h-1zm0 8h1v1h-1zm0 42h1v1h-1zm0 10h1v1h-1zm0 4h1v1h-1zm0 18h1v2h-1zm0 8h1v1h-1zm0 42h1v2h-1zm0 48h1v1h-1zm0 17h1v1h-1zm0 8h1v1h-1zm0 22h1v1h-1zm0 28h1v1h-1zm0 11h1v1h-1zm1 -162h1v1h-1zm0 160h1v1h-1zm0 11h1v1h-1zm1 -346h1v1h-1zm0 10h1v1h-1zm0 32h1v1h-1zm0 29h1v1h-1zm0 6h1v1h-1zm0 97h1v1h-1zm0 45h1v1h-1zm0 73h1v1h-1zm1 -276h1v1h-1zm0 7h1v1h-1zm0 35h1v1h-1zm0 32h1v1h-1zm0 14h1v1h-1zm0 123h1v1h-1zm0 17h1v2h-1zm0 26h1v1h-1zm1 -119h1v1h-1zm0 3h1v1h-1zm0 88h1v1h-1zm0 97h1v1h-1zm0 33h1v2h-1zm1 -366h1v1h-1zm0 31h1v1h-1zm0 46h1v1h-1zm0 14h1v1h-1zm0 32h1v1h-1zm0 3h1v1h-1zm0 66h1v1h-1zm0 65h1v1h-1zm0 52h1v1h-1zm0 39h1v1h-1zm1 -299h1v1h-1zm0 56h1v1h-1zm0 6h1v1h-1zm0 43h1v2h-1zm0 42h1v1h-1zm0 51h1v1h-1zm0 43h1v1h-1zm0 16h1v1h-1zm0 32h1v1h-1zm1 -262h1v1h-1zm0 109h1v1h-1zm0 37h1v1h-1zm0 7h1v1h-1zm0 122h1v1h-1zm0 11h1v1h-1zm0 6h1v1h-1zm1 -374h1v1h-1zm0 9h1v2h-1zm0 23h1v1h-1zm0 13h1v1h-1zm0 138h1v1h-1zm0 7h1v1h-1zm0 9h1v1h-1zm0 18h1v1h-1zm0 16h1v1h-1zm0 74h1v1h-1zm0 8h1v1h-1zm0 22h1v1h-1zm1 -303h1v1h-1zm0 17h1v1h-1zm0 136h1v1h-1zm0 123h1v1h-1zm0 5h1v1h-1zm1 -293h1v1h-1zm0 24h1v1h-1zm0 21h1v1h-1zm0 59h1v1h-1zm0 10h1v1h-1zm0 15h1v1h-1zm0 103h1v1h-1zm0 69h1v1h-1zm0 3h1v1h-1zm0 44h1v1h-1zm1 -317h1v1h-1zm0 3h1v1h-1zm0 46h1v1h-1zm0 35h1v1h-1zm0 77h1v1h-1zm0 52h1v1h-1zm0 17h1v1h-1zm0 16h1v1h-1zm0 20h1v1h-1zm0 19h1v1h-1zm1 -271h1v1h-1zm0 14h1v1h-1zm0 37h1v1h-1zm0 5h1v1h-1zm0 17h1v1h-1zm0 18h1v1h-1zm0 37h1v2h-1zm0 93h1v1h-1zm0 19h1v1h-1zm0 41h1v1h-1zm1 -345h1v1h-1zm0 22h1v1h-1zm0 7h1v1h-1zm0 7h1v2h-1zm0 29h1v1h-1zm0 15h1v1h-1zm0 37h1v1h-1zm0 23h1v1h-1zm0 12h1v1h-1zm0 25h1v1h-1zm0 30h1v1h-1zm0 2h1v1h-1zm0 53h1v1h-1zm0 26h1v1h-1zm0 19h1v1h-1zm0 11h1v1h-1zm0 4h1v1h-1zm0 5h1v1h-1zm1 -316h1v1h-1zm0 83h1v1h-1zm0 19h1v1h-1zm0 2h1v1h-1zm0 36h1v1h-1zm0 55h1v1h-1zm0 20h1v1h-1zm0 7h1v1h-1zm0 50h1v1h-1zm0 15h1v1h-1zm0 24h1v1h-1zm0 16h1v1h-1zm0 22h1v1h-1zm1 -342h1v2h-1zm0 14h1v1h-1zm0 6h1v1h-1zm0 149h1v1h-1zm0 6h1v1h-1zm0 61h1v1h-1zm0 98h1v1h-1zm1 -342h1v1h-1zm0 191h1v1h-1zm0 43h1v1h-1zm0 10h1v1h-1zm0 80h1v1h-1zm0 16h1v1h-1zm0 16h1v1h-1zm1 -344h1v1h-1zm0 3h1v1h-1zm0 26h1v1h-1zm0 14h1v1h-1zm0 61h1v1h-1zm0 34h1v1h-1zm0 14h1v1h-1zm0 7h1v1h-1zm0 17h1v1h-1zm0 15h1v1h-1zm0 32h1v1h-1zm0 52h1v1h-1zm0 27h1v1h-1zm0 15h1v1h-1zm1 -322h1v1h-1zm0 128h1v1h-1zm0 36h1v1h-1zm0 22h1v1h-1zm0 5h1v1h-1zm0 61h1v1h-1zm0 53h1v1h-1zm0 45h1v1h-1zm1 -347h1v1h-1zm0 3h1v1h-1zm0 52h1v1h-1zm0 4h1v1h-1zm0 32h1v2h-1zm0 74h1v1h-1zm0 8h1v1h-1zm0 19h1v1h-1zm0 112h1v2h-1zm0 10h1v1h-1zm0 8h1v1h-1zm1 -328h1v1h-1zm0 24h1v1h-1zm0 21h1v1h-1zm0 17h1v1h-1zm0 50h1v1h-1zm0 20h1v1h-1zm0 16h1v1h-1zm0 9h1v1h-1zm0 32h1v1h-1zm0 71h1v1h-1zm0 13h1v1h-1zm0 9h1v1h-1zm0 3h1v1h-1zm0 3h1v1h-1zm0 65h1v1h-1zm1 -339h1v1h-1zm0 47h1v1h-1zm0 46h1v1h-1zm0 20h1v1h-1zm0 18h1v1h-1zm0 16h1v1h-1zm0 28h1v1h-1zm0 61h1v1h-1zm0 9h1v1h-1zm0 14h1v1h-1zm0 11h1v1h-1zm1 -257h1v1h-1zm0 40h1v1h-1zm0 231h1v1h-1zm0 22h1v1h-1zm0 12h1v1h-1zm1 -320h1v1h-1zm0 52h1v1h-1zm0 3h1v1h-1zm0 14h1v1h-1zm0 48h1v1h-1zm0 28h1v1h-1zm0 30h1v1h-1zm0 5h1v1h-1zm0 81h1v1h-1zm0 24h1v1h-1zm0 28h1v1h-1zm0 22h1v1h-1zm0 9h1v1h-1zm1 -370h1v1h-1zm0 29h1v1h-1zm0 41h1v1h-1zm0 33h1v1h-1zm0 9h1v1h-1zm0 5h1v1h-1zm0 12h1v1h-1zm0 47h1v1h-1zm0 16h1v1h-1zm0 16h1v1h-1zm0 27h1v1h-1zm0 93h1v1h-1zm0 34h1v1h-1zm0 8h1v1h-1zm1 -338h1v1h-1zm0 6h1v1h-1zm0 40h1v1h-1zm0 24h1v1h-1zm0 38h1v1h-1zm0 222h1v1h-1zm1 -352h1v1h-1zm0 21h1v1h-1zm0 12h1v1h-1zm0 22h1v1h-1zm0 10h1v1h-1zm0 50h1v1h-1zm0 31h1v1h-1zm0 9h1v1h-1zm0 34h1v1h-1zm1 -164h1v1h-1zm0 56h1v1h-1zm0 10h1v1h-1zm0 34h1v1h-1zm0 29h1v1h-1zm0 8h1v1h-1zm0 29h1v1h-1zm0 7h1v1h-1zm0 79h1v1h-1zm0 24h1v1h-1zm0 8h1v1h-1zm0 23h1v1h-1zm1 -345h1v1h-1zm0 31h1v1h-1zm0 5h1v1h-1zm0 127h1v1h-1zm0 16h1v1h-1zm0 31h1v1h-1zm0 33h1v1h-1zm0 5h1v1h-1zm0 50h1v1h-1zm0 19h1v1h-1zm0 42h1v1h-1zm0 4h1v1h-1zm0 11h1v1h-1zm1 -343h1v1h-1zm0 8h1v1h-1zm0 12h1v1h-1zm0 63h1v1h-1zm0 10h1v1h-1zm0 72h1v1h-1zm0 104h1v1h-1zm0 12h1v1h-1zm0 33h1v1h-1zm1 -299h1v1h-1zm0 2h1v1h-1zm0 42h1v1h-1zm0 70h1v1h-1zm0 44h1v1h-1zm0 73h1v2h-1zm0 38h1v1h-1zm1 -300h1v1h-1zm0 13h1v1h-1zm0 68h1v1h-1zm0 16h1v1h-1zm0 42h1v1h-1zm0 18h1v1h-1zm0 19h1v1h-1zm0 6h1v1h-1zm0 40h1v1h-1zm0 19h1v1h-1zm0 76h1v1h-1zm0 3h1v1h-1zm0 7h1v1h-1zm0 9h1v1h-1zm0 8h1v1h-1zm0 17h1v1h-1zm1 -309h1v1h-1zm0 25h1v1h-1zm0 80h1v1h-1zm0 19h1v1h-1zm0 79h1v1h-1zm0 40h1v1h-1zm0 17h1v1h-1zm0 35h1v2h-1zm0 6h1v1h-1zm1 -353h1v1h-1zm0 140h1v1h-1zm0 16h1v1h-1zm0 53h1v1h-1zm0 135h1v1h-1zm1 -300h1v1h-1zm0 198h1v1h-1zm0 17h1v1h-1zm0 26h1v1h-1zm0 33h1v1h-1zm0 36h1v1h-1zm0 4h1v1h-1zm1 -285h1v1h-1zm0 15h1v1h-1zm0 17h1v1h-1zm0 34h1v1h-1zm0 32h1v1h-1zm0 47h1v2h-1zm0 18h1v1h-1zm0 14h1v1h-1zm1 -236h1v1h-1zm0 56h1v1h-1zm0 52h1v1h-1zm0 200h1v1h-1zm0 11h1v1h-1zm0 5h1v1h-1zm1 -341h1v1h-1zm0 24h1v1h-1zm0 15h1v2h-1zm0 11h1v1h-1zm0 10h1v1h-1zm0 14h1v1h-1zm0 39h1v1h-1zm0 10h1v1h-1zm0 29h1v1h-1zm0 38h1v1h-1zm0 2h1v1h-1zm0 14h1v1h-1zm0 13h1v1h-1zm0 46h1v1h-1zm0 34h1v1h-1zm1 -284h1v1h-1zm0 85h1v1h-1zm0 30h1v1h-1zm0 79h1v1h-1zm0 16h1v1h-1zm0 19h1v1h-1zm0 11h1v1h-1zm0 2h1v1h-1zm0 21h1v1h-1zm0 39h1v1h-1zm0 18h1v1h-1zm1 -304h1v1h-1zm0 14h1v1h-1zm0 71h1v1h-1zm0 23h1v1h-1zm0 65h1v1h-1zm0 13h1v1h-1zm0 35h1v1h-1zm0 43h1v1h-1zm1 -283h1v1h-1zm0 22h1v1h-1zm0 10h1v1h-1zm0 9h1v1h-1zm0 13h1v1h-1zm0 19h1v1h-1zm0 3h1v1h-1zm0 29h1v1h-1zm0 27h1v1h-1zm0 93h1v1h-1zm0 2h1v1h-1zm0 7h1v1h-1zm0 70h1v1h-1zm1 -221h1v1h-1zm0 122h1v1h-1zm0 68h1v1h-1zm0 19h1v1h-1zm0 45h1v1h-1zm1 -352h1v1h-1zm0 129h1v1h-1zm0 41h1v1h-1zm0 30h1v1h-1zm0 9h1v1h-1zm0 2h1v1h-1zm0 13h1v1h-1zm0 31h1v1h-1zm0 69h1v1h-1zm0 4h1v1h-1zm0 2h1v1h-1zm0 18h1v1h-1zm1 -332h1v1h-1zm0 92h1v1h-1zm0 91h1v1h-1zm0 3h1v2h-1zm0 14h1v2h-1zm0 39h1v1h-1zm0 38h1v1h-1zm0 24h1v1h-1zm0 33h1v1h-1zm0 2h1v1h-1zm2 -317h1v1h-1zm0 16h1v1h-1zm0 59h1v1h-1zm0 69h1v1h-1zm0 117h1v1h-1zm0 11h1v1h-1zm0 52h1v1h-1zm0 8h1v1h-1zm2 -353h1v1h-1zm0 26h1v1h-1zm0 21h1v1h-1zm0 58h1v1h-1zm0 38h1v1h-1zm0 111h1v1h-1zm0 27h1v1h-1zm0 39h1v1h-1zm0 9h1v1h-1zm0 11h1v1h-1zm2 -345h1v1h-1zm0 69h1v1h-1zm0 49h1v1h-1zm0 41h1v1h-1zm0 28h1v1h-1zm0 8h1v1h-1zm0 46h1v1h-1zm0 29h1v1h-1zm0 36h1v1h-1zm2 -312h1v1h-1zm0 17h1v1h-1zm0 60h1v1h-1zm0 84h1v1h-1zm0 21h1v1h-1zm0 80h1v1h-1zm0 61h1v1h-1zm0 8h1v1h-1zm0 10h1v1h-1zm0 7h1v1h-1zm2 -216h1v1h-1zm0 24h1v1h-1zm0 7h1v1h-1zm0 25h1v2h-1zm2 -182h1v1h-1zm0 10h1v1h-1zm0 35h1v1h-1zm0 15h1v1h-1zm0 109h1v1h-1zm0 187h1v1h-1zm2 -239h1v1h-1zm0 17h1v1h-1zm0 25h1v1h-1zm0 76h1v1h-1zm0 65h1v1h-1zm0 20h1v1h-1zm5 -334h1v1h-1zm0 77h1v1h-1zm0 30h1v1h-1zm0 190h1v1h-1zm0 57h1v1h-1zm0 23h1v1h-1zm5 -378h1v1h-1zm0 48h1v1h-1zm0 39h1v1h-1zm0 16h1v1h-1zm0 69h1v1h-1zm0 119h1v1h-1zm0 49h1v2h-1zm0 37h1v1h-1zm0 4h1v1h-1zm5 -370h1v1h-1zm0 55h1v1h-1zm0 8h1v1h-1zm0 47h1v1h-1zm0 61h1v1h-1zm0 93h1v1h-1zm0 12h1v1h-1zm0 7h1v1h-1zm5 -138h1v1h-1zm0 3h1v1h-1zm0 47h1v1h-1zm0 76h1v1h-1zm0 4h1v1h-1zm0 30h1v1h-1zm0 39h1v1h-1zm5 -314h1v1h-1zm0 10h1v1h-1zm0 9h1v1h-1zm0 55h1v1h-1zm0 13h1v1h-1zm0 29h1v1h-1zm0 47h1v1h-1zm0 13h1v1h-1zm0 128h1v1h-1zm0 8h1v1h-1zm5 -317h1v1h-1zm0 18h1v1h-1zm0 112h1v1h-1zm0 67h1v1h-1zm0 5h1v1h-1zm0 74h1v1h-1z"/><path fill="#472f7d" d="M4 223h1v1h-1zm1 -214h1v1h-1zm0 3h1v1h-1zm0 83h1v1h-1zm0 146h1v1h-1zm0 3h1v1h-1zm0 3h1v1h-1zm0 49h1v1h-1zm0 33h1v1h-1zm1 -311h1v1h-1zm0 85h1v1h-1zm0 39h1v1h-1zm0 22h1v1h-1zm0 9h1v1h-1zm0 54h1v1h-1zm0 28h1v1h-1zm0 10h1v1h-1zm0 47h1v1h-1zm1 -262h1v1h-1zm0 75h1v1h-1zm0 81h1v1h-1zm0 102h1v1h-1zm0 42h1v1h-1zm1 -336h1v1h-1zm0 3h1v1h-1zm0 18h1v1h-1zm0 9h1v1h-1zm0 14h1v1h-1zm0 8h1v1h-1zm0 81h1v1h-1zm0 8h1v1h-1zm0 30h1v1h-1zm0 62h1v1h-1zm0 32h1v1h-1zm0 9h1v1h-1zm0 28h1v1h-1zm0 15h1v1h-1zm0 24h1v1h-1zm1 -314h1v1h-1zm0 28h1v1h-1zm0 3h1v2h-1zm0 64h1v1h-1zm0 41h1v1h-1zm0 95h1v1h-1zm0 25h1v1h-1zm0 57h1v1h-1zm0 16h1v1h-1zm1 -142h1v1h-1zm0 131h1v1h-1zm0 2h1v1h-1zm1 -351h1v1h-1zm0 58h1v1h-1zm0 9h1v1h-1zm0 21h1v1h-1zm0 32h1v1h-1zm0 23h1v1h-1zm0 2h1v1h-1zm0 21h1v1h-1zm0 26h1v1h-1zm0 8h1v1h-1zm0 40h1v1h-1zm0 21h1v1h-1zm0 2h1v1h-1zm0 37h1v1h-1zm0 15h1v1h-1zm0 54h1v2h-1zm0 6h1v1h-1zm1 -301h1v1h-1zm0 60h1v1h-1zm0 13h1v1h-1zm0 47h1v1h-1zm0 90h1v1h-1zm0 52h1v1h-1zm1 -341h1v1h-1zm0 26h1v1h-1zm0 37h1v1h-1zm0 29h1v1h-1zm0 32h1v1h-1zm0 79h1v1h-1zm0 140h1v2h-1zm1 -304h1v1h-1zm0 206h1v1h-1zm0 34h1v1h-1zm0 14h1v1h-1zm1 -290h1v1h-1zm0 13h1v1h-1zm0 5h1v1h-1zm0 6h1v1h-1zm0 16h1v1h-1zm0 47h1v1h-1zm0 9h1v1h-1zm0 44h1v1h-1zm0 26h1v1h-1zm0 24h1v1h-1zm0 52h1v1h-1zm0 51h1v1h-1zm0 65h1v1h-1zm0 6h1v1h-1zm1 -247h1v1h-1zm0 31h1v1h-1zm0 41h1v1h-1zm0 150h1v1h-1zm0 22h1v1h-1zm0 4h1v1h-1zm1 -238h1v1h-1zm0 46h1v1h-1zm0 26h1v1h-1zm0 10h1v1h-1zm0 29h1v1h-1zm0 29h1v1h-1zm0 22h1v1h-1zm0 28h1v1h-1zm1 -309h1v1h-1zm0 95h1v1h-1zm0 28h1v1h-1zm0 7h1v1h-1zm0 88h1v1h-1zm0 30h1v1h-1zm0 95h1v1h-1zm1 -337h1v1h-1zm0 9h1v1h-1zm0 69h1v1h-1zm0 63h1v1h-1zm0 13h1v1h-1zm0 7h1v1h-1zm0 39h1v1h-1zm0 7h1v1h-1zm0 14h1v1h-1zm0 4h1v1h-1zm0 5h1v1h-1zm0 40h1v1h-1zm0 15h1v1h-1zm0 3h1v1h-1zm0 11h1v1h-1zm0 30h1v1h-1zm1 -320h1v1h-1zm0 64h1v1h-1zm0 33h1v1h-1zm0 35h1v1h-1zm0 16h1v1h-1zm0 115h1v1h-1zm0 45h1v1h-1zm0 12h1v1h-1zm1 -272h1v1h-1zm0 23h1v1h-1zm0 45h1v1h-1zm0 120h1v1h-1zm0 32h1v1h-1zm0 32h1v1h-1zm0 38h1v2h-1zm1 -309h1v1h-1zm0 5h1v1h-1zm0 9h1v1h-1zm0 110h1v1h-1zm0 65h1v1h-1zm0 21h1v1h-1zm0 26h1v1h-1zm0 17h1v1h-1zm1 -307h1v1h-1zm0 18h1v1h-1zm0 24h1v1h-1zm0 56h1v1h-1zm0 25h1v1h-1zm0 55h1v1h-1zm0 57h1v1h-1zm0 43h1v1h-1zm0 13h1v1h-1zm0 43h1v2h-1zm0 7h1v1h-1zm1 -226h1v1h-1zm0 32h1v1h-1zm0 12h1v1h-1zm0 6h1v1h-1zm0 50h1v1h-1zm0 154h1v1h-1zm1 -267h1v1h-1zm0 32h1v1h-1zm0 214h1v1h-1zm0 24h1v1h-1zm1 -317h1v1h-1zm0 31h1v1h-1zm0 26h1v1h-1zm0 35h1v1h-1zm0 79h1v1h-1zm0 122h1v1h-1zm1 -336h1v1h-1zm0 14h1v1h-1zm0 52h1v1h-1zm0 5h1v1h-1zm0 24h1v1h-1zm0 42h1v1h-1zm0 12h1v1h-1zm0 71h1v1h-1zm0 26h1v1h-1zm0 23h1v1h-1zm0 79h1v1h-1zm1 -325h1v1h-1zm0 325h1v1h-1zm1 -339h1v1h-1zm0 20h1v1h-1zm0 24h1v1h-1zm0 5h1v1h-1zm0 43h1v1h-1zm0 97h1v1h-1zm0 64h1v1h-1zm0 60h1v1h-1zm1 -258h1v1h-1zm0 11h1v1h-1zm0 3h1v1h-1zm0 15h1v1h-1zm0 12h1v1h-1zm0 20h1v1h-1zm0 63h1v1h-1zm0 36h1v2h-1zm0 22h1v1h-1zm1 -169h1v1h-1zm0 68h1v1h-1zm0 109h1v1h-1zm0 31h1v1h-1zm0 18h1v1h-1zm0 47h1v1h-1zm0 10h1v1h-1zm1 -377h1v1h-1zm0 10h1v1h-1zm0 31h1v1h-1zm0 142h1v1h-1zm0 130h1v1h-1zm0 23h1v1h-1zm1 -315h1v1h-1zm0 67h1v1h-1zm0 64h1v1h-1zm0 41h1v1h-1zm0 2h1v1h-1zm0 16h1v1h-1zm0 116h1v1h-1zm1 -176h1v1h-1zm0 16h1v1h-1zm0 155h1v1h-1zm0 20h1v1h-1zm0 10h1v1h-1zm1 -309h1v1h-1zm0 39h1v1h-1zm0 184h1v1h-1zm0 85h1v1h-1zm1 -341h1v1h-1zm0 44h1v1h-1zm0 7h1v1h-1zm0 110h1v1h-1zm0 40h1v1h-1zm0 158h1v1h-1zm1 -345h1v1h-1zm0 73h1v1h-1zm0 24h1v1h-1zm0 31h1v1h-1zm0 29h1v1h-1zm0 8h1v1h-1zm0 7h1v1h-1zm0 162h1v1h-1zm1 -255h1v1h-1zm0 78h1v1h-1zm0 53h1v1h-1zm0 21h1v1h-1zm0 25h1v1h-1zm0 7h1v1h-1zm0 11h1v1h-1zm0 75h1v1h-1zm1 -371h1v1h-1zm0 118h1v1h-1zm0 9h1v1h-1zm0 44h1v1h-1zm0 11h1v1h-1zm0 20h1v1h-1zm0 20h1v1h-1zm0 39h1v1h-1zm0 49h1v1h-1zm0 30h1v1h-1zm1 -329h1v1h-1zm0 13h1v1h-1zm0 14h1v1h-1zm0 162h1v1h-1zm0 24h1v1h-1zm0 36h1v1h-1zm1 -261h1v1h-1zm0 26h1v1h-1zm0 34h1v1h-1zm0 31h1v1h-1zm0 46h1v1h-1zm0 6h1v1h-1zm0 113h1v1h-1zm0 18h1v1h-1zm0 62h1v1h-1zm0 24h1v1h-1zm1 -351h1v1h-1zm0 256h1v1h-1zm0 80h1v1h-1zm0 24h1v1h-1zm1 -280h1v1h-1zm0 9h1v1h-1zm0 49h1v1h-1zm0 15h1v1h-1zm0 46h1v1h-1zm0 150h1v1h-1zm0 12h1v1h-1zm1 -349h1v1h-1zm0 66h1v1h-1zm0 10h1v1h-1zm0 18h1v1h-1zm0 92h1v1h-1zm0 46h1v1h-1zm0 91h1v1h-1zm1 -329h1v1h-1zm0 30h1v1h-1zm0 29h1v1h-1zm0 3h1v1h-1zm0 57h1v1h-1zm0 5h1v1h-1zm0 25h1v1h-1zm0 2h1v1h-1zm0 34h1v1h-1zm0 15h1v1h-1zm0 25h1v1h-1zm0 43h1v1h-1zm0 19h1v1h-1zm1 -256h1v1h-1zm0 169h1v1h-1zm0 7h1v1h-1zm1 -211h1v1h-1zm0 27h1v1h-1zm0 67h1v1h-1zm0 11h1v1h-1zm0 25h1v1h-1zm0 4h1v2h-1zm0 105h1v1h-1zm1 -228h1v1h-1zm0 67h1v1h-1zm0 27h1v1h-1zm0 68h1v1h-1zm0 16h1v1h-1zm0 154h1v1h-1zm1 -288h1v1h-1zm0 69h1v1h-1zm0 97h1v1h-1zm0 142h1v1h-1zm1 -345h1v1h-1zm0 15h1v1h-1zm0 108h1v1h-1zm0 37h1v2h-1zm0 9h1v1h-1zm0 53h1v1h-1zm0 5h1v1h-1zm0 87h1v1h-1zm0 24h1v1h-1zm1 -292h1v1h-1zm0 86h1v1h-1zm0 2h1v1h-1zm0 55h1v1h-1zm0 35h1v1h-1zm0 34h1v1h-1zm0 38h1v1h-1zm0 42h1v1h-1zm1 -348h1v1h-1zm0 53h1v1h-1zm0 92h1v1h-1zm0 14h1v1h-1zm0 58h1v1h-1zm0 15h1v1h-1zm0 2h1v1h-1zm0 121h1v1h-1zm1 -343h1v1h-1zm0 65h1v1h-1zm0 96h1v1h-1zm0 42h1v1h-1zm0 64h1v1h-1zm0 15h1v1h-1zm0 20h1v1h-1zm0 5h1v1h-1zm0 26h1v1h-1zm1 -286h1v1h-1zm0 120h1v1h-1zm0 165h1v1h-1zm0 7h1v1h-1zm1 -205h1v1h-1zm0 41h1v1h-1zm0 78h1v2h-1zm0 20h1v1h-1zm0 10h1v1h-1zm0 56h1v1h-1zm0 2h1v1h-1zm1 -349h1v1h-1zm0 13h1v1h-1zm0 23h1v1h-1zm0 108h1v1h-1zm0 23h1v1h-1zm0 14h1v1h-1zm0 11h1v1h-1zm0 115h1v1h-1zm1 -327h1v1h-1zm0 23h1v1h-1zm0 23h1v1h-1zm0 2h1v1h-1zm0 2h1v1h-1zm0 11h1v1h-1zm0 5h1v1h-1zm0 31h1v1h-1zm0 28h1v1h-1zm0 26h1v1h-1zm0 11h1v1h-1zm0 16h1v1h-1zm0 59h1v1h-1zm0 2h1v1h-1zm0 84h1v1h-1zm0 36h1v1h-1zm1 -287h1v1h-1zm0 6h1v1h-1zm0 34h1v1h-1zm0 160h1v1h-1zm0 72h1v1h-1zm1 -347h1v1h-1zm0 5h1v1h-1zm0 22h1v1h-1zm0 35h1v1h-1zm0 28h1v1h-1zm0 29h1v1h-1zm0 29h1v1h-1zm0 17h1v1h-1zm0 3h1v1h-1zm0 11h1v1h-1zm0 2h1v1h-1zm0 12h1v1h-1zm0 8h1v1h-1zm0 4h1v1h-1zm0 6h1v2h-1zm0 37h1v1h-1zm0 19h1v1h-1zm0 44h1v1h-1zm0 20h1v1h-1zm0 9h1v1h-1zm0 15h1v1h-1zm0 18h1v1h-1zm1 -334h1v1h-1zm0 3h1v1h-1zm0 68h1v1h-1zm0 8h1v1h-1zm0 60h1v1h-1zm0 40h1v1h-1zm0 18h1v1h-1zm0 37h1v1h-1zm0 26h1v1h-1zm0 5h1v1h-1zm0 19h1v1h-1zm0 46h1v1h-1zm1 -334h1v1h-1zm0 36h1v1h-1zm0 53h1v1h-1zm0 95h1v2h-1zm0 53h1v1h-1zm0 6h1v1h-1zm0 31h1v1h-1zm0 2h1v1h-1zm0 52h1v1h-1zm0 8h1v1h-1zm1 -361h1v1h-1zm0 108h1v1h-1zm0 16h1v2h-1zm0 53h1v1h-1zm0 13h1v1h-1zm0 7h1v1h-1zm0 17h1v1h-1zm0 25h1v1h-1zm0 9h1v1h-1zm0 26h1v2h-1zm0 26h1v1h-1zm0 16h1v1h-1zm1 -260h1v1h-1zm0 82h1v1h-1zm0 123h1v1h-1zm1 -237h1v1h-1zm0 31h1v1h-1zm0 97h1v1h-1zm0 97h1v1h-1zm0 78h1v1h-1zm0 11h1v1h-1zm1 -304h1v1h-1zm0 50h1v1h-1zm0 9h1v1h-1zm0 35h1v1h-1zm0 7h1v1h-1zm0 82h1v1h-1zm0 17h1v1h-1zm1 -231h1v2h-1zm0 23h1v1h-1zm0 46h1v1h-1zm0 12h1v1h-1zm0 11h1v1h-1zm0 18h1v1h-1zm0 10h1v1h-1zm0 13h1v1h-1zm0 31h1v1h-1zm0 18h1v1h-1zm0 22h1v1h-1zm0 53h1v1h-1zm0 12h1v1h-1zm0 13h1v2h-1zm0 3h1v1h-1zm0 54h1v1h-1zm1 -351h1v1h-1zm0 5h1v1h-1zm0 6h1v1h-1zm0 74h1v1h-1zm0 15h1v1h-1zm0 9h1v1h-1zm0 41h1v1h-1zm0 17h1v1h-1zm0 6h1v1h-1zm0 15h1v1h-1zm0 3h1v1h-1zm0 8h1v1h-1zm0 21h1v1h-1zm0 65h1v1h-1zm0 87h1v1h-1zm1 -354h1v1h-1zm0 6h1v1h-1zm0 42h1v1h-1zm0 32h1v1h-1zm0 7h1v1h-1zm0 35h1v1h-1zm0 131h1v1h-1zm0 64h1v1h-1zm0 39h1v1h-1zm1 -244h1v1h-1zm0 145h1v1h-1zm0 23h1v1h-1zm1 -281h1v1h-1zm0 115h1v1h-1zm0 75h1v1h-1zm0 167h1v1h-1zm1 -327h1v1h-1zm0 134h1v1h-1zm0 55h1v1h-1zm0 98h1v1h-1zm0 26h1v1h-1zm0 3h1v1h-1zm0 13h1v1h-1zm1 -99h1v1h-1zm0 83h1v1h-1zm1 -357h1v1h-1zm0 116h1v1h-1zm0 21h1v1h-1zm0 11h1v1h-1zm0 37h1v2h-1zm0 10h1v1h-1zm0 52h1v1h-1zm1 -174h1v1h-1zm0 26h1v1h-1zm0 128h1v1h-1zm0 80h1v1h-1zm0 43h1v1h-1zm0 12h1v1h-1zm0 6h1v1h-1zm1 -315h1v1h-1zm0 52h1v1h-1zm0 138h1v1h-1zm0 99h1v1h-1zm1 -295h1v1h-1zm0 6h1v1h-1zm0 67h1v1h-1zm0 39h1v1h-1zm0 61h1v1h-1zm0 29h1v1h-1zm0 49h1v1h-1zm0 6h1v1h-1zm0 18h1v1h-1zm0 38h1v2h-1zm0 6h1v1h-1zm0 5h1v1h-1zm1 -370h1v1h-1zm0 8h1v1h-1zm0 11h1v1h-1zm0 17h1v1h-1zm0 5h1v1h-1zm0 40h1v1h-1zm0 92h1v1h-1zm1 -108h1v1h-1zm0 29h1v1h-1zm0 78h1v1h-1zm0 26h1v1h-1zm0 42h1v1h-1zm0 89h1v1h-1zm1 -331h1v1h-1zm0 35h1v1h-1zm0 108h1v1h-1zm0 73h1v1h-1zm0 134h1v1h-1zm0 17h1v1h-1zm1 -324h1v1h-1zm0 5h1v1h-1zm0 61h1v1h-1zm0 120h1v1h-1zm0 45h1v1h-1zm0 23h1v1h-1zm0 63h1v1h-1zm1 -364h1v1h-1zm0 69h1v1h-1zm0 19h1v1h-1zm0 8h1v1h-1zm0 90h1v1h-1zm0 36h1v1h-1zm0 6h1v1h-1zm0 108h1v1h-1zm0 17h1v1h-1zm0 11h1v1h-1zm0 8h1v1h-1zm1 -366h1v1h-1zm0 63h1v1h-1zm0 11h1v1h-1zm0 168h1v1h-1zm0 101h1v1h-1zm1 -217h1v1h-1zm0 47h1v1h-1zm0 195h1v1h-1zm1 -371h1v1h-1zm0 49h1v1h-1zm0 33h1v1h-1zm0 127h1v1h-1zm0 37h1v1h-1zm0 20h1v1h-1zm0 62h1v1h-1zm1 -302h1v1h-1zm0 218h1v1h-1zm0 38h1v1h-1zm1 -240h1v1h-1zm0 48h1v1h-1zm0 17h1v1h-1zm0 16h1v1h-1zm0 83h1v1h-1zm0 79h1v1h-1zm1 -215h1v1h-1zm0 7h1v1h-1zm0 41h1v1h-1zm0 40h1v1h-1zm0 31h1v1h-1zm0 44h1v1h-1zm0 3h1v1h-1zm0 102h1v1h-1zm1 -297h1v1h-1zm0 46h1v1h-1zm0 4h1v1h-1zm0 3h1v1h-1zm0 44h1v1h-1zm0 10h1v1h-1zm0 58h1v1h-1zm0 40h1v1h-1zm0 21h1v1h-1zm0 79h1v1h-1zm2 -310h1v1h-1zm0 36h1v1h-1zm0 7h1v1h-1zm0 146h1v1h-1zm0 25h1v1h-1zm0 15h1v1h-1zm0 42h1v1h-1zm1 -281h1v1h-1zm0 4h1v1h-1zm0 8h1v1h-1zm0 10h1v1h-1zm0 96h1v1h-1zm0 25h1v1h-1zm0 29h1v1h-1zm0 29h1v1h-1zm0 9h1v1h-1zm0 2h1v1h-1zm0 45h1v1h-1zm0 26h1v1h-1zm0 46h1v1h-1zm1 -301h1v2h-1zm0 72h1v1h-1zm0 2h1v1h-1zm0 36h1v1h-1zm0 29h1v1h-1zm0 40h1v1h-1zm0 37h1v1h-1zm0 51h1v1h-1zm0 23h1v1h-1zm1 -346h1v1h-1zm0 3h1v1h-1zm0 23h1v1h-1zm0 28h1v1h-1zm0 35h1v1h-1zm0 40h1v1h-1zm0 12h1v1h-1zm1 -120h1v1h-1zm0 51h1v1h-1zm0 22h1v1h-1zm0 24h1v1h-1zm0 43h1v1h-1zm0 23h1v1h-1zm0 9h1v1h-1zm0 13h1v1h-1zm0 39h1v1h-1zm0 31h1v2h-1zm0 65h1v1h-1zm0 7h1v1h-1zm0 3h1v1h-1zm0 5h1v1h-1zm0 23h1v1h-1zm0 3h1v1h-1zm1 -329h1v1h-1zm0 13h1v1h-1zm0 73h1v1h-1zm0 19h1v1h-1zm0 34h1v1h-1zm0 16h1v1h-1zm0 16h1v1h-1zm0 22h1v1h-1zm0 19h1v1h-1zm0 18h1v1h-1zm0 47h1v1h-1zm0 27h1v1h-1zm0 2h1v1h-1zm0 4h1v2h-1zm1 -257h1v1h-1zm0 25h1v1h-1zm0 23h1v1h-1zm0 13h1v1h-1zm0 11h1v1h-1zm0 54h1v1h-1zm0 5h1v1h-1zm1 -157h1v1h-1zm0 23h1v1h-1zm0 93h1v1h-1zm0 56h1v1h-1zm0 94h1v1h-1zm1 -288h1v1h-1zm0 27h1v1h-1zm0 9h1v1h-1zm0 26h1v1h-1zm0 71h1v1h-1zm0 63h1v1h-1zm0 45h1v1h-1zm0 9h1v1h-1zm0 3h1v1h-1zm0 7h1v1h-1zm0 44h1v1h-1zm1 -363h1v1h-1zm0 64h1v1h-1zm0 84h1v1h-1zm0 64h1v1h-1zm1 -173h1v1h-1zm0 28h1v1h-1zm0 10h1v1h-1zm0 29h1v1h-1zm0 2h1v1h-1zm0 5h1v1h-1zm0 262h1v1h-1zm1 -344h1v1h-1zm0 47h1v1h-1zm0 25h1v1h-1zm0 51h1v1h-1zm0 119h1v1h-1zm0 3h1v1h-1zm0 43h1v1h-1zm0 3h1v1h-1zm0 39h1v1h-1zm0 11h1v1h-1zm1 -276h1v1h-1zm0 17h1v1h-1zm0 102h1v1h-1zm0 128h1v1h-1zm0 13h1v1h-1zm1 -250h1v1h-1zm0 35h1v1h-1zm0 164h1v1h-1zm0 9h1v1h-1zm0 18h1v1h-1zm0 4h1v1h-1zm0 24h1v1h-1zm1 -254h1v1h-1zm0 5h1v1h-1zm0 71h1v1h-1zm0 21h1v1h-1zm0 61h1v1h-1zm0 106h1v1h-1zm1 -265h1v1h-1zm0 129h1v1h-1zm0 43h1v1h-1zm0 99h1v1h-1zm1 -303h1v1h-1zm0 140h1v1h-1zm0 61h1v1h-1zm0 66h1v1h-1zm0 35h1v1h-1zm1 -346h1v1h-1zm0 7h1v1h-1zm0 13h1v1h-1zm0 10h1v1h-1zm0 32h1v1h-1zm0 10h1v1h-1zm0 17h1v1h-1zm0 7h1v1h-1zm0 91h1v1h-1zm0 53h1v1h-1zm1 -231h1v1h-1zm0 6h1v1h-1zm0 95h1v1h-1zm0 16h1v1h-1zm0 83h1v1h-1zm0 132h1v1h-1zm1 -371h1v1h-1zm0 26h1v1h-1zm0 9h1v1h-1zm0 42h1v1h-1zm0 110h1v1h-1zm0 24h1v1h-1zm0 12h1v1h-1zm0 28h1v1h-1zm0 3h1v1h-1zm0 28h1v1h-1zm0 4h1v1h-1zm1 -277h1v1h-1zm0 15h1v1h-1zm0 25h1v1h-1zm0 45h1v1h-1zm0 81h1v2h-1zm0 60h1v1h-1zm0 10h1v1h-1zm0 25h1v1h-1zm0 5h1v1h-1zm0 9h1v1h-1zm0 4h1v1h-1zm0 21h1v1h-1zm0 48h1v1h-1zm2 -315h1v1h-1zm0 15h1v1h-1zm0 61h1v1h-1zm0 94h1v1h-1zm0 20h1v1h-1zm0 15h1v1h-1zm0 3h1v1h-1zm2 -204h1v1h-1zm0 102h1v1h-1zm0 45h1v1h-1zm0 113h1v1h-1zm0 16h1v1h-1zm0 34h1v1h-1zm0 13h1v1h-1zm0 3h1v1h-1zm2 -337h1v1h-1zm0 36h1v1h-1zm0 128h1v1h-1zm0 23h1v1h-1zm0 17h1v1h-1zm0 133h1v1h-1zm0 3h1v1h-1zm2 -341h1v1h-1zm0 12h1v1h-1zm0 19h1v1h-1zm0 32h1v1h-1zm0 23h1v1h-1zm0 15h1v1h-1zm0 24h1v1h-1zm0 69h1v1h-1zm0 46h1v1h-1zm0 83h1v1h-1zm0 20h1v1h-1zm2 -205h1v1h-1zm0 136h1v1h-1zm0 8h1v1h-1zm2 -220h1v1h-1zm0 108h1v1h-1zm0 14h1v1h-1zm0 8h1v1h-1zm0 90h1v1h-1zm0 49h1v1h-1zm0 6h1v1h-1zm2 -344h1v1h-1zm0 75h1v1h-1zm0 13h1v1h-1zm0 54h1v1h-1zm0 31h1v1h-1zm0 63h1v1h-1zm0 80h1v1h-1zm0 27h1v1h-1zm5 -339h1v1h-1zm0 52h1v1h-1zm0 173h1v1h-1zm0 9h1v1h-1zm0 68h1v1h-1zm5 -116h1v1h-1zm0 37h1v1h-1zm0 34h1v1h-1zm0 31h1v1h-1zm0 34h1v1h-1zm5 -227h1v1h-1zm0 30h1v1h-1zm0 64h1v1h-1zm0 10h1v1h-1zm0 43h1v1h-1zm0 93h1v1h-1zm5 -366h1v1h-1zm0 14h1v1h-1zm0 9h1v1h-1zm0 31h1v1h-1zm0 92h1v1h-1zm0 123h1v1h-1zm0 35h1v1h-1zm0 72h1v1h-1zm5 -307h1v1h-1zm0 12h1v1h-1zm0 28h1v1h-1zm0 18h1v1h-1zm0 2h1v1h-1zm0 19h1v1h-1zm0 89h1v1h-1zm0 39h1v1h-1zm5 -240h1v2h-1zm0 41h1v1h-1zm0 221h1v1h-1z"/><path fill="#463480" d="M4 73h1v1h-1zm0 85h1v1h-1zm1 -144h1v1h-1zm1 -11h1v1h-1zm0 51h1v1h-1zm0 121h1v1h-1zm0 6h1v1h-1zm0 44h1v1h-1zm0 8h1v1h-1zm0 55h1v1h-1zm1 -266h1v1h-1zm0 147h1v1h-1zm0 112h1v1h-1zm0 13h1v1h-1zm0 22h1v1h-1zm0 44h1v1h-1zm1 -255h1v1h-1zm0 17h1v1h-1zm0 17h1v2h-1zm0 170h1v1h-1zm0 2h1v1h-1zm0 58h1v1h-1zm0 10h1v1h-1zm1 -359h1v1h-1zm0 179h1v1h-1zm0 5h1v1h-1zm0 24h1v1h-1zm0 111h1v1h-1zm1 -327h1v1h-1zm0 23h1v1h-1zm0 76h1v1h-1zm0 172h1v1h-1zm1 -67h1v1h-1zm0 20h1v1h-1zm0 8h1v1h-1zm0 3h1v1h-1zm0 87h1v1h-1zm0 5h1v1h-1zm0 18h1v1h-1zm0 15h1v1h-1zm0 16h1v1h-1zm1 -361h1v1h-1zm0 87h1v1h-1zm0 13h1v1h-1zm0 3h1v1h-1zm0 30h1v1h-1zm0 99h1v1h-1zm1 -237h1v1h-1zm0 47h1v1h-1zm0 19h1v1h-1zm0 51h1v1h-1zm0 76h1v1h-1zm0 23h1v1h-1zm0 37h1v1h-1zm0 38h1v1h-1zm0 25h1v1h-1zm1 -204h1v1h-1zm0 40h1v1h-1zm0 21h1v1h-1zm0 180h1v1h-1zm1 -328h1v1h-1zm0 58h1v1h-1zm0 21h1v1h-1zm0 35h1v1h-1zm0 38h1v1h-1zm0 39h1v1h-1zm0 9h1v1h-1zm0 6h1v1h-1zm0 14h1v1h-1zm0 3h1v1h-1zm0 35h1v1h-1zm0 58h1v1h-1zm0 2h1v1h-1zm0 3h1v1h-1zm1 -338h1v1h-1zm0 49h1v1h-1zm0 239h1v1h-1zm1 -201h1v1h-1zm0 10h1v1h-1zm0 6h1v1h-1zm0 58h1v1h-1zm0 5h1v1h-1zm0 47h1v1h-1zm0 86h1v1h-1zm1 -315h1v1h-1zm0 60h1v1h-1zm0 191h1v1h-1zm0 59h1v1h-1zm1 -281h1v1h-1zm0 25h1v1h-1zm0 16h1v1h-1zm0 34h1v1h-1zm0 8h1v1h-1zm0 109h1v1h-1zm0 55h1v1h-1zm0 23h1v1h-1zm0 18h1v1h-1zm0 2h1v1h-1zm1 -182h1v1h-1zm0 42h1v1h-1zm0 99h1v1h-1zm1 -260h1v1h-1zm0 6h1v1h-1zm0 14h1v1h-1zm0 8h1v1h-1zm0 11h1v1h-1zm0 21h1v1h-1zm0 67h1v1h-1zm0 12h1v1h-1zm0 31h1v1h-1zm0 3h1v1h-1zm0 30h1v1h-1zm0 45h1v1h-1zm1 -60h1v1h-1zm0 33h1v1h-1zm0 3h1v2h-1zm0 21h1v1h-1zm0 83h1v1h-1zm1 -246h1v1h-1zm0 20h1v1h-1zm1 13h1v1h-1zm0 156h1v1h-1zm0 15h1v1h-1zm0 28h1v1h-1zm0 7h1v1h-1zm1 28h1v1h-1zm1 -286h1v1h-1zm0 273h1v2h-1zm0 4h1v1h-1zm1 -276h1v1h-1zm0 40h1v1h-1zm0 99h1v1h-1zm0 16h1v1h-1zm0 88h1v1h-1zm0 35h1v1h-1zm1 -348h1v1h-1zm0 345h1v1h-1zm1 -294h1v1h-1zm0 88h1v1h-1zm0 59h1v1h-1zm0 114h1v1h-1zm0 21h1v1h-1zm1 -319h1v1h-1zm0 13h1v1h-1zm0 36h1v1h-1zm0 18h1v1h-1zm0 20h1v1h-1zm0 4h1v1h-1zm0 22h1v1h-1zm0 21h1v1h-1zm0 20h1v1h-1zm0 135h1v1h-1zm0 54h1v1h-1zm1 -317h1v1h-1zm0 3h1v1h-1zm0 192h1v1h-1zm0 118h1v1h-1zm0 5h1v1h-1zm1 -194h1v1h-1zm0 28h1v1h-1zm0 138h1v1h-1zm0 15h1v2h-1zm1 -249h1v1h-1zm0 243h1v1h-1zm1 -303h1v1h-1zm0 41h1v1h-1zm0 14h1v1h-1zm0 36h1v1h-1zm0 48h1v1h-1zm0 4h1v1h-1zm0 100h1v1h-1zm0 64h1v1h-1zm0 2h1v1h-1zm1 -336h1v1h-1zm0 32h1v1h-1zm0 17h1v1h-1zm0 73h1v1h-1zm0 65h1v1h-1zm0 34h1v1h-1zm0 120h1v1h-1zm1 -349h1v1h-1zm0 51h1v1h-1zm0 49h1v1h-1zm0 102h1v1h-1zm0 15h1v1h-1zm0 49h1v1h-1zm0 5h1v1h-1zm0 36h1v1h-1zm1 -322h1v1h-1zm0 14h1v1h-1zm0 16h1v1h-1zm0 86h1v1h-1zm1 46h1v1h-1zm0 57h1v1h-1zm0 35h1v1h-1zm1 -255h1v1h-1zm0 7h1v1h-1zm0 27h1v1h-1zm0 20h1v1h-1zm0 18h1v1h-1zm0 55h1v1h-1zm0 15h1v1h-1zm0 18h1v1h-1zm0 25h1v1h-1zm0 26h1v1h-1zm0 10h1v1h-1zm0 16h1v1h-1zm0 10h1v1h-1zm0 20h1v1h-1zm0 14h1v1h-1zm1 -256h1v1h-1zm0 25h1v1h-1zm0 95h1v1h-1zm0 13h1v1h-1zm0 31h1v1h-1zm0 78h1v1h-1zm0 92h1v1h-1zm1 -83h1v1h-1zm1 -259h1v1h-1zm0 103h1v1h-1zm0 103h1v1h-1zm0 141h1v1h-1zm1 -359h1v1h-1zm0 82h1v1h-1zm0 137h1v1h-1zm0 114h1v1h-1zm0 15h1v1h-1zm1 -245h1v1h-1zm0 71h1v1h-1zm1 -149h1v1h-1zm0 28h1v1h-1zm0 11h1v1h-1zm0 90h1v1h-1zm0 3h1v1h-1zm0 20h1v1h-1zm0 29h1v1h-1zm0 40h1v1h-1zm0 84h1v1h-1zm1 -302h1v1h-1zm0 58h1v1h-1zm0 93h1v1h-1zm0 60h1v1h-1zm1 -250h1v1h-1zm0 16h1v1h-1zm0 75h1v1h-1zm0 183h1v1h-1zm0 5h1v1h-1zm0 50h1v1h-1zm0 35h1v1h-1zm0 3h1v1h-1zm1 -358h1v1h-1zm0 192h1v1h-1zm0 21h1v1h-1zm0 140h1v1h-1zm1 -145h1v1h-1zm0 30h1v1h-1zm1 -196h1v1h-1zm0 72h1v1h-1zm0 32h1v1h-1zm0 46h1v1h-1zm0 10h1v1h-1zm0 3h1v1h-1zm0 61h1v1h-1zm1 -227h1v1h-1zm0 39h1v1h-1zm0 7h1v1h-1zm0 60h1v1h-1zm0 175h1v1h-1zm0 13h1v1h-1zm0 21h1v1h-1zm1 -312h1v1h-1zm0 141h1v1h-1zm0 50h1v1h-1zm0 98h1v1h-1zm0 23h1v1h-1zm1 -224h1v1h-1zm0 38h1v1h-1zm0 32h1v1h-1zm0 157h1v1h-1zm1 -325h1v1h-1zm0 80h1v1h-1zm0 248h1v1h-1zm0 3h1v1h-1zm1 -365h1v1h-1zm0 10h1v1h-1zm0 39h1v1h-1zm0 88h1v1h-1zm0 32h1v1h-1zm0 5h1v1h-1zm0 8h1v1h-1zm0 148h1v1h-1zm1 -151h1v1h-1zm0 106h1v1h-1zm0 78h1v1h-1zm1 -359h1v1h-1zm0 19h1v1h-1zm0 62h1v1h-1zm0 30h1v1h-1zm0 5h1v1h-1zm0 2h1v1h-1zm0 25h1v1h-1zm0 60h1v1h-1zm0 27h1v1h-1zm0 13h1v1h-1zm0 9h1v1h-1zm0 39h1v1h-1zm0 17h1v1h-1zm0 10h1v1h-1zm0 3h1v1h-1zm1 -281h1v1h-1zm0 28h1v1h-1zm0 36h1v1h-1zm0 7h1v1h-1zm0 62h1v1h-1zm0 26h1v1h-1zm0 41h1v1h-1zm0 91h1v1h-1zm1 -325h1v1h-1zm0 16h1v1h-1zm0 12h1v1h-1zm0 65h1v1h-1zm0 2h1v2h-1zm0 25h1v1h-1zm0 17h1v1h-1zm0 72h1v1h-1zm0 51h1v1h-1zm0 33h1v1h-1zm0 48h1v1h-1zm1 -351h1v1h-1zm0 3h1v1h-1zm0 79h1v1h-1zm0 20h1v1h-1zm0 11h1v1h-1zm0 208h1v1h-1zm0 44h1v1h-1zm1 -207h1v1h-1zm0 129h1v1h-1zm1 -146h1v1h-1zm0 52h1v1h-1zm0 19h1v1h-1zm0 34h1v1h-1zm0 85h1v1h-1zm0 7h1v1h-1zm0 5h1v1h-1zm1 -292h1v1h-1zm0 100h1v1h-1zm0 53h1v1h-1zm1 -215h1v1h-1zm0 93h1v1h-1zm0 79h1v1h-1zm0 3h1v1h-1zm0 42h1v1h-1zm0 10h1v1h-1zm1 -203h1v1h-1zm0 121h1v1h-1zm0 54h1v1h-1zm0 27h1v1h-1zm0 31h1v1h-1zm0 114h1v1h-1zm1 -363h1v1h-1zm0 39h1v1h-1zm0 24h1v1h-1zm0 13h1v1h-1zm0 10h1v1h-1zm0 43h1v1h-1zm0 26h1v1h-1zm0 17h1v1h-1zm0 43h1v1h-1zm0 16h1v1h-1zm0 13h1v1h-1zm0 22h1v1h-1zm0 57h1v1h-1zm0 8h1v2h-1zm1 -297h1v1h-1zm0 6h1v1h-1zm0 2h1v1h-1zm0 9h1v1h-1zm0 5h1v1h-1zm0 30h1v1h-1zm0 116h1v1h-1zm0 49h1v1h-1zm0 2h1v1h-1zm0 29h1v1h-1zm0 19h1v1h-1zm0 77h1v1h-1zm1 -284h1v1h-1zm0 26h1v1h-1zm1 75h1v1h-1zm0 164h1v1h-1zm1 -339h1v1h-1zm0 89h1v1h-1zm0 158h1v1h-1zm0 11h1v1h-1zm0 79h1v1h-1zm1 -348h1v1h-1zm0 96h1v1h-1zm0 69h1v1h-1zm1 4h1v1h-1zm0 46h1v1h-1zm0 49h1v1h-1zm0 88h1v1h-1zm1 -367h1v1h-1zm0 131h1v1h-1zm0 46h1v1h-1zm0 40h1v1h-1zm0 75h1v1h-1zm0 31h1v1h-1zm0 42h1v1h-1zm0 2h1v1h-1zm1 -297h1v1h-1zm0 26h1v1h-1zm0 7h1v1h-1zm0 106h1v1h-1zm1 -200h1v1h-1zm0 165h1v1h-1zm0 31h1v1h-1zm1 -126h1v1h-1zm0 33h1v1h-1zm0 14h1v1h-1zm0 100h1v1h-1zm1 -229h1v1h-1zm0 54h1v1h-1zm0 88h1v1h-1zm0 46h1v1h-1zm0 7h1v1h-1zm0 99h1v1h-1zm0 17h1v1h-1zm0 58h1v2h-1zm1 -235h1v1h-1zm0 137h1v1h-1zm1 -168h1v1h-1zm0 42h1v1h-1zm0 36h1v1h-1zm0 19h1v1h-1zm1 -198h1v1h-1zm0 7h1v1h-1zm0 13h1v1h-1zm0 9h1v1h-1zm0 18h1v1h-1zm0 74h1v1h-1zm0 55h1v1h-1zm0 43h1v1h-1zm0 34h1v1h-1zm0 4h1v1h-1zm0 87h1v1h-1zm0 3h1v1h-1zm1 -332h1v1h-1zm0 148h1v1h-1zm0 29h1v1h-1zm0 56h1v1h-1zm0 62h1v1h-1zm1 -283h1v1h-1zm0 141h1v1h-1zm0 23h1v1h-1zm0 46h1v1h-1zm0 67h1v1h-1zm0 9h1v1h-1zm1 -265h1v1h-1zm0 118h1v1h-1zm0 10h1v1h-1zm0 24h1v1h-1zm0 41h1v1h-1zm0 112h1v1h-1zm1 -292h1v1h-1zm0 54h1v1h-1zm0 25h1v1h-1zm0 155h1v1h-1zm0 59h1v1h-1zm0 10h1v1h-1zm1 -263h1v1h-1zm0 105h1v1h-1zm0 74h1v1h-1zm0 76h1v1h-1zm1 -295h1v1h-1zm1 -57h1v1h-1zm0 98h1v1h-1zm0 9h1v1h-1zm0 13h1v1h-1zm0 30h1v1h-1zm0 23h1v1h-1zm0 17h1v1h-1zm0 22h1v1h-1zm0 46h1v1h-1zm0 82h1v1h-1zm1 1h1v1h-1zm0 26h1v1h-1zm1 -66h1v1h-1zm1 -258h1v1h-1zm0 31h1v1h-1zm0 11h1v1h-1zm0 47h1v1h-1zm0 35h1v1h-1zm0 3h1v1h-1zm0 10h1v1h-1zm0 40h1v1h-1zm0 56h1v1h-1zm0 5h1v1h-1zm0 82h1v1h-1zm1 -348h1v1h-1zm0 7h1v1h-1zm0 69h1v1h-1zm0 87h1v1h-1zm0 95h1v1h-1zm0 63h1v1h-1zm1 -202h1v1h-1zm0 3h1v1h-1zm0 61h1v1h-1zm0 23h1v1h-1zm0 37h1v1h-1zm0 18h1v1h-1zm0 8h1v1h-1zm0 46h1v1h-1zm1 -309h1v1h-1zm0 26h1v1h-1zm0 68h1v1h-1zm0 45h1v1h-1zm0 12h1v1h-1zm0 20h1v1h-1zm0 60h1v1h-1zm0 28h1v1h-1zm0 83h1v1h-1zm1 -265h1v1h-1zm0 77h1v1h-1zm0 7h1v1h-1zm0 52h1v1h-1zm0 16h1v1h-1zm0 13h1v1h-1zm0 94h1v1h-1zm1 -215h1v1h-1zm0 53h1v1h-1zm0 56h1v1h-1zm0 5h1v1h-1zm0 51h1v1h-1zm1 -105h1v1h-1zm0 21h1v1h-1zm0 8h1v1h-1zm0 46h1v1h-1zm0 17h1v1h-1zm0 33h1v1h-1zm0 36h1v1h-1zm0 4h1v1h-1zm1 -351h1v1h-1zm0 52h1v1h-1zm0 36h1v1h-1zm0 14h1v1h-1zm0 31h1v1h-1zm0 13h1v1h-1zm1 -158h1v1h-1zm0 53h1v1h-1zm0 22h1v1h-1zm0 51h1v1h-1zm0 91h1v1h-1zm0 62h1v1h-1zm0 8h1v1h-1zm0 6h1v1h-1zm1 -92h1v1h-1zm0 105h1v1h-1zm0 63h1v1h-1zm1 -324h1v1h-1zm0 56h1v1h-1zm0 11h1v1h-1zm0 133h1v1h-1zm0 14h1v1h-1zm0 89h1v1h-1zm0 15h1v1h-1zm1 -259h1v1h-1zm0 8h1v1h-1zm0 19h1v1h-1zm0 120h1v1h-1zm0 11h1v1h-1zm0 41h1v1h-1zm0 50h1v1h-1zm1 -361h1v1h-1zm0 178h1v1h-1zm0 6h1v1h-1zm0 97h1v1h-1zm1 -182h1v1h-1zm0 34h1v1h-1zm0 16h1v1h-1zm0 6h1v1h-1zm0 45h1v1h-1zm0 138h1v1h-1zm0 34h1v1h-1zm1 -351h1v1h-1zm0 24h1v1h-1zm0 91h1v1h-1zm0 13h1v1h-1zm0 4h1v1h-1zm0 34h1v1h-1zm0 58h1v1h-1zm0 71h1v1h-1zm0 5h1v1h-1zm0 42h1v1h-1zm1 -275h1v1h-1zm0 94h1v1h-1zm0 184h1v1h-1zm1 -349h1v1h-1zm0 19h1v1h-1zm0 98h1v1h-1zm1 -67h1v1h-1zm0 49h1v1h-1zm0 78h1v1h-1zm0 64h1v1h-1zm0 39h1v1h-1zm0 34h1v1h-1zm0 29h1v1h-1zm0 12h1v1h-1zm1 -327h1v1h-1zm0 20h1v1h-1zm0 6h1v1h-1zm0 59h1v1h-1zm0 17h1v1h-1zm0 4h1v1h-1zm0 31h1v1h-1zm0 91h1v1h-1zm0 100h1v1h-1zm1 -238h1v1h-1zm0 7h1v1h-1zm0 14h1v1h-1zm0 156h1v1h-1zm0 50h1v1h-1zm0 11h1v1h-1zm1 -345h1v1h-1zm0 3h1v1h-1zm0 8h1v1h-1zm0 33h1v1h-1zm0 185h1v1h-1zm0 22h1v1h-1zm0 51h1v1h-1zm0 10h1v1h-1zm0 29h1v1h-1zm2 -350h1v1h-1zm0 51h1v1h-1zm0 18h1v2h-1zm0 21h1v1h-1zm0 14h1v1h-1zm0 91h1v2h-1zm0 23h1v1h-1zm0 28h1v1h-1zm0 95h1v1h-1zm2 -242h1v1h-1zm0 106h1v1h-1zm2 -137h1v1h-1zm0 122h1v1h-1zm0 157h1v1h-1zm2 -125h1v1h-1zm0 126h1v1h-1zm2 -353h1v1h-1zm0 46h1v1h-1zm0 45h1v1h-1zm0 26h1v1h-1zm0 124h1v1h-1zm0 108h1v1h-1zm0 10h1v1h-1zm2 -357h1v1h-1zm0 35h1v1h-1zm0 40h1v1h-1zm0 29h1v1h-1zm0 46h1v1h-1zm0 17h1v1h-1zm0 80h1v1h-1zm0 95h1v1h-1zm2 -346h1v1h-1zm0 25h1v1h-1zm0 129h1v1h-1zm0 26h1v1h-1zm0 115h1v1h-1zm0 55h1v1h-1zm0 12h1v1h-1zm5 -365h1v1h-1zm0 95h1v1h-1zm0 157h1v1h-1zm0 61h1v1h-1zm5 -309h1v1h-1zm0 52h1v1h-1zm0 62h1v1h-1zm0 25h1v1h-1zm0 187h1v1h-1zm0 8h1v1h-1zm0 6h1v1h-1zm5 -304h1v1h-1zm0 14h1v1h-1zm0 2h1v1h-1zm0 17h1v1h-1zm0 33h1v1h-1zm0 5h1v1h-1zm0 22h1v1h-1zm0 84h1v1h-1zm5 -72h1v1h-1zm0 108h1v1h-1zm0 39h1v1h-1zm0 22h1v1h-1zm0 50h1v1h-1zm5 -283h1v1h-1zm0 55h1v1h-1zm0 59h1v1h-1zm0 10h1v1h-1zm0 100h1v1h-1zm5 -218h1v1h-1z"/><path fill="#443983" d="M4 374h1v1h-1zm1 -258h1v1h-1zm0 171h1v1h-1zm0 16h1v1h-1zm0 24h1v1h-1zm0 45h1v1h-1zm1 -342h1v1h-1zm0 60h1v1h-1zm0 6h1v1h-1zm1 -35h1v1h-1zm0 86h1v1h-1zm0 232h1v1h-1zm1 -334h1v1h-1zm0 172h1v1h-1zm1 -82h1v1h-1zm0 21h1v1h-1zm0 168h1v1h-1zm0 44h1v1h-1zm1 -334h1v1h-1zm0 126h1v1h-1zm0 216h1v1h-1zm1 -280h1v1h-1zm0 23h1v1h-1zm0 195h1v1h-1zm1 -292h1v1h-1zm0 21h1v1h-1zm0 55h1v1h-1zm0 37h1v1h-1zm0 112h1v1h-1zm0 123h1v1h-1zm1 -99h1v1h-1zm0 104h1v1h-1zm1 -61h1v1h-1zm0 65h1v1h-1zm1 -216h1v1h-1zm0 26h1v1h-1zm0 129h1v1h-1zm1 -76h1v1h-1zm0 27h1v1h-1zm0 83h1v1h-1zm0 18h1v2h-1zm1 -338h1v1h-1zm0 57h1v1h-1zm0 197h1v1h-1zm1 -130h1v1h-1zm0 119h1v1h-1zm0 55h1v1h-1zm1 -238h1v1h-1zm0 76h1v1h-1zm0 11h1v1h-1zm0 69h1v1h-1zm0 3h1v1h-1zm0 36h1v1h-1zm0 18h1v1h-1zm0 65h1v1h-1zm1 -281h1v1h-1zm0 5h1v1h-1zm0 7h1v1h-1zm0 70h1v1h-1zm0 190h1v1h-1zm1 -360h1v1h-1zm0 42h1v1h-1zm0 95h1v1h-1zm0 190h1v1h-1zm0 32h1v1h-1zm0 16h1v1h-1zm1 -290h1v1h-1zm0 83h1v1h-1zm0 54h1v1h-1zm0 38h1v1h-1zm0 51h1v1h-1zm0 37h1v1h-1zm0 19h1v1h-1zm0 6h1v1h-1zm1 -315h1v1h-1zm0 124h1v1h-1zm0 84h1v1h-1zm0 41h1v1h-1zm0 5h1v1h-1zm0 24h1v1h-1zm1 -336h1v1h-1zm0 212h1v1h-1zm0 114h1v1h-1zm1 -109h1v1h-1zm0 58h1v1h-1zm0 94h1v1h-1zm0 12h1v1h-1zm0 2h1v2h-1zm1 -186h1v1h-1zm0 126h1v1h-1zm1 -300h1v1h-1zm0 90h1v1h-1zm0 33h1v1h-1zm0 82h1v1h-1zm0 42h1v1h-1zm0 41h1v1h-1zm0 44h1v1h-1zm0 4h1v1h-1zm1 -215h1v1h-1zm0 181h1v1h-1zm1 48h1v1h-1zm1 -360h1v1h-1zm0 13h1v1h-1zm0 65h1v1h-1zm0 42h1v1h-1zm0 138h1v1h-1zm0 16h1v1h-1zm0 9h1v1h-1zm0 28h1v1h-1zm0 35h1v1h-1zm0 18h1v1h-1zm0 2h1v1h-1zm1 -306h1v1h-1zm0 19h1v1h-1zm0 135h1v1h-1zm0 145h1v1h-1zm1 -328h1v1h-1zm0 186h1v1h-1zm0 113h1v1h-1zm0 35h1v1h-1zm1 -284h1v1h-1zm0 63h1v1h-1zm0 145h1v1h-1zm0 31h1v1h-1zm1 -329h1v1h-1zm0 135h1v1h-1zm0 43h1v1h-1zm0 97h1v1h-1zm0 67h1v1h-1zm0 27h1v1h-1zm1 -332h1v1h-1zm0 133h1v1h-1zm0 51h1v1h-1zm0 141h1v1h-1zm0 3h1v1h-1zm1 -297h1v1h-1zm0 28h1v1h-1zm0 35h1v1h-1zm0 11h1v1h-1zm0 79h1v1h-1zm1 -142h1v1h-1zm0 92h1v1h-1zm0 31h1v1h-1zm0 61h1v1h-1zm0 59h1v1h-1zm1 -232h1v1h-1zm1 -21h1v1h-1zm0 16h1v1h-1zm0 4h1v1h-1zm0 7h1v1h-1zm0 17h1v1h-1zm0 8h1v1h-1zm0 108h1v1h-1zm0 104h1v1h-1zm0 3h1v1h-1zm1 -329h1v1h-1zm0 94h1v1h-1zm0 23h1v1h-1zm1 -13h1v1h-1zm0 10h1v1h-1zm0 17h1v1h-1zm0 27h1v1h-1zm0 6h1v1h-1zm0 104h1v1h-1zm0 10h1v1h-1zm1 -64h1v1h-1zm1 46h1v1h-1zm0 38h1v1h-1zm1 -227h1v1h-1zm0 205h1v1h-1zm0 31h1v1h-1zm0 51h1v1h-1zm1 -235h1v1h-1zm0 61h1v1h-1zm0 22h1v1h-1zm0 13h1v1h-1zm0 12h1v1h-1zm0 23h1v1h-1zm1 -167h1v1h-1zm0 142h1v1h-1zm1 -227h1v1h-1zm0 34h1v1h-1zm0 143h1v1h-1zm0 161h1v1h-1zm0 11h1v1h-1zm1 -274h1v1h-1zm0 187h1v1h-1zm1 -185h1v1h-1zm0 53h1v1h-1zm0 202h1v1h-1zm1 -335h1v1h-1zm0 58h1v1h-1zm0 2h1v1h-1zm0 247h1v1h-1zm0 18h1v1h-1zm1 -326h1v1h-1zm0 17h1v1h-1zm0 31h1v1h-1zm0 230h1v1h-1zm0 35h1v1h-1zm1 -281h1v1h-1zm0 324h1v1h-1zm0 4h1v1h-1zm0 9h1v1h-1zm1 -317h1v1h-1zm0 92h1v1h-1zm0 44h1v1h-1zm0 108h1v1h-1zm0 11h1v1h-1zm1 -210h1v1h-1zm0 256h1v1h-1zm1 -265h1v1h-1zm0 55h1v1h-1zm0 58h1v1h-1zm0 45h1v1h-1zm0 58h1v1h-1zm0 44h1v1h-1zm0 13h1v1h-1zm1 -279h1v1h-1zm0 86h1v1h-1zm1 -121h1v1h-1zm0 80h1v1h-1zm0 173h1v1h-1zm0 10h1v1h-1zm0 3h1v1h-1zm0 21h1v1h-1zm0 32h1v1h-1zm0 8h1v1h-1zm0 3h1v1h-1zm1 -378h1v1h-1zm0 12h1v1h-1zm0 93h1v1h-1zm0 80h1v1h-1zm0 11h1v1h-1zm1 -77h1v1h-1zm0 7h1v1h-1zm0 50h1v1h-1zm0 62h1v1h-1zm1 -216h1v1h-1zm0 120h1v1h-1zm0 15h1v1h-1zm1 -101h1v1h-1zm0 302h1v1h-1zm1 -364h1v1h-1zm0 204h1v1h-1zm0 112h1v1h-1zm1 -277h1v1h-1zm0 333h1v1h-1zm1 -279h1v1h-1zm0 128h1v1h-1zm1 -129h1v1h-1zm0 192h1v1h-1zm0 39h1v1h-1zm0 38h1v1h-1zm1 -328h1v1h-1zm0 10h1v1h-1zm0 36h1v1h-1zm0 41h1v1h-1zm0 14h1v1h-1zm0 33h1v1h-1zm0 24h1v1h-1zm0 4h1v1h-1zm0 13h1v1h-1zm0 6h1v1h-1zm0 77h1v1h-1zm0 31h1v1h-1zm0 4h1v1h-1zm0 38h1v1h-1zm1 -332h1v1h-1zm0 10h1v1h-1zm0 39h1v1h-1zm0 17h1v1h-1zm0 40h1v1h-1zm0 20h1v1h-1zm0 20h1v1h-1zm0 85h1v1h-1zm0 18h1v1h-1zm1 -239h1v1h-1zm0 193h1v1h-1zm0 9h1v1h-1zm0 61h1v1h-1zm1 -238h1v1h-1zm0 166h1v1h-1zm1 -215h1v1h-1zm0 88h1v1h-1zm0 38h1v1h-1zm0 4h1v1h-1zm0 11h1v1h-1zm0 40h1v1h-1zm0 123h1v1h-1zm0 34h1v1h-1zm1 -80h1v1h-1zm1 13h1v1h-1zm0 55h1v1h-1zm1 -345h1v1h-1zm0 270h1v1h-1zm0 103h1v1h-1zm0 4h1v1h-1zm1 2h1v1h-1zm0 5h1v1h-1zm1 -159h1v1h-1zm1 32h1v1h-1zm1 -246h1v1h-1zm0 6h1v1h-1zm0 67h1v1h-1zm0 212h1v1h-1zm0 49h1v1h-1zm0 7h1v1h-1zm1 -229h1v1h-1zm0 105h1v1h-1zm0 11h1v1h-1zm0 128h1v1h-1zm1 -337h1v1h-1zm0 30h1v1h-1zm0 127h1v1h-1zm0 45h1v1h-1zm0 47h1v1h-1zm0 15h1v1h-1zm0 7h1v1h-1zm0 70h1v1h-1zm1 -349h1v1h-1zm0 109h1v1h-1zm0 63h1v1h-1zm1 -192h1v1h-1zm0 3h1v1h-1zm0 95h1v1h-1zm1 2h1v1h-1zm0 8h1v1h-1zm0 141h1v1h-1zm0 16h1v1h-1zm0 106h1v1h-1zm1 -59h1v1h-1zm0 47h1v1h-1zm0 6h1v1h-1zm1 -43h1v1h-1zm0 49h1v1h-1zm1 -6h1v2h-1zm1 -348h1v1h-1zm0 80h1v1h-1zm0 165h1v1h-1zm0 94h1v1h-1zm0 13h1v1h-1zm1 -372h1v1h-1zm0 63h1v1h-1zm0 208h1v1h-1zm0 10h1v1h-1zm0 5h1v1h-1zm1 -182h1v1h-1zm0 42h1v1h-1zm0 13h1v1h-1zm0 27h1v1h-1zm0 91h1v1h-1zm0 93h1v1h-1zm1 8h1v1h-1zm1 -245h1v1h-1zm1 55h1v1h-1zm0 61h1v1h-1zm0 44h1v1h-1zm0 76h1v1h-1zm1 -323h1v1h-1zm0 268h1v1h-1zm1 -235h1v1h-1zm0 20h1v1h-1zm0 155h1v1h-1zm0 34h1v1h-1zm0 33h1v1h-1zm0 2h1v1h-1zm0 39h1v1h-1zm0 7h1v1h-1zm1 -336h1v1h-1zm0 94h1v1h-1zm0 22h1v1h-1zm0 63h1v1h-1zm0 53h1v1h-1zm0 79h1v1h-1zm0 2h1v1h-1zm0 15h1v1h-1zm0 15h1v1h-1zm1 -333h1v1h-1zm0 45h1v1h-1zm0 24h1v1h-1zm0 101h1v1h-1zm0 124h1v1h-1zm0 19h1v1h-1zm0 15h1v2h-1zm0 4h1v1h-1zm1 -245h1v1h-1zm0 125h1v1h-1zm0 120h1v1h-1zm2 -323h1v1h-1zm0 8h1v1h-1zm0 53h1v1h-1zm0 93h1v1h-1zm0 27h1v1h-1zm0 56h1v1h-1zm0 5h1v1h-1zm0 21h1v1h-1zm0 63h1v1h-1zm1 -181h1v1h-1zm1 -152h1v1h-1zm0 6h1v1h-1zm0 29h1v1h-1zm0 60h1v1h-1zm1 -80h1v1h-1zm0 310h1v1h-1zm1 -199h1v1h-1zm0 24h1v1h-1zm0 6h1v1h-1zm0 168h1v1h-1zm1 -127h1v1h-1zm0 16h1v1h-1zm0 13h1v1h-1zm0 57h1v1h-1zm0 39h1v1h-1zm1 -337h1v1h-1zm0 27h1v1h-1zm0 50h1v1h-1zm0 116h1v1h-1zm0 72h1v1h-1zm1 -115h1v1h-1zm0 48h1v1h-1zm0 133h1v1h-1zm1 -242h1v1h-1zm0 39h1v1h-1zm0 211h1v1h-1zm0 7h1v1h-1zm1 -260h1v1h-1zm0 67h1v1h-1zm0 29h1v1h-1zm0 7h1v1h-1zm0 4h1v1h-1zm0 7h1v1h-1zm0 7h1v1h-1zm0 85h1v1h-1zm0 34h1v1h-1zm0 10h1v1h-1zm1 -367h1v1h-1zm0 220h1v1h-1zm1 -57h1v1h-1zm0 15h1v1h-1zm0 72h1v1h-1zm0 24h1v1h-1zm0 67h1v1h-1zm0 19h1v1h-1zm0 11h1v1h-1zm1 -242h1v1h-1zm0 64h1v1h-1zm0 83h1v1h-1zm0 59h1v1h-1zm0 40h1v1h-1zm2 -270h1v1h-1zm0 103h1v1h-1zm0 160h1v1h-1zm4 -363h1v1h-1zm0 303h1v1h-1zm2 -294h1v1h-1zm0 54h1v1h-1zm0 10h1v1h-1zm2 276h1v1h-1zm2 -123h1v1h-1zm2 -229h1v1h-1zm0 73h1v1h-1zm0 53h1v1h-1zm0 69h1v1h-1zm0 85h1v1h-1zm5 -134h1v1h-1zm0 16h1v1h-1zm0 56h1v1h-1zm0 123h1v1h-1zm5 -315h1v1h-1zm0 160h1v1h-1zm0 70h1v1h-1zm5 -93h1v1h-1zm0 170h1v1h-1zm5 -247h1v1h-1zm0 224h1v1h-1zm5 -305h1v1h-1zm0 24h1v1h-1zm5 322h1v1h-1z"/><path fill="#423f85" d="M4 197h1v1h-1zm1 95h1v1h-1zm0 79h1v1h-1zm1 -340h1v1h-1zm0 4h1v1h-1zm0 88h1v1h-1zm0 230h1v1h-1zm0 6h1v1h-1zm0 7h1v1h-1zm1 -309h1v1h-1zm0 218h1v1h-1zm0 70h1v1h-1zm0 25h1v1h-1zm0 6h1v1h-1zm1 -326h1v1h-1zm0 39h1v1h-1zm0 43h1v1h-1zm1 -30h1v1h-1zm0 267h1v1h-1zm1 -363h1v1h-1zm1 10h1v1h-1zm0 124h1v1h-1zm0 94h1v1h-1zm0 64h1v1h-1zm0 56h1v1h-1zm0 32h1v1h-1zm2 -258h1v1h-1zm0 52h1v1h-1zm0 115h1v1h-1zm1 -94h1v1h-1zm0 175h1v2h-1zm1 -189h1v1h-1zm0 70h1v1h-1zm0 25h1v1h-1zm0 94h1v1h-1zm1 -359h1v1h-1zm0 158h1v1h-1zm1 49h1v1h-1zm0 70h1v1h-1zm0 5h1v1h-1zm0 18h1v1h-1zm0 33h1v1h-1zm0 27h1v1h-1zm1 -175h1v1h-1zm0 8h1v1h-1zm0 117h1v1h-1zm1 -256h1v1h-1zm0 28h1v1h-1zm1 -57h1v1h-1zm0 241h1v1h-1zm0 87h1v2h-1zm0 6h1v1h-1zm1 -122h1v1h-1zm0 101h1v1h-1zm0 20h1v1h-1zm1 -352h1v1h-1zm0 149h1v1h-1zm0 39h1v1h-1zm0 161h1v1h-1zm1 -277h1v1h-1zm1 -25h1v1h-1zm0 177h1v1h-1zm1 -126h1v1h-1zm0 90h1v1h-1zm1 -112h1v1h-1zm0 39h1v1h-1zm0 220h1v1h-1zm1 -327h1v1h-1zm0 45h1v1h-1zm0 63h1v1h-1zm0 61h1v1h-1zm0 69h1v1h-1zm0 26h1v1h-1zm0 14h1v1h-1zm0 15h1v1h-1zm0 37h1v1h-1zm1 -316h1v1h-1zm1 129h1v1h-1zm1 -171h1v1h-1zm0 84h1v1h-1zm0 32h1v1h-1zm0 53h1v1h-1zm0 5h1v1h-1zm0 22h1v1h-1zm0 92h1v1h-1zm0 30h1v1h-1zm0 5h1v1h-1zm0 6h1v1h-1zm0 21h1v1h-1zm0 6h1v1h-1zm0 16h1v1h-1zm1 -342h1v1h-1zm0 167h1v1h-1zm0 44h1v1h-1zm0 133h1v1h-1zm2 -339h1v1h-1zm0 339h1v1h-1zm1 -331h1v1h-1zm0 230h1v1h-1zm2 -267h1v1h-1zm0 226h1v1h-1zm0 11h1v1h-1zm0 123h1v1h-1zm0 8h1v1h-1zm1 -272h1v1h-1zm0 94h1v1h-1zm0 120h1v1h-1zm1 -264h1v1h-1zm0 322h1v1h-1zm1 -137h1v1h-1zm0 74h1v1h-1zm0 51h1v1h-1zm0 6h1v1h-1zm1 -288h1v1h-1zm0 138h1v1h-1zm1 -90h1v1h-1zm0 13h1v1h-1zm0 72h1v1h-1zm0 47h1v1h-1zm2 32h1v1h-1zm0 64h1v1h-1zm0 16h1v1h-1zm1 -2h1v2h-1zm1 -301h1v1h-1zm0 125h1v1h-1zm0 76h1v1h-1zm0 96h1v1h-1zm1 -175h1v1h-1zm0 119h1v1h-1zm0 64h1v1h-1zm0 2h1v1h-1zm1 -248h1v1h-1zm0 56h1v1h-1zm0 143h1v1h-1zm1 -198h1v1h-1zm0 39h1v1h-1zm1 150h1v1h-1zm0 3h1v1h-1zm0 43h1v1h-1zm0 12h1v1h-1zm1 -332h1v1h-1zm0 65h1v1h-1zm0 13h1v1h-1zm1 87h1v1h-1zm0 44h1v1h-1zm0 57h1v1h-1zm1 -99h1v1h-1zm0 32h1v1h-1zm2 36h1v1h-1zm1 -269h1v1h-1zm0 167h1v1h-1zm0 32h1v1h-1zm0 2h1v1h-1zm1 -31h1v1h-1zm0 22h1v1h-1zm0 14h1v1h-1zm0 35h1v1h-1zm0 88h1v1h-1zm0 25h1v1h-1zm1 -272h1v1h-1zm0 8h1v1h-1zm0 4h1v1h-1zm0 93h1v1h-1zm0 7h1v1h-1zm0 59h1v1h-1zm0 26h1v1h-1zm1 87h1v1h-1zm1 -349h1v1h-1zm1 0h1v1h-1zm0 114h1v1h-1zm0 13h1v1h-1zm0 44h1v1h-1zm0 23h1v1h-1zm0 151h1v1h-1zm1 -124h1v1h-1zm1 -181h1v1h-1zm0 18h1v1h-1zm0 58h1v1h-1zm0 157h1v1h-1zm1 -279h1v1h-1zm0 342h1v1h-1zm1 -292h1v1h-1zm1 -48h1v1h-1zm0 145h1v1h-1zm0 102h1v1h-1zm0 87h1v1h-1zm1 -309h1v1h-1zm0 12h1v1h-1zm0 34h1v1h-1zm0 113h1v1h-1zm0 78h1v1h-1zm0 2h1v1h-1zm0 65h1v1h-1zm1 -188h1v1h-1zm0 59h1v1h-1zm0 30h1v1h-1zm0 129h1v2h-1zm1 -356h1v1h-1zm1 327h1v1h-1zm1 -21h1v1h-1zm1 40h1v1h-1zm1 -219h1v1h-1zm0 175h1v1h-1zm1 -167h1v1h-1zm0 2h1v1h-1zm0 132h1v1h-1zm1 -204h1v1h-1zm0 240h1v1h-1zm0 25h1v1h-1zm0 20h1v1h-1zm2 -286h1v1h-1zm1 -65h1v1h-1zm0 9h1v1h-1zm0 63h1v1h-1zm0 2h1v1h-1zm0 208h1v1h-1zm0 45h1v1h-1zm3 -267h1v1h-1zm0 39h1v1h-1zm0 183h1v1h-1zm0 69h1v1h-1zm1 -159h1v1h-1zm0 156h1v1h-1zm1 -2h1v1h-1zm1 -274h1v1h-1zm1 -89h1v1h-1zm0 334h1v1h-1zm2 -292h1v1h-1zm0 118h1v1h-1zm0 27h1v1h-1zm0 7h1v1h-1zm1 -193h1v1h-1zm0 148h1v1h-1zm1 99h1v1h-1zm0 4h1v1h-1zm1 114h1v1h-1zm1 -50h1v1h-1zm1 -187h1v1h-1zm0 228h1v1h-1zm1 -357h1v1h-1zm0 34h1v1h-1zm0 4h1v1h-1zm0 44h1v1h-1zm0 214h1v1h-1zm0 65h1v1h-1zm0 7h1v1h-1zm1 -317h1v1h-1zm0 113h1v1h-1zm0 41h1v1h-1zm0 13h1v1h-1zm0 3h1v1h-1zm1 -124h1v1h-1zm0 71h1v1h-1zm0 39h1v1h-1zm0 45h1v1h-1zm0 85h1v1h-1zm0 31h1v1h-1zm1 -24h1v1h-1zm1 -284h1v1h-1zm0 90h1v1h-1zm0 211h1v1h-1zm1 7h1v1h-1zm1 -247h1v1h-1zm0 45h1v1h-1zm0 130h1v1h-1zm0 41h1v1h-1zm0 27h1v1h-1zm1 -295h1v1h-1zm1 62h1v1h-1zm0 26h1v1h-1zm0 12h1v1h-1zm1 76h1v1h-1zm1 -144h1v1h-1zm0 89h1v1h-1zm1 168h1v1h-1zm1 -319h1v1h-1zm0 50h1v1h-1zm0 116h1v1h-1zm0 111h1v1h-1zm2 -325h1v1h-1zm0 19h1v1h-1zm0 344h1v2h-1zm1 -250h1v1h-1zm0 22h1v1h-1zm0 36h1v1h-1zm0 26h1v1h-1zm0 92h1v1h-1zm0 19h1v1h-1zm1 -220h1v1h-1zm0 62h1v1h-1zm0 22h1v1h-1zm1 -170h1v1h-1zm0 37h1v1h-1zm0 112h1v1h-1zm0 38h1v1h-1zm3 132h1v1h-1zm4 -25h1v1h-1zm0 67h1v1h-1zm2 -217h1v1h-1zm0 170h1v1h-1zm2 -286h1v1h-1zm0 339h1v1h-1zm2 -92h1v1h-1zm0 95h1v1h-1zm2 -282h1v1h-1zm0 35h1v1h-1zm10 227h1v1h-1zm5 -231h1v1h-1zm0 180h1v1h-1zm5 66h1v1h-1zm5 -135h1v1h-1zm0 27h1v1h-1zm0 118h1v1h-1zm5 1h1v1h-1z"/><path fill="#414487" d="M6 292h1v1h-1zm3 -59h1v1h-1zm0 112h1v1h-1zm0 19h1v1h-1zm2 -362h1v1h-1zm0 5h1v1h-1zm0 16h1v1h-1zm0 233h1v1h-1zm0 126h1v1h-1zm0 2h1v1h-1zm2 -119h1v1h-1zm0 62h1v1h-1zm2 -298h1v1h-1zm0 173h1v1h-1zm0 171h1v1h-1zm0 6h1v1h-1zm1 -338h1v1h-1zm0 183h1v1h-1zm1 -122h1v1h-1zm1 157h1v1h-1zm0 110h1v1h-1zm1 -250h1v1h-1zm0 81h1v1h-1zm0 63h1v1h-1zm0 111h1v1h-1zm2 -345h1v1h-1zm1 210h1v1h-1zm0 47h1v1h-1zm3 -25h1v1h-1zm1 -81h1v1h-1zm0 32h1v1h-1zm0 105h1v1h-1zm1 -77h1v1h-1zm0 136h1v1h-1zm1 -209h1v1h-1zm1 203h1v1h-1zm1 -325h1v1h-1zm0 137h1v1h-1zm0 16h1v1h-1zm0 17h1v1h-1zm0 35h1v1h-1zm0 17h1v1h-1zm0 94h1v1h-1zm1 26h1v1h-1zm1 -187h1v1h-1zm2 58h1v1h-1zm0 112h1v1h-1zm1 -123h1v1h-1zm1 -173h1v1h-1zm0 146h1v1h-1zm0 147h1v1h-1zm1 -332h1v1h-1zm0 179h1v1h-1zm0 171h1v1h-1zm1 -42h1v1h-1zm0 29h1v1h-1zm1 -342h1v1h-1zm0 125h1v1h-1zm0 146h1v1h-1zm1 -22h1v1h-1zm1 9h1v1h-1zm0 35h1v1h-1zm1 53h1v1h-1zm1 -5h1v1h-1zm1 -2h1v1h-1zm1 -287h1v1h-1zm0 101h1v1h-1zm0 64h1v1h-1zm2 17h1v1h-1zm0 102h1v1h-1zm1 -263h1v1h-1zm0 199h1v1h-1zm2 -126h1v1h-1zm0 203h1v1h-1zm1 -84h1v1h-1zm0 54h1v1h-1zm0 22h1v1h-1zm0 5h1v1h-1zm1 -181h1v1h-1zm1 -52h1v1h-1zm0 143h1v1h-1zm2 -65h1v1h-1zm0 82h1v1h-1zm1 -264h1v1h-1zm0 190h1v1h-1zm1 -109h1v1h-1zm0 57h1v1h-1zm0 74h1v1h-1zm0 5h1v1h-1zm0 86h1v1h-1zm1 -226h1v1h-1zm0 119h1v1h-1zm1 -211h1v1h-1zm0 256h1v1h-1zm1 -194h1v1h-1zm5 55h1v1h-1zm0 232h1v1h-1zm1 -343h1v1h-1zm0 170h1v1h-1zm0 107h1v1h-1zm0 54h1v1h-1zm1 -322h1v1h-1zm0 52h1v1h-1zm0 16h1v1h-1zm0 18h1v1h-1zm0 35h1v1h-1zm0 25h1v1h-1zm0 122h1v1h-1zm0 26h1v1h-1zm0 50h1v1h-1zm2 -209h1v1h-1zm1 17h1v1h-1zm0 124h1v1h-1zm1 2h1v1h-1zm0 48h1v1h-1zm1 7h1v1h-1zm1 -159h1v1h-1zm0 78h1v1h-1zm1 -143h1v1h-1zm1 106h1v1h-1zm1 121h1v1h-1zm1 -306h1v1h-1zm0 107h1v2h-1zm1 200h1v1h-1zm1 -44h1v2h-1zm2 -291h1v1h-1zm0 70h1v1h-1zm0 60h1v1h-1zm0 158h1v1h-1zm1 -230h1v1h-1zm0 123h1v1h-1zm0 16h1v1h-1zm0 101h1v1h-1zm0 32h1v1h-1zm2 -335h1v1h-1zm0 316h1v1h-1zm0 16h1v1h-1zm2 -359h1v1h-1zm0 115h1v1h-1zm0 18h1v1h-1zm1 42h1v1h-1zm0 42h1v1h-1zm0 147h1v1h-1zm1 -351h1v1h-1zm0 20h1v1h-1zm0 206h1v1h-1zm1 128h1v1h-1zm1 -297h1v1h-1zm0 289h1v1h-1zm1 -243h1v1h-1zm0 247h1v1h-1zm0 4h1v1h-1zm1 -75h1v1h-1zm0 70h1v1h-1zm1 -208h1v1h-1zm0 208h1v1h-1zm1 -281h1v1h-1zm0 2h1v1h-1zm0 35h1v1h-1zm0 247h1v1h-1zm1 -305h1v1h-1zm1 123h1v1h-1zm0 173h1v1h-1zm2 -254h1v1h-1zm0 164h1v1h-1zm0 65h1v1h-1zm0 30h1v1h-1zm1 -257h1v1h-1zm2 -57h1v1h-1zm1 290h1v1h-1zm0 18h1v1h-1zm1 14h1v1h-1zm1 -4h1v1h-1zm1 -216h1v1h-1zm0 63h1v1h-1zm0 43h1v1h-1zm1 107h1v1h-1zm1 -280h1v1h-1zm1 -62h1v1h-1zm0 137h1v1h-1zm0 208h1v1h-1zm1 -197h1v1h-1zm1 -49h1v1h-1zm2 138h1v1h-1zm0 109h1v1h-1zm2 -286h1v1h-1zm4 65h1v1h-1zm0 127h1v1h-1zm2 -154h1v1h-1zm0 62h1v1h-1zm2 32h1v1h-1zm7 -137h1v1h-1zm15 -37h1v1h-1zm0 132h1v1h-1zm0 57h1v1h-1zm10 145h1v1h-1z"/><path fill="#3f4889" d="M6 259h1v1h-1zm5 -80h1v1h-1zm0 124h1v1h-1zm2 -81h1v1h-1zm1 146h1v1h-1zm0 5h1v1h-1zm1 -363h1v1h-1zm0 122h1v1h-1zm0 7h1v1h-1zm1 168h1v1h-1zm0 72h1v1h-1zm1 -8h1v1h-1zm1 -211h1v1h-1zm2 213h1v1h-1zm0 6h1v1h-1zm1 -7h1v1h-1zm2 4h1v1h-1zm1 -7h1v1h-1zm1 -8h1v1h-1zm1 -314h1v1h-1zm0 4h1v1h-1zm3 328h1v1h-1zm1 -366h1v1h-1zm0 136h1v1h-1zm0 233h1v1h-1zm3 -7h1v1h-1zm2 -115h1v1h-1zm2 116h1v1h-1zm0 3h1v1h-1zm1 -234h1v1h-1zm1 -70h1v1h-1zm0 64h1v1h-1zm0 140h1v1h-1zm1 -66h1v1h-1zm1 -171h1v1h-1zm2 331h1v1h-1zm2 -322h1v1h-1zm1 45h1v1h-1zm2 43h1v1h-1zm0 238h1v1h-1zm3 -10h1v1h-1zm6 -320h1v1h-1zm0 45h1v1h-1zm0 65h1v1h-1zm0 224h1v1h-1zm0 8h1v1h-1zm2 -332h1v1h-1zm0 131h1v1h-1zm0 178h1v1h-1zm1 7h1v1h-1zm4 1h1v1h-1zm1 -232h1v1h-1zm0 26h1v1h-1zm0 211h1v1h-1zm1 -273h1v1h-1zm0 56h1v1h-1zm0 45h1v1h-1zm0 140h1v1h-1zm1 -130h1v1h-1zm0 118h1v1h-1zm0 49h1v1h-1zm1 -8h1v1h-1zm1 -1h1v1h-1zm2 -303h1v1h-1zm2 302h1v1h-1zm1 4h1v1h-1zm1 -7h1v1h-1zm2 6h1v1h-1zm2 -84h1v1h-1zm2 78h1v1h-1zm2 -5h1v1h-1zm1 11h1v1h-1zm4 -145h1v1h-1zm0 92h1v1h-1zm0 51h1v1h-1zm2 -2h1v1h-1zm1 -173h1v1h-1zm0 173h1v1h-1zm1 -26h1v1h-1zm2 -335h1v1h-1zm0 187h1v1h-1zm0 28h1v1h-1zm0 145h1v1h-1zm0 10h1v1h-1zm1 -272h1v1h-1zm1 -49h1v1h-1zm0 318h1v1h-1zm2 -178h1v1h-1zm2 -16h1v1h-1zm1 194h1v1h-1zm3 -3h1v1h-1zm1 -285h1v1h-1zm0 284h1v1h-1zm2 -209h1v1h-1zm1 50h1v1h-1zm1 39h1v1h-1zm1 124h1v1h-1zm2 -157h1v1h-1zm17 14h1v1h-1zm5 150h1v1h-1zm10 -168h1v1h-1zm0 148h1v1h-1z"/><path fill="#3d4e8a" d="M4 377h1v1h-1zm2 2h1v1h-1zm1 -26h1v1h-1zm3 26h1v1h-1zm2 -128h1v1h-1zm0 128h1v1h-1zm1 -10h1v1h-1zm2 -11h1v1h-1zm1 16h1v1h-1zm1 5h1v1h-1zm7 -325h1v1h-1zm0 26h1v1h-1zm2 296h1v1h-1zm1 -7h1v1h-1zm2 4h1v1h-1zm1 -221h1v1h-1zm0 61h1v1h-1zm1 148h1v1h-1zm0 27h1v1h-1zm3 -154h1v1h-1zm2 -103h1v1h-1zm0 241h1v1h-1zm0 7h1v1h-1zm2 0h1v1h-1zm1 -337h1v2h-1zm1 39h1v1h-1zm1 295h1v1h-1zm1 -3h1v1h-1zm3 -275h1v1h-1zm4 94h1v1h-1zm1 -109h1v1h-1zm1 268h1v1h-1zm0 24h1v1h-1zm6 7h1v1h-1zm1 -52h1v1h-1zm2 -102h1v1h-1zm1 47h1v1h-1zm1 -176h1v1h-1zm1 272h1v1h-1zm1 -1h1v2h-1zm2 -310h1v1h-1zm0 152h1v1h-1zm0 77h1v1h-1zm0 3h1v1h-1zm1 90h1v1h-1zm2 -3h1v1h-1zm1 -196h1v1h-1zm3 190h1v1h-1zm1 -1h1v1h-1zm3 -339h1v1h-1zm1 329h1v1h-1zm2 14h1v1h-1zm1 -225h1v1h-1zm0 227h1v1h-1zm1 -1h1v1h-1zm1 -167h1v1h-1zm3 168h1v1h-1zm1 -301h1v1h-1zm1 185h1v1h-1zm4 112h1v1h-1zm0 2h1v1h-1zm1 -217h1v1h-1zm0 220h1v1h-1zm1 -359h1v1h-1zm0 367h1v1h-1zm2 -16h1v1h-1zm0 6h1v1h-1zm2 -3h1v1h-1zm3 -17h1v1h-1zm2 -212h1v1h-1zm0 10h1v1h-1zm0 224h1v1h-1zm2 0h1v1h-1zm2 -217h1v1h-1zm0 214h1v1h-1zm2 -357h1v1h-1zm15 348h1v1h-1zm20 -296h1v1h-1z"/><path fill="#3b528b" d="M6 372h1v1h-1zm2 -139h1v1h-1zm3 126h1v1h-1zm0 22h1v1h-1zm5 -331h1v1h-1zm0 328h1v1h-1zm2 -4h1v1h-1zm1 -1h1v1h-1zm4 -270h1v1h-1zm0 272h1v1h-1zm6 -8h1v1h-1zm1 -131h1v1h-1zm6 -82h1v1h-1zm1 226h1v1h-1zm2 -378h1v1h-1zm0 202h1v1h-1zm0 172h1v1h-1zm5 -4h1v1h-1zm0 7h1v1h-1zm3 -135h1v1h-1zm0 134h1v1h-1zm1 0h1v1h-1zm7 -178h1v1h-1zm2 -185h1v1h-1zm5 85h1v1h-1zm2 273h1v1h-1zm1 4h1v1h-1zm1 -224h1v1h-1zm1 92h1v1h-1zm3 133h1v1h-1zm4 2h1v1h-1zm0 2h1v1h-1zm3 -279h1v1h-1zm1 271h1v1h-1zm2 4h1v1h-1zm1 -219h1v1h-1zm6 211h1v1h-1zm2 4h1v1h-1zm3 -1h1v1h-1zm1 -315h1v1h-1zm1 315h1v1h-1zm0 13h1v1h-1zm2 -8h1v1h-1zm6 -2h1v1h-1zm7 2h1v1h-1zm35 13h1v1h-1z"/><path fill="#39568c" d="M7 378h1v1h-1zm1 0h1v1h-1zm1 -3h1v1h-1zm7 1h1v1h-1zm6 0h1v1h-1zm2 0h1v1h-1zm1 10h1v1h-1zm2 -177h1v1h-1zm0 21h1v1h-1zm1 145h1v1h-1zm2 -253h1v1h-1zm0 257h1v1h-1zm1 -4h1v1h-1zm3 -2h1v1h-1zm3 0h1v1h-1zm4 2h1v1h-1zm3 -4h1v1h-1zm0 4h1v1h-1zm1 -273h1v1h-1zm3 274h1v1h-1zm9 -367h1v1h-1zm1 369h1v1h-1zm1 -49h1v1h-1zm3 46h1v1h-1zm3 -1h1v1h-1zm5 5h1v1h-1zm4 -6h1v1h-1zm0 12h1v1h-1zm2 -7h1v1h-1zm6 1h1v1h-1zm1 -2h1v1h-1zm3 2h1v1h-1zm4 0h1v1h-1zm2 -4h1v1h-1zm15 3h1v1h-1zm1 0h1v1h-1zm1 -203h1v1h-1zm0 201h1v1h-1zm5 3h1v1h-1zm2 0h1v1h-1z"/><path fill="#375b8d" d="M5 376h1v1h-1zm12 -257h1v1h-1zm0 257h1v1h-1zm4 1h1v1h-1zm9 8h1v2h-1zm15 -6h1v1h-1zm5 -5h1v1h-1zm14 3h1v1h-1zm2 -2h1v1h-1zm2 0h1v1h-1zm4 4h1v1h-1zm2 -8h1v1h-1zm0 6h1v1h-1zm0 6h1v1h-1zm2 -4h1v1h-1zm3 -13h1v1h-1zm11 12h1v1h-1zm39 8h1v1h-1zm25 5h1v1h-1z"/><path fill="#355f8d" d="M6 373h1v1h-1zm5 14h1v1h-1zm2 -10h1v1h-1zm6 2h1v1h-1zm1 -1h1v1h-1zm1 1h1v1h-1zm6 0h1v1h-1zm2 -4h1v1h-1zm2 -1h1v1h-1zm0 2h1v1h-1zm14 2h1v1h-1zm5 -1h1v1h-1zm1 -4h1v1h-1zm10 6h1v1h-1zm1 0h1v1h-1zm3 -4h1v1h-1zm2 2h1v1h-1zm11 -4h1v1h-1zm8 3h1v2h-1zm8 12h1v1h-1zm5 -13h1v1h-1zm6 1h1v1h-1zm3 0h1v1h-1zm21 12h1v1h-1zm20 -10h1v1h-1z"/><path fill="#32648e" d="M7 374h1v1h-1zm12 1h1v1h-1zm3 2h1v1h-1zm13 2h1v1h-1zm5 0h1v1h-1zm5 -6h1v1h-1zm12 7h1v1h-1zm7 -1h1v1h-1zm3 9h1v1h-1zm6 -10h1v1h-1zm2 -1h1v1h-1zm5 -2h1v1h-1zm3 4h1v1h-1zm1 -3h1v1h-1zm3 1h1v1h-1zm7 -2h1v1h-1zm0 10h1v1h-1zm3 -12h1v1h-1zm2 0h1v1h-1zm1 6h1v1h-1zm2 0h1v1h-1zm3 -1h1v1h-1zm3 -1h1v1h-1zm10 1h1v1h-1zm4 1h1v1h-1zm17 9h1v1h-1z"/><path fill="#31688e" d="M5 379h1v1h-1zm20 4h1v1h-1zm9 -4h1v1h-1zm2 -6h1v1h-1zm1 1h1v1h-1zm3 1h1v1h-1zm6 0h1v1h-1zm2 4h1v1h-1zm5 0h1v1h-1zm4 7h1v1h-1zm9 -7h1v1h-1zm1 16h1v1h-1zm5 -17h1v1h-1zm2 -2h1v1h-1zm3 0h1v1h-1zm3 1h1v1h-1zm5 1h1v1h-1zm6 -1h1v1h-1zm3 -1h1v1h-1zm3 -1h1v2h-1zm5 0h1v1h-1zm0 3h1v1h-1zm10 1h1v1h-1zm17 11h1v1h-1zm5 -3h1v1h-1zm0 4h1v1h-1zm20 -6h1v1h-1z"/><path fill="#2f6c8e" d="M22 375h1v1h-1zm4 4h1v1h-1zm2 -3h1v1h-1zm3 7h1v1h-1zm8 -4h1v1h-1zm5 -3h1v1h-1zm6 -3h1v1h-1zm5 6h1v1h-1zm2 6h1v1h-1zm0 6h1v1h-1zm0 4h1v1h-1zm5 -18h1v1h-1zm1 -4h1v1h-1zm2 -2h1v1h-1zm17 5h1v1h-1zm8 -1h1v2h-1zm4 18h1v1h-1zm5 -13h1v1h-1zm2 1h1v1h-1zm5 -2h1v1h-1zm3 1h1v1h-1zm20 9h1v1h-1zm10 -4h1v1h-1z"/><path fill="#2d718e" d="M17 375h1v1h-1zm5 4h1v1h-1zm2 0h1v1h-1zm6 8h1v1h-1zm12 -10h1v1h-1zm3 -1h1v1h-1zm6 -2h1v1h-1zm1 3h1v1h-1zm4 2h1v1h-1zm1 4h1v1h-1zm9 -5h1v1h-1zm2 1h1v1h-1zm4 -4h1v1h-1zm19 0h1v1h-1zm9 7h1v1h-1zm1 -7h1v1h-1zm2 1h1v1h-1zm1 -1h1v1h-1zm0 4h1v1h-1zm3 1h1v1h-1zm13 -1h1v1h-1zm4 -1h1v1h-1z"/><path fill="#2b748e" d="M9 378h1v1h-1zm7 -3h1v1h-1zm3 2h1v1h-1zm12 17h1v1h-1zm13 -17h1v1h-1zm8 -3h1v1h-1zm20 2h1v1h-1zm15 0h1v1h-1zm1 1h1v1h-1zm9 0h1v1h-1zm4 -1h1v1h-1zm5 6h1v1h-1zm33 8h1v1h-1zm5 2h1v1h-1z"/><path fill="#2a788e" d="M18 377h1v1h-1zm11 1h1v1h-1zm7 -7h1v1h-1zm1 17h1v1h-1zm5 -9h1v1h-1zm12 -1h1v1h-1zm7 -2h1v1h-1zm1 0h1v1h-1zm0 2h1v1h-1zm1 -2h1v1h-1zm6 2h1v1h-1zm1 -2h1v1h-1zm9 0h1v1h-1zm15 15h1v1h-1zm6 -11h1v1h-1zm1 2h1v1h-1zm1 -1h1v2h-1zm27 4h1v1h-1zm0 8h1v1h-1zm20 -13h1v1h-1z"/><path fill="#287c8e" d="M4 386h1v1h-1zm3 -9h1v1h-1zm18 19h1v1h-1zm3 -22h1v1h-1zm1 -2h1v1h-1zm0 5h1v1h-1zm4 -3h1v1h-1zm0 2h1v1h-1zm5 0h1v1h-1zm2 -2h1v1h-1zm0 3h1v1h-1zm7 -1h1v1h-1zm2 1h1v1h-1zm5 2h1v1h-1zm17 -2h1v1h-1zm3 13h1v1h-1zm2 -4h1v1h-1zm5 -7h1v1h-1zm1 7h1v1h-1zm5 -12h1v1h-1zm5 3h1v1h-1zm6 -1h1v1h-1zm5 6h1v1h-1zm1 8h1v1h-1zm3 -13h1v1h-1zm3 -1h1v1h-1zm29 11h1v1h-1z"/><path fill="#27808e" d="M5 380h1v1h-1zm3 1h1v1h-1zm6 0h1v1h-1zm1 0h1v1h-1zm2 -7h1v1h-1zm0 8h1v1h-1zm1 -3h1v1h-1zm1 7h1v1h-1zm6 2h1v1h-1zm1 -10h1v1h-1zm3 4h1v1h-1zm1 7h1v1h-1zm6 -9h1v1h-1zm0 6h1v1h-1zm4 -14h1v1h-1zm6 4h1v1h-1zm9 5h1v1h-1zm1 0h1v1h-1zm14 -1h1v1h-1zm3 -8h1v1h-1zm0 8h1v1h-1zm1 16h1v1h-1zm5 -19h1v1h-1zm1 5h1v1h-1zm12 4h1v1h-1zm3 -7h1v1h-1zm1 2h1v1h-1zm2 5h1v1h-1zm1 -10h1v1h-1zm1 5h1v1h-1zm1 -1h1v1h-1zm6 -1h1v1h-1zm3 2h1v1h-1zm12 -3h1v1h-1zm12 11h1v1h-1zm10 1h1v1h-1zm10 -7h1v1h-1z"/><path fill="#25848e" d="M11 394h1v1h-1zm3 -8h1v1h-1zm6 0h1v1h-1zm7 -8h1v1h-1zm2 2h1v1h-1zm1 12h1v1h-1zm1 -3h1v2h-1zm0 6h1v1h-1zm4 -13h1v1h-1zm1 -4h1v1h-1zm3 2h1v1h-1zm0 6h1v1h-1zm6 -6h1v1h-1zm4 2h1v1h-1zm2 -3h1v1h-1zm2 2h1v2h-1zm8 1h1v1h-1zm8 0h1v1h-1zm2 0h1v1h-1zm8 -2h1v1h-1zm2 6h1v1h-1zm2 0h1v1h-1zm6 0h1v1h-1zm2 -6h1v1h-1zm8 -2h1v1h-1zm3 2h1v1h-1zm1 1h1v1h-1zm1 -1h1v1h-1zm4 -1h1v1h-1zm1 3h1v1h-1zm15 0h1v1h-1zm5 5h1v1h-1zm5 1h1v1h-1zm20 1h1v1h-1z"/><path fill="#23888e" d="M6 376h1v1h-1zm0 10h1v1h-1zm1 -11h1v1h-1zm0 7h1v1h-1zm2 -5h1v1h-1zm5 1h1v1h-1zm1 0h1v1h-1zm1 2h1v1h-1zm1 1h1v1h-1zm0 5h1v1h-1zm6 -5h1v1h-1zm6 5h1v1h-1zm2 7h1v1h-1zm2 -14h1v1h-1zm0 3h1v1h-1zm7 -4h1v1h-1zm5 3h1v1h-1zm4 5h1v1h-1zm7 -1h1v1h-1zm3 -5h1v1h-1zm4 -1h1v1h-1zm2 7h1v1h-1zm3 0h1v1h-1zm6 5h1v1h-1zm4 -12h1v1h-1zm5 -1h1v1h-1zm1 8h1v1h-1zm1 -7h1v1h-1zm3 1h1v1h-1zm1 9h1v1h-1zm1 -8h1v1h-1zm1 -2h1v1h-1zm2 7h1v1h-1zm6 -5h1v1h-1zm7 0h1v1h-1zm0 9h1v1h-1zm1 -8h1v1h-1zm3 -2h1v1h-1zm0 2h1v1h-1zm4 -1h1v1h-1zm15 10h1v2h-1zm5 1h1v1h-1zm10 3h1v1h-1z"/><path fill="#228c8d" d="M6 378h1v1h-1zm1 -5h1v1h-1zm2 0h1v1h-1zm0 6h1v1h-1zm6 1h1v1h-1zm3 0h1v1h-1zm1 1h1v1h-1zm4 -3h1v1h-1zm1 4h1v1h-1zm3 4h1v1h-1zm8 -5h1v1h-1zm1 0h1v1h-1zm1 9h1v1h-1zm0 2h1v1h-1zm1 -12h1v1h-1zm4 -2h1v1h-1zm5 3h1v1h-1zm2 -1h1v1h-1zm2 -2h1v1h-1zm3 3h1v2h-1zm2 -1h1v1h-1zm4 -1h1v1h-1zm0 2h1v1h-1zm0 5h1v1h-1zm1 -8h1v1h-1zm5 3h1v1h-1zm2 -3h1v1h-1zm4 3h1v1h-1zm3 -3h1v1h-1zm2 2h1v1h-1zm4 0h1v1h-1zm3 -1h1v1h-1zm1 3h1v1h-1zm7 -2h1v1h-1zm7 3h1v1h-1zm5 -1h1v1h-1zm2 -2h1v1h-1zm1 3h1v1h-1zm1 -1h1v1h-1zm26 8h1v1h-1zm10 -1h1v1h-1zm5 -6h1v1h-1z"/><path fill="#21918c" d="M6 371h1v1h-1zm3 5h1v1h-1zm0 4h1v1h-1zm4 1h1v1h-1zm3 1h1v1h-1zm1 -2h1v1h-1zm2 0h1v1h-1zm1 1h1v1h-1zm2 4h1v1h-1zm3 2h1v1h-1zm7 -1h1v1h-1zm1 -6h1v1h-1zm0 6h1v1h-1zm7 0h1v1h-1zm3 -8h1v2h-1zm1 2h1v1h-1zm4 2h1v1h-1zm2 -2h1v1h-1zm6 2h1v1h-1zm1 10h1v1h-1zm1 -4h1v1h-1zm1 -10h1v2h-1zm1 4h1v1h-1zm10 4h1v1h-1zm1 -6h1v1h-1zm7 -2h1v1h-1zm1 1h1v1h-1zm0 7h1v1h-1zm2 -1h1v1h-1zm1 -7h1v1h-1zm8 2h1v1h-1zm1 6h1v1h-1zm3 6h1v1h-1zm3 -11h1v1h-1zm1 -1h1v1h-1zm1 6h1v1h-1zm5 -5h1v1h-1zm4 0h1v1h-1zm1 0h1v1h-1zm3 0h1v1h-1zm27 5h1v1h-1zm10 -4h1v1h-1z"/><path fill="#1f948c" d="M4 385h1v1h-1zm4 -5h1v1h-1zm1 2h1v1h-1zm1 -2h1v1h-1zm3 -1h1v1h-1zm5 -1h1v1h-1zm5 1h1v1h-1zm1 2h1v1h-1zm4 0h1v1h-1zm3 20h1v1h-1zm1 -21h1v1h-1zm9 -1h1v1h-1zm1 2h1v1h-1zm12 5h1v1h-1zm5 -4h1v1h-1zm1 -4h1v1h-1zm5 3h1v1h-1zm0 4h1v1h-1zm4 1h1v1h-1zm7 -5h1v2h-1zm2 1h1v1h-1zm3 -1h1v2h-1zm6 1h1v1h-1zm6 -2h1v1h-1zm5 1h1v1h-1zm5 -1h1v1h-1zm2 0h1v1h-1zm1 4h1v1h-1zm8 -1h1v1h-1zm2 1h1v1h-1zm0 6h1v1h-1zm2 -11h1v1h-1zm2 1h1v1h-1zm24 17h1v1h-1zm5 -16h1v1h-1zm5 6h1v1h-1zm0 5h1v1h-1z"/><path fill="#1f988b" d="M5 381h1v2h-1zm1 -6h1v1h-1zm0 6h1v1h-1zm1 -9h1v1h-1zm0 8h1v1h-1zm22 1h1v1h-1zm2 19h1v1h-1zm1 -19h1v1h-1zm2 -3h1v1h-1zm1 8h1v1h-1zm4 -8h1v1h-1zm1 7h1v1h-1zm7 -6h1v1h-1zm1 1h1v1h-1zm2 1h1v1h-1zm4 -1h1v1h-1zm1 2h1v1h-1zm1 -4h1v1h-1zm11 21h1v1h-1zm3 -17h1v1h-1zm5 -2h1v1h-1zm2 -1h1v1h-1zm9 7h1v1h-1zm2 -7h1v1h-1zm3 2h1v1h-1zm3 9h1v1h-1zm2 -8h1v1h-1zm11 -1h1v1h-1zm1 5h1v1h-1zm4 -4h1v1h-1zm2 2h1v1h-1zm4 -4h1v1h-1zm0 8h1v1h-1zm4 -1h1v1h-1zm7 8h1v1h-1zm15 -1h1v1h-1z"/><path fill="#1e9c89" d="M4 379h1v1h-1zm1 -4h1v1h-1zm0 3h1v1h-1zm1 -1h1v1h-1zm6 4h1v1h-1zm2 -1h1v1h-1zm4 1h1v1h-1zm3 -1h1v1h-1zm3 -2h1v1h-1zm1 11h1v1h-1zm3 -10h1v1h-1zm10 2h1v1h-1zm2 1h1v1h-1zm6 -2h1v1h-1zm6 0h1v1h-1zm13 -2h1v1h-1zm10 3h1v1h-1zm11 0h1v1h-1zm1 -3h1v1h-1zm10 0h1v1h-1zm0 2h1v1h-1zm5 4h1v1h-1zm2 -1h1v1h-1zm0 2h1v1h-1zm1 -4h1v1h-1zm3 -1h1v1h-1zm1 10h1v1h-1zm7 -8h1v1h-1zm6 6h1v1h-1zm2 -9h1v1h-1zm5 17h1v1h-1zm10 -5h1v1h-1zm15 -5h1v1h-1zm0 2h1v1h-1z"/><path fill="#1fa088" d="M5 374h1v1h-1zm4 0h1v1h-1zm1 12h1v1h-1zm1 11h1v1h-1zm1 -17h1v1h-1zm1 6h1v1h-1zm8 -5h1v1h-1zm0 5h1v1h-1zm1 0h1v1h-1zm10 -8h1v1h-1zm6 8h1v1h-1zm2 -6h1v1h-1zm1 -2h1v1h-1zm11 8h1v1h-1zm1 -8h1v1h-1zm2 0h1v1h-1zm9 4h1v1h-1zm11 -3h1v1h-1zm3 2h1v1h-1zm1 0h1v1h-1zm1 7h1v1h-1zm2 -1h1v1h-1zm2 -9h1v1h-1zm0 3h1v1h-1zm3 -2h1v2h-1zm2 2h1v1h-1zm10 1h1v1h-1zm1 3h1v1h-1zm5 -3h1v1h-1zm1 4h1v1h-1zm2 -3h1v1h-1zm0 2h1v1h-1zm1 0h1v1h-1zm11 -3h1v1h-1zm0 7h1v1h-1zm9 5h1v1h-1zm10 -2h1v1h-1zm15 -8h1v1h-1zm0 6h1v1h-1z"/><path fill="#20a486" d="M5 377h1v1h-1zm1 -7h1v1h-1zm5 20h1v1h-1zm2 -12h1v1h-1zm6 4h1v1h-1zm2 2h1v1h-1zm5 2h1v1h-1zm8 -6h1v2h-1zm1 -2h1v1h-1zm3 0h1v1h-1zm6 0h1v1h-1zm13 15h1v1h-1zm5 -13h1v2h-1zm1 -2h1v1h-1zm1 0h1v1h-1zm4 2h1v1h-1zm3 1h1v1h-1zm6 0h1v1h-1zm1 -1h1v1h-1zm12 6h1v1h-1zm2 -5h1v1h-1zm1 0h1v1h-1zm2 -3h1v1h-1zm1 2h1v1h-1zm2 -2h1v1h-1zm1 12h1v1h-1zm3 -5h1v1h-1zm3 1h1v1h-1zm4 -3h1v1h-1zm5 4h1v1h-1zm2 -9h1v1h-1zm0 3h1v1h-1zm2 9h1v1h-1zm4 -7h1v1h-1zm17 6h1v1h-1zm10 -5h1v1h-1z"/><path fill="#22a884" d="M6 374h1v1h-1zm3 7h1v1h-1zm1 0h1v1h-1zm1 11h1v1h-1zm9 -12h1v1h-1zm8 -2h1v1h-1zm0 11h1v1h-1zm3 2h1v1h-1zm2 -10h1v1h-1zm4 6h1v1h-1zm4 -7h1v1h-1zm0 2h1v1h-1zm2 -1h1v1h-1zm0 5h1v1h-1zm1 0h1v1h-1zm1 -4h1v1h-1zm1 -1h1v1h-1zm1 1h1v1h-1zm0 5h1v1h-1zm2 -6h1v1h-1zm2 0h1v1h-1zm4 6h1v1h-1zm1 0h1v1h-1zm0 4h1v1h-1zm7 -10h1v1h-1zm3 5h1v1h-1zm2 -4h1v1h-1zm5 0h1v1h-1zm2 4h1v1h-1zm2 -8h1v1h-1zm5 2h1v1h-1zm2 9h1v1h-1zm1 -8h1v1h-1zm0 5h1v1h-1zm5 -4h1v1h-1zm1 -4h1v1h-1zm4 3h1v1h-1zm2 5h1v1h-1zm2 -1h1v1h-1zm2 0h1v1h-1zm3 -1h1v1h-1zm2 1h1v1h-1zm6 -1h1v1h-1zm4 -4h1v1h-1zm8 5h1v1h-1zm5 12h1v1h-1zm5 -4h1v1h-1zm5 1h1v1h-1zm5 -1h1v1h-1z"/><path fill="#25ac82" d="M4 381h1v2h-1zm6 -3h1v1h-1zm3 4h1v1h-1zm8 -4h1v1h-1zm1 0h1v1h-1zm0 4h1v1h-1zm1 -2h1v1h-1zm1 0h1v1h-1zm6 8h1v1h-1zm0 5h1v1h-1zm4 -7h1v1h-1zm1 -6h1v1h-1zm6 6h1v1h-1zm1 -6h1v1h-1zm9 2h1v1h-1zm0 4h1v1h-1zm6 12h1v1h-1zm4 -18h1v2h-1zm3 6h1v1h-1zm6 -5h1v1h-1zm3 5h1v1h-1zm6 -8h1v1h-1zm4 2h1v1h-1zm4 6h1v1h-1zm2 -8h1v1h-1zm0 2h1v1h-1zm4 -2h1v1h-1zm0 4h1v1h-1zm2 -2h1v1h-1zm6 6h1v1h-1zm2 2h1v1h-1zm2 -5h1v1h-1zm3 7h1v1h-1zm4 -12h1v1h-1zm0 2h1v1h-1zm2 2h1v1h-1zm4 0h1v1h-1zm4 4h1v1h-1zm2 -5h1v1h-1zm25 5h1v1h-1zm5 -4h1v1h-1z"/><path fill="#2ab07f" d="M5 373h1v1h-1zm2 8h1v1h-1zm1 1h1v1h-1zm2 1h1v1h-1zm1 10h1v1h-1zm3 -11h1v1h-1zm3 -4h1v1h-1zm4 9h1v1h-1zm2 -5h1v1h-1zm3 0h1v1h-1zm1 -2h1v1h-1zm5 2h1v1h-1zm6 0h1v1h-1zm2 -1h1v1h-1zm5 5h1v1h-1zm1 0h1v1h-1zm4 -8h1v1h-1zm0 4h1v1h-1zm2 -4h1v1h-1zm15 15h1v2h-1zm5 -11h1v1h-1zm0 4h1v1h-1zm2 3h1v1h-1zm6 -3h1v1h-1zm2 4h1v1h-1zm2 -8h1v1h-1zm8 -4h1v1h-1zm7 19h1v1h-1zm4 -13h1v1h-1zm0 2h1v1h-1zm5 2h1v1h-1zm2 -3h1v1h-1zm10 7h1v1h-1z"/><path fill="#2fb47c" d="M4 378h1v1h-1zm0 2h1v1h-1zm8 -2h1v1h-1zm0 4h1v1h-1zm7 -4h1v1h-1zm4 8h1v1h-1zm5 -4h1v1h-1zm5 -4h1v1h-1zm1 4h1v1h-1zm5 -1h1v1h-1zm2 7h1v1h-1zm2 -8h1v1h-1zm3 -2h1v1h-1zm1 8h1v1h-1zm1 -5h1v1h-1zm2 5h1v1h-1zm2 -4h1v1h-1zm4 7h1v1h-1zm2 -9h1v1h-1zm5 0h1v1h-1zm0 6h1v1h-1zm4 6h1v1h-1zm13 -12h1v1h-1zm0 9h1v1h-1zm2 -8h1v1h-1zm2 -1h1v1h-1zm1 0h1v1h-1zm3 7h1v1h-1zm1 -5h1v1h-1zm3 3h1v1h-1zm8 3h1v1h-1zm7 -3h1v1h-1zm7 -7h1v1h-1zm4 5h1v1h-1zm2 -5h1v1h-1zm14 18h1v1h-1z"/><path fill="#35b779" d="M13 380h1v1h-1zm8 2h1v1h-1zm4 8h1v1h-1zm1 -10h1v1h-1zm2 0h1v1h-1zm9 9h1v1h-1zm2 -7h1v1h-1zm10 -4h1v1h-1zm10 3h1v1h-1zm0 5h1v1h-1zm3 0h1v1h-1zm1 -4h1v1h-1zm1 -2h1v1h-1zm1 0h1v1h-1zm3 1h1v1h-1zm1 11h1v1h-1zm2 -14h1v1h-1zm6 8h1v1h-1zm9 -6h1v1h-1zm2 -2h1v1h-1zm4 4h1v1h-1zm3 0h1v1h-1zm10 8h1v1h-1zm2 -6h1v1h-1zm1 0h1v1h-1zm6 6h1v1h-1zm4 -9h1v1h-1zm4 0h1v1h-1zm2 10h1v1h-1zm15 4h1v1h-1z"/><path fill="#3bbb75" d="M7 384h1v1h-1zm3 -2h1v1h-1zm17 -1h1v1h-1zm6 3h1v1h-1zm2 0h1v1h-1zm2 17h1v1h-1zm6 -19h1v1h-1zm2 1h1v1h-1zm2 -3h1v1h-1zm7 3h1v1h-1zm2 1h1v1h-1zm5 0h1v1h-1zm3 -1h1v1h-1zm1 -1h1v1h-1zm4 -1h1v1h-1zm3 2h1v2h-1zm1 -2h1v1h-1zm3 3h1v1h-1zm12 -3h1v1h-1zm3 1h1v1h-1zm6 0h1v1h-1zm1 5h1v1h-1zm3 -3h1v1h-1zm1 -1h1v1h-1zm0 4h1v1h-1zm3 -3h1v1h-1zm2 3h1v1h-1zm13 -6h1v1h-1zm2 10h1v1h-1zm17 2h1v1h-1z"/><path fill="#42be71" d="M4 383h1v1h-1zm16 -1h1v1h-1zm6 -1h1v1h-1zm1 1h1v1h-1zm2 3h1v1h-1zm11 -2h1v1h-1zm4 -2h1v1h-1zm0 2h1v1h-1zm2 -1h1v1h-1zm4 3h1v1h-1zm1 5h1v1h-1zm1 -9h1v1h-1zm0 3h1v1h-1zm3 -4h1v1h-1zm2 14h1v1h-1zm6 -11h1v1h-1zm1 -2h1v1h-1zm2 -1h1v1h-1zm1 9h1v1h-1zm21 -7h1v1h-1zm12 2h1v1h-1zm0 6h1v1h-1zm1 -3h1v1h-1zm1 3h1v1h-1zm1 0h1v1h-1zm6 -4h1v1h-1zm13 -4h1v1h-1zm22 16h1v1h-1z"/><path fill="#4cc26c" d="M6 383h1v1h-1zm5 12h1v1h-1zm1 -12h1v1h-1zm10 -2h1v1h-1zm3 11h1v1h-1zm2 -7h1v1h-1zm4 7h1v1h-1zm5 -10h1v1h-1zm1 12h1v1h-1zm6 -10h1v1h-1zm8 3h1v1h-1zm0 4h1v1h-1zm7 -10h1v1h-1zm4 1h1v1h-1zm4 0h1v1h-1zm0 2h1v1h-1zm3 -1h1v1h-1zm3 -3h1v1h-1zm2 12h1v1h-1zm2 -12h1v1h-1zm2 3h1v1h-1zm2 -2h1v1h-1zm3 1h1v1h-1zm15 0h1v1h-1zm2 1h1v1h-1zm0 3h1v1h-1zm1 -3h1v1h-1zm2 0h1v1h-1zm11 -3h1v1h-1zm8 0h1v1h-1zm0 4h1v1h-1zm2 -4h1v1h-1z"/><path fill="#54c568" d="M11 391h1v1h-1zm18 -7h1v1h-1zm1 6h1v1h-1zm0 13h1v1h-1zm11 -22h1v1h-1zm4 4h1v1h-1zm6 -5h1v1h-1zm7 4h1v1h-1zm2 0h1v1h-1zm11 -1h1v1h-1zm11 8h1v1h-1zm1 -7h1v1h-1zm8 0h1v1h-1zm2 -1h1v1h-1zm15 4h1v1h-1zm2 -4h1v1h-1zm0 5h1v1h-1z"/><path fill="#5cc863" d="M9 383h1v1h-1zm19 4h1v1h-1zm37 0h1v1h-1zm5 -4h1v1h-1zm0 2h1v1h-1zm4 3h1v1h-1zm1 -5h1v1h-1zm12 1h1v1h-1zm1 0h1v1h-1zm13 4h1v1h-1zm2 -3h1v1h-1zm1 1h1v1h-1zm2 1h1v1h-1zm3 0h1v1h-1zm1 -1h1v1h-1z"/><path fill="#67cc5c" d="M14 384h1v1h-1zm7 4h1v1h-1zm9 3h1v1h-1zm3 -6h1v1h-1zm13 -1h1v1h-1zm5 -1h1v1h-1zm11 0h1v1h-1zm5 8h1v1h-1zm1 -8h1v1h-1zm6 4h1v1h-1zm2 -4h1v1h-1zm1 1h1v1h-1zm3 -1h1v1h-1zm2 0h1v1h-1zm2 1h1v1h-1zm6 0h1v1h-1zm4 5h1v1h-1zm0 5h1v1h-1zm11 -9h1v1h-1zm2 1h1v1h-1zm17 0h1v1h-1z"/><path fill="#70cf57" d="M9 385h1v1h-1zm31 -1h1v1h-1zm9 15h1v1h-1zm8 -3h1v1h-1zm2 -13h1v1h-1zm4 1h1v1h-1zm23 0h1v1h-1zm3 -1h1v1h-1zm29 3h1v1h-1z"/><path fill="#7ad151" d="M14 385h1v1h-1zm6 -2h1v1h-1zm27 1h1v1h-1zm2 0h1v1h-1zm4 -1h1v1h-1zm12 1h1v1h-1zm14 0h1v1h-1zm7 12h1v1h-1zm7 -12h1v1h-1zm12 3h1v1h-1zm11 1h1v1h-1z"/><path fill="#84d44b" d="M17 389h1v1h-1zm24 -5h1v1h-1zm10 0h1v1h-1zm1 -1h1v1h-1zm14 0h1v1h-1zm15 1h1v1h-1zm5 -1h1v1h-1zm10 0h1v1h-1zm0 2h1v1h-1zm3 2h1v2h-1zm17 -2h1v1h-1z"/><path fill="#8ed645" d="M32 383h1v1h-1zm12 1h1v1h-1zm10 4h1v1h-1zm16 -4h1v1h-1zm9 -1h1v1h-1zm4 7h1v1h-1zm7 -5h1v1h-1zm20 2h1v1h-1zm4 4h1v1h-1zm8 -2h1v1h-1zm2 4h1v1h-1z"/><path fill="#9bd93c" d="M28 388h1v1h-1zm19 -5h1v1h-1zm18 14h1v1h-1zm11 -7h1v1h-1zm8 -7h1v1h-1zm13 2h1v1h-1zm1 -2h1v1h-1zm20 15h1v1h-1z"/><path fill="#a5db36" d="M5 384h1v1h-1zm2 -1h1v1h-1zm12 1h1v1h-1zm9 0h1v1h-1zm4 1h1v1h-1zm2 -1h1v1h-1zm34 3h1v1h-1zm12 -2h1v1h-1zm2 -1h1v1h-1zm3 -1h1v1h-1zm7 0h1v1h-1zm3 1h1v1h-1zm27 1h1v1h-1zm27 2h1v1h-1z"/><path fill="#b0dd2f" d="M5 385h1v1h-1zm8 -2h1v1h-1zm34 2h1v1h-1zm3 -2h1v2h-1zm47 0h1v1h-1zm19 6h1v1h-1zm4 -6h1v1h-1zm0 4h1v1h-1zm4 1h1v1h-1z"/><path fill="#bddf26" d="M39 384h1v1h-1zm25 0h1v1h-1zm25 0h1v1h-1zm2 -1h1v1h-1zm25 12h1v1h-1z"/><path fill="#c8e020" d="M12 384h1v1h-1zm50 0h1v1h-1zm11 0h1v1h-1zm41 1h1v1h-1zm10 -2h1v1h-1z"/><path fill="#d2e21b" d="M55 384h1v1h-1zm32 -1h1v1h-1zm11 1h1v1h-1zm22 6h1v1h-1z"/><path fill="#fde725" d="M4 384h1v1h-1zm0 3h1v20h-1zm1 -4h1v1h-1zm0 3h1v21h-1zm1 -6h1v1h-1zm0 2h1v1h-1zm0 2h1v2h-1zm0 3h1v20h-1zm1 -2h1v22h-1zm1 -2h1v24h-1zm1 1h1v1h-1zm0 2h1v21h-1zm1 -2h1v2h-1zm0 3h1v20h-1zm1 9h1v1h-1zm0 2h1v9h-1zm1 -13h1v22h-1zm1 -1h1v2h-1zm0 3h1v20h-1zm1 -4h1v1h-1zm0 4h1v20h-1zm1 -5h1v25h-1zm1 -1h1v1h-1zm0 2h1v24h-1zm1 0h1v3h-1zm0 4h1v2h-1zm0 3h1v17h-1zm1 -8h1v25h-1zm1 1h1v1h-1zm0 2h1v1h-1zm0 2h1v20h-1zm1 -3h1v2h-1zm0 3h1v20h-1zm1 -4h1v1h-1zm0 2h1v1h-1zm0 4h1v18h-1zm1 -9h1v1h-1zm0 3h1v2h-1zm0 4h1v20h-1zm1 -4h1v3h-1zm0 4h1v20h-1zm1 -4h1v24h-1zm1 8h1v1h-1zm0 2h1v3h-1zm0 4h1v10h-1zm1 -14h1v3h-1zm0 4h1v20h-1zm1 -4h1v2h-1zm0 4h1v20h-1zm1 -4h1v1h-1zm0 2h1v2h-1zm0 5h1v17h-1zm1 -7h1v1h-1zm0 4h1v20h-1zm1 7h1v9h-1zm0 10h1v3h-1zm1 -8h1v4h-1zm0 6h1v5h-1zm1 -18h1v1h-1zm0 3h1v20h-1zm1 -4h1v1h-1zm0 4h1v20h-1zm1 -4h1v1h-1zm0 2h1v1h-1zm0 2h1v20h-1zm1 -4h1v1h-1zm0 2h1v1h-1zm0 2h1v20h-1zm1 -4h1v3h-1zm0 4h1v20h-1zm1 4h1v1h-1zm0 2h1v1h-1zm0 2h1v6h-1zm0 7h1v5h-1zm1 -19h1v3h-1zm0 4h1v20h-1zm1 -4h1v1h-1zm0 2h1v1h-1zm0 2h1v20h-1zm1 0h1v20h-1zm1 -4h1v1h-1zm0 2h1v1h-1zm0 2h1v1h-1zm0 2h1v18h-1zm1 -7h1v25h-1zm1 1h1v1h-1zm0 2h1v1h-1zm0 2h1v20h-1zm1 -5h1v1h-1zm0 3h1v1h-1zm0 2h1v20h-1zm1 -3h1v1h-1zm0 3h1v20h-1zm1 -4h1v1h-1zm0 2h1v1h-1zm0 2h1v20h-1zm1 1h1v19h-1zm1 -5h1v24h-1zm1 0h1v1h-1zm0 2h1v1h-1zm0 2h1v12h-1zm0 13h1v7h-1zm1 -13h1v20h-1zm1 -2h1v1h-1zm0 3h1v2h-1zm0 4h1v15h-1zm1 -7h1v1h-1zm0 2h1v20h-1zm1 -7h1v1h-1zm0 4h1v23h-1zm1 0h1v2h-1zm0 3h1v1h-1zm0 2h1v18h-1zm1 -6h1v1h-1zm0 2h1v2h-1zm0 3h1v19h-1zm1 -5h1v1h-1zm0 3h1v1h-1zm0 2h1v1h-1zm0 2h1v1h-1zm0 2h1v15h-1zm1 5h1v1h-1zm0 2h1v8h-1zm1 -17h1v2h-1zm0 3h1v3h-1zm0 4h1v18h-1zm1 -5h1v2h-1zm0 3h1v20h-1zm1 -7h1v1h-1zm0 3h1v1h-1zm0 2h1v1h-1zm0 2h1v20h-1zm1 -4h1v1h-1zm0 2h1v22h-1zm1 0h1v1h-1zm0 2h1v20h-1zm1 -2h1v1h-1zm0 2h1v20h-1zm1 -2h1v1h-1zm0 2h1v20h-1zm1 -4h1v1h-1zm0 5h1v9h-1zm0 10h1v9h-1zm1 -13h1v1h-1zm0 2h1v20h-1zm1 3h1v1h-1zm0 6h1v3h-1zm0 4h1v7h-1zm1 -16h1v2h-1zm0 4h1v19h-1zm1 -8h1v1h-1zm0 4h1v2h-1zm0 3h1v5h-1zm0 6h1v14h-1zm1 -6h1v20h-1zm1 -3h1v23h-1zm1 1h1v1h-1zm0 2h1v20h-1zm1 -4h1v1h-1zm0 2h1v1h-1zm0 2h1v20h-1zm1 6h1v3h-1zm0 4h1v10h-1zm1 -15h1v1h-1zm0 2h1v2h-1zm0 3h1v20h-1zm1 -2h1v1h-1zm0 2h1v3h-1zm0 4h1v16h-1zm1 -9h1v2h-1zm0 3h1v1h-1zm0 2h1v20h-1zm1 -3h1v23h-1zm1 -2h1v1h-1zm0 3h1v1h-1zm0 2h1v20h-1zm1 -3h1v1h-1zm0 3h1v1h-1zm0 3h1v17h-1zm1 -7h1v1h-1zm0 4h1v20h-1zm1 -5h1v1h-1zm0 3h1v1h-1zm0 3h1v2h-1zm0 4h1v15h-1zm1 -11h1v1h-1zm0 2h1v1h-1zm0 2h1v1h-1zm0 2h1v3h-1zm0 4h1v16h-1zm1 -6h1v1h-1zm0 2h1v2h-1zm0 3h1v17h-1zm1 -6h1v2h-1zm0 3h1v20h-1zm1 -5h1v1h-1zm0 3h1v1h-1zm0 2h1v9h-1zm0 10h1v10h-1zm1 -16h1v1h-1zm0 4h1v1h-1zm0 2h1v20h-1zm1 -4h1v1h-1zm0 2h1v2h-1zm0 3h1v19h-1zm1 -3h1v1h-1zm0 2h1v2h-1zm0 3h1v17h-1zm1 -7h1v1h-1zm0 4h1v20h-1zm1 -2h1v1h-1zm0 2h1v20h-1zm1 -3h1v1h-1zm0 3h1v20h-1zm1 -2h1v1h-1zm0 2h1v20h-1zm1 8h1v12h-1zm1 -12h1v1h-1zm0 2h1v22h-1zm1 -1h1v1h-1zm0 2h1v21h-1zm1 -2h1v1h-1zm0 3h1v20h-1zm1 -2h1v1h-1zm0 3h1v19h-1zm1 -4h1v1h-1zm0 5h1v1h-1zm0 2h1v6h-1zm0 7h1v9h-1zm1 -11h1v1h-1zm0 2h1v1h-1zm0 2h1v16h-1zm1 -2h1v18h-1zm1 -3h1v1h-1zm0 2h1v2h-1zm0 3h1v16h-1zm1 -4h1v1h-1zm0 2h1v1h-1zm0 2h1v16h-1zm1 -4h1v3h-1zm0 4h1v16h-1zm1 -3h1v2h-1zm0 3h1v16h-1zm1 -8h1v1h-1zm0 5h1v2h-1zm0 3h1v16h-1zm1 -3h1v19h-1zm1 1h1v1h-1zm0 2h1v16h-1zm1 -7h1v1h-1zm0 4h1v2h-1zm0 3h1v16h-1zm1 -7h1v1h-1zm0 5h1v18h-1zm2 -6h1v1h-1zm0 2h1v22h-1zm2 1h1v1h-1zm0 2h1v2h-1zm0 4h1v15h-1zm2 -9h1v1h-1zm0 3h1v2h-1zm0 5h1v4h-1zm0 5h1v11h-1zm2 -12h1v2h-1zm0 3h1v1h-1zm0 2h1v1h-1zm0 2h1v7h-1zm0 8h1v8h-1zm2 -15h1v3h-1zm0 4h1v1h-1zm0 3h1v1h-1zm0 2h1v14h-1zm2 -3h1v1h-1zm0 2h1v15h-1zm2 -8h1v1h-1zm0 3h1v1h-1zm0 2h1v2h-1zm0 3h1v1h-1zm0 2h1v13h-1zm5 4h1v9h-1zm5 -4h1v2h-1zm0 3h1v10h-1zm5 -1h1v11h-1zm5 0h1v1h-1zm0 3h1v8h-1zm5 -14h1v1h-1zm0 3h1v19h-1zm5 5h1v14h-1z"/></g></g><g fill="none" stroke="#000" stroke-width="1.11" stroke-linecap="square"><rect x="98.4" y="85.46" width="864" height="737.04"/><line x1="179.4" y1="822.5" x2="179.4" y2="827.36"/><line x1="287.4" y1="822.5" x2="287.4" y2="827.36"/><line x1="395.4" y1="822.5" x2="395.4" y2="827.36"/><line x1="503.4" y1="822.5" x2="503.4" y2="827.36"/><line x1="611.4" y1="822.5" x2="611.4" y2="827.36"/><line x1="719.4" y1="822.5" x2="719.4" y2="827.36"/><line x1="827.4" y1="822.5" x2="827.4" y2="827.36"/><line x1="935.4" y1="822.5" x2="935.4" y2="827.36"/><line x1="93.54" y1="810.46" x2="98.4" y2="810.46"/><line x1="93.54" y1="689.63" x2="98.4" y2="689.63"/><line x1="93.54" y1="568.79" x2="98.4" y2="568.79"/><line x1="93.54" y1="447.96" x2="98.4" y2="447.96"/><line x1="93.54" y1="327.13" x2="98.4" y2="327.13"/><line x1="93.54" y1="206.29" x2="98.4" y2="206.29"/><line x1="93.54" y1="85.46" x2="98.4" y2="85.46"/><line x1="1052.5" y1="822.5" x2="1057.36" y2="822.5"/><line x1="1052.5" y1="699.66" x2="1057.36" y2="699.66"/><line x1="1052.5" y1="576.82" x2="1057.36" y2="576.82"/><line x1="1052.5" y1="453.98" x2="1057.36" y2="453.98"/><line x1="1052.5" y1="331.14" x2="1057.36" y2="331.14"/><line x1="1052.5" y1="208.3" x2="1057.36" y2="208.3"/><line x1="1052.5" y1="85.46" x2="1057.36" y2="85.46"/></g><rect x="1016.3" y="85.46" width="36.2" height="737.04" fill="url(#cb)" stroke="#000" stroke-width="1.11"/><text x="529.6" y="43.75" font-size="29.2" text-anchor="middle" textLength="741" lengthAdjust="spacingAndGlyphs">IRF Kiruna Ionosonde KI167 2026-01-06 20:15:00&#160; UT</text><text x="529.4" y="76.25" font-size="29.2" text-anchor="middle" textLength="595" lengthAdjust="spacingAndGlyphs">noise_floor=-120.92 (dB) peak SNR=97.86</text><text x="179.4" y="847.9" font-size="22" text-anchor="middle">2</text><text x="287.4" y="847.9" font-size="22" text-anchor="middle">4</text><text x="395.4" y="847.9" font-size="22" text-anchor="middle">6</text><text x="503.4" y="847.9" font-size="22" text-anchor="middle">8</text><text x="611.4" y="847.9" font-size="22" text-anchor="middle">10</text><text x="719.4" y="847.9" font-size="22" text-anchor="middle">12</text><text x="827.4" y="847.9" font-size="22" text-anchor="middle">14</text><text x="935.4" y="847.9" font-size="22" text-anchor="middle">16</text><text x="87.2" y="818.06" font-size="22" text-anchor="end">0</text><text x="87.2" y="697.23" font-size="22" text-anchor="end" textLength="39" lengthAdjust="spacingAndGlyphs">100</text><text x="87.2" y="576.39" font-size="22" text-anchor="end" textLength="39" lengthAdjust="spacingAndGlyphs">200</text><text x="87.2" y="455.56" font-size="22" text-anchor="end" textLength="39" lengthAdjust="spacingAndGlyphs">300</text><text x="87.2" y="334.73" font-size="22" text-anchor="end" textLength="39" lengthAdjust="spacingAndGlyphs">400</text><text x="87.2" y="213.89" font-size="22" text-anchor="end" textLength="39" lengthAdjust="spacingAndGlyphs">500</text><text x="87.2" y="93.06" font-size="22" text-anchor="end" textLength="39" lengthAdjust="spacingAndGlyphs">600</text><text x="1063.5" y="830.3" font-size="22">0</text><text x="1063.5" y="707.46" font-size="22">5</text><text x="1063.5" y="584.62" font-size="22">10</text><text x="1063.5" y="461.78" font-size="22">15</text><text x="1063.5" y="338.94" font-size="22">20</text><text x="1063.5" y="216.1" font-size="22">25</text><text x="1063.5" y="93.26" font-size="22">30</text><text x="529.3" y="873.7" font-size="22" text-anchor="middle" textLength="175" lengthAdjust="spacingAndGlyphs">Frequency (MHz)</text><text transform="translate(37.8,455.4) rotate(-90)" font-size="22" text-anchor="middle" textLength="190" lengthAdjust="spacingAndGlyphs">Virtual range (km)</text><text transform="translate(1108.7,454.6) rotate(-90)" font-size="22" text-anchor="middle">SNR (dB)</text></svg></body></html>
